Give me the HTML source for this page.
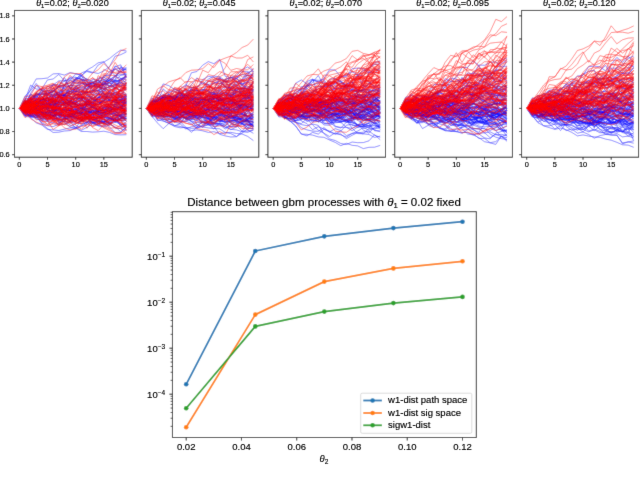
<!DOCTYPE html><html><head><meta charset="utf-8"><style>
html,body{margin:0;padding:0;background:#fff;width:640px;height:480px;overflow:hidden}
svg{display:block}
#tx{position:absolute;left:0;top:0;filter:url(#tf)}
#w{width:640px;height:480px;filter:url(#bf)}
text{font-family:"Liberation Sans", sans-serif;fill:#000;stroke:#000;stroke-width:0.15px}
</style></head><body><svg width="0" height="0" style="position:absolute"><filter id="bf" x="0" y="0" width="100%" height="100%"><feConvolveMatrix order="3" kernelMatrix="1 8 1 8 64 8 1 8 1" divisor="100" edgeMode="duplicate"/></filter><filter id="tf" x="0" y="0" width="100%" height="100%"><feConvolveMatrix order="3" kernelMatrix="0 1 0 1 12 1 0 1 0" divisor="16" edgeMode="duplicate"/></filter></svg><div id="w">
<svg width="640" height="480" viewBox="0 0 640 480">
<rect width="640" height="480" fill="#fff"/>

<g clip-path="url(#c0)">
<g fill="none" stroke="#0000ff" stroke-opacity="0.45" stroke-width="1.0" stroke-linejoin="round">
<polyline points="19.4,108.4 25.0,107.8 30.6,103.3 36.2,104.1 41.9,107.3 47.5,113.1 53.1,115.7 58.8,113.3 64.4,115.6 70.0,115.4 75.7,113.7 81.3,113.1 86.9,108.4 92.6,111.3 98.2,113.7 103.8,116.4 109.5,112.2 115.1,104.4 120.7,101.9 126.4,99.1"/>
<polyline points="19.4,108.4 25.0,112.8 30.6,115.1 36.2,117.2 41.9,118.6 47.5,114.6 53.1,113.8 58.8,112.9 64.4,107.3 70.0,109.9 75.7,106.4 81.3,108.4 86.9,106.7 92.6,107.7 98.2,108.2 103.8,104.6 109.5,104.1 115.1,100.5 120.7,99.2 126.4,108.8"/>
<polyline points="19.4,108.4 25.0,100.4 30.6,89.1 36.2,78.9 41.9,78.7 47.5,78.0 53.1,73.9 58.8,73.6 64.4,75.1 70.0,72.6 75.7,73.7 81.3,75.4 86.9,71.5 92.6,73.1 98.2,65.0 103.8,62.2 109.5,58.6 115.1,54.0 120.7,50.1 126.4,51.0"/>
<polyline points="19.4,108.4 25.0,108.5 30.6,110.3 36.2,105.7 41.9,106.4 47.5,106.0 53.1,105.8 58.8,100.5 64.4,95.9 70.0,95.8 75.7,87.5 81.3,80.9 86.9,79.0 92.6,81.4 98.2,85.1 103.8,75.8 109.5,75.3 115.1,66.9 120.7,64.8 126.4,77.5"/>
<polyline points="19.4,108.4 25.0,109.0 30.6,110.3 36.2,113.0 41.9,112.6 47.5,115.4 53.1,116.4 58.8,113.9 64.4,110.8 70.0,115.4 75.7,111.7 81.3,114.1 86.9,112.2 92.6,110.3 98.2,112.2 103.8,114.0 109.5,117.8 115.1,121.3 120.7,125.0 126.4,125.2"/>
<polyline points="19.4,108.4 25.0,110.1 30.6,109.0 36.2,106.1 41.9,101.2 47.5,100.5 53.1,101.8 58.8,101.8 64.4,104.6 70.0,101.6 75.7,97.4 81.3,94.4 86.9,90.2 92.6,86.8 98.2,82.5 103.8,81.9 109.5,86.1 115.1,80.2 120.7,75.4 126.4,73.7"/>
<polyline points="19.4,108.4 25.0,107.9 30.6,111.0 36.2,110.5 41.9,112.3 47.5,115.9 53.1,115.6 58.8,114.6 64.4,116.2 70.0,113.6 75.7,115.1 81.3,118.7 86.9,117.8 92.6,122.4 98.2,122.7 103.8,120.0 109.5,124.2 115.1,121.2 120.7,118.2 126.4,118.8"/>
<polyline points="19.4,108.4 25.0,108.3 30.6,108.2 36.2,107.8 41.9,109.4 47.5,104.8 53.1,107.0 58.8,113.6 64.4,119.1 70.0,113.3 75.7,115.9 81.3,116.0 86.9,110.7 92.6,112.4 98.2,112.1 103.8,112.8 109.5,109.0 115.1,102.7 120.7,103.3 126.4,99.2"/>
<polyline points="19.4,108.4 25.0,105.8 30.6,102.4 36.2,95.4 41.9,91.6 47.5,86.7 53.1,85.1 58.8,86.7 64.4,84.4 70.0,80.6 75.7,73.9 81.3,75.1 86.9,79.4 92.6,86.0 98.2,86.1 103.8,89.9 109.5,86.4 115.1,80.5 120.7,80.5 126.4,76.7"/>
<polyline points="19.4,108.4 25.0,107.5 30.6,114.5 36.2,108.6 41.9,116.1 47.5,114.6 53.1,119.9 58.8,116.2 64.4,109.0 70.0,103.5 75.7,101.4 81.3,105.6 86.9,104.3 92.6,99.1 98.2,103.1 103.8,100.6 109.5,100.2 115.1,102.1 120.7,95.2 126.4,100.1"/>
<polyline points="19.4,108.4 25.0,105.9 30.6,102.0 36.2,100.9 41.9,93.3 47.5,95.4 53.1,94.1 58.8,92.0 64.4,87.7 70.0,96.6 75.7,98.6 81.3,98.0 86.9,105.8 92.6,106.9 98.2,111.4 103.8,115.4 109.5,118.3 115.1,118.4 120.7,120.4 126.4,118.2"/>
<polyline points="19.4,108.4 25.0,102.6 30.6,103.8 36.2,99.4 41.9,101.4 47.5,106.0 53.1,98.4 58.8,96.5 64.4,94.6 70.0,96.6 75.7,100.6 81.3,97.4 86.9,100.4 92.6,107.9 98.2,110.1 103.8,110.0 109.5,109.0 115.1,106.8 120.7,107.7 126.4,101.0"/>
<polyline points="19.4,108.4 25.0,104.4 30.6,99.0 36.2,97.5 41.9,102.0 47.5,98.3 53.1,102.6 58.8,104.8 64.4,94.9 70.0,90.7 75.7,78.6 81.3,79.0 86.9,81.1 92.6,86.6 98.2,87.4 103.8,88.1 109.5,79.9 115.1,75.6 120.7,71.6 126.4,69.1"/>
<polyline points="19.4,108.4 25.0,112.2 30.6,115.4 36.2,112.3 41.9,115.6 47.5,118.2 53.1,116.2 58.8,115.5 64.4,114.7 70.0,113.9 75.7,116.7 81.3,120.5 86.9,118.1 92.6,114.6 98.2,116.5 103.8,123.0 109.5,124.1 115.1,126.7 120.7,131.7 126.4,127.1"/>
<polyline points="19.4,108.4 25.0,107.9 30.6,107.5 36.2,104.1 41.9,101.2 47.5,106.5 53.1,107.0 58.8,96.6 64.4,100.0 70.0,99.3 75.7,105.2 81.3,104.8 86.9,103.6 92.6,106.1 98.2,109.5 103.8,106.6 109.5,106.4 115.1,111.0 120.7,118.2 126.4,117.9"/>
<polyline points="19.4,108.4 25.0,108.1 30.6,105.2 36.2,98.8 41.9,97.2 47.5,101.7 53.1,98.8 58.8,96.8 64.4,102.3 70.0,98.0 75.7,106.9 81.3,103.4 86.9,101.8 92.6,97.4 98.2,97.9 103.8,90.6 109.5,85.6 115.1,86.2 120.7,78.7 126.4,76.1"/>
<polyline points="19.4,108.4 25.0,112.5 30.6,111.4 36.2,114.0 41.9,114.4 47.5,115.6 53.1,110.9 58.8,113.9 64.4,116.9 70.0,116.5 75.7,123.3 81.3,121.6 86.9,118.9 92.6,120.1 98.2,118.4 103.8,114.8 109.5,112.6 115.1,105.3 120.7,105.0 126.4,102.5"/>
<polyline points="19.4,108.4 25.0,116.6 30.6,116.9 36.2,117.5 41.9,113.7 47.5,110.5 53.1,111.8 58.8,120.8 64.4,121.8 70.0,121.6 75.7,127.9 81.3,120.3 86.9,114.0 92.6,111.0 98.2,112.6 103.8,109.1 109.5,110.3 115.1,108.7 120.7,107.1 126.4,102.6"/>
<polyline points="19.4,108.4 25.0,108.4 30.6,111.2 36.2,110.9 41.9,115.7 47.5,116.3 53.1,114.7 58.8,115.2 64.4,116.9 70.0,116.6 75.7,115.4 81.3,119.6 86.9,117.5 92.6,121.8 98.2,117.6 103.8,113.6 109.5,107.3 115.1,104.3 120.7,99.8 126.4,98.1"/>
<polyline points="19.4,108.4 25.0,106.9 30.6,104.3 36.2,102.2 41.9,103.4 47.5,101.0 53.1,91.0 58.8,94.9 64.4,94.6 70.0,104.2 75.7,103.6 81.3,98.8 86.9,92.7 92.6,92.6 98.2,90.5 103.8,80.7 109.5,82.6 115.1,81.5 120.7,79.1 126.4,76.8"/>
<polyline points="19.4,108.4 25.0,108.1 30.6,107.8 36.2,104.3 41.9,104.9 47.5,105.6 53.1,110.9 58.8,122.4 64.4,118.7 70.0,117.6 75.7,113.7 81.3,107.7 86.9,112.1 92.6,113.5 98.2,114.4 103.8,116.7 109.5,118.4 115.1,117.7 120.7,116.8 126.4,117.1"/>
<polyline points="19.4,108.4 25.0,111.9 30.6,116.4 36.2,114.2 41.9,113.0 47.5,114.6 53.1,115.0 58.8,123.1 64.4,121.1 70.0,116.9 75.7,112.2 81.3,111.9 86.9,118.0 92.6,118.9 98.2,121.1 103.8,114.5 109.5,114.8 115.1,111.4 120.7,115.2 126.4,114.4"/>
<polyline points="19.4,108.4 25.0,106.5 30.6,106.0 36.2,114.3 41.9,113.5 47.5,115.6 53.1,110.5 58.8,110.2 64.4,110.5 70.0,114.8 75.7,118.8 81.3,119.0 86.9,114.1 92.6,120.4 98.2,117.8 103.8,111.9 109.5,113.9 115.1,113.4 120.7,116.8 126.4,111.2"/>
<polyline points="19.4,108.4 25.0,108.2 30.6,109.5 36.2,104.0 41.9,112.7 47.5,108.4 53.1,113.2 58.8,107.2 64.4,104.1 70.0,111.1 75.7,112.8 81.3,115.6 86.9,113.8 92.6,112.5 98.2,114.2 103.8,111.9 109.5,106.3 115.1,99.4 120.7,105.8 126.4,114.6"/>
<polyline points="19.4,108.4 25.0,111.0 30.6,113.1 36.2,110.7 41.9,112.7 47.5,111.8 53.1,112.1 58.8,112.5 64.4,107.1 70.0,110.6 75.7,111.2 81.3,110.6 86.9,117.8 92.6,122.9 98.2,120.7 103.8,121.4 109.5,121.9 115.1,114.9 120.7,115.4 126.4,110.8"/>
<polyline points="19.4,108.4 25.0,107.8 30.6,113.0 36.2,115.7 41.9,118.9 47.5,119.4 53.1,116.2 58.8,115.2 64.4,117.4 70.0,115.1 75.7,117.6 81.3,114.3 86.9,114.8 92.6,113.9 98.2,120.8 103.8,119.4 109.5,123.1 115.1,128.1 120.7,128.5 126.4,130.6"/>
<polyline points="19.4,108.4 25.0,111.8 30.6,113.4 36.2,113.6 41.9,113.9 47.5,111.4 53.1,108.9 58.8,107.0 64.4,109.5 70.0,111.1 75.7,108.5 81.3,109.5 86.9,109.0 92.6,107.7 98.2,109.7 103.8,108.0 109.5,107.1 115.1,110.3 120.7,112.0 126.4,108.7"/>
<polyline points="19.4,108.4 25.0,109.5 30.6,110.4 36.2,107.3 41.9,114.6 47.5,108.2 53.1,107.0 58.8,106.4 64.4,103.8 70.0,103.2 75.7,104.5 81.3,104.6 86.9,109.2 92.6,113.6 98.2,108.8 103.8,104.7 109.5,104.7 115.1,106.5 120.7,107.9 126.4,110.1"/>
<polyline points="19.4,108.4 25.0,103.7 30.6,111.8 36.2,110.7 41.9,111.1 47.5,112.9 53.1,110.1 58.8,110.6 64.4,117.7 70.0,121.3 75.7,124.1 81.3,120.4 86.9,123.0 92.6,122.5 98.2,125.6 103.8,127.1 109.5,125.0 115.1,119.4 120.7,118.3 126.4,115.8"/>
<polyline points="19.4,108.4 25.0,108.2 30.6,105.2 36.2,110.2 41.9,106.1 47.5,106.9 53.1,107.8 58.8,114.3 64.4,117.4 70.0,122.1 75.7,121.4 81.3,117.4 86.9,117.5 92.6,114.5 98.2,116.4 103.8,119.8 109.5,118.0 115.1,120.4 120.7,125.0 126.4,129.7"/>
<polyline points="19.4,108.4 25.0,99.6 30.6,104.2 36.2,104.3 41.9,100.1 47.5,98.8 53.1,100.5 58.8,95.8 64.4,98.7 70.0,101.3 75.7,101.8 81.3,105.4 86.9,112.3 92.6,103.9 98.2,97.6 103.8,96.2 109.5,99.6 115.1,101.8 120.7,104.9 126.4,110.7"/>
<polyline points="19.4,108.4 25.0,96.0 30.6,90.8 36.2,83.5 41.9,90.7 47.5,93.8 53.1,84.9 58.8,80.9 64.4,80.8 70.0,79.8 75.7,82.8 81.3,82.6 86.9,84.9 92.6,87.6 98.2,79.1 103.8,78.1 109.5,71.2 115.1,69.3 120.7,71.9 126.4,74.4"/>
<polyline points="19.4,108.4 25.0,115.4 30.6,111.5 36.2,109.1 41.9,113.0 47.5,113.7 53.1,110.8 58.8,114.7 64.4,117.1 70.0,120.0 75.7,118.9 81.3,117.2 86.9,113.7 92.6,112.8 98.2,110.9 103.8,110.3 109.5,106.7 115.1,109.8 120.7,109.3 126.4,96.3"/>
<polyline points="19.4,108.4 25.0,108.9 30.6,111.1 36.2,111.3 41.9,111.5 47.5,118.0 53.1,113.0 58.8,119.0 64.4,108.6 70.0,110.8 75.7,102.1 81.3,99.1 86.9,104.2 92.6,107.6 98.2,111.7 103.8,105.9 109.5,103.6 115.1,99.4 120.7,100.9 126.4,99.1"/>
<polyline points="19.4,108.4 25.0,116.0 30.6,115.1 36.2,107.8 41.9,112.3 47.5,115.5 53.1,116.3 58.8,107.8 64.4,110.9 70.0,113.2 75.7,112.9 81.3,114.3 86.9,103.8 92.6,98.3 98.2,94.7 103.8,89.4 109.5,82.6 115.1,88.3 120.7,85.6 126.4,83.6"/>
<polyline points="19.4,108.4 25.0,106.4 30.6,109.4 36.2,108.6 41.9,107.3 47.5,109.3 53.1,117.2 58.8,111.5 64.4,116.0 70.0,114.8 75.7,110.1 81.3,110.4 86.9,109.5 92.6,107.1 98.2,112.9 103.8,112.5 109.5,114.2 115.1,109.6 120.7,108.4 126.4,108.8"/>
<polyline points="19.4,108.4 25.0,109.0 30.6,108.4 36.2,105.9 41.9,98.8 47.5,97.4 53.1,94.7 58.8,95.5 64.4,94.7 70.0,91.2 75.7,94.7 81.3,94.5 86.9,92.1 92.6,94.5 98.2,101.0 103.8,96.0 109.5,90.8 115.1,87.3 120.7,90.0 126.4,84.8"/>
<polyline points="19.4,108.4 25.0,103.4 30.6,108.2 36.2,112.3 41.9,120.6 47.5,121.2 53.1,119.4 58.8,118.0 64.4,122.2 70.0,127.0 75.7,128.6 81.3,125.9 86.9,124.2 92.6,122.9 98.2,124.9 103.8,122.8 109.5,119.1 115.1,118.5 120.7,126.1 126.4,127.2"/>
<polyline points="19.4,108.4 25.0,104.2 30.6,98.1 36.2,102.9 41.9,101.3 47.5,100.1 53.1,102.1 58.8,95.2 64.4,95.7 70.0,97.0 75.7,95.2 81.3,94.1 86.9,102.8 92.6,103.8 98.2,104.2 103.8,102.1 109.5,104.5 115.1,99.9 120.7,96.9 126.4,103.5"/>
<polyline points="19.4,108.4 25.0,103.8 30.6,101.9 36.2,93.9 41.9,94.8 47.5,93.2 53.1,92.5 58.8,85.8 64.4,85.1 70.0,82.8 75.7,80.2 81.3,76.5 86.9,79.2 92.6,83.1 98.2,87.0 103.8,88.5 109.5,87.0 115.1,84.2 120.7,83.6 126.4,83.3"/>
<polyline points="19.4,108.4 25.0,108.3 30.6,109.4 36.2,108.8 41.9,104.5 47.5,109.4 53.1,112.6 58.8,108.1 64.4,113.3 70.0,115.4 75.7,116.9 81.3,123.8 86.9,123.2 92.6,116.0 98.2,110.2 103.8,110.1 109.5,112.2 115.1,118.5 120.7,114.9 126.4,108.8"/>
<polyline points="19.4,108.4 25.0,108.2 30.6,110.3 36.2,109.8 41.9,107.9 47.5,107.3 53.1,110.0 58.8,112.8 64.4,116.7 70.0,114.2 75.7,112.3 81.3,111.5 86.9,104.8 92.6,103.5 98.2,110.8 103.8,110.5 109.5,107.8 115.1,113.7 120.7,116.4 126.4,121.4"/>
<polyline points="19.4,108.4 25.0,109.7 30.6,108.8 36.2,105.8 41.9,109.7 47.5,101.6 53.1,97.7 58.8,94.3 64.4,103.0 70.0,101.3 75.7,104.1 81.3,104.3 86.9,106.5 92.6,101.8 98.2,93.2 103.8,95.4 109.5,100.0 115.1,102.3 120.7,99.2 126.4,95.2"/>
<polyline points="19.4,108.4 25.0,109.9 30.6,112.0 36.2,109.1 41.9,105.7 47.5,104.2 53.1,109.0 58.8,110.8 64.4,112.9 70.0,109.8 75.7,112.1 81.3,113.2 86.9,111.1 92.6,110.2 98.2,112.0 103.8,108.2 109.5,104.7 115.1,104.6 120.7,104.8 126.4,107.2"/>
<polyline points="19.4,108.4 25.0,100.1 30.6,100.9 36.2,93.7 41.9,96.6 47.5,100.8 53.1,110.1 58.8,112.8 64.4,114.2 70.0,112.2 75.7,111.5 81.3,108.4 86.9,104.0 92.6,106.8 98.2,110.1 103.8,110.5 109.5,104.6 115.1,104.7 120.7,100.4 126.4,96.4"/>
<polyline points="19.4,108.4 25.0,112.0 30.6,115.8 36.2,118.8 41.9,120.3 47.5,116.4 53.1,111.5 58.8,116.4 64.4,115.6 70.0,116.8 75.7,119.2 81.3,118.2 86.9,121.2 92.6,121.8 98.2,122.9 103.8,121.7 109.5,119.6 115.1,119.3 120.7,124.1 126.4,124.5"/>
<polyline points="19.4,108.4 25.0,111.4 30.6,111.8 36.2,115.2 41.9,116.8 47.5,110.0 53.1,103.0 58.8,104.1 64.4,105.5 70.0,110.8 75.7,109.8 81.3,116.5 86.9,115.1 92.6,115.2 98.2,121.4 103.8,123.7 109.5,122.2 115.1,118.5 120.7,124.1 126.4,125.6"/>
<polyline points="19.4,108.4 25.0,109.2 30.6,113.5 36.2,114.1 41.9,112.5 47.5,119.3 53.1,110.3 58.8,108.3 64.4,102.9 70.0,105.2 75.7,109.4 81.3,107.6 86.9,114.6 92.6,115.0 98.2,113.1 103.8,118.2 109.5,115.1 115.1,121.0 120.7,118.1 126.4,113.3"/>
<polyline points="19.4,108.4 25.0,102.0 30.6,106.1 36.2,104.7 41.9,109.8 47.5,106.5 53.1,107.9 58.8,105.2 64.4,101.1 70.0,106.3 75.7,108.0 81.3,100.7 86.9,95.0 92.6,100.1 98.2,98.8 103.8,100.4 109.5,97.4 115.1,96.9 120.7,92.7 126.4,95.7"/>
<polyline points="19.4,108.4 25.0,106.4 30.6,105.5 36.2,108.4 41.9,107.8 47.5,108.0 53.1,112.5 58.8,113.4 64.4,109.1 70.0,109.3 75.7,109.8 81.3,108.5 86.9,110.9 92.6,116.4 98.2,111.0 103.8,112.6 109.5,113.6 115.1,115.9 120.7,114.4 126.4,111.4"/>
<polyline points="19.4,108.4 25.0,106.8 30.6,108.2 36.2,105.2 41.9,105.6 47.5,103.4 53.1,96.5 58.8,97.6 64.4,94.2 70.0,89.4 75.7,81.7 81.3,76.0 86.9,70.1 92.6,66.9 98.2,62.8 103.8,61.7 109.5,69.4 115.1,75.8 120.7,74.6 126.4,75.2"/>
<polyline points="19.4,108.4 25.0,104.7 30.6,99.5 36.2,96.8 41.9,92.2 47.5,94.3 53.1,91.0 58.8,85.8 64.4,77.5 70.0,88.7 75.7,91.2 81.3,93.8 86.9,91.3 92.6,93.1 98.2,93.3 103.8,89.3 109.5,94.7 115.1,92.8 120.7,89.7 126.4,87.0"/>
<polyline points="19.4,108.4 25.0,107.0 30.6,93.3 36.2,85.5 41.9,91.0 47.5,91.8 53.1,95.8 58.8,92.0 64.4,96.9 70.0,86.0 75.7,77.6 81.3,79.3 86.9,90.1 92.6,82.6 98.2,80.4 103.8,85.9 109.5,81.8 115.1,79.6 120.7,66.6 126.4,70.2"/>
<polyline points="19.4,108.4 25.0,107.6 30.6,106.7 36.2,103.3 41.9,101.2 47.5,106.8 53.1,106.2 58.8,102.4 64.4,102.0 70.0,105.4 75.7,102.4 81.3,100.7 86.9,96.4 92.6,96.8 98.2,102.2 103.8,107.6 109.5,108.6 115.1,106.5 120.7,102.9 126.4,100.8"/>
<polyline points="19.4,108.4 25.0,108.1 30.6,109.6 36.2,112.6 41.9,112.1 47.5,107.2 53.1,108.9 58.8,101.1 64.4,94.6 70.0,93.6 75.7,91.3 81.3,92.3 86.9,87.8 92.6,85.2 98.2,86.1 103.8,83.7 109.5,77.2 115.1,65.9 120.7,69.2 126.4,69.8"/>
<polyline points="19.4,108.4 25.0,107.1 30.6,102.5 36.2,108.1 41.9,114.7 47.5,114.9 53.1,119.5 58.8,117.8 64.4,115.5 70.0,117.1 75.7,113.8 81.3,113.1 86.9,116.8 92.6,118.0 98.2,117.0 103.8,117.6 109.5,117.2 115.1,122.1 120.7,119.3 126.4,116.6"/>
<polyline points="19.4,108.4 25.0,113.5 30.6,117.4 36.2,122.8 41.9,125.1 47.5,129.5 53.1,129.9 58.8,130.5 64.4,129.2 70.0,127.9 75.7,128.0 81.3,131.5 86.9,131.5 92.6,132.1 98.2,131.8 103.8,131.2 109.5,132.4 115.1,134.6 120.7,134.9 126.4,134.7"/>
<polyline points="19.4,108.4 25.0,108.8 30.6,114.1 36.2,110.1 41.9,109.7 47.5,114.3 53.1,110.2 58.8,111.1 64.4,110.3 70.0,108.3 75.7,112.0 81.3,113.7 86.9,115.5 92.6,117.7 98.2,116.9 103.8,112.3 109.5,108.9 115.1,115.5 120.7,114.9 126.4,114.5"/>
<polyline points="19.4,108.4 25.0,108.9 30.6,112.3 36.2,110.7 41.9,106.5 47.5,110.6 53.1,110.8 58.8,114.4 64.4,118.2 70.0,118.6 75.7,117.2 81.3,110.7 86.9,104.1 92.6,104.0 98.2,107.0 103.8,108.7 109.5,107.8 115.1,110.0 120.7,106.6 126.4,101.2"/>
<polyline points="19.4,108.4 25.0,109.4 30.6,108.0 36.2,108.0 41.9,106.3 47.5,104.4 53.1,103.0 58.8,106.2 64.4,103.8 70.0,104.2 75.7,102.9 81.3,100.4 86.9,101.8 92.6,104.9 98.2,111.5 103.8,109.4 109.5,110.4 115.1,112.5 120.7,112.6 126.4,111.0"/>
<polyline points="19.4,108.4 25.0,103.6 30.6,101.9 36.2,103.7 41.9,101.6 47.5,102.4 53.1,109.1 58.8,116.1 64.4,120.5 70.0,125.0 75.7,127.2 81.3,130.4 86.9,127.3 92.6,123.8 98.2,125.8 103.8,125.8 109.5,123.2 115.1,118.9 120.7,119.4 126.4,113.5"/>
<polyline points="19.4,108.4 25.0,115.5 30.6,114.7 36.2,115.5 41.9,117.3 47.5,115.4 53.1,115.4 58.8,119.1 64.4,120.2 70.0,115.5 75.7,117.8 81.3,120.3 86.9,119.3 92.6,122.9 98.2,120.8 103.8,122.2 109.5,127.0 115.1,132.5 120.7,132.3 126.4,127.2"/>
<polyline points="19.4,108.4 25.0,107.3 30.6,105.8 36.2,100.5 41.9,102.6 47.5,105.5 53.1,105.7 58.8,106.2 64.4,110.6 70.0,108.3 75.7,100.1 81.3,99.4 86.9,102.7 92.6,94.8 98.2,94.6 103.8,93.5 109.5,96.3 115.1,95.3 120.7,90.8 126.4,89.2"/>
<polyline points="19.4,108.4 25.0,114.4 30.6,117.1 36.2,116.2 41.9,115.8 47.5,121.8 53.1,122.9 58.8,124.1 64.4,117.8 70.0,115.4 75.7,112.8 81.3,113.3 86.9,104.9 92.6,105.4 98.2,110.7 103.8,107.3 109.5,105.4 115.1,109.9 120.7,109.7 126.4,97.8"/>
<polyline points="19.4,108.4 25.0,114.5 30.6,115.1 36.2,112.9 41.9,115.5 47.5,120.7 53.1,117.3 58.8,114.1 64.4,111.3 70.0,113.3 75.7,114.0 81.3,111.2 86.9,98.8 92.6,102.5 98.2,104.7 103.8,99.1 109.5,91.5 115.1,87.5 120.7,80.1 126.4,74.8"/>
<polyline points="19.4,108.4 25.0,107.9 30.6,102.5 36.2,105.5 41.9,101.8 47.5,103.8 53.1,101.7 58.8,101.0 64.4,96.6 70.0,94.9 75.7,88.2 81.3,86.6 86.9,89.6 92.6,79.3 98.2,80.7 103.8,80.0 109.5,82.3 115.1,76.7 120.7,78.3 126.4,79.8"/>
<polyline points="19.4,108.4 25.0,104.7 30.6,97.3 36.2,94.8 41.9,102.3 47.5,109.3 53.1,114.2 58.8,114.8 64.4,116.2 70.0,114.4 75.7,116.5 81.3,114.4 86.9,113.0 92.6,107.1 98.2,96.8 103.8,97.2 109.5,98.4 115.1,99.6 120.7,100.5 126.4,99.6"/>
<polyline points="19.4,108.4 25.0,105.1 30.6,109.3 36.2,108.9 41.9,115.7 47.5,111.8 53.1,112.0 58.8,115.6 64.4,119.7 70.0,116.6 75.7,117.5 81.3,119.7 86.9,116.7 92.6,119.7 98.2,121.6 103.8,121.7 109.5,123.0 115.1,122.5 120.7,120.4 126.4,123.4"/>
<polyline points="19.4,108.4 25.0,106.4 30.6,111.3 36.2,115.5 41.9,123.8 47.5,128.5 53.1,132.5 58.8,132.2 64.4,131.0 70.0,130.6 75.7,127.8 81.3,125.5 86.9,121.9 92.6,123.5 98.2,123.7 103.8,122.2 109.5,118.9 115.1,114.5 120.7,116.7 126.4,118.5"/>
<polyline points="19.4,108.4 25.0,107.0 30.6,108.3 36.2,107.8 41.9,105.6 47.5,94.0 53.1,91.6 58.8,87.6 64.4,85.7 70.0,77.2 75.7,77.2 81.3,79.2 86.9,84.5 92.6,91.3 98.2,90.2 103.8,93.7 109.5,100.7 115.1,107.1 120.7,106.1 126.4,105.2"/>
<polyline points="19.4,108.4 25.0,105.3 30.6,101.6 36.2,101.3 41.9,104.0 47.5,104.7 53.1,109.6 58.8,109.1 64.4,102.5 70.0,104.4 75.7,108.9 81.3,107.0 86.9,110.8 92.6,112.5 98.2,112.8 103.8,112.5 109.5,111.0 115.1,108.0 120.7,107.1 126.4,109.9"/>
<polyline points="19.4,108.4 25.0,109.0 30.6,111.0 36.2,102.3 41.9,100.3 47.5,99.0 53.1,102.2 58.8,102.9 64.4,103.7 70.0,105.5 75.7,97.4 81.3,98.3 86.9,103.5 92.6,102.5 98.2,110.7 103.8,110.7 109.5,111.5 115.1,111.6 120.7,110.6 126.4,113.8"/>
<polyline points="19.4,108.4 25.0,108.8 30.6,105.2 36.2,112.2 41.9,113.5 47.5,112.4 53.1,109.9 58.8,107.8 64.4,110.4 70.0,110.6 75.7,110.2 81.3,106.0 86.9,103.5 92.6,102.9 98.2,98.1 103.8,94.7 109.5,93.1 115.1,98.9 120.7,108.0 126.4,109.8"/>
<polyline points="19.4,108.4 25.0,110.0 30.6,107.4 36.2,106.6 41.9,102.9 47.5,107.7 53.1,99.7 58.8,103.4 64.4,97.8 70.0,92.3 75.7,86.6 81.3,83.9 86.9,83.6 92.6,82.4 98.2,80.8 103.8,85.2 109.5,76.3 115.1,69.2 120.7,68.1 126.4,67.9"/>
<polyline points="19.4,108.4 25.0,109.0 30.6,108.6 36.2,114.7 41.9,108.8 47.5,105.6 53.1,106.6 58.8,96.5 64.4,88.9 70.0,92.0 75.7,88.7 81.3,87.9 86.9,84.9 92.6,82.9 98.2,78.1 103.8,77.1 109.5,80.3 115.1,76.1 120.7,71.7 126.4,68.1"/>
<polyline points="19.4,108.4 25.0,106.6 30.6,109.2 36.2,106.6 41.9,106.6 47.5,109.8 53.1,101.6 58.8,97.9 64.4,94.6 70.0,102.2 75.7,103.7 81.3,107.2 86.9,108.8 92.6,106.5 98.2,102.8 103.8,101.3 109.5,91.3 115.1,95.8 120.7,100.4 126.4,103.6"/>
<polyline points="19.4,108.4 25.0,112.5 30.6,109.9 36.2,104.6 41.9,109.1 47.5,103.7 53.1,95.1 58.8,92.7 64.4,91.2 70.0,93.8 75.7,91.7 81.3,83.0 86.9,86.1 92.6,82.3 98.2,91.1 103.8,84.1 109.5,83.2 115.1,84.2 120.7,86.7 126.4,88.6"/>
<polyline points="19.4,108.4 25.0,103.1 30.6,93.9 36.2,98.1 41.9,99.4 47.5,101.4 53.1,100.2 58.8,106.0 64.4,105.4 70.0,105.1 75.7,112.3 81.3,112.6 86.9,113.8 92.6,110.8 98.2,114.7 103.8,111.8 109.5,110.6 115.1,108.6 120.7,109.0 126.4,104.7"/>
<polyline points="19.4,108.4 25.0,107.2 30.6,115.2 36.2,115.7 41.9,114.6 47.5,113.4 53.1,108.2 58.8,109.8 64.4,102.6 70.0,102.0 75.7,104.7 81.3,108.1 86.9,111.3 92.6,111.9 98.2,109.5 103.8,113.0 109.5,113.7 115.1,115.5 120.7,111.5 126.4,113.9"/>
<polyline points="19.4,108.4 25.0,105.3 30.6,103.9 36.2,103.3 41.9,104.8 47.5,104.1 53.1,104.3 58.8,106.6 64.4,111.4 70.0,110.6 75.7,105.2 81.3,105.7 86.9,108.6 92.6,110.0 98.2,110.9 103.8,113.6 109.5,110.0 115.1,110.1 120.7,106.7 126.4,106.9"/>
<polyline points="19.4,108.4 25.0,103.3 30.6,94.8 36.2,96.4 41.9,99.9 47.5,97.4 53.1,96.3 58.8,94.1 64.4,104.4 70.0,101.0 75.7,94.5 81.3,94.8 86.9,92.6 92.6,90.8 98.2,86.9 103.8,85.2 109.5,79.1 115.1,80.8 120.7,82.8 126.4,80.8"/>
<polyline points="19.4,108.4 25.0,105.5 30.6,104.4 36.2,102.2 41.9,100.0 47.5,98.0 53.1,95.8 58.8,93.8 64.4,95.7 70.0,99.2 75.7,91.7 81.3,88.6 86.9,94.7 92.6,98.8 98.2,100.3 103.8,102.1 109.5,101.1 115.1,100.2 120.7,101.9 126.4,103.3"/>
<polyline points="19.4,108.4 25.0,104.8 30.6,109.8 36.2,101.8 41.9,103.6 47.5,103.0 53.1,104.0 58.8,98.7 64.4,103.7 70.0,101.5 75.7,93.9 81.3,96.2 86.9,98.1 92.6,102.0 98.2,97.3 103.8,98.5 109.5,100.8 115.1,89.6 120.7,100.1 126.4,96.9"/>
<polyline points="19.4,108.4 25.0,106.0 30.6,103.0 36.2,99.7 41.9,99.5 47.5,98.0 53.1,99.6 58.8,109.8 64.4,109.7 70.0,111.6 75.7,109.3 81.3,112.5 86.9,112.9 92.6,119.6 98.2,118.3 103.8,115.7 109.5,110.9 115.1,111.6 120.7,114.4 126.4,119.8"/>
<polyline points="19.4,108.4 25.0,105.2 30.6,108.5 36.2,100.6 41.9,105.7 47.5,108.3 53.1,107.6 58.8,101.6 64.4,99.4 70.0,100.9 75.7,98.9 81.3,97.8 86.9,101.0 92.6,103.1 98.2,98.3 103.8,91.2 109.5,88.5 115.1,85.2 120.7,82.2 126.4,85.8"/>
<polyline points="19.4,108.4 25.0,103.4 30.6,102.2 36.2,104.6 41.9,101.5 47.5,100.7 53.1,98.0 58.8,102.5 64.4,106.3 70.0,106.4 75.7,111.2 81.3,108.1 86.9,112.4 92.6,113.0 98.2,114.4 103.8,116.3 109.5,112.3 115.1,107.3 120.7,110.2 126.4,101.4"/>
<polyline points="19.4,108.4 25.0,108.2 30.6,107.8 36.2,106.8 41.9,105.4 47.5,106.0 53.1,104.5 58.8,108.0 64.4,101.0 70.0,101.0 75.7,97.6 81.3,98.3 86.9,98.7 92.6,106.0 98.2,104.7 103.8,100.4 109.5,93.8 115.1,94.6 120.7,95.7 126.4,94.1"/>
<polyline points="19.4,108.4 25.0,102.9 30.6,98.0 36.2,95.2 41.9,93.7 47.5,94.4 53.1,90.6 58.8,87.1 64.4,88.0 70.0,85.3 75.7,86.2 81.3,78.9 86.9,81.7 92.6,90.1 98.2,91.5 103.8,86.6 109.5,92.2 115.1,93.9 120.7,96.4 126.4,97.0"/>
<polyline points="19.4,108.4 25.0,101.2 30.6,101.8 36.2,92.6 41.9,94.8 47.5,95.8 53.1,88.1 58.8,95.5 64.4,100.8 70.0,103.1 75.7,103.5 81.3,109.5 86.9,101.4 92.6,102.2 98.2,104.7 103.8,101.1 109.5,96.4 115.1,99.8 120.7,97.3 126.4,101.2"/>
<polyline points="19.4,108.4 25.0,104.9 30.6,102.7 36.2,100.5 41.9,96.0 47.5,104.3 53.1,106.4 58.8,108.7 64.4,115.3 70.0,116.3 75.7,118.4 81.3,121.3 86.9,122.6 92.6,117.0 98.2,118.2 103.8,119.5 109.5,117.3 115.1,120.9 120.7,114.9 126.4,121.4"/>
<polyline points="19.4,108.4 25.0,106.2 30.6,111.8 36.2,112.3 41.9,114.4 47.5,113.7 53.1,108.9 58.8,107.5 64.4,108.8 70.0,102.0 75.7,102.2 81.3,95.2 86.9,100.2 92.6,98.3 98.2,94.0 103.8,83.7 109.5,85.5 115.1,87.5 120.7,90.6 126.4,94.4"/>
<polyline points="19.4,108.4 25.0,106.4 30.6,99.4 36.2,100.2 41.9,102.0 47.5,89.8 53.1,84.3 58.8,84.9 64.4,81.1 70.0,78.1 75.7,80.0 81.3,73.0 86.9,70.7 92.6,72.3 98.2,73.5 103.8,70.9 109.5,66.6 115.1,56.2 120.7,54.7 126.4,51.9"/>
<polyline points="19.4,108.4 25.0,111.2 30.6,108.9 36.2,110.9 41.9,104.9 47.5,103.3 53.1,102.1 58.8,100.7 64.4,85.1 70.0,92.0 75.7,91.4 81.3,91.9 86.9,84.3 92.6,84.0 98.2,82.2 103.8,79.2 109.5,80.8 115.1,82.2 120.7,85.9 126.4,85.1"/>
<polyline points="19.4,108.4 25.0,113.1 30.6,116.0 36.2,117.6 41.9,122.9 47.5,125.7 53.1,126.6 58.8,124.3 64.4,124.2 70.0,121.9 75.7,113.0 81.3,114.1 86.9,116.6 92.6,116.0 98.2,120.6 103.8,122.8 109.5,118.0 115.1,121.9 120.7,118.0 126.4,118.6"/>
<polyline points="19.4,108.4 25.0,108.3 30.6,106.6 36.2,102.4 41.9,108.5 47.5,105.6 53.1,104.8 58.8,103.6 64.4,100.1 70.0,106.0 75.7,107.0 81.3,103.4 86.9,103.0 92.6,102.3 98.2,107.0 103.8,96.7 109.5,96.3 115.1,92.0 120.7,95.1 126.4,88.8"/>
<polyline points="19.4,108.4 25.0,99.6 30.6,85.1 36.2,89.0 41.9,89.6 47.5,90.5 53.1,90.7 58.8,94.4 64.4,85.7 70.0,86.5 75.7,78.6 81.3,75.4 86.9,85.2 92.6,82.5 98.2,85.4 103.8,83.9 109.5,79.7 115.1,83.2 120.7,78.5 126.4,83.2"/>
<polyline points="19.4,108.4 25.0,107.4 30.6,105.8 36.2,103.6 41.9,102.1 47.5,104.5 53.1,104.8 58.8,96.8 64.4,97.6 70.0,102.8 75.7,95.3 81.3,91.8 86.9,92.4 92.6,90.6 98.2,88.0 103.8,82.0 109.5,77.9 115.1,80.9 120.7,81.2 126.4,77.2"/>
<polyline points="19.4,108.4 25.0,103.3 30.6,97.1 36.2,99.1 41.9,88.7 47.5,79.9 53.1,79.0 58.8,74.4 64.4,80.8 70.0,87.1 75.7,89.9 81.3,89.9 86.9,92.1 92.6,99.9 98.2,101.8 103.8,103.9 109.5,99.5 115.1,102.4 120.7,102.7 126.4,103.0"/>
<polyline points="19.4,108.4 25.0,108.5 30.6,106.7 36.2,112.6 41.9,118.9 47.5,117.8 53.1,118.5 58.8,120.6 64.4,118.4 70.0,120.6 75.7,121.4 81.3,117.1 86.9,116.3 92.6,119.7 98.2,115.7 103.8,118.2 109.5,112.7 115.1,113.7 120.7,120.9 126.4,120.3"/>
<polyline points="19.4,108.4 25.0,108.2 30.6,107.9 36.2,109.6 41.9,108.9 47.5,106.7 53.1,101.2 58.8,89.6 64.4,93.9 70.0,91.8 75.7,87.1 81.3,92.3 86.9,86.1 92.6,87.2 98.2,83.2 103.8,94.0 109.5,97.9 115.1,97.4 120.7,97.7 126.4,95.8"/>
</g>
<g fill="none" stroke="#ff0000" stroke-opacity="0.45" stroke-width="1.0" stroke-linejoin="round">
<polyline points="19.4,108.4 25.0,105.3 30.6,111.0 36.2,114.4 41.9,110.1 47.5,111.5 53.1,106.1 58.8,108.1 64.4,115.3 70.0,114.9 75.7,111.3 81.3,111.9 86.9,106.3 92.6,109.6 98.2,109.9 103.8,113.3 109.5,113.6 115.1,109.2 120.7,101.4 126.4,99.0"/>
<polyline points="19.4,108.4 25.0,109.4 30.6,110.1 36.2,102.3 41.9,101.4 47.5,97.2 53.1,97.5 58.8,105.9 64.4,113.1 70.0,107.7 75.7,114.4 81.3,116.4 86.9,117.1 92.6,113.6 98.2,115.7 103.8,114.2 109.5,110.3 115.1,109.0 120.7,112.4 126.4,113.6"/>
<polyline points="19.4,108.4 25.0,109.8 30.6,107.0 36.2,110.4 41.9,104.8 47.5,106.0 53.1,99.5 58.8,96.0 64.4,100.7 70.0,97.6 75.7,100.5 81.3,92.2 86.9,91.6 92.6,91.7 98.2,90.5 103.8,84.9 109.5,82.4 115.1,76.4 120.7,70.5 126.4,64.7"/>
<polyline points="19.4,108.4 25.0,113.7 30.6,113.6 36.2,117.8 41.9,117.3 47.5,118.1 53.1,121.3 58.8,125.2 64.4,121.9 70.0,122.4 75.7,120.8 81.3,117.5 86.9,116.3 92.6,113.8 98.2,112.7 103.8,113.1 109.5,110.9 115.1,108.3 120.7,109.4 126.4,110.6"/>
<polyline points="19.4,108.4 25.0,111.7 30.6,102.9 36.2,103.2 41.9,105.9 47.5,104.5 53.1,109.7 58.8,113.7 64.4,110.6 70.0,108.5 75.7,112.5 81.3,117.2 86.9,116.9 92.6,117.7 98.2,118.1 103.8,114.5 109.5,111.7 115.1,115.5 120.7,110.5 126.4,110.9"/>
<polyline points="19.4,108.4 25.0,110.4 30.6,113.7 36.2,112.5 41.9,117.3 47.5,120.2 53.1,118.0 58.8,120.0 64.4,114.6 70.0,104.8 75.7,96.9 81.3,97.0 86.9,90.3 92.6,84.2 98.2,85.3 103.8,80.9 109.5,86.9 115.1,83.3 120.7,95.1 126.4,95.2"/>
<polyline points="19.4,108.4 25.0,108.2 30.6,113.2 36.2,109.0 41.9,105.5 47.5,110.7 53.1,105.0 58.8,104.3 64.4,107.3 70.0,111.9 75.7,111.1 81.3,108.7 86.9,114.4 92.6,114.2 98.2,115.3 103.8,119.4 109.5,119.0 115.1,122.0 120.7,117.5 126.4,118.9"/>
<polyline points="19.4,108.4 25.0,102.0 30.6,109.7 36.2,101.7 41.9,99.7 47.5,96.4 53.1,104.3 58.8,99.2 64.4,104.4 70.0,105.6 75.7,107.6 81.3,106.6 86.9,112.0 92.6,106.6 98.2,104.8 103.8,103.0 109.5,101.3 115.1,99.0 120.7,103.8 126.4,101.1"/>
<polyline points="19.4,108.4 25.0,101.1 30.6,98.5 36.2,98.3 41.9,98.7 47.5,89.9 53.1,93.0 58.8,95.7 64.4,93.1 70.0,88.0 75.7,90.7 81.3,85.2 86.9,83.8 92.6,86.0 98.2,87.0 103.8,88.7 109.5,87.4 115.1,84.8 120.7,87.9 126.4,82.6"/>
<polyline points="19.4,108.4 25.0,101.4 30.6,105.1 36.2,104.5 41.9,101.7 47.5,102.1 53.1,98.9 58.8,99.4 64.4,98.3 70.0,96.7 75.7,96.4 81.3,90.5 86.9,98.6 92.6,99.2 98.2,94.1 103.8,95.3 109.5,102.6 115.1,105.8 120.7,111.2 126.4,108.7"/>
<polyline points="19.4,108.4 25.0,102.2 30.6,101.4 36.2,101.8 41.9,108.8 47.5,114.6 53.1,113.5 58.8,115.4 64.4,116.9 70.0,112.4 75.7,113.1 81.3,118.4 86.9,118.2 92.6,113.0 98.2,111.5 103.8,107.2 109.5,106.1 115.1,105.2 120.7,101.4 126.4,97.9"/>
<polyline points="19.4,108.4 25.0,108.5 30.6,107.3 36.2,109.4 41.9,109.0 47.5,105.9 53.1,97.9 58.8,92.2 64.4,85.6 70.0,85.9 75.7,86.2 81.3,85.3 86.9,88.8 92.6,91.9 98.2,75.6 103.8,79.9 109.5,75.4 115.1,75.6 120.7,80.9 126.4,75.4"/>
<polyline points="19.4,108.4 25.0,107.7 30.6,99.7 36.2,98.5 41.9,98.1 47.5,98.4 53.1,100.8 58.8,107.5 64.4,109.0 70.0,104.8 75.7,102.6 81.3,106.7 86.9,116.0 92.6,114.2 98.2,112.4 103.8,113.1 109.5,114.5 115.1,120.5 120.7,120.1 126.4,119.8"/>
<polyline points="19.4,108.4 25.0,104.1 30.6,96.8 36.2,100.8 41.9,102.8 47.5,105.9 53.1,108.8 58.8,105.0 64.4,114.2 70.0,118.2 75.7,114.6 81.3,116.5 86.9,110.0 92.6,108.9 98.2,104.8 103.8,112.1 109.5,107.1 115.1,103.2 120.7,107.1 126.4,111.2"/>
<polyline points="19.4,108.4 25.0,105.9 30.6,105.6 36.2,101.6 41.9,106.8 47.5,105.7 53.1,107.6 58.8,108.4 64.4,107.8 70.0,107.0 75.7,111.6 81.3,116.3 86.9,113.4 92.6,121.1 98.2,121.0 103.8,119.3 109.5,120.1 115.1,117.7 120.7,118.6 126.4,114.5"/>
<polyline points="19.4,108.4 25.0,114.5 30.6,113.5 36.2,105.5 41.9,103.2 47.5,104.0 53.1,107.9 58.8,107.9 64.4,111.6 70.0,107.7 75.7,115.3 81.3,111.9 86.9,118.1 92.6,119.8 98.2,116.4 103.8,120.0 109.5,122.3 115.1,127.9 120.7,128.4 126.4,125.4"/>
<polyline points="19.4,108.4 25.0,109.4 30.6,106.4 36.2,109.7 41.9,110.3 47.5,111.8 53.1,110.3 58.8,107.6 64.4,113.8 70.0,113.2 75.7,111.0 81.3,110.3 86.9,111.9 92.6,116.7 98.2,117.9 103.8,110.1 109.5,112.1 115.1,112.3 120.7,121.2 126.4,119.0"/>
<polyline points="19.4,108.4 25.0,106.8 30.6,110.6 36.2,112.5 41.9,107.0 47.5,113.6 53.1,111.1 58.8,112.2 64.4,112.6 70.0,112.0 75.7,114.1 81.3,111.8 86.9,107.3 92.6,112.1 98.2,117.9 103.8,119.5 109.5,124.2 115.1,127.7 120.7,128.7 126.4,133.4"/>
<polyline points="19.4,108.4 25.0,107.8 30.6,103.9 36.2,101.8 41.9,103.1 47.5,105.7 53.1,108.3 58.8,107.2 64.4,110.9 70.0,113.6 75.7,111.2 81.3,121.4 86.9,119.9 92.6,116.4 98.2,119.8 103.8,116.4 109.5,107.7 115.1,103.2 120.7,104.3 126.4,104.8"/>
<polyline points="19.4,108.4 25.0,108.6 30.6,109.9 36.2,111.9 41.9,114.6 47.5,120.0 53.1,117.2 58.8,125.7 64.4,119.8 70.0,123.4 75.7,124.9 81.3,129.2 86.9,124.5 92.6,125.9 98.2,123.4 103.8,124.0 109.5,125.9 115.1,119.5 120.7,111.8 126.4,110.4"/>
<polyline points="19.4,108.4 25.0,107.8 30.6,110.9 36.2,115.5 41.9,121.9 47.5,121.1 53.1,121.8 58.8,123.6 64.4,118.6 70.0,120.9 75.7,120.6 81.3,122.0 86.9,113.7 92.6,108.1 98.2,109.2 103.8,104.7 109.5,105.6 115.1,101.2 120.7,105.4 126.4,100.8"/>
<polyline points="19.4,108.4 25.0,111.7 30.6,112.5 36.2,104.0 41.9,106.8 47.5,106.2 53.1,108.3 58.8,107.3 64.4,104.1 70.0,100.7 75.7,92.9 81.3,91.3 86.9,100.9 92.6,102.8 98.2,105.0 103.8,108.4 109.5,104.9 115.1,98.4 120.7,94.5 126.4,87.3"/>
<polyline points="19.4,108.4 25.0,114.6 30.6,116.2 36.2,111.9 41.9,112.6 47.5,107.6 53.1,107.5 58.8,111.5 64.4,110.8 70.0,113.4 75.7,109.7 81.3,101.0 86.9,102.0 92.6,102.4 98.2,101.6 103.8,99.6 109.5,97.5 115.1,101.8 120.7,101.0 126.4,103.5"/>
<polyline points="19.4,108.4 25.0,109.5 30.6,105.7 36.2,102.8 41.9,96.7 47.5,95.4 53.1,96.0 58.8,88.4 64.4,90.3 70.0,87.4 75.7,88.6 81.3,87.5 86.9,94.6 92.6,86.3 98.2,88.5 103.8,74.5 109.5,78.6 115.1,83.1 120.7,86.8 126.4,79.6"/>
<polyline points="19.4,108.4 25.0,108.6 30.6,104.5 36.2,102.7 41.9,101.8 47.5,102.4 53.1,102.7 58.8,98.0 64.4,98.1 70.0,89.5 75.7,89.8 81.3,86.0 86.9,86.0 92.6,81.8 98.2,84.8 103.8,91.7 109.5,95.4 115.1,96.1 120.7,104.1 126.4,102.7"/>
<polyline points="19.4,108.4 25.0,105.9 30.6,104.1 36.2,100.6 41.9,96.7 47.5,100.0 53.1,97.2 58.8,102.5 64.4,101.7 70.0,104.7 75.7,103.4 81.3,99.6 86.9,97.1 92.6,97.8 98.2,101.6 103.8,101.1 109.5,101.7 115.1,108.5 120.7,110.3 126.4,109.5"/>
<polyline points="19.4,108.4 25.0,109.1 30.6,107.4 36.2,112.0 41.9,114.8 47.5,116.3 53.1,119.8 58.8,121.4 64.4,124.9 70.0,122.6 75.7,121.4 81.3,120.3 86.9,122.0 92.6,127.6 98.2,130.6 103.8,124.8 109.5,124.3 115.1,120.3 120.7,122.5 126.4,126.5"/>
<polyline points="19.4,108.4 25.0,111.2 30.6,114.8 36.2,105.0 41.9,107.1 47.5,95.5 53.1,91.6 58.8,93.4 64.4,97.8 70.0,97.5 75.7,100.6 81.3,97.2 86.9,107.1 92.6,97.8 98.2,98.2 103.8,98.8 109.5,97.3 115.1,95.1 120.7,89.7 126.4,83.2"/>
<polyline points="19.4,108.4 25.0,106.0 30.6,97.7 36.2,92.7 41.9,88.0 47.5,86.1 53.1,90.2 58.8,87.3 64.4,76.9 70.0,73.0 75.7,73.7 81.3,73.5 86.9,80.8 92.6,89.1 98.2,94.5 103.8,92.7 109.5,97.6 115.1,95.9 120.7,107.7 126.4,104.8"/>
<polyline points="19.4,108.4 25.0,109.2 30.6,109.9 36.2,112.7 41.9,109.0 47.5,109.1 53.1,108.5 58.8,108.5 64.4,116.7 70.0,111.1 75.7,110.7 81.3,105.1 86.9,104.6 92.6,102.6 98.2,101.8 103.8,100.0 109.5,96.0 115.1,86.3 120.7,84.0 126.4,89.0"/>
<polyline points="19.4,108.4 25.0,109.2 30.6,109.1 36.2,110.7 41.9,115.4 47.5,117.2 53.1,120.9 58.8,122.1 64.4,127.9 70.0,129.9 75.7,129.2 81.3,126.5 86.9,125.3 92.6,119.1 98.2,114.2 103.8,111.0 109.5,108.7 115.1,114.2 120.7,115.2 126.4,110.3"/>
<polyline points="19.4,108.4 25.0,109.0 30.6,100.3 36.2,105.5 41.9,111.6 47.5,108.5 53.1,106.5 58.8,103.4 64.4,99.0 70.0,93.7 75.7,94.8 81.3,98.0 86.9,90.9 92.6,95.0 98.2,96.4 103.8,92.0 109.5,93.5 115.1,94.0 120.7,90.5 126.4,96.2"/>
<polyline points="19.4,108.4 25.0,108.0 30.6,98.5 36.2,99.2 41.9,93.8 47.5,97.7 53.1,97.8 58.8,102.2 64.4,98.9 70.0,94.4 75.7,105.3 81.3,105.3 86.9,105.7 92.6,105.8 98.2,104.2 103.8,103.4 109.5,104.5 115.1,95.6 120.7,93.5 126.4,82.5"/>
<polyline points="19.4,108.4 25.0,108.6 30.6,111.6 36.2,114.0 41.9,115.9 47.5,114.7 53.1,112.9 58.8,113.7 64.4,114.9 70.0,115.6 75.7,116.2 81.3,117.3 86.9,110.4 92.6,105.1 98.2,105.4 103.8,111.5 109.5,106.6 115.1,108.3 120.7,110.4 126.4,110.3"/>
<polyline points="19.4,108.4 25.0,104.1 30.6,105.8 36.2,109.0 41.9,107.5 47.5,105.1 53.1,109.9 58.8,108.7 64.4,107.3 70.0,108.2 75.7,118.1 81.3,117.5 86.9,119.3 92.6,119.4 98.2,123.5 103.8,127.8 109.5,130.6 115.1,133.7 120.7,133.4 126.4,129.1"/>
<polyline points="19.4,108.4 25.0,104.5 30.6,104.8 36.2,100.1 41.9,98.9 47.5,100.2 53.1,96.3 58.8,95.1 64.4,92.5 70.0,100.0 75.7,97.8 81.3,95.1 86.9,100.9 92.6,102.0 98.2,99.9 103.8,94.8 109.5,90.5 115.1,88.7 120.7,84.6 126.4,82.5"/>
<polyline points="19.4,108.4 25.0,110.4 30.6,107.1 36.2,110.2 41.9,107.1 47.5,111.8 53.1,111.6 58.8,114.2 64.4,116.7 70.0,114.0 75.7,120.3 81.3,118.4 86.9,119.4 92.6,114.4 98.2,113.7 103.8,111.0 109.5,109.2 115.1,104.3 120.7,108.7 126.4,111.0"/>
<polyline points="19.4,108.4 25.0,108.0 30.6,108.1 36.2,101.7 41.9,94.2 47.5,92.1 53.1,87.8 58.8,96.0 64.4,97.6 70.0,94.6 75.7,93.2 81.3,94.5 86.9,89.6 92.6,86.2 98.2,82.6 103.8,77.2 109.5,66.7 115.1,59.9 120.7,50.9 126.4,48.5"/>
<polyline points="19.4,108.4 25.0,99.8 30.6,104.3 36.2,109.7 41.9,103.8 47.5,97.4 53.1,100.7 58.8,100.5 64.4,99.8 70.0,98.5 75.7,96.7 81.3,90.8 86.9,89.7 92.6,94.5 98.2,101.1 103.8,102.3 109.5,101.5 115.1,100.0 120.7,106.2 126.4,104.6"/>
<polyline points="19.4,108.4 25.0,106.1 30.6,103.5 36.2,101.5 41.9,99.7 47.5,102.8 53.1,99.4 58.8,96.5 64.4,99.7 70.0,105.9 75.7,106.4 81.3,111.7 86.9,119.5 92.6,116.7 98.2,117.7 103.8,115.0 109.5,117.5 115.1,114.3 120.7,105.8 126.4,111.2"/>
<polyline points="19.4,108.4 25.0,106.0 30.6,105.6 36.2,103.9 41.9,107.0 47.5,106.4 53.1,108.8 58.8,107.2 64.4,111.3 70.0,108.6 75.7,115.4 81.3,119.5 86.9,117.0 92.6,117.5 98.2,117.0 103.8,116.6 109.5,116.4 115.1,116.3 120.7,116.8 126.4,113.7"/>
<polyline points="19.4,108.4 25.0,104.4 30.6,104.3 36.2,93.9 41.9,99.0 47.5,92.7 53.1,100.5 58.8,94.5 64.4,101.5 70.0,100.4 75.7,102.5 81.3,100.2 86.9,103.1 92.6,95.8 98.2,91.9 103.8,98.9 109.5,93.8 115.1,89.6 120.7,86.8 126.4,85.0"/>
<polyline points="19.4,108.4 25.0,109.1 30.6,111.5 36.2,113.8 41.9,112.3 47.5,118.7 53.1,118.1 58.8,113.6 64.4,116.3 70.0,113.8 75.7,111.8 81.3,114.3 86.9,115.9 92.6,117.0 98.2,110.0 103.8,112.1 109.5,106.9 115.1,106.8 120.7,106.6 126.4,108.4"/>
<polyline points="19.4,108.4 25.0,113.0 30.6,114.0 36.2,109.9 41.9,113.9 47.5,116.7 53.1,117.9 58.8,118.0 64.4,119.4 70.0,119.0 75.7,121.2 81.3,124.7 86.9,119.0 92.6,123.7 98.2,124.3 103.8,126.5 109.5,129.3 115.1,132.7 120.7,132.6 126.4,133.6"/>
<polyline points="19.4,108.4 25.0,110.4 30.6,105.1 36.2,106.3 41.9,101.4 47.5,103.3 53.1,98.3 58.8,97.3 64.4,97.4 70.0,91.8 75.7,93.9 81.3,97.6 86.9,97.1 92.6,99.6 98.2,95.2 103.8,97.0 109.5,97.9 115.1,96.4 120.7,97.8 126.4,96.5"/>
<polyline points="19.4,108.4 25.0,104.7 30.6,102.8 36.2,95.5 41.9,90.4 47.5,95.7 53.1,88.1 58.8,82.8 64.4,84.7 70.0,83.3 75.7,82.1 81.3,80.2 86.9,85.1 92.6,87.1 98.2,91.8 103.8,91.8 109.5,90.3 115.1,96.0 120.7,90.7 126.4,85.0"/>
<polyline points="19.4,108.4 25.0,108.9 30.6,102.1 36.2,104.7 41.9,97.6 47.5,96.3 53.1,106.0 58.8,108.1 64.4,103.2 70.0,90.7 75.7,92.4 81.3,89.5 86.9,85.7 92.6,77.3 98.2,84.6 103.8,86.4 109.5,88.1 115.1,92.5 120.7,90.9 126.4,88.3"/>
<polyline points="19.4,108.4 25.0,105.4 30.6,100.7 36.2,101.2 41.9,101.0 47.5,98.4 53.1,99.2 58.8,102.2 64.4,90.8 70.0,88.7 75.7,90.1 81.3,94.8 86.9,94.0 92.6,95.3 98.2,86.8 103.8,84.7 109.5,86.4 115.1,88.0 120.7,83.0 126.4,77.9"/>
<polyline points="19.4,108.4 25.0,109.7 30.6,111.9 36.2,119.9 41.9,118.9 47.5,118.8 53.1,116.7 58.8,109.1 64.4,110.7 70.0,114.2 75.7,117.4 81.3,118.0 86.9,128.3 92.6,120.4 98.2,123.0 103.8,122.4 109.5,120.5 115.1,120.5 120.7,119.3 126.4,116.1"/>
<polyline points="19.4,108.4 25.0,108.1 30.6,101.6 36.2,101.2 41.9,102.6 47.5,100.3 53.1,101.4 58.8,101.9 64.4,96.8 70.0,93.4 75.7,92.8 81.3,95.7 86.9,92.0 92.6,92.9 98.2,83.3 103.8,85.7 109.5,92.6 115.1,96.5 120.7,100.1 126.4,83.0"/>
<polyline points="19.4,108.4 25.0,111.8 30.6,108.6 36.2,100.6 41.9,98.3 47.5,93.6 53.1,96.2 58.8,85.5 64.4,84.8 70.0,75.3 75.7,81.1 81.3,79.5 86.9,80.6 92.6,78.0 98.2,80.6 103.8,69.4 109.5,72.2 115.1,72.4 120.7,71.2 126.4,71.2"/>
<polyline points="19.4,108.4 25.0,106.4 30.6,105.9 36.2,106.7 41.9,104.1 47.5,109.4 53.1,106.5 58.8,104.3 64.4,104.6 70.0,101.9 75.7,100.5 81.3,103.6 86.9,97.0 92.6,104.7 98.2,103.2 103.8,106.7 109.5,105.9 115.1,109.1 120.7,110.6 126.4,110.8"/>
<polyline points="19.4,108.4 25.0,107.8 30.6,107.4 36.2,114.0 41.9,121.2 47.5,124.5 53.1,123.3 58.8,116.6 64.4,112.3 70.0,111.6 75.7,104.2 81.3,104.2 86.9,100.8 92.6,100.7 98.2,102.8 103.8,96.1 109.5,93.2 115.1,100.8 120.7,101.3 126.4,110.7"/>
<polyline points="19.4,108.4 25.0,110.9 30.6,111.1 36.2,107.3 41.9,111.6 47.5,106.8 53.1,107.8 58.8,107.9 64.4,104.2 70.0,99.8 75.7,98.6 81.3,96.7 86.9,100.4 92.6,101.5 98.2,105.0 103.8,101.4 109.5,103.0 115.1,102.4 120.7,102.1 126.4,107.9"/>
<polyline points="19.4,108.4 25.0,107.4 30.6,107.0 36.2,101.1 41.9,103.0 47.5,103.1 53.1,102.5 58.8,96.3 64.4,98.2 70.0,97.7 75.7,92.0 81.3,96.4 86.9,100.8 92.6,104.6 98.2,104.3 103.8,105.0 109.5,106.8 115.1,109.7 120.7,107.7 126.4,110.8"/>
<polyline points="19.4,108.4 25.0,102.5 30.6,106.0 36.2,113.5 41.9,110.5 47.5,115.8 53.1,117.4 58.8,114.4 64.4,105.3 70.0,103.3 75.7,102.8 81.3,98.9 86.9,95.2 92.6,85.6 98.2,84.0 103.8,83.7 109.5,77.4 115.1,68.3 120.7,72.2 126.4,72.3"/>
<polyline points="19.4,108.4 25.0,102.1 30.6,99.8 36.2,101.5 41.9,92.5 47.5,89.1 53.1,86.4 58.8,97.2 64.4,100.7 70.0,109.0 75.7,107.0 81.3,109.7 86.9,100.6 92.6,104.7 98.2,101.2 103.8,105.1 109.5,101.0 115.1,96.4 120.7,88.3 126.4,87.8"/>
<polyline points="19.4,108.4 25.0,109.9 30.6,114.6 36.2,109.3 41.9,109.0 47.5,116.7 53.1,116.9 58.8,119.1 64.4,119.4 70.0,115.8 75.7,113.6 81.3,115.8 86.9,109.1 92.6,109.3 98.2,109.4 103.8,110.5 109.5,106.0 115.1,111.3 120.7,113.3 126.4,113.1"/>
<polyline points="19.4,108.4 25.0,103.2 30.6,103.6 36.2,98.4 41.9,98.8 47.5,94.3 53.1,98.7 58.8,100.2 64.4,89.3 70.0,85.5 75.7,85.0 81.3,92.0 86.9,85.6 92.6,85.9 98.2,91.9 103.8,99.1 109.5,99.1 115.1,88.4 120.7,91.0 126.4,85.7"/>
<polyline points="19.4,108.4 25.0,110.5 30.6,111.6 36.2,113.8 41.9,119.6 47.5,124.1 53.1,120.5 58.8,120.8 64.4,119.3 70.0,118.9 75.7,122.0 81.3,116.1 86.9,120.5 92.6,118.6 98.2,120.0 103.8,117.8 109.5,124.0 115.1,118.2 120.7,113.9 126.4,113.9"/>
<polyline points="19.4,108.4 25.0,107.5 30.6,106.2 36.2,105.1 41.9,105.4 47.5,107.7 53.1,112.7 58.8,114.6 64.4,117.6 70.0,114.3 75.7,119.8 81.3,119.7 86.9,116.7 92.6,126.8 98.2,124.3 103.8,116.6 109.5,114.8 115.1,118.2 120.7,111.5 126.4,110.3"/>
<polyline points="19.4,108.4 25.0,98.4 30.6,98.7 36.2,93.0 41.9,97.3 47.5,91.7 53.1,91.2 58.8,81.5 64.4,84.4 70.0,82.5 75.7,78.9 81.3,82.8 86.9,82.4 92.6,82.5 98.2,86.3 103.8,92.9 109.5,96.3 115.1,87.9 120.7,86.3 126.4,91.3"/>
<polyline points="19.4,108.4 25.0,105.5 30.6,108.0 36.2,105.3 41.9,111.5 47.5,115.5 53.1,115.7 58.8,114.8 64.4,116.7 70.0,116.9 75.7,123.0 81.3,123.5 86.9,116.8 92.6,120.0 98.2,121.6 103.8,124.4 109.5,128.2 115.1,127.7 120.7,125.5 126.4,122.2"/>
<polyline points="19.4,108.4 25.0,104.8 30.6,108.7 36.2,106.4 41.9,109.8 47.5,112.3 53.1,111.0 58.8,109.4 64.4,107.3 70.0,108.2 75.7,111.4 81.3,105.1 86.9,102.4 92.6,105.0 98.2,108.1 103.8,109.4 109.5,111.2 115.1,110.2 120.7,107.1 126.4,116.4"/>
<polyline points="19.4,108.4 25.0,105.5 30.6,105.2 36.2,105.6 41.9,101.2 47.5,102.7 53.1,101.5 58.8,97.0 64.4,98.9 70.0,98.4 75.7,100.7 81.3,92.7 86.9,90.1 92.6,99.6 98.2,98.9 103.8,101.7 109.5,104.6 115.1,97.3 120.7,100.9 126.4,100.8"/>
<polyline points="19.4,108.4 25.0,96.7 30.6,95.6 36.2,85.5 41.9,86.6 47.5,85.2 53.1,83.2 58.8,90.0 64.4,90.8 70.0,84.5 75.7,83.5 81.3,83.3 86.9,82.0 92.6,82.5 98.2,79.7 103.8,73.6 109.5,74.3 115.1,62.4 120.7,70.7 126.4,77.0"/>
<polyline points="19.4,108.4 25.0,108.1 30.6,108.9 36.2,111.2 41.9,111.2 47.5,111.3 53.1,108.8 58.8,107.5 64.4,110.0 70.0,107.3 75.7,108.2 81.3,103.9 86.9,106.3 92.6,108.2 98.2,109.0 103.8,110.2 109.5,105.1 115.1,102.8 120.7,108.4 126.4,112.8"/>
<polyline points="19.4,108.4 25.0,113.1 30.6,118.8 36.2,122.1 41.9,124.4 47.5,125.6 53.1,123.8 58.8,125.7 64.4,124.1 70.0,121.2 75.7,117.7 81.3,115.0 86.9,114.0 92.6,112.8 98.2,110.2 103.8,110.5 109.5,116.0 115.1,118.9 120.7,123.8 126.4,126.5"/>
<polyline points="19.4,108.4 25.0,110.0 30.6,112.9 36.2,114.0 41.9,118.0 47.5,114.6 53.1,115.0 58.8,112.0 64.4,114.4 70.0,111.2 75.7,113.3 81.3,114.5 86.9,113.0 92.6,117.9 98.2,117.6 103.8,116.8 109.5,115.0 115.1,109.3 120.7,109.1 126.4,112.5"/>
<polyline points="19.4,108.4 25.0,104.0 30.6,102.0 36.2,98.3 41.9,99.4 47.5,98.3 53.1,100.6 58.8,102.2 64.4,103.0 70.0,96.4 75.7,95.7 81.3,96.2 86.9,98.9 92.6,92.4 98.2,86.5 103.8,81.5 109.5,82.7 115.1,88.0 120.7,91.2 126.4,89.1"/>
<polyline points="19.4,108.4 25.0,102.3 30.6,98.1 36.2,94.2 41.9,88.8 47.5,86.7 53.1,85.8 58.8,86.4 64.4,85.7 70.0,80.6 75.7,83.3 81.3,81.5 86.9,85.9 92.6,89.2 98.2,86.0 103.8,89.4 109.5,89.7 115.1,88.6 120.7,95.2 126.4,95.5"/>
<polyline points="19.4,108.4 25.0,104.7 30.6,111.2 36.2,111.2 41.9,113.5 47.5,117.0 53.1,119.1 58.8,113.1 64.4,110.5 70.0,103.6 75.7,105.2 81.3,103.9 86.9,103.3 92.6,105.1 98.2,106.6 103.8,104.9 109.5,107.5 115.1,98.3 120.7,95.9 126.4,98.3"/>
<polyline points="19.4,108.4 25.0,113.4 30.6,111.8 36.2,113.9 41.9,113.4 47.5,115.4 53.1,111.6 58.8,119.1 64.4,113.3 70.0,117.8 75.7,123.0 81.3,121.1 86.9,117.1 92.6,114.4 98.2,114.5 103.8,107.4 109.5,104.0 115.1,101.5 120.7,93.3 126.4,101.7"/>
<polyline points="19.4,108.4 25.0,106.5 30.6,106.9 36.2,108.5 41.9,115.0 47.5,111.7 53.1,120.2 58.8,119.9 64.4,118.3 70.0,121.5 75.7,118.6 81.3,119.3 86.9,121.7 92.6,119.9 98.2,123.3 103.8,123.8 109.5,121.0 115.1,113.3 120.7,114.3 126.4,106.8"/>
<polyline points="19.4,108.4 25.0,101.5 30.6,100.1 36.2,104.3 41.9,110.4 47.5,103.3 53.1,103.4 58.8,101.3 64.4,100.4 70.0,104.3 75.7,98.2 81.3,97.4 86.9,95.4 92.6,94.4 98.2,99.7 103.8,97.0 109.5,89.0 115.1,92.7 120.7,93.6 126.4,94.5"/>
<polyline points="19.4,108.4 25.0,106.7 30.6,99.5 36.2,108.0 41.9,106.4 47.5,103.6 53.1,106.4 58.8,107.8 64.4,108.8 70.0,108.8 75.7,107.0 81.3,110.3 86.9,112.4 92.6,109.5 98.2,107.0 103.8,109.7 109.5,111.2 115.1,110.9 120.7,115.2 126.4,121.4"/>
<polyline points="19.4,108.4 25.0,108.0 30.6,104.4 36.2,109.4 41.9,106.9 47.5,103.5 53.1,107.9 58.8,110.3 64.4,111.7 70.0,108.8 75.7,105.0 81.3,111.5 86.9,112.4 92.6,107.6 98.2,109.8 103.8,100.6 109.5,101.4 115.1,99.0 120.7,103.8 126.4,105.8"/>
<polyline points="19.4,108.4 25.0,101.2 30.6,97.0 36.2,92.1 41.9,88.2 47.5,88.5 53.1,86.6 58.8,93.5 64.4,93.4 70.0,91.7 75.7,86.3 81.3,90.3 86.9,94.0 92.6,96.8 98.2,99.5 103.8,96.8 109.5,104.9 115.1,97.8 120.7,97.8 126.4,105.5"/>
<polyline points="19.4,108.4 25.0,105.5 30.6,97.0 36.2,91.1 41.9,89.1 47.5,93.5 53.1,94.5 58.8,97.0 64.4,99.6 70.0,94.7 75.7,89.6 81.3,91.8 86.9,91.5 92.6,90.9 98.2,94.9 103.8,94.1 109.5,97.8 115.1,98.8 120.7,101.7 126.4,98.7"/>
<polyline points="19.4,108.4 25.0,108.5 30.6,109.9 36.2,101.0 41.9,92.5 47.5,90.5 53.1,88.1 58.8,86.7 64.4,86.1 70.0,88.0 75.7,87.3 81.3,82.9 86.9,80.2 92.6,73.1 98.2,69.8 103.8,63.5 109.5,69.0 115.1,73.5 120.7,73.1 126.4,72.1"/>
<polyline points="19.4,108.4 25.0,117.7 30.6,113.8 36.2,110.6 41.9,114.9 47.5,119.0 53.1,120.2 58.8,124.1 64.4,123.8 70.0,126.3 75.7,124.0 81.3,119.8 86.9,114.4 92.6,117.6 98.2,119.1 103.8,124.3 109.5,120.4 115.1,120.2 120.7,122.6 126.4,123.9"/>
<polyline points="19.4,108.4 25.0,102.5 30.6,100.2 36.2,101.7 41.9,104.4 47.5,109.7 53.1,112.9 58.8,113.0 64.4,113.0 70.0,110.6 75.7,111.4 81.3,105.9 86.9,110.2 92.6,105.7 98.2,102.7 103.8,93.8 109.5,92.5 115.1,88.3 120.7,79.9 126.4,90.4"/>
<polyline points="19.4,108.4 25.0,107.7 30.6,105.0 36.2,105.7 41.9,115.9 47.5,116.5 53.1,112.4 58.8,112.7 64.4,117.3 70.0,112.7 75.7,117.3 81.3,120.5 86.9,118.4 92.6,116.7 98.2,115.6 103.8,114.9 109.5,112.3 115.1,115.9 120.7,119.9 126.4,127.9"/>
<polyline points="19.4,108.4 25.0,112.7 30.6,111.5 36.2,109.5 41.9,110.4 47.5,106.6 53.1,105.2 58.8,98.3 64.4,107.5 70.0,105.0 75.7,107.7 81.3,106.1 86.9,106.9 92.6,110.0 98.2,115.7 103.8,119.9 109.5,121.9 115.1,124.9 120.7,127.3 126.4,125.2"/>
<polyline points="19.4,108.4 25.0,107.3 30.6,110.4 36.2,112.9 41.9,114.4 47.5,119.7 53.1,114.1 58.8,109.5 64.4,108.2 70.0,111.7 75.7,110.8 81.3,113.8 86.9,114.2 92.6,116.6 98.2,118.2 103.8,119.0 109.5,112.8 115.1,116.9 120.7,113.4 126.4,105.5"/>
<polyline points="19.4,108.4 25.0,110.8 30.6,112.5 36.2,111.8 41.9,113.6 47.5,113.9 53.1,117.0 58.8,119.5 64.4,121.1 70.0,116.0 75.7,111.9 81.3,114.2 86.9,112.5 92.6,120.1 98.2,120.5 103.8,123.4 109.5,124.4 115.1,119.9 120.7,120.7 126.4,130.3"/>
<polyline points="19.4,108.4 25.0,103.8 30.6,99.5 36.2,104.9 41.9,101.4 47.5,100.0 53.1,102.0 58.8,104.6 64.4,104.5 70.0,113.0 75.7,106.0 81.3,109.6 86.9,108.6 92.6,105.7 98.2,99.7 103.8,96.8 109.5,99.2 115.1,101.1 120.7,89.9 126.4,93.8"/>
<polyline points="19.4,108.4 25.0,107.7 30.6,108.7 36.2,105.1 41.9,102.3 47.5,105.5 53.1,106.8 58.8,107.4 64.4,101.6 70.0,101.7 75.7,102.9 81.3,106.1 86.9,104.7 92.6,106.8 98.2,109.7 103.8,104.9 109.5,110.0 115.1,107.3 120.7,102.2 126.4,106.3"/>
<polyline points="19.4,108.4 25.0,108.6 30.6,109.6 36.2,104.4 41.9,107.4 47.5,112.2 53.1,110.9 58.8,103.4 64.4,106.2 70.0,102.7 75.7,104.5 81.3,105.5 86.9,103.3 92.6,105.5 98.2,107.2 103.8,109.9 109.5,112.3 115.1,111.4 120.7,111.9 126.4,112.0"/>
<polyline points="19.4,108.4 25.0,104.3 30.6,102.1 36.2,106.6 41.9,107.2 47.5,99.6 53.1,107.9 58.8,104.0 64.4,104.8 70.0,107.3 75.7,102.9 81.3,99.0 86.9,103.3 92.6,104.9 98.2,108.9 103.8,107.2 109.5,102.3 115.1,96.0 120.7,97.4 126.4,102.4"/>
<polyline points="19.4,108.4 25.0,105.6 30.6,105.9 36.2,112.0 41.9,111.3 47.5,115.5 53.1,116.7 58.8,119.5 64.4,122.1 70.0,120.5 75.7,116.6 81.3,121.7 86.9,113.7 92.6,116.3 98.2,115.6 103.8,116.0 109.5,117.2 115.1,119.4 120.7,120.6 126.4,115.2"/>
<polyline points="19.4,108.4 25.0,112.5 30.6,111.4 36.2,110.5 41.9,115.7 47.5,115.4 53.1,118.4 58.8,119.3 64.4,113.5 70.0,115.9 75.7,123.3 81.3,123.1 86.9,117.8 92.6,118.4 98.2,117.6 103.8,117.8 109.5,112.0 115.1,111.1 120.7,108.4 126.4,105.1"/>
<polyline points="19.4,108.4 25.0,107.2 30.6,111.3 36.2,116.0 41.9,116.1 47.5,118.7 53.1,114.4 58.8,109.9 64.4,113.3 70.0,112.1 75.7,118.1 81.3,116.7 86.9,118.6 92.6,113.7 98.2,109.7 103.8,104.3 109.5,105.0 115.1,110.0 120.7,109.3 126.4,113.2"/>
<polyline points="19.4,108.4 25.0,102.8 30.6,100.9 36.2,92.7 41.9,86.7 47.5,94.0 53.1,90.4 58.8,92.5 64.4,99.0 70.0,102.3 75.7,106.5 81.3,106.9 86.9,103.0 92.6,105.1 98.2,108.4 103.8,101.9 109.5,106.2 115.1,110.7 120.7,110.6 126.4,107.6"/>
<polyline points="19.4,108.4 25.0,111.5 30.6,107.5 36.2,107.0 41.9,108.1 47.5,110.5 53.1,109.1 58.8,108.0 64.4,107.8 70.0,101.9 75.7,94.1 81.3,99.5 86.9,92.6 92.6,89.7 98.2,83.9 103.8,88.1 109.5,95.1 115.1,92.9 120.7,96.9 126.4,95.2"/>
<polyline points="19.4,108.4 25.0,109.8 30.6,108.5 36.2,114.2 41.9,107.5 47.5,107.3 53.1,106.2 58.8,108.0 64.4,113.7 70.0,117.5 75.7,116.2 81.3,117.9 86.9,116.8 92.6,118.9 98.2,117.9 103.8,112.7 109.5,113.4 115.1,107.6 120.7,106.7 126.4,104.5"/>
<polyline points="19.4,108.4 25.0,100.2 30.6,104.1 36.2,106.8 41.9,109.0 47.5,120.5 53.1,129.5 58.8,125.7 64.4,120.9 70.0,119.1 75.7,119.0 81.3,117.3 86.9,117.1 92.6,119.7 98.2,120.9 103.8,116.2 109.5,109.8 115.1,106.3 120.7,100.7 126.4,99.7"/>
<polyline points="19.4,108.4 25.0,106.5 30.6,103.8 36.2,104.6 41.9,103.2 47.5,100.4 53.1,104.8 58.8,95.6 64.4,92.6 70.0,94.0 75.7,95.1 81.3,97.1 86.9,93.7 92.6,100.2 98.2,99.0 103.8,104.5 109.5,104.0 115.1,99.0 120.7,88.1 126.4,87.1"/>
<polyline points="19.4,108.4 25.0,112.4 30.6,112.4 36.2,101.2 41.9,99.0 47.5,86.4 53.1,84.0 58.8,85.5 64.4,96.0 70.0,102.6 75.7,107.7 81.3,101.5 86.9,99.2 92.6,102.6 98.2,106.8 103.8,105.9 109.5,105.1 115.1,98.3 120.7,96.1 126.4,99.2"/>
<polyline points="19.4,108.4 25.0,107.0 30.6,103.9 36.2,108.0 41.9,106.6 47.5,106.5 53.1,110.0 58.8,104.9 64.4,102.7 70.0,103.3 75.7,99.3 81.3,102.3 86.9,105.3 92.6,98.7 98.2,94.7 103.8,96.2 109.5,97.4 115.1,97.5 120.7,90.9 126.4,87.2"/>
</g>
</g>
<clipPath id="c0"><rect x="14.5" y="10.4" width="117.5" height="146.79999999999998"/></clipPath>
<rect x="14.5" y="10.4" width="117.70" height="146.79999999999998" fill="none" stroke="#000" stroke-width="0.9"/>
<line x1="12.0" y1="154.68" x2="14.5" y2="154.68" stroke="#000" stroke-width="0.9"/>
<line x1="12.0" y1="131.54" x2="14.5" y2="131.54" stroke="#000" stroke-width="0.9"/>
<line x1="12.0" y1="108.40" x2="14.5" y2="108.40" stroke="#000" stroke-width="0.9"/>
<line x1="12.0" y1="85.26" x2="14.5" y2="85.26" stroke="#000" stroke-width="0.9"/>
<line x1="12.0" y1="62.12" x2="14.5" y2="62.12" stroke="#000" stroke-width="0.9"/>
<line x1="12.0" y1="38.98" x2="14.5" y2="38.98" stroke="#000" stroke-width="0.9"/>
<line x1="12.0" y1="15.84" x2="14.5" y2="15.84" stroke="#000" stroke-width="0.9"/>
<line x1="19.35" y1="157.2" x2="19.35" y2="159.7" stroke="#000" stroke-width="0.9"/>
<line x1="47.52" y1="157.2" x2="47.52" y2="159.7" stroke="#000" stroke-width="0.9"/>
<line x1="75.68" y1="157.2" x2="75.68" y2="159.7" stroke="#000" stroke-width="0.9"/>
<line x1="103.84" y1="157.2" x2="103.84" y2="159.7" stroke="#000" stroke-width="0.9"/>
<g clip-path="url(#c1)">
<g fill="none" stroke="#0000ff" stroke-opacity="0.45" stroke-width="1.0" stroke-linejoin="round">
<polyline points="146.3,108.4 152.0,109.3 157.6,112.7 163.2,117.2 168.9,116.3 174.5,114.5 180.1,119.7 185.8,121.7 191.4,117.5 197.0,117.0 202.7,123.0 208.3,124.4 213.9,124.9 219.6,123.5 225.2,127.3 230.8,126.4 236.5,126.7 242.1,121.4 247.7,119.9 253.4,126.5"/>
<polyline points="146.3,108.4 152.0,101.0 157.6,102.0 163.2,100.5 168.9,97.7 174.5,100.2 180.1,100.0 185.8,98.8 191.4,93.6 197.0,89.5 202.7,98.9 208.3,99.3 213.9,101.6 219.6,97.5 225.2,94.5 230.8,94.0 236.5,96.1 242.1,91.9 247.7,91.0 253.4,90.2"/>
<polyline points="146.3,108.4 152.0,112.3 157.6,110.0 163.2,106.0 168.9,99.9 174.5,110.9 180.1,108.7 185.8,109.2 191.4,110.1 197.0,110.7 202.7,107.3 208.3,113.5 213.9,119.9 219.6,114.4 225.2,117.0 230.8,116.5 236.5,121.6 242.1,123.2 247.7,127.6 253.4,122.8"/>
<polyline points="146.3,108.4 152.0,109.7 157.6,108.8 163.2,113.9 168.9,115.2 174.5,117.9 180.1,117.2 185.8,118.0 191.4,116.6 197.0,119.3 202.7,111.5 208.3,114.8 213.9,113.7 219.6,107.2 225.2,111.0 230.8,116.1 236.5,114.2 242.1,114.2 247.7,116.0 253.4,119.4"/>
<polyline points="146.3,108.4 152.0,105.6 157.6,102.8 163.2,101.5 168.9,101.3 174.5,99.6 180.1,97.6 185.8,94.5 191.4,89.3 197.0,90.5 202.7,89.4 208.3,91.1 213.9,94.7 219.6,91.4 225.2,95.1 230.8,96.1 236.5,92.7 242.1,99.1 247.7,96.0 253.4,92.3"/>
<polyline points="146.3,108.4 152.0,104.4 157.6,105.9 163.2,99.1 168.9,96.4 174.5,96.1 180.1,92.5 185.8,100.6 191.4,102.8 197.0,104.2 202.7,107.3 208.3,110.3 213.9,116.0 219.6,112.9 225.2,118.2 230.8,120.4 236.5,120.2 242.1,118.1 247.7,121.0 253.4,122.8"/>
<polyline points="146.3,108.4 152.0,107.7 157.6,106.1 163.2,101.9 168.9,104.2 174.5,103.4 180.1,103.3 185.8,103.2 191.4,98.6 197.0,97.8 202.7,97.4 208.3,100.2 213.9,108.0 219.6,111.5 225.2,115.6 230.8,118.0 236.5,120.3 242.1,123.5 247.7,130.0 253.4,133.3"/>
<polyline points="146.3,108.4 152.0,109.4 157.6,106.1 163.2,110.0 168.9,110.2 174.5,117.2 180.1,113.6 185.8,112.1 191.4,116.6 197.0,115.3 202.7,113.1 208.3,117.7 213.9,123.6 219.6,121.4 225.2,121.8 230.8,120.4 236.5,120.8 242.1,118.7 247.7,120.8 253.4,122.0"/>
<polyline points="146.3,108.4 152.0,109.6 157.6,109.1 163.2,112.3 168.9,108.4 174.5,106.4 180.1,106.6 185.8,109.6 191.4,108.6 197.0,106.6 202.7,114.0 208.3,109.6 213.9,111.0 219.6,109.9 225.2,108.4 230.8,114.3 236.5,119.6 242.1,124.2 247.7,125.0 253.4,123.7"/>
<polyline points="146.3,108.4 152.0,103.1 157.6,100.1 163.2,97.6 168.9,100.7 174.5,99.9 180.1,94.5 185.8,104.8 191.4,107.9 197.0,114.4 202.7,115.3 208.3,114.9 213.9,119.4 219.6,121.3 225.2,119.1 230.8,122.6 236.5,125.3 242.1,131.2 247.7,131.0 253.4,129.9"/>
<polyline points="146.3,108.4 152.0,110.0 157.6,106.4 163.2,104.8 168.9,102.7 174.5,106.2 180.1,101.7 185.8,103.1 191.4,98.8 197.0,99.3 202.7,99.2 208.3,100.8 213.9,98.8 219.6,90.4 225.2,86.3 230.8,87.8 236.5,96.7 242.1,93.5 247.7,96.0 253.4,97.9"/>
<polyline points="146.3,108.4 152.0,109.2 157.6,111.0 163.2,112.0 168.9,115.0 174.5,118.8 180.1,117.5 185.8,111.8 191.4,115.3 197.0,115.0 202.7,112.2 208.3,109.2 213.9,115.3 219.6,114.1 225.2,112.8 230.8,119.0 236.5,116.3 242.1,120.3 247.7,122.4 253.4,126.5"/>
<polyline points="146.3,108.4 152.0,110.3 157.6,107.7 163.2,103.7 168.9,109.9 174.5,108.7 180.1,115.5 185.8,119.0 191.4,116.4 197.0,115.0 202.7,117.6 208.3,118.4 213.9,117.3 219.6,120.5 225.2,119.7 230.8,116.3 236.5,116.2 242.1,110.4 247.7,117.0 253.4,118.9"/>
<polyline points="146.3,108.4 152.0,105.9 157.6,104.1 163.2,103.8 168.9,104.4 174.5,108.0 180.1,119.3 185.8,116.6 191.4,115.2 197.0,112.4 202.7,111.9 208.3,117.3 213.9,111.4 219.6,115.8 225.2,115.7 230.8,105.1 236.5,96.0 242.1,95.3 247.7,94.0 253.4,86.2"/>
<polyline points="146.3,108.4 152.0,100.4 157.6,99.2 163.2,99.2 168.9,100.6 174.5,103.0 180.1,104.8 185.8,108.3 191.4,112.5 197.0,112.1 202.7,105.7 208.3,104.6 213.9,99.2 219.6,97.3 225.2,104.6 230.8,109.6 236.5,109.9 242.1,108.7 247.7,110.3 253.4,110.9"/>
<polyline points="146.3,108.4 152.0,105.8 157.6,104.9 163.2,94.7 168.9,95.9 174.5,98.0 180.1,98.5 185.8,96.9 191.4,99.3 197.0,98.9 202.7,98.5 208.3,101.6 213.9,102.7 219.6,104.5 225.2,105.5 230.8,99.9 236.5,99.4 242.1,101.4 247.7,106.8 253.4,109.6"/>
<polyline points="146.3,108.4 152.0,115.6 157.6,116.2 163.2,114.7 168.9,119.1 174.5,119.2 180.1,119.9 185.8,113.6 191.4,118.6 197.0,120.4 202.7,116.9 208.3,117.4 213.9,126.3 219.6,125.1 225.2,125.1 230.8,129.7 236.5,126.9 242.1,124.0 247.7,127.3 253.4,128.9"/>
<polyline points="146.3,108.4 152.0,114.4 157.6,106.7 163.2,106.0 168.9,97.5 174.5,98.6 180.1,100.4 185.8,103.1 191.4,102.7 197.0,103.0 202.7,106.3 208.3,102.6 213.9,102.1 219.6,100.4 225.2,103.9 230.8,110.8 236.5,111.9 242.1,104.9 247.7,101.8 253.4,99.7"/>
<polyline points="146.3,108.4 152.0,105.3 157.6,104.3 163.2,104.4 168.9,103.7 174.5,106.0 180.1,102.5 185.8,106.7 191.4,107.7 197.0,103.9 202.7,107.4 208.3,108.5 213.9,105.7 219.6,105.1 225.2,106.6 230.8,110.5 236.5,111.0 242.1,114.5 247.7,116.2 253.4,115.0"/>
<polyline points="146.3,108.4 152.0,117.0 157.6,115.8 163.2,110.4 168.9,110.6 174.5,111.6 180.1,110.8 185.8,106.7 191.4,105.8 197.0,98.8 202.7,103.2 208.3,102.5 213.9,99.0 219.6,98.0 225.2,102.9 230.8,104.5 236.5,98.3 242.1,99.6 247.7,91.3 253.4,81.3"/>
<polyline points="146.3,108.4 152.0,106.6 157.6,105.9 163.2,103.6 168.9,109.7 174.5,112.0 180.1,117.6 185.8,114.4 191.4,117.3 197.0,113.7 202.7,115.9 208.3,119.6 213.9,117.1 219.6,121.6 225.2,120.3 230.8,114.9 236.5,116.2 242.1,120.0 247.7,119.1 253.4,117.7"/>
<polyline points="146.3,108.4 152.0,109.9 157.6,107.1 163.2,106.3 168.9,110.1 174.5,109.1 180.1,113.9 185.8,109.2 191.4,109.4 197.0,105.9 202.7,110.0 208.3,114.3 213.9,112.2 219.6,107.3 225.2,102.2 230.8,99.6 236.5,99.8 242.1,94.6 247.7,101.2 253.4,104.9"/>
<polyline points="146.3,108.4 152.0,104.6 157.6,104.3 163.2,99.1 168.9,100.4 174.5,98.2 180.1,93.3 185.8,95.3 191.4,95.8 197.0,92.9 202.7,89.6 208.3,90.4 213.9,82.5 219.6,83.5 225.2,85.0 230.8,84.5 236.5,78.4 242.1,74.6 247.7,75.5 253.4,79.7"/>
<polyline points="146.3,108.4 152.0,106.4 157.6,104.8 163.2,96.3 168.9,91.4 174.5,90.9 180.1,93.5 185.8,96.3 191.4,92.8 197.0,95.2 202.7,91.9 208.3,98.0 213.9,98.8 219.6,92.9 225.2,97.2 230.8,100.0 236.5,104.9 242.1,98.9 247.7,94.9 253.4,104.5"/>
<polyline points="146.3,108.4 152.0,105.2 157.6,95.1 163.2,97.6 168.9,97.1 174.5,98.7 180.1,98.7 185.8,97.7 191.4,101.7 197.0,101.8 202.7,105.7 208.3,101.5 213.9,105.8 219.6,103.6 225.2,99.2 230.8,97.4 236.5,88.0 242.1,88.6 247.7,90.8 253.4,94.9"/>
<polyline points="146.3,108.4 152.0,103.1 157.6,101.0 163.2,97.8 168.9,97.7 174.5,91.7 180.1,95.5 185.8,100.1 191.4,90.5 197.0,89.8 202.7,99.1 208.3,100.9 213.9,102.0 219.6,95.4 225.2,92.5 230.8,95.2 236.5,87.7 242.1,85.8 247.7,87.0 253.4,83.8"/>
<polyline points="146.3,108.4 152.0,104.6 157.6,102.9 163.2,105.2 168.9,100.8 174.5,100.8 180.1,103.1 185.8,104.6 191.4,100.0 197.0,95.6 202.7,91.2 208.3,81.6 213.9,81.0 219.6,78.0 225.2,82.1 230.8,77.6 236.5,75.4 242.1,69.6 247.7,66.9 253.4,71.2"/>
<polyline points="146.3,108.4 152.0,106.3 157.6,110.6 163.2,107.7 168.9,110.7 174.5,115.7 180.1,114.4 185.8,111.9 191.4,108.5 197.0,113.0 202.7,110.7 208.3,106.9 213.9,102.3 219.6,100.8 225.2,97.9 230.8,89.7 236.5,84.1 242.1,83.5 247.7,82.9 253.4,72.5"/>
<polyline points="146.3,108.4 152.0,101.0 157.6,101.5 163.2,104.8 168.9,103.8 174.5,100.2 180.1,89.0 185.8,84.7 191.4,87.7 197.0,87.1 202.7,82.7 208.3,84.7 213.9,89.3 219.6,78.1 225.2,82.1 230.8,80.3 236.5,78.8 242.1,71.4 247.7,71.9 253.4,76.4"/>
<polyline points="146.3,108.4 152.0,107.1 157.6,106.4 163.2,105.8 168.9,106.2 174.5,104.9 180.1,100.4 185.8,106.9 191.4,107.2 197.0,106.9 202.7,110.9 208.3,115.0 213.9,110.9 219.6,102.7 225.2,109.0 230.8,112.2 236.5,109.4 242.1,103.6 247.7,95.9 253.4,94.7"/>
<polyline points="146.3,108.4 152.0,106.8 157.6,109.5 163.2,103.4 168.9,106.8 174.5,105.4 180.1,110.4 185.8,111.1 191.4,115.0 197.0,118.3 202.7,121.0 208.3,119.5 213.9,115.7 219.6,112.8 225.2,117.0 230.8,116.9 236.5,118.1 242.1,122.4 247.7,124.1 253.4,125.2"/>
<polyline points="146.3,108.4 152.0,107.8 157.6,113.1 163.2,108.5 168.9,106.7 174.5,102.9 180.1,99.2 185.8,101.7 191.4,105.3 197.0,105.0 202.7,102.5 208.3,105.7 213.9,112.0 219.6,111.6 225.2,112.7 230.8,115.4 236.5,117.0 242.1,121.3 247.7,120.7 253.4,121.9"/>
<polyline points="146.3,108.4 152.0,107.3 157.6,104.4 163.2,109.0 168.9,106.3 174.5,108.2 180.1,108.0 185.8,104.8 191.4,100.6 197.0,102.6 202.7,98.6 208.3,93.7 213.9,91.9 219.6,98.9 225.2,97.4 230.8,94.9 236.5,92.7 242.1,88.4 247.7,88.2 253.4,85.9"/>
<polyline points="146.3,108.4 152.0,110.7 157.6,120.7 163.2,118.9 168.9,121.2 174.5,122.0 180.1,123.5 185.8,116.4 191.4,121.5 197.0,124.4 202.7,127.0 208.3,127.9 213.9,128.5 219.6,128.8 225.2,132.4 230.8,133.6 236.5,136.5 242.1,133.2 247.7,128.5 253.4,128.4"/>
<polyline points="146.3,108.4 152.0,110.9 157.6,107.8 163.2,104.6 168.9,111.2 174.5,114.1 180.1,117.7 185.8,113.1 191.4,114.6 197.0,112.4 202.7,110.5 208.3,116.6 213.9,116.4 219.6,111.3 225.2,117.9 230.8,118.5 236.5,114.7 242.1,113.5 247.7,107.2 253.4,99.6"/>
<polyline points="146.3,108.4 152.0,107.8 157.6,105.9 163.2,108.8 168.9,108.5 174.5,108.9 180.1,114.8 185.8,119.7 191.4,115.3 197.0,115.5 202.7,114.1 208.3,116.4 213.9,116.3 219.6,117.4 225.2,107.1 230.8,109.2 236.5,107.7 242.1,108.1 247.7,103.9 253.4,106.6"/>
<polyline points="146.3,108.4 152.0,107.6 157.6,110.6 163.2,103.4 168.9,99.8 174.5,101.1 180.1,102.5 185.8,108.7 191.4,110.8 197.0,112.4 202.7,114.0 208.3,111.6 213.9,109.5 219.6,99.2 225.2,96.8 230.8,87.2 236.5,84.3 242.1,96.1 247.7,98.4 253.4,100.3"/>
<polyline points="146.3,108.4 152.0,112.3 157.6,110.6 163.2,112.7 168.9,114.2 174.5,119.0 180.1,118.1 185.8,110.9 191.4,112.2 197.0,118.1 202.7,118.9 208.3,122.0 213.9,118.4 219.6,121.0 225.2,121.6 230.8,120.4 236.5,122.3 242.1,120.7 247.7,122.0 253.4,125.4"/>
<polyline points="146.3,108.4 152.0,103.7 157.6,98.8 163.2,99.0 168.9,96.2 174.5,98.8 180.1,102.2 185.8,104.6 191.4,100.8 197.0,99.0 202.7,100.4 208.3,95.7 213.9,91.7 219.6,84.1 225.2,79.6 230.8,77.0 236.5,82.0 242.1,79.1 247.7,72.1 253.4,71.3"/>
<polyline points="146.3,108.4 152.0,110.7 157.6,115.6 163.2,110.0 168.9,112.3 174.5,114.9 180.1,113.9 185.8,117.7 191.4,119.0 197.0,120.6 202.7,122.0 208.3,124.8 213.9,126.5 219.6,134.3 225.2,135.9 230.8,137.0 236.5,136.7 242.1,131.2 247.7,125.2 253.4,127.2"/>
<polyline points="146.3,108.4 152.0,108.7 157.6,109.0 163.2,109.9 168.9,106.1 174.5,102.1 180.1,104.4 185.8,106.5 191.4,103.7 197.0,103.6 202.7,103.2 208.3,109.5 213.9,103.8 219.6,108.8 225.2,109.1 230.8,104.2 236.5,101.9 242.1,106.5 247.7,109.0 253.4,108.8"/>
<polyline points="146.3,108.4 152.0,108.1 157.6,110.4 163.2,117.4 168.9,116.2 174.5,112.6 180.1,114.5 185.8,119.0 191.4,119.6 197.0,115.8 202.7,117.6 208.3,118.0 213.9,121.0 219.6,115.7 225.2,117.8 230.8,113.0 236.5,122.5 242.1,122.6 247.7,119.2 253.4,116.5"/>
<polyline points="146.3,108.4 152.0,108.8 157.6,113.6 163.2,116.5 168.9,111.2 174.5,105.1 180.1,99.0 185.8,95.2 191.4,102.7 197.0,105.8 202.7,103.9 208.3,106.5 213.9,108.4 219.6,109.2 225.2,104.9 230.8,100.8 236.5,105.2 242.1,105.7 247.7,105.6 253.4,104.7"/>
<polyline points="146.3,108.4 152.0,105.3 157.6,106.1 163.2,103.5 168.9,105.8 174.5,104.4 180.1,107.2 185.8,107.2 191.4,112.9 197.0,114.0 202.7,108.3 208.3,103.8 213.9,104.7 219.6,109.1 225.2,116.3 230.8,112.8 236.5,106.2 242.1,109.3 247.7,108.6 253.4,107.0"/>
<polyline points="146.3,108.4 152.0,109.7 157.6,108.1 163.2,105.6 168.9,108.4 174.5,112.1 180.1,116.8 185.8,118.7 191.4,121.7 197.0,126.6 202.7,127.1 208.3,124.3 213.9,129.1 219.6,122.6 225.2,125.2 230.8,121.7 236.5,119.8 242.1,117.9 247.7,109.7 253.4,118.1"/>
<polyline points="146.3,108.4 152.0,102.3 157.6,103.6 163.2,97.2 168.9,95.9 174.5,97.4 180.1,96.8 185.8,93.2 191.4,84.8 197.0,77.8 202.7,84.4 208.3,79.2 213.9,76.0 219.6,76.9 225.2,80.6 230.8,84.0 236.5,81.6 242.1,85.1 247.7,80.9 253.4,75.9"/>
<polyline points="146.3,108.4 152.0,111.1 157.6,110.7 163.2,111.6 168.9,101.1 174.5,95.9 180.1,91.8 185.8,96.4 191.4,91.5 197.0,99.9 202.7,105.3 208.3,107.3 213.9,107.6 219.6,107.6 225.2,111.0 230.8,108.9 236.5,110.1 242.1,107.5 247.7,106.5 253.4,108.9"/>
<polyline points="146.3,108.4 152.0,100.3 157.6,100.5 163.2,99.2 168.9,102.3 174.5,99.0 180.1,91.8 185.8,100.0 191.4,103.8 197.0,104.9 202.7,103.8 208.3,100.4 213.9,98.2 219.6,99.9 225.2,102.0 230.8,100.7 236.5,104.2 242.1,108.2 247.7,120.4 253.4,126.2"/>
<polyline points="146.3,108.4 152.0,115.3 157.6,114.4 163.2,117.1 168.9,116.7 174.5,112.7 180.1,108.6 185.8,112.0 191.4,112.8 197.0,107.2 202.7,108.8 208.3,110.5 213.9,111.4 219.6,108.7 225.2,111.2 230.8,114.0 236.5,111.0 242.1,103.5 247.7,107.0 253.4,105.0"/>
<polyline points="146.3,108.4 152.0,109.1 157.6,114.0 163.2,113.5 168.9,115.9 174.5,117.9 180.1,112.5 185.8,109.0 191.4,98.7 197.0,101.1 202.7,102.5 208.3,94.8 213.9,94.1 219.6,95.4 225.2,90.7 230.8,90.7 236.5,89.5 242.1,88.7 247.7,88.7 253.4,82.4"/>
<polyline points="146.3,108.4 152.0,105.7 157.6,105.0 163.2,99.7 168.9,94.7 174.5,99.7 180.1,99.7 185.8,97.2 191.4,95.0 197.0,98.3 202.7,97.8 208.3,100.4 213.9,93.6 219.6,93.5 225.2,87.6 230.8,92.4 236.5,94.2 242.1,102.0 247.7,98.3 253.4,101.9"/>
<polyline points="146.3,108.4 152.0,109.8 157.6,107.2 163.2,95.4 168.9,99.7 174.5,100.0 180.1,100.6 185.8,93.5 191.4,88.8 197.0,95.6 202.7,95.1 208.3,93.2 213.9,92.3 219.6,88.8 225.2,80.8 230.8,89.1 236.5,86.1 242.1,81.6 247.7,75.5 253.4,74.3"/>
<polyline points="146.3,108.4 152.0,104.1 157.6,108.5 163.2,111.5 168.9,111.2 174.5,106.1 180.1,104.1 185.8,95.3 191.4,97.9 197.0,98.0 202.7,96.9 208.3,100.7 213.9,106.0 219.6,108.6 225.2,105.3 230.8,103.5 236.5,108.3 242.1,107.1 247.7,116.1 253.4,117.1"/>
<polyline points="146.3,108.4 152.0,110.3 157.6,114.1 163.2,115.9 168.9,110.9 174.5,108.3 180.1,112.8 185.8,107.8 191.4,116.3 197.0,113.8 202.7,112.4 208.3,115.7 213.9,117.3 219.6,115.0 225.2,114.1 230.8,109.2 236.5,107.2 242.1,105.1 247.7,103.9 253.4,100.8"/>
<polyline points="146.3,108.4 152.0,109.9 157.6,113.0 163.2,115.8 168.9,112.1 174.5,110.7 180.1,114.4 185.8,115.7 191.4,113.3 197.0,117.1 202.7,117.5 208.3,118.6 213.9,123.2 219.6,119.2 225.2,115.7 230.8,113.5 236.5,109.3 242.1,113.3 247.7,111.2 253.4,115.0"/>
<polyline points="146.3,108.4 152.0,101.3 157.6,102.1 163.2,106.6 168.9,110.7 174.5,115.8 180.1,113.7 185.8,114.8 191.4,111.7 197.0,110.6 202.7,110.9 208.3,109.8 213.9,108.2 219.6,108.0 225.2,103.6 230.8,101.9 236.5,90.6 242.1,93.7 247.7,93.4 253.4,97.5"/>
<polyline points="146.3,108.4 152.0,109.5 157.6,101.4 163.2,88.9 168.9,94.0 174.5,98.9 180.1,104.7 185.8,101.0 191.4,87.7 197.0,88.3 202.7,79.6 208.3,76.3 213.9,77.4 219.6,79.6 225.2,86.6 230.8,88.2 236.5,82.2 242.1,80.2 247.7,74.4 253.4,68.4"/>
<polyline points="146.3,108.4 152.0,109.2 157.6,113.2 163.2,110.6 168.9,116.5 174.5,117.6 180.1,111.9 185.8,113.3 191.4,112.5 197.0,115.2 202.7,116.5 208.3,107.8 213.9,107.9 219.6,109.7 225.2,109.6 230.8,103.6 236.5,104.3 242.1,101.8 247.7,93.7 253.4,91.0"/>
<polyline points="146.3,108.4 152.0,110.0 157.6,105.9 163.2,107.3 168.9,109.3 174.5,99.4 180.1,94.2 185.8,91.0 191.4,98.7 197.0,102.7 202.7,101.3 208.3,99.4 213.9,102.1 219.6,98.8 225.2,100.7 230.8,101.5 236.5,107.8 242.1,103.5 247.7,106.9 253.4,109.7"/>
<polyline points="146.3,108.4 152.0,112.2 157.6,115.5 163.2,116.4 168.9,116.3 174.5,114.3 180.1,112.3 185.8,112.3 191.4,119.1 197.0,115.0 202.7,116.4 208.3,121.7 213.9,117.0 219.6,112.1 225.2,112.4 230.8,107.2 236.5,104.0 242.1,104.9 247.7,107.3 253.4,105.9"/>
<polyline points="146.3,108.4 152.0,112.5 157.6,113.4 163.2,118.9 168.9,119.4 174.5,122.0 180.1,118.8 185.8,113.6 191.4,110.3 197.0,115.1 202.7,114.2 208.3,108.5 213.9,106.8 219.6,106.1 225.2,104.8 230.8,102.9 236.5,115.0 242.1,120.8 247.7,121.2 253.4,125.2"/>
<polyline points="146.3,108.4 152.0,103.6 157.6,102.5 163.2,95.6 168.9,99.4 174.5,95.7 180.1,101.0 185.8,102.2 191.4,98.3 197.0,102.6 202.7,105.2 208.3,105.2 213.9,105.2 219.6,102.0 225.2,98.3 230.8,99.5 236.5,103.2 242.1,110.3 247.7,110.8 253.4,106.5"/>
<polyline points="146.3,108.4 152.0,109.9 157.6,113.8 163.2,109.1 168.9,106.4 174.5,99.5 180.1,97.8 185.8,86.1 191.4,72.8 197.0,71.5 202.7,65.2 208.3,61.6 213.9,63.7 219.6,59.4 225.2,76.3 230.8,77.8 236.5,78.2 242.1,83.6 247.7,89.9 253.4,89.5"/>
<polyline points="146.3,108.4 152.0,109.5 157.6,108.8 163.2,111.8 168.9,107.1 174.5,109.9 180.1,110.0 185.8,111.6 191.4,109.6 197.0,114.4 202.7,115.6 208.3,111.8 213.9,115.0 219.6,108.0 225.2,111.8 230.8,112.6 236.5,112.7 242.1,107.8 247.7,104.3 253.4,104.3"/>
<polyline points="146.3,108.4 152.0,111.6 157.6,107.5 163.2,103.9 168.9,103.1 174.5,95.8 180.1,98.6 185.8,94.7 191.4,100.6 197.0,102.3 202.7,102.3 208.3,103.9 213.9,98.9 219.6,96.6 225.2,104.7 230.8,109.5 236.5,106.8 242.1,112.9 247.7,116.3 253.4,112.5"/>
<polyline points="146.3,108.4 152.0,105.3 157.6,107.2 163.2,111.6 168.9,116.5 174.5,116.5 180.1,121.4 185.8,127.3 191.4,128.3 197.0,128.1 202.7,125.9 208.3,121.7 213.9,122.5 219.6,124.4 225.2,129.1 230.8,124.4 236.5,124.4 242.1,121.2 247.7,116.7 253.4,112.5"/>
<polyline points="146.3,108.4 152.0,111.7 157.6,113.1 163.2,113.6 168.9,115.2 174.5,117.1 180.1,115.1 185.8,119.0 191.4,120.8 197.0,122.6 202.7,122.8 208.3,123.6 213.9,122.5 219.6,119.9 225.2,122.3 230.8,121.7 236.5,119.0 242.1,117.2 247.7,118.8 253.4,122.4"/>
<polyline points="146.3,108.4 152.0,103.3 157.6,95.4 163.2,83.9 168.9,85.7 174.5,89.5 180.1,91.0 185.8,90.2 191.4,90.4 197.0,90.8 202.7,91.0 208.3,84.5 213.9,83.3 219.6,81.0 225.2,87.3 230.8,89.8 236.5,90.4 242.1,87.1 247.7,89.1 253.4,88.4"/>
<polyline points="146.3,108.4 152.0,113.2 157.6,116.6 163.2,120.7 168.9,123.3 174.5,119.5 180.1,114.3 185.8,108.5 191.4,108.9 197.0,105.4 202.7,97.9 208.3,98.3 213.9,99.7 219.6,95.7 225.2,99.8 230.8,97.5 236.5,101.5 242.1,92.4 247.7,81.1 253.4,87.3"/>
<polyline points="146.3,108.4 152.0,104.8 157.6,104.7 163.2,104.2 168.9,102.9 174.5,103.8 180.1,104.9 185.8,111.4 191.4,114.8 197.0,116.7 202.7,117.1 208.3,124.0 213.9,117.7 219.6,118.2 225.2,119.5 230.8,117.7 236.5,119.1 242.1,119.4 247.7,123.9 253.4,124.8"/>
<polyline points="146.3,108.4 152.0,105.3 157.6,108.1 163.2,113.4 168.9,110.4 174.5,112.3 180.1,111.6 185.8,110.5 191.4,100.0 197.0,104.3 202.7,100.7 208.3,101.1 213.9,98.3 219.6,100.1 225.2,99.1 230.8,95.1 236.5,101.4 242.1,99.6 247.7,97.6 253.4,97.0"/>
<polyline points="146.3,108.4 152.0,110.3 157.6,112.5 163.2,111.4 168.9,112.1 174.5,108.0 180.1,112.2 185.8,111.4 191.4,112.9 197.0,112.0 202.7,99.4 208.3,96.7 213.9,96.4 219.6,99.8 225.2,97.9 230.8,100.1 236.5,104.1 242.1,104.6 247.7,107.9 253.4,103.6"/>
<polyline points="146.3,108.4 152.0,97.7 157.6,104.4 163.2,103.0 168.9,114.3 174.5,118.8 180.1,122.0 185.8,120.9 191.4,123.7 197.0,128.0 202.7,125.3 208.3,125.1 213.9,123.8 219.6,123.3 225.2,123.0 230.8,127.0 236.5,123.4 242.1,124.2 247.7,118.6 253.4,114.2"/>
<polyline points="146.3,108.4 152.0,112.9 157.6,111.9 163.2,111.8 168.9,110.9 174.5,111.5 180.1,110.9 185.8,107.8 191.4,107.2 197.0,109.7 202.7,113.7 208.3,116.5 213.9,107.0 219.6,111.0 225.2,114.8 230.8,117.6 236.5,117.8 242.1,113.6 247.7,117.5 253.4,120.6"/>
<polyline points="146.3,108.4 152.0,111.2 157.6,103.2 163.2,115.1 168.9,112.1 174.5,109.3 180.1,110.8 185.8,112.6 191.4,112.1 197.0,112.6 202.7,106.9 208.3,104.9 213.9,102.1 219.6,100.4 225.2,98.7 230.8,96.3 236.5,101.3 242.1,101.6 247.7,100.0 253.4,100.0"/>
<polyline points="146.3,108.4 152.0,115.1 157.6,109.5 163.2,105.1 168.9,108.0 174.5,103.4 180.1,101.9 185.8,111.3 191.4,110.6 197.0,108.6 202.7,109.8 208.3,109.2 213.9,112.1 219.6,115.2 225.2,108.4 230.8,111.3 236.5,115.9 242.1,116.6 247.7,112.5 253.4,107.8"/>
<polyline points="146.3,108.4 152.0,111.4 157.6,119.8 163.2,121.1 168.9,123.3 174.5,126.5 180.1,127.8 185.8,127.4 191.4,132.3 197.0,127.1 202.7,121.4 208.3,121.9 213.9,117.4 219.6,119.4 225.2,119.0 230.8,116.5 236.5,115.3 242.1,103.4 247.7,107.1 253.4,105.6"/>
<polyline points="146.3,108.4 152.0,116.4 157.6,123.1 163.2,128.7 168.9,123.4 174.5,125.7 180.1,123.8 185.8,129.0 191.4,126.7 197.0,125.3 202.7,122.4 208.3,122.9 213.9,123.5 219.6,124.2 225.2,127.2 230.8,129.4 236.5,129.9 242.1,131.7 247.7,132.3 253.4,130.0"/>
<polyline points="146.3,108.4 152.0,108.2 157.6,109.3 163.2,111.2 168.9,117.0 174.5,119.6 180.1,116.8 185.8,117.8 191.4,115.0 197.0,118.6 202.7,115.4 208.3,117.2 213.9,118.4 219.6,114.0 225.2,105.4 230.8,101.0 236.5,102.7 242.1,106.9 247.7,101.0 253.4,96.0"/>
<polyline points="146.3,108.4 152.0,114.9 157.6,112.4 163.2,113.3 168.9,117.1 174.5,113.7 180.1,111.4 185.8,112.7 191.4,110.4 197.0,111.9 202.7,113.7 208.3,116.7 213.9,116.3 219.6,118.9 225.2,119.6 230.8,123.4 236.5,121.4 242.1,123.4 247.7,125.1 253.4,126.1"/>
<polyline points="146.3,108.4 152.0,111.4 157.6,115.4 163.2,119.4 168.9,121.1 174.5,125.4 180.1,126.4 185.8,128.2 191.4,130.5 197.0,129.9 202.7,130.8 208.3,132.4 213.9,131.7 219.6,133.6 225.2,132.8 230.8,132.3 236.5,133.5 242.1,134.0 247.7,136.4 253.4,140.6"/>
<polyline points="146.3,108.4 152.0,107.4 157.6,111.9 163.2,110.2 168.9,112.6 174.5,105.8 180.1,102.4 185.8,108.8 191.4,102.1 197.0,106.7 202.7,113.7 208.3,111.4 213.9,104.6 219.6,100.2 225.2,100.2 230.8,98.4 236.5,90.0 242.1,95.1 247.7,94.9 253.4,89.2"/>
<polyline points="146.3,108.4 152.0,109.9 157.6,111.4 163.2,107.8 168.9,106.2 174.5,105.9 180.1,107.4 185.8,113.4 191.4,114.0 197.0,112.9 202.7,112.1 208.3,119.9 213.9,120.4 219.6,115.8 225.2,112.5 230.8,116.2 236.5,118.4 242.1,118.3 247.7,113.1 253.4,115.9"/>
<polyline points="146.3,108.4 152.0,110.9 157.6,104.5 163.2,111.5 168.9,111.0 174.5,112.5 180.1,106.2 185.8,114.8 191.4,112.4 197.0,109.5 202.7,109.4 208.3,107.0 213.9,109.8 219.6,112.6 225.2,111.1 230.8,106.6 236.5,102.5 242.1,109.2 247.7,106.7 253.4,110.7"/>
<polyline points="146.3,108.4 152.0,112.0 157.6,116.6 163.2,115.8 168.9,116.9 174.5,112.2 180.1,111.3 185.8,113.3 191.4,113.1 197.0,105.5 202.7,106.2 208.3,115.4 213.9,113.7 219.6,119.3 225.2,122.5 230.8,121.1 236.5,116.6 242.1,118.7 247.7,119.5 253.4,114.5"/>
<polyline points="146.3,108.4 152.0,105.1 157.6,104.9 163.2,106.1 168.9,99.6 174.5,95.2 180.1,98.4 185.8,99.1 191.4,96.3 197.0,100.0 202.7,100.5 208.3,92.5 213.9,88.6 219.6,86.8 225.2,79.4 230.8,77.6 236.5,78.1 242.1,85.4 247.7,77.6 253.4,81.9"/>
<polyline points="146.3,108.4 152.0,106.5 157.6,109.7 163.2,108.9 168.9,102.2 174.5,100.0 180.1,97.9 185.8,104.5 191.4,107.0 197.0,104.9 202.7,103.6 208.3,109.2 213.9,105.1 219.6,103.5 225.2,107.7 230.8,114.3 236.5,112.5 242.1,113.2 247.7,120.8 253.4,117.8"/>
<polyline points="146.3,108.4 152.0,108.7 157.6,97.8 163.2,98.2 168.9,94.5 174.5,101.5 180.1,107.7 185.8,104.2 191.4,106.3 197.0,100.5 202.7,92.5 208.3,97.7 213.9,93.0 219.6,89.9 225.2,93.3 230.8,93.7 236.5,96.5 242.1,91.8 247.7,88.9 253.4,89.9"/>
<polyline points="146.3,108.4 152.0,115.7 157.6,112.9 163.2,105.7 168.9,104.3 174.5,106.6 180.1,106.4 185.8,110.8 191.4,108.7 197.0,102.4 202.7,103.4 208.3,98.8 213.9,93.5 219.6,102.2 225.2,106.1 230.8,107.2 236.5,103.8 242.1,98.5 247.7,98.0 253.4,95.8"/>
<polyline points="146.3,108.4 152.0,108.3 157.6,97.6 163.2,97.0 168.9,97.7 174.5,98.1 180.1,95.2 185.8,97.0 191.4,97.7 197.0,93.2 202.7,99.7 208.3,96.2 213.9,97.5 219.6,102.0 225.2,103.5 230.8,104.5 236.5,102.1 242.1,102.1 247.7,97.4 253.4,99.8"/>
<polyline points="146.3,108.4 152.0,106.2 157.6,108.2 163.2,113.2 168.9,111.5 174.5,110.5 180.1,112.0 185.8,111.1 191.4,103.8 197.0,103.6 202.7,98.6 208.3,95.0 213.9,95.0 219.6,95.3 225.2,100.7 230.8,102.8 236.5,101.9 242.1,100.9 247.7,104.0 253.4,100.1"/>
<polyline points="146.3,108.4 152.0,113.1 157.6,109.0 163.2,114.0 168.9,116.8 174.5,117.7 180.1,117.7 185.8,113.6 191.4,114.2 197.0,113.7 202.7,111.7 208.3,109.1 213.9,110.2 219.6,110.9 225.2,115.6 230.8,115.7 236.5,117.9 242.1,121.5 247.7,121.4 253.4,126.5"/>
<polyline points="146.3,108.4 152.0,101.3 157.6,101.1 163.2,96.1 168.9,94.7 174.5,88.6 180.1,92.1 185.8,94.7 191.4,92.8 197.0,94.7 202.7,93.0 208.3,90.6 213.9,99.0 219.6,96.5 225.2,102.8 230.8,99.1 236.5,103.2 242.1,100.3 247.7,107.5 253.4,109.0"/>
<polyline points="146.3,108.4 152.0,106.0 157.6,98.1 163.2,94.3 168.9,96.1 174.5,97.4 180.1,97.1 185.8,103.8 191.4,106.7 197.0,108.5 202.7,107.1 208.3,101.8 213.9,97.7 219.6,99.3 225.2,102.9 230.8,100.4 236.5,105.7 242.1,106.9 247.7,98.3 253.4,90.2"/>
<polyline points="146.3,108.4 152.0,105.6 157.6,100.8 163.2,102.0 168.9,103.2 174.5,108.4 180.1,106.9 185.8,107.0 191.4,96.7 197.0,99.7 202.7,99.1 208.3,99.8 213.9,96.7 219.6,99.5 225.2,108.0 230.8,110.3 236.5,109.7 242.1,108.1 247.7,108.0 253.4,106.1"/>
<polyline points="146.3,108.4 152.0,106.3 157.6,107.9 163.2,108.5 168.9,107.5 174.5,109.0 180.1,106.5 185.8,103.5 191.4,95.9 197.0,97.8 202.7,99.2 208.3,100.8 213.9,96.2 219.6,96.0 225.2,92.0 230.8,96.1 236.5,96.9 242.1,89.3 247.7,94.0 253.4,91.9"/>
<polyline points="146.3,108.4 152.0,104.4 157.6,106.9 163.2,109.4 168.9,103.0 174.5,101.4 180.1,103.0 185.8,99.6 191.4,98.1 197.0,102.6 202.7,101.6 208.3,99.4 213.9,93.6 219.6,97.2 225.2,94.2 230.8,96.6 236.5,106.2 242.1,105.0 247.7,105.3 253.4,102.5"/>
<polyline points="146.3,108.4 152.0,109.6 157.6,109.0 163.2,102.2 168.9,103.5 174.5,105.9 180.1,108.6 185.8,112.2 191.4,111.7 197.0,109.2 202.7,113.2 208.3,107.1 213.9,101.0 219.6,101.0 225.2,99.2 230.8,97.6 236.5,96.9 242.1,95.3 247.7,96.0 253.4,93.6"/>
<polyline points="146.3,108.4 152.0,113.3 157.6,111.0 163.2,107.3 168.9,102.9 174.5,105.3 180.1,103.2 185.8,103.1 191.4,103.0 197.0,107.0 202.7,101.8 208.3,99.3 213.9,96.7 219.6,94.2 225.2,93.3 230.8,83.5 236.5,92.1 242.1,90.8 247.7,97.2 253.4,102.3"/>
<polyline points="146.3,108.4 152.0,102.3 157.6,108.8 163.2,106.8 168.9,112.9 174.5,113.1 180.1,111.0 185.8,113.2 191.4,109.4 197.0,113.4 202.7,113.8 208.3,112.9 213.9,112.3 219.6,106.9 225.2,110.8 230.8,110.7 236.5,114.8 242.1,115.1 247.7,115.4 253.4,122.3"/>
</g>
<g fill="none" stroke="#ff0000" stroke-opacity="0.45" stroke-width="1.0" stroke-linejoin="round">
<polyline points="146.3,108.4 152.0,108.6 157.6,115.4 163.2,117.0 168.9,115.6 174.5,117.3 180.1,121.4 185.8,117.3 191.4,112.5 197.0,110.4 202.7,111.9 208.3,115.2 213.9,109.3 219.6,109.8 225.2,113.7 230.8,122.5 236.5,125.3 242.1,125.8 247.7,129.9 253.4,124.4"/>
<polyline points="146.3,108.4 152.0,105.5 157.6,106.1 163.2,105.7 168.9,108.3 174.5,116.8 180.1,111.8 185.8,108.3 191.4,106.8 197.0,106.5 202.7,108.8 208.3,104.5 213.9,109.9 219.6,104.0 225.2,104.7 230.8,98.8 236.5,95.1 242.1,95.6 247.7,91.8 253.4,98.3"/>
<polyline points="146.3,108.4 152.0,110.3 157.6,109.2 163.2,108.6 168.9,107.0 174.5,109.7 180.1,105.1 185.8,102.3 191.4,102.0 197.0,99.6 202.7,98.4 208.3,99.4 213.9,96.5 219.6,97.6 225.2,91.6 230.8,90.4 236.5,92.8 242.1,100.5 247.7,100.9 253.4,99.2"/>
<polyline points="146.3,108.4 152.0,104.9 157.6,107.9 163.2,112.6 168.9,118.9 174.5,121.2 180.1,122.1 185.8,123.0 191.4,124.8 197.0,121.6 202.7,122.4 208.3,123.1 213.9,122.7 219.6,118.5 225.2,117.6 230.8,114.2 236.5,116.4 242.1,116.3 247.7,113.0 253.4,107.4"/>
<polyline points="146.3,108.4 152.0,109.4 157.6,105.6 163.2,112.5 168.9,114.2 174.5,111.6 180.1,107.3 185.8,109.6 191.4,108.7 197.0,110.3 202.7,111.8 208.3,113.6 213.9,113.7 219.6,108.4 225.2,109.4 230.8,109.8 236.5,103.9 242.1,104.0 247.7,106.9 253.4,105.2"/>
<polyline points="146.3,108.4 152.0,116.3 157.6,111.7 163.2,108.9 168.9,110.4 174.5,106.7 180.1,102.5 185.8,101.8 191.4,92.7 197.0,93.8 202.7,94.3 208.3,87.0 213.9,89.1 219.6,91.8 225.2,92.9 230.8,82.8 236.5,86.4 242.1,92.4 247.7,89.9 253.4,87.9"/>
<polyline points="146.3,108.4 152.0,110.4 157.6,108.4 163.2,110.5 168.9,116.2 174.5,117.1 180.1,113.1 185.8,118.1 191.4,118.1 197.0,119.2 202.7,122.1 208.3,122.0 213.9,126.8 219.6,125.9 225.2,126.2 230.8,117.6 236.5,115.4 242.1,117.6 247.7,116.1 253.4,119.9"/>
<polyline points="146.3,108.4 152.0,112.8 157.6,112.8 163.2,109.9 168.9,109.5 174.5,111.4 180.1,103.8 185.8,103.5 191.4,106.5 197.0,103.2 202.7,103.4 208.3,98.9 213.9,102.5 219.6,97.0 225.2,92.1 230.8,94.6 236.5,91.7 242.1,92.0 247.7,94.5 253.4,91.6"/>
<polyline points="146.3,108.4 152.0,102.5 157.6,105.1 163.2,109.1 168.9,104.7 174.5,104.0 180.1,103.0 185.8,98.4 191.4,94.6 197.0,101.1 202.7,97.4 208.3,94.8 213.9,97.3 219.6,96.5 225.2,92.4 230.8,92.6 236.5,91.0 242.1,88.8 247.7,89.8 253.4,83.2"/>
<polyline points="146.3,108.4 152.0,108.6 157.6,107.1 163.2,103.9 168.9,104.0 174.5,104.1 180.1,108.4 185.8,108.7 191.4,101.8 197.0,112.2 202.7,114.5 208.3,122.7 213.9,124.0 219.6,120.1 225.2,118.3 230.8,120.8 236.5,123.4 242.1,128.4 247.7,128.2 253.4,129.0"/>
<polyline points="146.3,108.4 152.0,103.1 157.6,102.4 163.2,100.5 168.9,104.7 174.5,103.9 180.1,98.6 185.8,105.0 191.4,106.1 197.0,107.9 202.7,101.1 208.3,104.1 213.9,101.4 219.6,97.6 225.2,98.9 230.8,89.2 236.5,88.4 242.1,88.9 247.7,80.8 253.4,80.1"/>
<polyline points="146.3,108.4 152.0,110.3 157.6,109.5 163.2,115.1 168.9,122.5 174.5,121.6 180.1,121.9 185.8,121.1 191.4,117.4 197.0,113.7 202.7,112.6 208.3,117.1 213.9,111.4 219.6,117.5 225.2,120.5 230.8,116.7 236.5,114.0 242.1,109.7 247.7,109.2 253.4,103.9"/>
<polyline points="146.3,108.4 152.0,103.7 157.6,100.0 163.2,99.4 168.9,97.3 174.5,101.4 180.1,96.8 185.8,97.2 191.4,99.0 197.0,98.0 202.7,92.7 208.3,91.0 213.9,80.7 219.6,74.5 225.2,67.9 230.8,55.9 236.5,58.0 242.1,58.0 247.7,55.3 253.4,62.0"/>
<polyline points="146.3,108.4 152.0,112.4 157.6,108.9 163.2,111.1 168.9,109.7 174.5,113.7 180.1,106.1 185.8,103.3 191.4,102.3 197.0,98.2 202.7,98.4 208.3,96.6 213.9,101.9 219.6,102.7 225.2,102.3 230.8,97.3 236.5,97.5 242.1,99.9 247.7,101.3 253.4,100.5"/>
<polyline points="146.3,108.4 152.0,104.5 157.6,108.3 163.2,100.0 168.9,105.2 174.5,108.4 180.1,106.5 185.8,107.1 191.4,98.0 197.0,93.7 202.7,92.9 208.3,94.4 213.9,95.8 219.6,94.8 225.2,89.5 230.8,88.7 236.5,80.3 242.1,90.1 247.7,91.7 253.4,87.6"/>
<polyline points="146.3,108.4 152.0,109.0 157.6,112.5 163.2,113.3 168.9,112.4 174.5,107.6 180.1,104.9 185.8,107.4 191.4,111.0 197.0,111.7 202.7,107.1 208.3,105.9 213.9,107.9 219.6,111.7 225.2,107.9 230.8,103.7 236.5,106.2 242.1,109.1 247.7,109.6 253.4,109.7"/>
<polyline points="146.3,108.4 152.0,107.3 157.6,103.9 163.2,102.3 168.9,98.4 174.5,96.8 180.1,91.6 185.8,95.5 191.4,94.1 197.0,83.4 202.7,70.2 208.3,72.7 213.9,65.1 219.6,60.2 225.2,63.4 230.8,70.4 236.5,68.5 242.1,69.6 247.7,64.3 253.4,70.0"/>
<polyline points="146.3,108.4 152.0,104.5 157.6,103.0 163.2,102.5 168.9,106.1 174.5,103.1 180.1,102.2 185.8,107.0 191.4,108.9 197.0,108.6 202.7,106.4 208.3,105.4 213.9,100.1 219.6,104.2 225.2,102.6 230.8,98.5 236.5,93.9 242.1,93.8 247.7,92.2 253.4,93.7"/>
<polyline points="146.3,108.4 152.0,106.1 157.6,106.6 163.2,100.4 168.9,102.5 174.5,100.6 180.1,97.5 185.8,98.3 191.4,103.5 197.0,111.4 202.7,110.5 208.3,112.3 213.9,115.6 219.6,112.6 225.2,113.9 230.8,106.4 236.5,98.2 242.1,93.8 247.7,98.3 253.4,102.0"/>
<polyline points="146.3,108.4 152.0,111.3 157.6,101.2 163.2,102.7 168.9,109.2 174.5,106.8 180.1,101.2 185.8,105.6 191.4,111.0 197.0,114.9 202.7,117.0 208.3,121.1 213.9,121.9 219.6,119.9 225.2,119.3 230.8,111.3 236.5,110.2 242.1,111.1 247.7,109.0 253.4,112.2"/>
<polyline points="146.3,108.4 152.0,99.3 157.6,96.8 163.2,99.9 168.9,95.5 174.5,95.2 180.1,95.0 185.8,93.9 191.4,94.3 197.0,86.1 202.7,87.8 208.3,85.9 213.9,88.4 219.6,80.7 225.2,82.3 230.8,85.8 236.5,91.7 242.1,94.8 247.7,82.9 253.4,79.1"/>
<polyline points="146.3,108.4 152.0,112.2 157.6,108.8 163.2,109.4 168.9,107.0 174.5,106.3 180.1,103.4 185.8,108.7 191.4,108.0 197.0,113.5 202.7,106.5 208.3,96.7 213.9,87.9 219.6,82.9 225.2,86.3 230.8,93.8 236.5,100.6 242.1,102.1 247.7,102.8 253.4,98.3"/>
<polyline points="146.3,108.4 152.0,112.2 157.6,117.2 163.2,119.4 168.9,119.0 174.5,121.0 180.1,117.7 185.8,116.3 191.4,115.0 197.0,112.5 202.7,116.3 208.3,110.1 213.9,111.4 219.6,116.0 225.2,117.0 230.8,116.7 236.5,115.2 242.1,112.5 247.7,108.0 253.4,106.0"/>
<polyline points="146.3,108.4 152.0,113.8 157.6,115.3 163.2,113.6 168.9,114.6 174.5,116.7 180.1,113.6 185.8,106.4 191.4,106.5 197.0,107.7 202.7,100.9 208.3,102.9 213.9,102.5 219.6,108.5 225.2,115.9 230.8,119.6 236.5,119.6 242.1,116.1 247.7,117.0 253.4,113.5"/>
<polyline points="146.3,108.4 152.0,108.4 157.6,105.9 163.2,107.6 168.9,108.6 174.5,110.3 180.1,103.8 185.8,98.6 191.4,101.4 197.0,102.2 202.7,101.0 208.3,105.8 213.9,102.4 219.6,108.2 225.2,105.4 230.8,102.1 236.5,99.9 242.1,100.0 247.7,103.0 253.4,102.2"/>
<polyline points="146.3,108.4 152.0,107.7 157.6,107.1 163.2,106.2 168.9,100.8 174.5,103.7 180.1,97.6 185.8,92.9 191.4,96.4 197.0,92.2 202.7,99.5 208.3,95.5 213.9,96.4 219.6,89.6 225.2,90.3 230.8,91.2 236.5,94.7 242.1,93.8 247.7,92.6 253.4,81.8"/>
<polyline points="146.3,108.4 152.0,112.9 157.6,113.1 163.2,117.2 168.9,119.3 174.5,113.2 180.1,112.3 185.8,111.6 191.4,113.6 197.0,119.4 202.7,113.8 208.3,116.3 213.9,119.6 219.6,116.8 225.2,120.7 230.8,127.7 236.5,126.3 242.1,126.6 247.7,124.3 253.4,127.0"/>
<polyline points="146.3,108.4 152.0,106.1 157.6,106.2 163.2,97.4 168.9,90.6 174.5,88.2 180.1,87.9 185.8,95.6 191.4,100.4 197.0,106.0 202.7,101.1 208.3,95.5 213.9,99.0 219.6,94.0 225.2,94.3 230.8,95.7 236.5,96.1 242.1,97.1 247.7,94.8 253.4,86.8"/>
<polyline points="146.3,108.4 152.0,103.8 157.6,103.3 163.2,106.1 168.9,106.3 174.5,111.1 180.1,115.7 185.8,119.2 191.4,118.8 197.0,114.7 202.7,114.3 208.3,115.1 213.9,116.6 219.6,109.6 225.2,110.2 230.8,106.3 236.5,108.6 242.1,115.7 247.7,115.8 253.4,114.6"/>
<polyline points="146.3,108.4 152.0,107.4 157.6,104.5 163.2,100.7 168.9,92.2 174.5,94.4 180.1,93.4 185.8,89.3 191.4,84.9 197.0,89.0 202.7,93.8 208.3,89.8 213.9,78.8 219.6,80.1 225.2,79.3 230.8,71.8 236.5,71.7 242.1,77.2 247.7,75.5 253.4,77.6"/>
<polyline points="146.3,108.4 152.0,108.0 157.6,105.4 163.2,110.5 168.9,110.6 174.5,110.8 180.1,106.9 185.8,110.7 191.4,114.1 197.0,110.5 202.7,111.2 208.3,107.8 213.9,106.1 219.6,100.4 225.2,98.8 230.8,89.6 236.5,91.6 242.1,91.7 247.7,89.5 253.4,89.2"/>
<polyline points="146.3,108.4 152.0,104.3 157.6,98.2 163.2,95.6 168.9,89.7 174.5,91.6 180.1,92.9 185.8,88.8 191.4,95.4 197.0,96.5 202.7,92.8 208.3,91.5 213.9,95.3 219.6,94.7 225.2,101.4 230.8,97.2 236.5,102.8 242.1,96.8 247.7,93.2 253.4,97.9"/>
<polyline points="146.3,108.4 152.0,106.4 157.6,103.4 163.2,106.8 168.9,106.1 174.5,107.1 180.1,111.0 185.8,108.9 191.4,104.4 197.0,104.5 202.7,104.3 208.3,106.0 213.9,110.6 219.6,100.7 225.2,104.3 230.8,104.4 236.5,105.5 242.1,97.5 247.7,101.3 253.4,97.9"/>
<polyline points="146.3,108.4 152.0,111.1 157.6,112.8 163.2,114.8 168.9,115.6 174.5,110.4 180.1,107.6 185.8,106.5 191.4,109.2 197.0,115.6 202.7,125.1 208.3,121.0 213.9,124.5 219.6,117.5 225.2,118.0 230.8,123.0 236.5,126.7 242.1,120.0 247.7,122.2 253.4,121.9"/>
<polyline points="146.3,108.4 152.0,106.6 157.6,105.3 163.2,104.3 168.9,103.1 174.5,103.9 180.1,99.6 185.8,98.7 191.4,97.2 197.0,93.5 202.7,92.1 208.3,86.3 213.9,83.8 219.6,85.8 225.2,83.4 230.8,81.6 236.5,76.5 242.1,73.9 247.7,59.6 253.4,56.9"/>
<polyline points="146.3,108.4 152.0,106.5 157.6,102.8 163.2,109.5 168.9,97.4 174.5,102.7 180.1,94.6 185.8,89.5 191.4,92.1 197.0,78.7 202.7,79.6 208.3,80.8 213.9,77.5 219.6,80.0 225.2,81.3 230.8,79.4 236.5,85.9 242.1,79.7 247.7,78.8 253.4,74.8"/>
<polyline points="146.3,108.4 152.0,108.0 157.6,101.8 163.2,107.4 168.9,106.9 174.5,105.7 180.1,94.8 185.8,88.1 191.4,81.9 197.0,88.1 202.7,94.1 208.3,94.9 213.9,95.7 219.6,95.8 225.2,91.5 230.8,89.6 236.5,85.9 242.1,84.8 247.7,85.0 253.4,80.8"/>
<polyline points="146.3,108.4 152.0,103.4 157.6,107.6 163.2,107.9 168.9,103.3 174.5,101.8 180.1,105.8 185.8,103.4 191.4,105.7 197.0,101.3 202.7,101.0 208.3,102.9 213.9,108.4 219.6,111.0 225.2,112.4 230.8,113.2 236.5,112.5 242.1,116.0 247.7,110.1 253.4,110.3"/>
<polyline points="146.3,108.4 152.0,109.4 157.6,112.4 163.2,115.2 168.9,113.4 174.5,114.9 180.1,112.5 185.8,110.3 191.4,106.5 197.0,103.0 202.7,110.6 208.3,108.3 213.9,104.5 219.6,103.3 225.2,99.0 230.8,101.5 236.5,95.2 242.1,92.7 247.7,92.3 253.4,94.5"/>
<polyline points="146.3,108.4 152.0,116.4 157.6,111.5 163.2,110.4 168.9,116.7 174.5,111.0 180.1,112.9 185.8,107.3 191.4,105.4 197.0,104.2 202.7,106.2 208.3,107.5 213.9,105.3 219.6,102.7 225.2,102.2 230.8,107.9 236.5,103.9 242.1,100.9 247.7,101.4 253.4,97.4"/>
<polyline points="146.3,108.4 152.0,112.2 157.6,110.0 163.2,112.4 168.9,102.1 174.5,108.4 180.1,109.6 185.8,109.7 191.4,108.1 197.0,106.3 202.7,107.8 208.3,107.0 213.9,104.0 219.6,106.1 225.2,104.6 230.8,104.4 236.5,103.8 242.1,104.8 247.7,102.8 253.4,105.1"/>
<polyline points="146.3,108.4 152.0,111.1 157.6,118.9 163.2,117.2 168.9,123.4 174.5,120.7 180.1,116.2 185.8,116.7 191.4,113.9 197.0,124.6 202.7,127.3 208.3,121.4 213.9,115.4 219.6,112.2 225.2,111.9 230.8,110.5 236.5,114.4 242.1,111.1 247.7,109.5 253.4,109.9"/>
<polyline points="146.3,108.4 152.0,107.4 157.6,108.5 163.2,107.8 168.9,109.2 174.5,109.8 180.1,110.9 185.8,107.2 191.4,103.7 197.0,102.7 202.7,103.8 208.3,100.5 213.9,100.5 219.6,102.7 225.2,105.4 230.8,104.7 236.5,107.6 242.1,105.8 247.7,104.4 253.4,99.7"/>
<polyline points="146.3,108.4 152.0,106.2 157.6,107.3 163.2,105.3 168.9,110.3 174.5,108.1 180.1,97.8 185.8,94.1 191.4,89.4 197.0,88.1 202.7,87.8 208.3,81.2 213.9,83.0 219.6,79.3 225.2,81.2 230.8,82.0 236.5,73.2 242.1,70.9 247.7,74.0 253.4,69.2"/>
<polyline points="146.3,108.4 152.0,107.8 157.6,105.4 163.2,100.0 168.9,112.3 174.5,108.1 180.1,107.6 185.8,111.2 191.4,115.9 197.0,114.4 202.7,114.0 208.3,112.6 213.9,106.8 219.6,112.0 225.2,112.7 230.8,116.9 236.5,111.5 242.1,112.5 247.7,108.8 253.4,103.1"/>
<polyline points="146.3,108.4 152.0,113.1 157.6,114.4 163.2,115.1 168.9,114.8 174.5,121.4 180.1,120.1 185.8,123.3 191.4,124.5 197.0,128.6 202.7,129.7 208.3,130.2 213.9,134.6 219.6,131.5 225.2,134.5 230.8,124.9 236.5,124.9 242.1,121.2 247.7,124.1 253.4,128.2"/>
<polyline points="146.3,108.4 152.0,110.3 157.6,109.1 163.2,110.0 168.9,110.8 174.5,109.9 180.1,107.1 185.8,112.2 191.4,104.7 197.0,95.7 202.7,99.1 208.3,103.7 213.9,99.4 219.6,95.5 225.2,98.4 230.8,96.6 236.5,91.4 242.1,93.5 247.7,92.7 253.4,96.8"/>
<polyline points="146.3,108.4 152.0,110.2 157.6,105.9 163.2,104.8 168.9,101.5 174.5,102.6 180.1,98.1 185.8,103.8 191.4,107.7 197.0,113.7 202.7,121.5 208.3,122.1 213.9,112.0 219.6,112.8 225.2,112.0 230.8,112.2 236.5,114.2 242.1,107.9 247.7,99.8 253.4,98.6"/>
<polyline points="146.3,108.4 152.0,106.7 157.6,108.3 163.2,104.6 168.9,105.8 174.5,106.3 180.1,105.8 185.8,109.9 191.4,109.9 197.0,107.3 202.7,106.1 208.3,104.3 213.9,104.9 219.6,103.4 225.2,100.1 230.8,98.6 236.5,96.5 242.1,95.0 247.7,95.4 253.4,94.6"/>
<polyline points="146.3,108.4 152.0,108.8 157.6,102.3 163.2,100.9 168.9,108.2 174.5,108.7 180.1,111.4 185.8,113.1 191.4,110.7 197.0,110.3 202.7,117.0 208.3,116.4 213.9,120.7 219.6,119.0 225.2,110.6 230.8,112.7 236.5,105.9 242.1,104.9 247.7,102.3 253.4,109.0"/>
<polyline points="146.3,108.4 152.0,99.4 157.6,91.8 163.2,97.1 168.9,100.0 174.5,98.8 180.1,97.9 185.8,96.9 191.4,90.9 197.0,92.2 202.7,94.0 208.3,95.9 213.9,100.0 219.6,92.8 225.2,89.8 230.8,83.3 236.5,79.7 242.1,80.1 247.7,86.5 253.4,86.7"/>
<polyline points="146.3,108.4 152.0,109.4 157.6,103.4 163.2,99.2 168.9,98.3 174.5,95.7 180.1,97.8 185.8,102.8 191.4,99.7 197.0,107.9 202.7,103.5 208.3,105.4 213.9,106.3 219.6,109.1 225.2,98.6 230.8,105.2 236.5,102.1 242.1,96.7 247.7,100.0 253.4,101.2"/>
<polyline points="146.3,108.4 152.0,112.7 157.6,108.3 163.2,114.1 168.9,113.1 174.5,114.7 180.1,115.0 185.8,114.1 191.4,113.9 197.0,114.9 202.7,112.6 208.3,110.4 213.9,109.3 219.6,98.5 225.2,101.9 230.8,100.0 236.5,101.0 242.1,109.4 247.7,107.3 253.4,107.0"/>
<polyline points="146.3,108.4 152.0,102.0 157.6,89.0 163.2,85.8 168.9,89.9 174.5,81.3 180.1,77.6 185.8,83.3 191.4,77.6 197.0,81.3 202.7,82.8 208.3,87.8 213.9,86.1 219.6,81.2 225.2,86.8 230.8,75.6 236.5,76.4 242.1,74.7 247.7,73.3 253.4,79.8"/>
<polyline points="146.3,108.4 152.0,107.8 157.6,98.9 163.2,99.1 168.9,97.7 174.5,101.5 180.1,101.1 185.8,98.8 191.4,94.1 197.0,93.6 202.7,93.9 208.3,93.5 213.9,96.9 219.6,98.3 225.2,98.5 230.8,87.2 236.5,87.5 242.1,87.5 247.7,89.0 253.4,81.5"/>
<polyline points="146.3,108.4 152.0,107.7 157.6,110.1 163.2,110.3 168.9,107.3 174.5,107.8 180.1,102.8 185.8,100.1 191.4,97.0 197.0,94.4 202.7,94.3 208.3,90.8 213.9,88.2 219.6,87.5 225.2,86.7 230.8,83.3 236.5,81.3 242.1,85.4 247.7,90.4 253.4,93.0"/>
<polyline points="146.3,108.4 152.0,103.1 157.6,99.7 163.2,94.7 168.9,92.6 174.5,95.9 180.1,88.9 185.8,85.8 191.4,87.5 197.0,86.1 202.7,84.7 208.3,84.3 213.9,91.1 219.6,87.9 225.2,85.3 230.8,83.6 236.5,77.5 242.1,71.9 247.7,75.7 253.4,75.7"/>
<polyline points="146.3,108.4 152.0,103.4 157.6,106.9 163.2,100.6 168.9,96.7 174.5,91.9 180.1,94.1 185.8,93.3 191.4,91.3 197.0,91.3 202.7,87.8 208.3,81.0 213.9,81.5 219.6,78.1 225.2,82.3 230.8,81.8 236.5,75.8 242.1,79.9 247.7,81.0 253.4,71.2"/>
<polyline points="146.3,108.4 152.0,101.1 157.6,98.4 163.2,100.9 168.9,97.5 174.5,95.4 180.1,86.5 185.8,81.5 191.4,81.7 197.0,80.4 202.7,81.9 208.3,74.6 213.9,75.9 219.6,71.6 225.2,73.8 230.8,78.7 236.5,82.0 242.1,82.0 247.7,79.7 253.4,73.0"/>
<polyline points="146.3,108.4 152.0,106.7 157.6,105.1 163.2,106.4 168.9,102.2 174.5,100.8 180.1,101.0 185.8,102.6 191.4,111.7 197.0,113.8 202.7,108.1 208.3,104.3 213.9,100.8 219.6,99.7 225.2,101.5 230.8,101.1 236.5,99.7 242.1,97.5 247.7,94.6 253.4,84.8"/>
<polyline points="146.3,108.4 152.0,107.9 157.6,102.7 163.2,104.5 168.9,98.8 174.5,101.0 180.1,99.1 185.8,100.6 191.4,95.2 197.0,94.1 202.7,94.1 208.3,102.3 213.9,106.9 219.6,107.1 225.2,104.8 230.8,103.0 236.5,95.3 242.1,96.9 247.7,89.0 253.4,96.7"/>
<polyline points="146.3,108.4 152.0,95.8 157.6,97.5 163.2,95.5 168.9,95.5 174.5,98.3 180.1,91.2 185.8,94.5 191.4,93.1 197.0,92.2 202.7,92.1 208.3,93.5 213.9,92.6 219.6,92.6 225.2,89.9 230.8,89.1 236.5,88.7 242.1,87.9 247.7,82.4 253.4,81.9"/>
<polyline points="146.3,108.4 152.0,106.7 157.6,101.8 163.2,104.4 168.9,99.1 174.5,96.9 180.1,100.2 185.8,102.2 191.4,105.1 197.0,111.0 202.7,105.9 208.3,99.6 213.9,97.4 219.6,96.7 225.2,94.8 230.8,100.2 236.5,95.8 242.1,95.8 247.7,98.7 253.4,96.3"/>
<polyline points="146.3,108.4 152.0,112.7 157.6,118.8 163.2,108.3 168.9,107.3 174.5,112.3 180.1,109.1 185.8,108.5 191.4,108.6 197.0,107.6 202.7,110.5 208.3,108.5 213.9,105.3 219.6,108.7 225.2,114.1 230.8,111.4 236.5,112.3 242.1,106.0 247.7,105.7 253.4,102.3"/>
<polyline points="146.3,108.4 152.0,106.0 157.6,105.1 163.2,96.7 168.9,96.2 174.5,102.1 180.1,95.1 185.8,104.1 191.4,101.3 197.0,101.3 202.7,96.7 208.3,89.9 213.9,92.6 219.6,86.4 225.2,95.6 230.8,101.1 236.5,100.9 242.1,95.1 247.7,97.3 253.4,95.6"/>
<polyline points="146.3,108.4 152.0,109.6 157.6,108.4 163.2,106.2 168.9,110.5 174.5,109.6 180.1,109.5 185.8,108.8 191.4,110.1 197.0,107.6 202.7,103.1 208.3,104.5 213.9,104.6 219.6,105.8 225.2,105.0 230.8,106.5 236.5,96.6 242.1,97.6 247.7,95.4 253.4,82.5"/>
<polyline points="146.3,108.4 152.0,101.1 157.6,96.0 163.2,86.1 168.9,81.8 174.5,80.1 180.1,78.5 185.8,72.6 191.4,70.2 197.0,69.9 202.7,68.7 208.3,63.6 213.9,67.6 219.6,60.3 225.2,58.1 230.8,56.1 236.5,52.5 242.1,47.5 247.7,45.1 253.4,39.1"/>
<polyline points="146.3,108.4 152.0,104.0 157.6,106.5 163.2,108.6 168.9,109.4 174.5,109.6 180.1,106.2 185.8,101.1 191.4,103.3 197.0,109.1 202.7,110.4 208.3,112.0 213.9,112.3 219.6,113.8 225.2,108.1 230.8,99.7 236.5,98.8 242.1,95.0 247.7,95.9 253.4,96.6"/>
<polyline points="146.3,108.4 152.0,106.7 157.6,108.1 163.2,100.2 168.9,101.5 174.5,97.2 180.1,92.7 185.8,90.1 191.4,87.7 197.0,88.2 202.7,90.0 208.3,89.4 213.9,88.2 219.6,86.3 225.2,87.0 230.8,89.1 236.5,86.4 242.1,81.8 247.7,79.7 253.4,77.1"/>
<polyline points="146.3,108.4 152.0,109.0 157.6,105.2 163.2,108.0 168.9,105.9 174.5,101.6 180.1,101.4 185.8,98.7 191.4,99.6 197.0,99.3 202.7,95.6 208.3,86.2 213.9,87.7 219.6,87.9 225.2,94.9 230.8,98.4 236.5,97.6 242.1,96.5 247.7,92.5 253.4,90.1"/>
<polyline points="146.3,108.4 152.0,101.5 157.6,99.4 163.2,95.4 168.9,96.0 174.5,89.7 180.1,88.6 185.8,98.1 191.4,93.1 197.0,94.4 202.7,86.5 208.3,80.8 213.9,79.4 219.6,76.8 225.2,73.9 230.8,75.5 236.5,71.9 242.1,70.2 247.7,69.7 253.4,64.6"/>
<polyline points="146.3,108.4 152.0,111.2 157.6,117.4 163.2,115.8 168.9,113.3 174.5,115.1 180.1,114.6 185.8,117.9 191.4,115.4 197.0,114.0 202.7,113.9 208.3,110.0 213.9,106.5 219.6,110.4 225.2,114.3 230.8,111.0 236.5,109.1 242.1,107.4 247.7,108.4 253.4,103.1"/>
<polyline points="146.3,108.4 152.0,106.7 157.6,112.1 163.2,111.0 168.9,111.9 174.5,110.1 180.1,109.1 185.8,110.8 191.4,103.6 197.0,102.1 202.7,104.0 208.3,96.7 213.9,95.4 219.6,94.1 225.2,95.2 230.8,93.7 236.5,88.3 242.1,92.0 247.7,94.5 253.4,88.8"/>
<polyline points="146.3,108.4 152.0,110.1 157.6,109.7 163.2,111.4 168.9,109.1 174.5,113.9 180.1,112.8 185.8,104.1 191.4,109.6 197.0,111.1 202.7,99.5 208.3,101.7 213.9,107.5 219.6,103.0 225.2,99.6 230.8,89.6 236.5,88.8 242.1,91.0 247.7,91.8 253.4,92.3"/>
<polyline points="146.3,108.4 152.0,102.0 157.6,102.5 163.2,100.1 168.9,97.9 174.5,101.5 180.1,104.1 185.8,102.5 191.4,98.8 197.0,93.3 202.7,97.6 208.3,92.8 213.9,98.0 219.6,99.4 225.2,97.7 230.8,108.0 236.5,104.8 242.1,112.9 247.7,106.6 253.4,104.3"/>
<polyline points="146.3,108.4 152.0,110.5 157.6,111.0 163.2,99.9 168.9,103.7 174.5,104.7 180.1,103.3 185.8,105.5 191.4,105.5 197.0,105.7 202.7,103.2 208.3,108.0 213.9,109.3 219.6,108.0 225.2,112.1 230.8,112.0 236.5,113.0 242.1,112.0 247.7,115.9 253.4,116.5"/>
<polyline points="146.3,108.4 152.0,110.0 157.6,111.0 163.2,113.0 168.9,111.3 174.5,116.1 180.1,112.0 185.8,108.8 191.4,110.4 197.0,110.2 202.7,110.1 208.3,115.9 213.9,115.6 219.6,114.0 225.2,112.2 230.8,116.4 236.5,113.1 242.1,110.0 247.7,115.5 253.4,109.2"/>
<polyline points="146.3,108.4 152.0,106.2 157.6,103.9 163.2,104.6 168.9,100.5 174.5,108.3 180.1,104.4 185.8,104.7 191.4,102.1 197.0,99.6 202.7,102.1 208.3,103.1 213.9,105.7 219.6,107.9 225.2,107.3 230.8,107.0 236.5,112.9 242.1,107.1 247.7,104.4 253.4,99.0"/>
<polyline points="146.3,108.4 152.0,107.6 157.6,100.3 163.2,101.3 168.9,106.3 174.5,105.0 180.1,105.3 185.8,96.5 191.4,95.3 197.0,88.7 202.7,92.5 208.3,85.6 213.9,88.5 219.6,96.4 225.2,95.8 230.8,99.7 236.5,102.2 242.1,98.2 247.7,97.1 253.4,97.3"/>
<polyline points="146.3,108.4 152.0,108.7 157.6,102.9 163.2,102.6 168.9,105.7 174.5,112.9 180.1,118.5 185.8,113.2 191.4,114.4 197.0,108.5 202.7,103.4 208.3,107.3 213.9,108.2 219.6,104.2 225.2,100.8 230.8,94.3 236.5,96.1 242.1,93.6 247.7,90.5 253.4,87.8"/>
<polyline points="146.3,108.4 152.0,109.0 157.6,106.1 163.2,106.3 168.9,107.2 174.5,104.5 180.1,105.8 185.8,107.3 191.4,109.3 197.0,113.2 202.7,110.1 208.3,111.7 213.9,114.7 219.6,111.9 225.2,111.2 230.8,114.1 236.5,111.1 242.1,118.4 247.7,120.9 253.4,119.0"/>
<polyline points="146.3,108.4 152.0,100.8 157.6,94.1 163.2,90.5 168.9,98.7 174.5,98.8 180.1,88.9 185.8,89.0 191.4,95.8 197.0,99.5 202.7,94.6 208.3,98.6 213.9,96.7 219.6,99.4 225.2,105.2 230.8,109.3 236.5,92.2 242.1,95.1 247.7,96.5 253.4,91.5"/>
<polyline points="146.3,108.4 152.0,105.2 157.6,106.5 163.2,105.3 168.9,105.5 174.5,109.2 180.1,99.9 185.8,100.0 191.4,106.9 197.0,101.1 202.7,104.0 208.3,108.8 213.9,102.3 219.6,102.9 225.2,107.2 230.8,105.7 236.5,109.3 242.1,109.9 247.7,111.4 253.4,110.2"/>
<polyline points="146.3,108.4 152.0,110.7 157.6,108.3 163.2,109.2 168.9,103.5 174.5,103.2 180.1,103.4 185.8,94.0 191.4,96.7 197.0,91.7 202.7,91.8 208.3,88.8 213.9,91.7 219.6,85.8 225.2,83.9 230.8,86.9 236.5,85.4 242.1,88.0 247.7,88.9 253.4,84.9"/>
<polyline points="146.3,108.4 152.0,109.1 157.6,111.3 163.2,106.5 168.9,103.8 174.5,106.9 180.1,102.5 185.8,97.6 191.4,96.9 197.0,100.2 202.7,98.1 208.3,96.1 213.9,94.9 219.6,88.6 225.2,87.2 230.8,86.1 236.5,87.2 242.1,89.9 247.7,87.4 253.4,81.1"/>
<polyline points="146.3,108.4 152.0,110.0 157.6,103.9 163.2,101.7 168.9,98.5 174.5,92.7 180.1,86.2 185.8,88.9 191.4,86.6 197.0,92.4 202.7,93.6 208.3,96.4 213.9,101.5 219.6,104.0 225.2,104.0 230.8,106.3 236.5,100.8 242.1,99.8 247.7,100.5 253.4,97.9"/>
<polyline points="146.3,108.4 152.0,108.2 157.6,103.8 163.2,97.8 168.9,97.4 174.5,87.3 180.1,90.1 185.8,90.9 191.4,95.1 197.0,95.7 202.7,98.0 208.3,98.4 213.9,102.6 219.6,96.0 225.2,98.2 230.8,97.8 236.5,97.7 242.1,101.8 247.7,101.0 253.4,96.7"/>
<polyline points="146.3,108.4 152.0,108.3 157.6,107.0 163.2,103.3 168.9,109.4 174.5,107.9 180.1,105.9 185.8,101.6 191.4,96.9 197.0,96.6 202.7,91.0 208.3,92.5 213.9,89.7 219.6,88.1 225.2,79.9 230.8,76.7 236.5,81.4 242.1,91.0 247.7,89.7 253.4,83.5"/>
<polyline points="146.3,108.4 152.0,102.0 157.6,106.5 163.2,103.1 168.9,106.1 174.5,106.3 180.1,107.8 185.8,102.8 191.4,95.2 197.0,87.1 202.7,80.8 208.3,87.6 213.9,83.7 219.6,83.7 225.2,80.9 230.8,80.7 236.5,81.8 242.1,79.8 247.7,83.3 253.4,87.3"/>
<polyline points="146.3,108.4 152.0,109.9 157.6,114.1 163.2,108.9 168.9,105.1 174.5,100.2 180.1,100.9 185.8,96.7 191.4,89.7 197.0,90.1 202.7,95.2 208.3,98.0 213.9,103.5 219.6,101.7 225.2,99.2 230.8,97.3 236.5,104.0 242.1,103.2 247.7,104.0 253.4,111.8"/>
<polyline points="146.3,108.4 152.0,113.6 157.6,115.6 163.2,111.3 168.9,107.7 174.5,113.2 180.1,113.4 185.8,108.7 191.4,109.6 197.0,112.2 202.7,112.4 208.3,111.7 213.9,109.0 219.6,103.3 225.2,105.1 230.8,109.4 236.5,106.5 242.1,111.6 247.7,110.1 253.4,109.8"/>
<polyline points="146.3,108.4 152.0,109.7 157.6,113.8 163.2,116.4 168.9,115.3 174.5,111.6 180.1,117.2 185.8,111.9 191.4,111.2 197.0,107.9 202.7,108.5 208.3,116.1 213.9,116.6 219.6,113.6 225.2,114.4 230.8,112.6 236.5,111.8 242.1,107.3 247.7,103.0 253.4,101.9"/>
<polyline points="146.3,108.4 152.0,110.3 157.6,114.0 163.2,112.8 168.9,111.2 174.5,110.0 180.1,113.7 185.8,112.6 191.4,101.8 197.0,98.0 202.7,98.8 208.3,94.5 213.9,95.7 219.6,96.7 225.2,99.5 230.8,93.7 236.5,101.8 242.1,100.1 247.7,100.2 253.4,104.2"/>
<polyline points="146.3,108.4 152.0,111.1 157.6,107.2 163.2,108.6 168.9,107.6 174.5,110.9 180.1,108.3 185.8,107.0 191.4,108.3 197.0,111.1 202.7,109.3 208.3,106.4 213.9,109.6 219.6,104.7 225.2,104.2 230.8,105.6 236.5,104.6 242.1,102.6 247.7,95.8 253.4,97.2"/>
<polyline points="146.3,108.4 152.0,109.2 157.6,109.7 163.2,110.6 168.9,106.2 174.5,99.1 180.1,101.0 185.8,101.5 191.4,101.8 197.0,102.2 202.7,98.4 208.3,101.3 213.9,103.2 219.6,104.1 225.2,109.3 230.8,115.4 236.5,120.8 242.1,121.3 247.7,117.6 253.4,108.3"/>
<polyline points="146.3,108.4 152.0,111.0 157.6,114.9 163.2,114.7 168.9,116.0 174.5,122.6 180.1,118.6 185.8,113.3 191.4,111.0 197.0,106.6 202.7,112.6 208.3,110.2 213.9,104.9 219.6,102.6 225.2,104.1 230.8,105.0 236.5,103.3 242.1,103.4 247.7,105.3 253.4,100.8"/>
<polyline points="146.3,108.4 152.0,111.4 157.6,105.8 163.2,102.6 168.9,102.1 174.5,103.6 180.1,105.3 185.8,110.0 191.4,106.6 197.0,110.8 202.7,108.3 208.3,103.1 213.9,97.6 219.6,95.8 225.2,95.6 230.8,84.0 236.5,84.3 242.1,81.1 247.7,77.6 253.4,78.7"/>
<polyline points="146.3,108.4 152.0,109.5 157.6,107.4 163.2,107.2 168.9,108.5 174.5,112.3 180.1,117.1 185.8,115.8 191.4,114.0 197.0,112.9 202.7,112.4 208.3,111.5 213.9,113.7 219.6,100.5 225.2,95.9 230.8,100.1 236.5,104.0 242.1,101.4 247.7,100.5 253.4,98.8"/>
<polyline points="146.3,108.4 152.0,115.4 157.6,112.0 163.2,108.5 168.9,99.8 174.5,97.3 180.1,99.2 185.8,93.2 191.4,91.3 197.0,88.4 202.7,96.8 208.3,100.6 213.9,100.7 219.6,102.7 225.2,105.0 230.8,97.4 236.5,100.6 242.1,104.1 247.7,101.0 253.4,95.6"/>
<polyline points="146.3,108.4 152.0,109.5 157.6,106.5 163.2,106.6 168.9,108.4 174.5,107.1 180.1,111.2 185.8,110.6 191.4,110.0 197.0,109.4 202.7,114.2 208.3,114.6 213.9,115.2 219.6,112.1 225.2,109.2 230.8,109.8 236.5,112.8 242.1,107.6 247.7,101.4 253.4,103.9"/>
</g>
</g>
<clipPath id="c1"><rect x="141.35" y="10.4" width="117.5" height="146.79999999999998"/></clipPath>
<rect x="141.35" y="10.4" width="117.45" height="146.79999999999998" fill="none" stroke="#000" stroke-width="0.9"/>
<line x1="138.85" y1="154.68" x2="141.35" y2="154.68" stroke="#000" stroke-width="0.9"/>
<line x1="138.85" y1="131.54" x2="141.35" y2="131.54" stroke="#000" stroke-width="0.9"/>
<line x1="138.85" y1="108.40" x2="141.35" y2="108.40" stroke="#000" stroke-width="0.9"/>
<line x1="138.85" y1="85.26" x2="141.35" y2="85.26" stroke="#000" stroke-width="0.9"/>
<line x1="138.85" y1="62.12" x2="141.35" y2="62.12" stroke="#000" stroke-width="0.9"/>
<line x1="138.85" y1="38.98" x2="141.35" y2="38.98" stroke="#000" stroke-width="0.9"/>
<line x1="138.85" y1="15.84" x2="141.35" y2="15.84" stroke="#000" stroke-width="0.9"/>
<line x1="146.35" y1="157.2" x2="146.35" y2="159.7" stroke="#000" stroke-width="0.9"/>
<line x1="174.51" y1="157.2" x2="174.51" y2="159.7" stroke="#000" stroke-width="0.9"/>
<line x1="202.68" y1="157.2" x2="202.68" y2="159.7" stroke="#000" stroke-width="0.9"/>
<line x1="230.84" y1="157.2" x2="230.84" y2="159.7" stroke="#000" stroke-width="0.9"/>
<g clip-path="url(#c2)">
<g fill="none" stroke="#0000ff" stroke-opacity="0.45" stroke-width="1.0" stroke-linejoin="round">
<polyline points="273.2,108.4 278.8,108.9 284.5,107.9 290.1,106.5 295.7,109.6 301.4,117.0 307.0,121.4 312.6,118.6 318.3,117.0 323.9,115.7 329.5,121.7 335.2,126.7 340.8,127.3 346.4,127.4 352.1,128.5 357.7,124.7 363.3,124.7 369.0,125.9 374.6,121.4 380.2,127.0"/>
<polyline points="273.2,108.4 278.8,107.4 284.5,107.6 290.1,105.2 295.7,104.3 301.4,102.8 307.0,106.8 312.6,105.3 318.3,105.6 323.9,100.8 329.5,99.7 335.2,104.6 340.8,112.3 346.4,111.8 352.1,115.8 357.7,115.0 363.3,121.2 369.0,118.5 374.6,115.7 380.2,117.0"/>
<polyline points="273.2,108.4 278.8,109.6 284.5,111.9 290.1,110.5 295.7,114.3 301.4,103.6 307.0,108.9 312.6,105.7 318.3,106.6 323.9,104.0 329.5,100.4 335.2,97.5 340.8,94.5 346.4,94.6 352.1,95.9 357.7,96.6 363.3,98.6 369.0,95.1 374.6,94.2 380.2,90.6"/>
<polyline points="273.2,108.4 278.8,107.0 284.5,99.9 290.1,98.0 295.7,99.9 301.4,97.4 307.0,95.0 312.6,103.0 318.3,98.1 323.9,94.4 329.5,89.8 335.2,94.6 340.8,99.3 346.4,106.1 352.1,103.7 357.7,102.2 363.3,107.2 369.0,107.6 374.6,112.7 380.2,113.9"/>
<polyline points="273.2,108.4 278.8,115.3 284.5,108.3 290.1,112.3 295.7,108.1 301.4,108.0 307.0,110.9 312.6,105.2 318.3,106.2 323.9,106.8 329.5,104.6 335.2,108.7 340.8,111.0 346.4,113.4 352.1,112.4 357.7,119.2 363.3,116.8 369.0,112.7 374.6,120.1 380.2,121.5"/>
<polyline points="273.2,108.4 278.8,103.7 284.5,96.8 290.1,95.1 295.7,93.0 301.4,88.6 307.0,81.5 312.6,79.0 318.3,95.3 323.9,103.9 329.5,102.5 335.2,102.9 340.8,105.9 346.4,103.8 352.1,101.7 357.7,103.6 363.3,105.4 369.0,102.2 374.6,99.9 380.2,100.5"/>
<polyline points="273.2,108.4 278.8,110.1 284.5,110.4 290.1,109.4 295.7,108.1 301.4,109.0 307.0,111.7 312.6,111.4 318.3,113.4 323.9,112.5 329.5,111.6 335.2,116.1 340.8,112.7 346.4,113.3 352.1,117.9 357.7,120.3 363.3,124.3 369.0,118.3 374.6,115.3 380.2,115.6"/>
<polyline points="273.2,108.4 278.8,112.4 284.5,116.3 290.1,114.1 295.7,108.5 301.4,112.4 307.0,113.3 312.6,108.7 318.3,112.0 323.9,116.4 329.5,115.3 335.2,114.9 340.8,112.6 346.4,109.5 352.1,111.4 357.7,111.0 363.3,109.6 369.0,109.5 374.6,109.4 380.2,109.2"/>
<polyline points="273.2,108.4 278.8,113.6 284.5,117.7 290.1,116.2 295.7,120.8 301.4,119.1 307.0,116.0 312.6,115.6 318.3,115.8 323.9,118.2 329.5,118.4 335.2,126.1 340.8,128.1 346.4,122.2 352.1,122.6 357.7,124.5 363.3,130.0 369.0,133.2 374.6,126.9 380.2,124.9"/>
<polyline points="273.2,108.4 278.8,101.9 284.5,107.2 290.1,105.3 295.7,102.1 301.4,94.3 307.0,86.8 312.6,82.4 318.3,75.5 323.9,85.5 329.5,79.3 335.2,78.3 340.8,81.9 346.4,85.5 352.1,90.0 357.7,90.8 363.3,90.6 369.0,82.7 374.6,86.2 380.2,84.5"/>
<polyline points="273.2,108.4 278.8,104.7 284.5,114.3 290.1,112.1 295.7,113.1 301.4,109.0 307.0,112.1 312.6,110.6 318.3,109.0 323.9,110.1 329.5,108.0 335.2,112.2 340.8,110.5 346.4,107.5 352.1,108.3 357.7,109.1 363.3,113.1 369.0,113.5 374.6,117.3 380.2,112.7"/>
<polyline points="273.2,108.4 278.8,104.5 284.5,103.8 290.1,109.7 295.7,111.0 301.4,114.8 307.0,111.7 312.6,110.9 318.3,108.9 323.9,108.0 329.5,110.4 335.2,106.6 340.8,97.4 346.4,99.5 352.1,102.5 357.7,104.2 363.3,100.8 369.0,106.1 374.6,95.4 380.2,99.0"/>
<polyline points="273.2,108.4 278.8,103.8 284.5,104.8 290.1,108.7 295.7,102.2 301.4,105.7 307.0,106.7 312.6,106.6 318.3,105.0 323.9,96.1 329.5,94.4 335.2,87.9 340.8,82.5 346.4,84.6 352.1,80.8 357.7,74.6 363.3,70.8 369.0,67.8 374.6,64.6 380.2,63.8"/>
<polyline points="273.2,108.4 278.8,108.4 284.5,106.4 290.1,111.2 295.7,104.3 301.4,100.2 307.0,99.9 312.6,99.7 318.3,99.7 323.9,103.7 329.5,110.2 335.2,109.3 340.8,109.8 346.4,109.9 352.1,115.5 357.7,113.6 363.3,111.0 369.0,108.6 374.6,113.3 380.2,117.6"/>
<polyline points="273.2,108.4 278.8,103.0 284.5,99.6 290.1,98.7 295.7,98.9 301.4,94.3 307.0,93.5 312.6,97.5 318.3,102.8 323.9,106.6 329.5,109.3 335.2,107.1 340.8,104.1 346.4,101.1 352.1,105.6 357.7,109.1 363.3,104.8 369.0,106.8 374.6,113.4 380.2,112.7"/>
<polyline points="273.2,108.4 278.8,111.0 284.5,111.8 290.1,108.7 295.7,107.0 301.4,108.1 307.0,104.5 312.6,100.1 318.3,107.5 323.9,104.7 329.5,105.0 335.2,101.0 340.8,108.3 346.4,110.6 352.1,111.3 357.7,109.5 363.3,109.0 369.0,107.6 374.6,105.2 380.2,106.2"/>
<polyline points="273.2,108.4 278.8,111.3 284.5,107.4 290.1,108.2 295.7,109.7 301.4,108.8 307.0,101.9 312.6,105.6 318.3,107.8 323.9,106.9 329.5,106.2 335.2,107.6 340.8,110.2 346.4,114.0 352.1,117.4 357.7,118.4 363.3,110.3 369.0,113.8 374.6,113.9 380.2,117.3"/>
<polyline points="273.2,108.4 278.8,106.6 284.5,107.2 290.1,110.3 295.7,112.6 301.4,112.3 307.0,114.4 312.6,113.9 318.3,118.6 323.9,120.7 329.5,113.4 335.2,116.3 340.8,118.2 346.4,114.1 352.1,110.9 357.7,109.6 363.3,107.8 369.0,111.1 374.6,112.1 380.2,112.6"/>
<polyline points="273.2,108.4 278.8,104.7 284.5,106.4 290.1,101.4 295.7,99.9 301.4,97.0 307.0,95.5 312.6,92.8 318.3,86.2 323.9,86.7 329.5,86.3 335.2,78.8 340.8,81.4 346.4,86.9 352.1,86.9 357.7,94.4 363.3,94.9 369.0,99.2 374.6,93.8 380.2,93.9"/>
<polyline points="273.2,108.4 278.8,107.0 284.5,107.9 290.1,109.2 295.7,112.2 301.4,116.6 307.0,112.1 312.6,111.5 318.3,103.6 323.9,103.8 329.5,107.2 335.2,102.1 340.8,100.5 346.4,98.8 352.1,103.7 357.7,94.3 363.3,95.4 369.0,105.2 374.6,100.9 380.2,105.3"/>
<polyline points="273.2,108.4 278.8,105.0 284.5,103.0 290.1,101.3 295.7,106.5 301.4,105.5 307.0,105.4 312.6,102.4 318.3,97.3 323.9,94.1 329.5,90.6 335.2,88.2 340.8,88.8 346.4,87.4 352.1,99.2 357.7,101.4 363.3,101.7 369.0,99.0 374.6,103.4 380.2,106.8"/>
<polyline points="273.2,108.4 278.8,101.8 284.5,107.8 290.1,101.8 295.7,107.1 301.4,107.5 307.0,107.5 312.6,110.0 318.3,104.2 323.9,106.0 329.5,104.2 335.2,101.2 340.8,101.4 346.4,95.4 352.1,101.6 357.7,105.9 363.3,101.9 369.0,98.4 374.6,103.9 380.2,109.6"/>
<polyline points="273.2,108.4 278.8,109.3 284.5,105.5 290.1,116.6 295.7,119.1 301.4,114.8 307.0,115.8 312.6,122.4 318.3,117.3 323.9,120.4 329.5,119.6 335.2,121.1 340.8,115.0 346.4,109.4 352.1,115.1 357.7,113.5 363.3,109.8 369.0,107.3 374.6,107.4 380.2,112.8"/>
<polyline points="273.2,108.4 278.8,105.9 284.5,111.1 290.1,111.3 295.7,107.5 301.4,112.2 307.0,107.8 312.6,114.3 318.3,116.3 323.9,109.6 329.5,107.4 335.2,112.3 340.8,117.6 346.4,115.0 352.1,116.6 357.7,119.3 363.3,118.2 369.0,115.2 374.6,114.4 380.2,113.6"/>
<polyline points="273.2,108.4 278.8,107.0 284.5,110.7 290.1,111.8 295.7,114.2 301.4,115.4 307.0,110.8 312.6,109.4 318.3,112.9 323.9,111.0 329.5,114.9 335.2,112.0 340.8,114.4 346.4,114.0 352.1,107.1 357.7,105.9 363.3,106.3 369.0,112.4 374.6,105.8 380.2,107.6"/>
<polyline points="273.2,108.4 278.8,108.2 284.5,111.9 290.1,118.7 295.7,118.5 301.4,116.1 307.0,113.4 312.6,109.8 318.3,115.6 323.9,113.4 329.5,111.0 335.2,107.1 340.8,111.9 346.4,107.3 352.1,109.1 357.7,106.4 363.3,108.5 369.0,96.7 374.6,100.7 380.2,103.1"/>
<polyline points="273.2,108.4 278.8,107.5 284.5,111.1 290.1,111.3 295.7,107.2 301.4,109.0 307.0,103.8 312.6,100.6 318.3,107.1 323.9,101.4 329.5,103.7 335.2,104.1 340.8,105.9 346.4,107.5 352.1,112.2 357.7,119.8 363.3,117.4 369.0,118.9 374.6,115.9 380.2,116.3"/>
<polyline points="273.2,108.4 278.8,104.8 284.5,103.0 290.1,104.9 295.7,106.7 301.4,110.8 307.0,104.5 312.6,110.4 318.3,109.8 323.9,113.6 329.5,116.3 335.2,115.6 340.8,116.0 346.4,119.5 352.1,118.3 357.7,115.8 363.3,114.7 369.0,113.8 374.6,110.6 380.2,110.9"/>
<polyline points="273.2,108.4 278.8,114.6 284.5,118.2 290.1,115.4 295.7,118.6 301.4,115.4 307.0,118.4 312.6,115.1 318.3,117.6 323.9,115.5 329.5,118.8 335.2,114.8 340.8,111.5 346.4,111.5 352.1,109.7 357.7,109.9 363.3,107.6 369.0,111.2 374.6,112.9 380.2,111.0"/>
<polyline points="273.2,108.4 278.8,106.1 284.5,117.8 290.1,121.6 295.7,121.8 301.4,127.8 307.0,129.9 312.6,131.1 318.3,131.3 323.9,127.6 329.5,131.9 335.2,128.7 340.8,130.6 346.4,135.6 352.1,133.4 357.7,132.8 363.3,132.2 369.0,131.1 374.6,135.2 380.2,137.3"/>
<polyline points="273.2,108.4 278.8,109.8 284.5,109.9 290.1,110.5 295.7,108.1 301.4,103.8 307.0,104.8 312.6,104.9 318.3,106.2 323.9,107.3 329.5,107.5 335.2,107.1 340.8,107.8 346.4,109.2 352.1,112.7 357.7,113.5 363.3,110.5 369.0,107.2 374.6,100.2 380.2,95.1"/>
<polyline points="273.2,108.4 278.8,103.1 284.5,100.1 290.1,97.1 295.7,104.4 301.4,108.0 307.0,105.0 312.6,107.6 318.3,108.4 323.9,110.6 329.5,113.7 335.2,119.6 340.8,116.8 346.4,112.3 352.1,105.1 357.7,111.6 363.3,117.6 369.0,119.5 374.6,123.4 380.2,122.5"/>
<polyline points="273.2,108.4 278.8,104.2 284.5,106.8 290.1,104.0 295.7,99.7 301.4,100.8 307.0,96.6 312.6,94.8 318.3,91.7 323.9,86.7 329.5,85.4 335.2,87.5 340.8,83.6 346.4,86.0 352.1,85.3 357.7,89.8 363.3,92.4 369.0,91.7 374.6,91.8 380.2,96.4"/>
<polyline points="273.2,108.4 278.8,114.5 284.5,115.9 290.1,109.7 295.7,106.7 301.4,110.3 307.0,106.5 312.6,108.8 318.3,102.8 323.9,107.8 329.5,105.9 335.2,101.3 340.8,96.9 346.4,91.5 352.1,89.3 357.7,92.1 363.3,97.0 369.0,102.2 374.6,102.7 380.2,112.0"/>
<polyline points="273.2,108.4 278.8,112.0 284.5,116.1 290.1,121.1 295.7,126.2 301.4,134.1 307.0,134.3 312.6,135.1 318.3,136.9 323.9,137.3 329.5,140.0 335.2,142.4 340.8,145.7 346.4,143.3 352.1,145.3 357.7,145.9 363.3,148.6 369.0,147.3 374.6,147.2 380.2,145.4"/>
<polyline points="273.2,108.4 278.8,104.0 284.5,103.8 290.1,111.5 295.7,112.8 301.4,118.2 307.0,116.3 312.6,120.8 318.3,120.7 323.9,119.6 329.5,121.7 335.2,120.6 340.8,121.6 346.4,120.4 352.1,121.1 357.7,124.5 363.3,126.8 369.0,126.1 374.6,130.0 380.2,131.8"/>
<polyline points="273.2,108.4 278.8,112.5 284.5,118.2 290.1,118.6 295.7,117.2 301.4,116.1 307.0,115.3 312.6,116.8 318.3,120.1 323.9,121.4 329.5,116.4 335.2,120.9 340.8,121.1 346.4,122.2 352.1,120.3 357.7,118.0 363.3,116.2 369.0,113.7 374.6,118.7 380.2,112.2"/>
<polyline points="273.2,108.4 278.8,110.8 284.5,115.1 290.1,108.5 295.7,106.7 301.4,106.3 307.0,104.7 312.6,111.5 318.3,110.7 323.9,111.4 329.5,114.2 335.2,113.2 340.8,117.5 346.4,111.6 352.1,116.7 357.7,114.0 363.3,114.7 369.0,115.8 374.6,120.8 380.2,117.0"/>
<polyline points="273.2,108.4 278.8,99.6 284.5,97.3 290.1,93.1 295.7,83.3 301.4,79.9 307.0,84.2 312.6,90.2 318.3,92.2 323.9,87.2 329.5,82.6 335.2,83.5 340.8,80.7 346.4,85.3 352.1,82.4 357.7,87.2 363.3,85.7 369.0,86.3 374.6,87.5 380.2,89.1"/>
<polyline points="273.2,108.4 278.8,110.1 284.5,105.8 290.1,106.7 295.7,112.1 301.4,114.0 307.0,121.0 312.6,120.6 318.3,121.4 323.9,123.1 329.5,123.3 335.2,122.0 340.8,122.6 346.4,120.2 352.1,128.2 357.7,133.6 363.3,133.8 369.0,134.5 374.6,137.4 380.2,136.1"/>
<polyline points="273.2,108.4 278.8,113.0 284.5,109.0 290.1,109.8 295.7,105.9 301.4,111.6 307.0,113.7 312.6,108.8 318.3,103.9 323.9,100.3 329.5,99.6 335.2,93.5 340.8,92.2 346.4,92.7 352.1,91.2 357.7,90.6 363.3,89.1 369.0,83.6 374.6,79.8 380.2,77.1"/>
<polyline points="273.2,108.4 278.8,112.2 284.5,107.5 290.1,104.7 295.7,101.4 301.4,92.3 307.0,97.1 312.6,100.7 318.3,101.2 323.9,104.7 329.5,97.8 335.2,101.5 340.8,102.5 346.4,98.9 352.1,103.7 357.7,104.7 363.3,101.0 369.0,100.8 374.6,102.5 380.2,108.6"/>
<polyline points="273.2,108.4 278.8,115.0 284.5,115.4 290.1,115.2 295.7,116.8 301.4,118.6 307.0,117.7 312.6,116.9 318.3,122.2 323.9,117.1 329.5,121.1 335.2,117.1 340.8,118.9 346.4,122.1 352.1,119.0 357.7,117.3 363.3,117.0 369.0,116.7 374.6,116.1 380.2,112.9"/>
<polyline points="273.2,108.4 278.8,110.4 284.5,111.9 290.1,114.4 295.7,112.7 301.4,108.6 307.0,109.3 312.6,112.4 318.3,107.9 323.9,101.0 329.5,106.5 335.2,100.5 340.8,97.2 346.4,91.7 352.1,98.1 357.7,97.6 363.3,98.1 369.0,90.9 374.6,89.8 380.2,88.1"/>
<polyline points="273.2,108.4 278.8,104.8 284.5,103.3 290.1,101.6 295.7,89.8 301.4,90.2 307.0,85.5 312.6,80.3 318.3,82.1 323.9,78.3 329.5,69.8 335.2,70.0 340.8,76.9 346.4,76.6 352.1,68.7 357.7,68.1 363.3,68.9 369.0,73.2 374.6,69.0 380.2,70.3"/>
<polyline points="273.2,108.4 278.8,101.6 284.5,97.2 290.1,94.1 295.7,102.0 301.4,109.4 307.0,113.0 312.6,111.5 318.3,111.3 323.9,109.5 329.5,109.9 335.2,107.6 340.8,109.2 346.4,107.2 352.1,106.5 357.7,105.6 363.3,102.8 369.0,96.1 374.6,97.8 380.2,102.6"/>
<polyline points="273.2,108.4 278.8,103.5 284.5,105.3 290.1,107.8 295.7,111.8 301.4,108.2 307.0,104.7 312.6,99.0 318.3,105.7 323.9,105.6 329.5,107.5 335.2,108.4 340.8,111.3 346.4,112.3 352.1,116.5 357.7,115.1 363.3,118.4 369.0,120.2 374.6,116.4 380.2,125.0"/>
<polyline points="273.2,108.4 278.8,114.5 284.5,110.9 290.1,112.5 295.7,107.6 301.4,105.0 307.0,107.1 312.6,104.8 318.3,108.1 323.9,107.3 329.5,111.1 335.2,109.8 340.8,113.7 346.4,118.2 352.1,119.2 357.7,116.8 363.3,119.9 369.0,119.8 374.6,124.0 380.2,118.1"/>
<polyline points="273.2,108.4 278.8,107.7 284.5,111.1 290.1,111.2 295.7,111.4 301.4,109.0 307.0,114.9 312.6,117.4 318.3,119.6 323.9,124.9 329.5,125.2 335.2,122.8 340.8,122.3 346.4,127.3 352.1,130.7 357.7,127.0 363.3,126.0 369.0,127.9 374.6,122.5 380.2,128.1"/>
<polyline points="273.2,108.4 278.8,108.3 284.5,101.7 290.1,99.1 295.7,93.6 301.4,97.6 307.0,97.0 312.6,92.2 318.3,95.7 323.9,97.3 329.5,88.7 335.2,89.4 340.8,88.5 346.4,87.7 352.1,90.8 357.7,89.3 363.3,91.7 369.0,92.7 374.6,89.3 380.2,91.7"/>
<polyline points="273.2,108.4 278.8,102.6 284.5,107.5 290.1,107.8 295.7,107.1 301.4,107.3 307.0,105.2 312.6,105.9 318.3,106.2 323.9,108.4 329.5,102.6 335.2,103.8 340.8,98.0 346.4,99.6 352.1,98.7 357.7,95.9 363.3,94.0 369.0,97.6 374.6,98.0 380.2,101.0"/>
<polyline points="273.2,108.4 278.8,108.6 284.5,114.2 290.1,113.5 295.7,112.9 301.4,103.4 307.0,104.0 312.6,106.7 318.3,108.7 323.9,103.9 329.5,108.2 335.2,110.5 340.8,109.2 346.4,107.2 352.1,105.4 357.7,102.6 363.3,97.1 369.0,94.6 374.6,96.7 380.2,101.9"/>
<polyline points="273.2,108.4 278.8,108.5 284.5,104.4 290.1,100.9 295.7,96.5 301.4,93.1 307.0,91.1 312.6,99.7 318.3,102.1 323.9,104.5 329.5,104.2 335.2,99.0 340.8,100.4 346.4,104.0 352.1,109.4 357.7,113.6 363.3,111.9 369.0,109.5 374.6,113.4 380.2,108.2"/>
<polyline points="273.2,108.4 278.8,103.5 284.5,97.5 290.1,102.6 295.7,109.2 301.4,108.5 307.0,111.2 312.6,109.2 318.3,112.6 323.9,117.6 329.5,122.9 335.2,121.8 340.8,117.4 346.4,119.9 352.1,120.3 357.7,118.1 363.3,114.5 369.0,120.8 374.6,123.4 380.2,129.6"/>
<polyline points="273.2,108.4 278.8,107.5 284.5,102.2 290.1,104.3 295.7,102.8 301.4,105.4 307.0,109.3 312.6,108.4 318.3,110.5 323.9,110.5 329.5,111.8 335.2,113.7 340.8,115.7 346.4,112.7 352.1,109.6 357.7,96.0 363.3,101.3 369.0,112.0 374.6,106.1 380.2,105.8"/>
<polyline points="273.2,108.4 278.8,112.2 284.5,116.5 290.1,119.6 295.7,122.6 301.4,124.6 307.0,125.7 312.6,124.0 318.3,125.4 323.9,133.5 329.5,138.9 335.2,140.5 340.8,143.5 346.4,144.5 352.1,142.0 357.7,142.7 363.3,142.6 369.0,140.8 374.6,134.7 380.2,139.8"/>
<polyline points="273.2,108.4 278.8,108.5 284.5,103.6 290.1,104.3 295.7,111.4 301.4,110.5 307.0,114.1 312.6,115.9 318.3,119.3 323.9,114.1 329.5,117.9 335.2,114.9 340.8,118.3 346.4,116.7 352.1,117.5 357.7,126.3 363.3,126.4 369.0,125.4 374.6,124.9 380.2,127.0"/>
<polyline points="273.2,108.4 278.8,116.9 284.5,116.8 290.1,121.0 295.7,125.9 301.4,134.0 307.0,135.9 312.6,132.4 318.3,134.1 323.9,129.2 329.5,131.1 335.2,134.0 340.8,131.0 346.4,125.2 352.1,124.2 357.7,127.6 363.3,125.8 369.0,123.3 374.6,122.1 380.2,125.6"/>
<polyline points="273.2,108.4 278.8,107.4 284.5,114.7 290.1,110.5 295.7,107.1 301.4,107.1 307.0,112.4 312.6,99.8 318.3,100.3 323.9,105.7 329.5,108.3 335.2,100.1 340.8,100.8 346.4,107.0 352.1,100.8 357.7,94.2 363.3,96.9 369.0,91.5 374.6,90.4 380.2,91.2"/>
<polyline points="273.2,108.4 278.8,113.0 284.5,114.0 290.1,112.2 295.7,111.8 301.4,101.7 307.0,94.6 312.6,91.8 318.3,89.0 323.9,85.6 329.5,81.4 335.2,81.8 340.8,85.8 346.4,86.8 352.1,84.6 357.7,75.2 363.3,86.7 369.0,71.6 374.6,73.4 380.2,67.2"/>
<polyline points="273.2,108.4 278.8,106.7 284.5,108.3 290.1,103.9 295.7,107.2 301.4,108.6 307.0,107.8 312.6,111.9 318.3,104.1 323.9,110.6 329.5,101.7 335.2,97.8 340.8,92.9 346.4,98.6 352.1,101.7 357.7,98.4 363.3,107.4 369.0,105.4 374.6,99.6 380.2,100.6"/>
<polyline points="273.2,108.4 278.8,101.4 284.5,98.3 290.1,95.9 295.7,96.8 301.4,86.7 307.0,86.0 312.6,85.0 318.3,83.1 323.9,89.5 329.5,93.1 335.2,98.8 340.8,100.6 346.4,103.4 352.1,95.3 357.7,93.7 363.3,79.5 369.0,82.2 374.6,86.8 380.2,85.2"/>
<polyline points="273.2,108.4 278.8,107.8 284.5,102.6 290.1,107.2 295.7,104.4 301.4,104.6 307.0,103.4 312.6,103.5 318.3,104.6 323.9,110.7 329.5,110.5 335.2,108.4 340.8,106.8 346.4,103.8 352.1,108.0 357.7,110.5 363.3,113.9 369.0,115.2 374.6,115.2 380.2,116.9"/>
<polyline points="273.2,108.4 278.8,106.5 284.5,101.3 290.1,104.9 295.7,113.5 301.4,112.3 307.0,107.9 312.6,102.3 318.3,100.2 323.9,100.3 329.5,101.2 335.2,102.9 340.8,103.0 346.4,103.3 352.1,104.4 357.7,99.8 363.3,96.9 369.0,94.9 374.6,93.9 380.2,94.3"/>
<polyline points="273.2,108.4 278.8,103.4 284.5,106.9 290.1,104.5 295.7,100.2 301.4,100.6 307.0,102.7 312.6,103.2 318.3,104.4 323.9,102.6 329.5,99.7 335.2,98.7 340.8,95.5 346.4,92.0 352.1,90.3 357.7,92.2 363.3,90.0 369.0,90.3 374.6,95.0 380.2,88.9"/>
<polyline points="273.2,108.4 278.8,107.0 284.5,108.3 290.1,114.3 295.7,108.4 301.4,110.9 307.0,113.3 312.6,113.9 318.3,116.7 323.9,113.5 329.5,118.2 335.2,109.5 340.8,112.3 346.4,116.0 352.1,111.6 357.7,114.9 363.3,111.8 369.0,112.7 374.6,107.8 380.2,103.6"/>
<polyline points="273.2,108.4 278.8,109.1 284.5,106.0 290.1,102.3 295.7,96.4 301.4,96.1 307.0,88.0 312.6,93.4 318.3,95.4 323.9,98.5 329.5,100.4 335.2,98.4 340.8,99.4 346.4,102.4 352.1,101.1 357.7,105.3 363.3,107.7 369.0,107.4 374.6,102.0 380.2,100.7"/>
<polyline points="273.2,108.4 278.8,112.9 284.5,118.0 290.1,119.1 295.7,121.0 301.4,119.8 307.0,118.4 312.6,115.0 318.3,117.8 323.9,113.0 329.5,111.5 335.2,115.6 340.8,120.0 346.4,115.1 352.1,111.2 357.7,103.9 363.3,104.0 369.0,105.5 374.6,106.0 380.2,102.7"/>
<polyline points="273.2,108.4 278.8,106.2 284.5,104.2 290.1,106.4 295.7,105.8 301.4,105.6 307.0,101.8 312.6,102.7 318.3,102.3 323.9,101.1 329.5,108.0 335.2,113.3 340.8,117.3 346.4,113.7 352.1,112.7 357.7,115.7 363.3,120.5 369.0,120.7 374.6,117.4 380.2,118.1"/>
<polyline points="273.2,108.4 278.8,109.4 284.5,112.6 290.1,109.2 295.7,108.3 301.4,110.0 307.0,107.6 312.6,110.9 318.3,109.6 323.9,110.2 329.5,112.4 335.2,110.9 340.8,111.7 346.4,110.1 352.1,108.5 357.7,113.9 363.3,115.4 369.0,119.7 374.6,114.5 380.2,116.9"/>
<polyline points="273.2,108.4 278.8,111.6 284.5,109.5 290.1,110.1 295.7,107.5 301.4,107.3 307.0,105.9 312.6,104.0 318.3,104.1 323.9,104.0 329.5,102.5 335.2,106.8 340.8,107.2 346.4,109.5 352.1,114.2 357.7,112.0 363.3,110.6 369.0,108.4 374.6,105.4 380.2,103.4"/>
<polyline points="273.2,108.4 278.8,105.2 284.5,113.4 290.1,117.1 295.7,120.5 301.4,117.4 307.0,119.0 312.6,124.9 318.3,130.2 323.9,133.2 329.5,136.5 335.2,132.8 340.8,134.9 346.4,137.1 352.1,133.5 357.7,131.1 363.3,127.5 369.0,130.2 374.6,128.2 380.2,126.0"/>
<polyline points="273.2,108.4 278.8,107.9 284.5,106.3 290.1,109.5 295.7,111.1 301.4,115.3 307.0,112.7 312.6,113.4 318.3,115.8 323.9,114.1 329.5,109.3 335.2,106.6 340.8,99.3 346.4,103.1 352.1,94.2 357.7,96.9 363.3,99.6 369.0,100.9 374.6,109.3 380.2,113.2"/>
<polyline points="273.2,108.4 278.8,113.5 284.5,111.4 290.1,116.4 295.7,117.4 301.4,115.4 307.0,117.4 312.6,116.2 318.3,115.0 323.9,109.0 329.5,108.0 335.2,104.5 340.8,109.3 346.4,108.5 352.1,112.3 357.7,114.6 363.3,115.5 369.0,117.0 374.6,114.5 380.2,116.4"/>
<polyline points="273.2,108.4 278.8,105.8 284.5,99.3 290.1,101.9 295.7,98.1 301.4,99.7 307.0,103.8 312.6,108.0 318.3,112.2 323.9,100.1 329.5,107.6 335.2,104.3 340.8,103.2 346.4,98.7 352.1,99.5 357.7,97.6 363.3,98.4 369.0,111.4 374.6,113.3 380.2,109.9"/>
<polyline points="273.2,108.4 278.8,107.0 284.5,103.2 290.1,99.1 295.7,99.7 301.4,100.0 307.0,98.6 312.6,97.9 318.3,99.9 323.9,103.2 329.5,107.4 335.2,111.2 340.8,108.6 346.4,105.2 352.1,103.3 357.7,100.0 363.3,99.9 369.0,94.1 374.6,96.8 380.2,101.7"/>
<polyline points="273.2,108.4 278.8,103.5 284.5,104.9 290.1,101.5 295.7,101.2 301.4,89.2 307.0,87.1 312.6,79.8 318.3,80.3 323.9,79.8 329.5,87.5 335.2,81.8 340.8,87.0 346.4,86.1 352.1,87.1 357.7,101.0 363.3,103.6 369.0,100.1 374.6,109.1 380.2,113.0"/>
<polyline points="273.2,108.4 278.8,112.6 284.5,117.8 290.1,113.4 295.7,109.1 301.4,109.5 307.0,104.6 312.6,101.5 318.3,105.8 323.9,101.3 329.5,97.4 335.2,91.0 340.8,100.4 346.4,103.3 352.1,99.2 357.7,103.9 363.3,102.6 369.0,104.6 374.6,98.9 380.2,97.1"/>
<polyline points="273.2,108.4 278.8,104.8 284.5,102.4 290.1,101.5 295.7,104.0 301.4,100.4 307.0,100.5 312.6,108.4 318.3,112.0 323.9,110.3 329.5,117.0 335.2,113.8 340.8,115.3 346.4,110.2 352.1,114.1 357.7,109.1 363.3,111.8 369.0,107.5 374.6,111.8 380.2,107.3"/>
<polyline points="273.2,108.4 278.8,108.1 284.5,106.9 290.1,111.8 295.7,111.2 301.4,116.9 307.0,115.7 312.6,119.5 318.3,121.9 323.9,117.7 329.5,112.5 335.2,115.0 340.8,110.3 346.4,112.3 352.1,111.7 357.7,108.8 363.3,111.2 369.0,116.3 374.6,118.4 380.2,112.1"/>
<polyline points="273.2,108.4 278.8,111.7 284.5,110.8 290.1,114.4 295.7,122.2 301.4,123.6 307.0,118.4 312.6,116.6 318.3,113.2 323.9,113.3 329.5,112.9 335.2,113.7 340.8,110.8 346.4,109.4 352.1,109.2 357.7,114.8 363.3,110.9 369.0,113.0 374.6,111.6 380.2,116.4"/>
<polyline points="273.2,108.4 278.8,106.3 284.5,103.2 290.1,96.2 295.7,97.3 301.4,98.3 307.0,96.6 312.6,96.9 318.3,102.5 323.9,102.0 329.5,104.5 335.2,111.5 340.8,104.2 346.4,105.8 352.1,100.4 357.7,102.7 363.3,100.1 369.0,99.4 374.6,99.2 380.2,97.0"/>
<polyline points="273.2,108.4 278.8,105.8 284.5,104.6 290.1,99.8 295.7,105.2 301.4,103.3 307.0,105.5 312.6,104.8 318.3,102.5 323.9,100.7 329.5,100.3 335.2,96.1 340.8,98.5 346.4,103.6 352.1,105.2 357.7,105.4 363.3,107.4 369.0,106.1 374.6,108.3 380.2,107.0"/>
<polyline points="273.2,108.4 278.8,106.6 284.5,108.3 290.1,110.4 295.7,108.2 301.4,103.4 307.0,101.9 312.6,94.8 318.3,98.9 323.9,101.4 329.5,103.4 335.2,107.8 340.8,110.7 346.4,114.5 352.1,117.7 357.7,116.7 363.3,125.6 369.0,122.4 374.6,120.0 380.2,117.7"/>
<polyline points="273.2,108.4 278.8,104.2 284.5,105.7 290.1,105.2 295.7,110.6 301.4,104.8 307.0,101.9 312.6,110.1 318.3,113.2 323.9,117.4 329.5,117.5 335.2,116.0 340.8,118.5 346.4,121.8 352.1,122.7 357.7,125.3 363.3,118.9 369.0,120.5 374.6,119.8 380.2,121.2"/>
<polyline points="273.2,108.4 278.8,107.8 284.5,105.5 290.1,107.0 295.7,108.7 301.4,114.5 307.0,110.4 312.6,114.1 318.3,117.6 323.9,114.4 329.5,118.1 335.2,119.5 340.8,121.9 346.4,120.7 352.1,121.5 357.7,124.6 363.3,128.4 369.0,127.0 374.6,125.4 380.2,127.6"/>
<polyline points="273.2,108.4 278.8,109.0 284.5,115.2 290.1,111.3 295.7,113.2 301.4,108.9 307.0,110.7 312.6,103.9 318.3,100.5 323.9,103.1 329.5,97.8 335.2,101.7 340.8,107.9 346.4,112.7 352.1,113.5 357.7,115.4 363.3,116.9 369.0,109.7 374.6,110.4 380.2,109.8"/>
<polyline points="273.2,108.4 278.8,105.0 284.5,106.2 290.1,98.3 295.7,101.4 301.4,98.4 307.0,101.2 312.6,102.8 318.3,109.9 323.9,115.9 329.5,115.7 335.2,118.5 340.8,114.1 346.4,110.1 352.1,111.5 357.7,104.1 363.3,100.3 369.0,104.5 374.6,102.8 380.2,103.6"/>
<polyline points="273.2,108.4 278.8,102.8 284.5,105.1 290.1,106.9 295.7,112.6 301.4,121.1 307.0,123.6 312.6,129.7 318.3,126.7 323.9,129.0 329.5,132.1 335.2,134.0 340.8,134.0 346.4,138.6 352.1,135.3 357.7,132.5 363.3,134.0 369.0,128.3 374.6,129.1 380.2,127.5"/>
<polyline points="273.2,108.4 278.8,106.5 284.5,105.2 290.1,108.3 295.7,109.5 301.4,104.5 307.0,108.4 312.6,109.8 318.3,112.2 323.9,114.3 329.5,120.3 335.2,119.4 340.8,120.5 346.4,119.7 352.1,125.6 357.7,125.3 363.3,124.4 369.0,123.6 374.6,130.8 380.2,130.8"/>
<polyline points="273.2,108.4 278.8,116.2 284.5,110.8 290.1,106.0 295.7,102.4 301.4,106.1 307.0,104.0 312.6,102.2 318.3,102.0 323.9,103.9 329.5,104.6 335.2,102.0 340.8,101.3 346.4,100.0 352.1,104.4 357.7,103.0 363.3,103.8 369.0,102.5 374.6,101.1 380.2,92.8"/>
<polyline points="273.2,108.4 278.8,109.1 284.5,114.0 290.1,112.9 295.7,112.3 301.4,118.5 307.0,117.5 312.6,114.3 318.3,116.0 323.9,123.3 329.5,123.8 335.2,118.6 340.8,118.8 346.4,119.7 352.1,118.4 357.7,117.1 363.3,118.4 369.0,120.7 374.6,118.0 380.2,114.2"/>
<polyline points="273.2,108.4 278.8,106.2 284.5,100.0 290.1,104.0 295.7,105.4 301.4,103.2 307.0,107.0 312.6,106.3 318.3,104.2 323.9,96.1 329.5,96.2 335.2,95.5 340.8,98.3 346.4,98.0 352.1,104.7 357.7,99.8 363.3,102.7 369.0,96.8 374.6,95.4 380.2,102.9"/>
<polyline points="273.2,108.4 278.8,112.7 284.5,114.2 290.1,116.4 295.7,115.3 301.4,116.0 307.0,109.6 312.6,106.0 318.3,103.1 323.9,108.0 329.5,114.7 335.2,114.8 340.8,112.9 346.4,109.1 352.1,111.6 357.7,118.0 363.3,113.3 369.0,108.5 374.6,108.0 380.2,107.2"/>
<polyline points="273.2,108.4 278.8,107.8 284.5,103.0 290.1,100.9 295.7,109.6 301.4,105.1 307.0,103.3 312.6,104.3 318.3,99.0 323.9,99.3 329.5,99.6 335.2,104.5 340.8,107.4 346.4,103.1 352.1,96.7 357.7,95.2 363.3,97.0 369.0,93.2 374.6,95.7 380.2,86.8"/>
<polyline points="273.2,108.4 278.8,111.8 284.5,108.5 290.1,104.7 295.7,107.6 301.4,102.9 307.0,102.3 312.6,100.1 318.3,97.7 323.9,94.3 329.5,97.7 335.2,97.2 340.8,103.3 346.4,102.5 352.1,103.3 357.7,107.5 363.3,107.5 369.0,106.2 374.6,103.2 380.2,108.1"/>
<polyline points="273.2,108.4 278.8,106.7 284.5,106.0 290.1,112.9 295.7,113.9 301.4,116.6 307.0,116.4 312.6,114.5 318.3,116.2 323.9,109.7 329.5,108.3 335.2,108.7 340.8,106.1 346.4,100.0 352.1,98.2 357.7,91.1 363.3,90.1 369.0,93.3 374.6,100.2 380.2,101.4"/>
<polyline points="273.2,108.4 278.8,107.2 284.5,116.2 290.1,118.5 295.7,120.9 301.4,114.8 307.0,112.6 312.6,110.3 318.3,110.0 323.9,113.7 329.5,114.3 335.2,114.1 340.8,114.5 346.4,114.2 352.1,119.2 357.7,113.3 363.3,111.1 369.0,104.6 374.6,104.6 380.2,107.6"/>
<polyline points="273.2,108.4 278.8,104.6 284.5,103.3 290.1,98.2 295.7,96.0 301.4,103.8 307.0,102.0 312.6,101.8 318.3,101.4 323.9,102.7 329.5,101.0 335.2,98.2 340.8,94.7 346.4,83.9 352.1,81.8 357.7,92.4 363.3,89.6 369.0,89.3 374.6,91.2 380.2,94.0"/>
<polyline points="273.2,108.4 278.8,100.1 284.5,94.4 290.1,95.4 295.7,96.4 301.4,94.2 307.0,84.6 312.6,79.3 318.3,81.8 323.9,82.3 329.5,86.0 335.2,84.5 340.8,76.9 346.4,75.2 352.1,71.8 357.7,74.8 363.3,75.9 369.0,68.4 374.6,62.7 380.2,60.9"/>
</g>
<g fill="none" stroke="#ff0000" stroke-opacity="0.45" stroke-width="1.0" stroke-linejoin="round">
<polyline points="273.2,108.4 278.8,102.4 284.5,97.8 290.1,102.2 295.7,103.8 301.4,105.6 307.0,107.1 312.6,106.8 318.3,108.9 323.9,110.3 329.5,106.6 335.2,109.0 340.8,105.1 346.4,104.5 352.1,108.4 357.7,103.9 363.3,100.6 369.0,94.3 374.6,87.5 380.2,85.2"/>
<polyline points="273.2,108.4 278.8,108.8 284.5,104.0 290.1,101.4 295.7,102.1 301.4,91.4 307.0,91.2 312.6,95.2 318.3,94.2 323.9,87.2 329.5,79.9 335.2,86.7 340.8,83.5 346.4,81.5 352.1,76.6 357.7,76.3 363.3,72.5 369.0,74.2 374.6,72.8 380.2,71.9"/>
<polyline points="273.2,108.4 278.8,110.9 284.5,113.3 290.1,115.5 295.7,110.0 301.4,105.3 307.0,97.2 312.6,102.3 318.3,101.7 323.9,98.9 329.5,96.0 335.2,95.7 340.8,89.9 346.4,96.2 352.1,97.0 357.7,100.2 363.3,92.8 369.0,87.3 374.6,80.9 380.2,77.4"/>
<polyline points="273.2,108.4 278.8,110.2 284.5,115.9 290.1,113.3 295.7,114.3 301.4,111.2 307.0,109.1 312.6,106.0 318.3,106.1 323.9,103.6 329.5,99.4 335.2,99.7 340.8,101.5 346.4,92.6 352.1,95.9 357.7,99.4 363.3,94.2 369.0,91.8 374.6,91.0 380.2,83.0"/>
<polyline points="273.2,108.4 278.8,105.8 284.5,105.0 290.1,108.3 295.7,108.6 301.4,105.0 307.0,105.5 312.6,105.0 318.3,102.1 323.9,100.3 329.5,97.6 335.2,97.2 340.8,100.1 346.4,96.1 352.1,96.5 357.7,95.6 363.3,97.5 369.0,97.5 374.6,91.1 380.2,86.5"/>
<polyline points="273.2,108.4 278.8,100.3 284.5,95.0 290.1,97.9 295.7,103.5 301.4,106.8 307.0,105.0 312.6,106.0 318.3,97.6 323.9,88.5 329.5,93.2 335.2,101.7 340.8,100.2 346.4,101.5 352.1,94.7 357.7,92.1 363.3,84.6 369.0,82.9 374.6,84.7 380.2,88.1"/>
<polyline points="273.2,108.4 278.8,111.2 284.5,110.7 290.1,113.3 295.7,116.0 301.4,118.3 307.0,119.0 312.6,116.1 318.3,117.5 323.9,117.7 329.5,109.6 335.2,107.9 340.8,107.2 346.4,101.6 352.1,101.4 357.7,102.5 363.3,102.8 369.0,107.0 374.6,102.7 380.2,104.7"/>
<polyline points="273.2,108.4 278.8,112.1 284.5,108.4 290.1,105.7 295.7,111.8 301.4,110.9 307.0,106.5 312.6,99.0 318.3,93.2 323.9,89.4 329.5,90.3 335.2,90.8 340.8,79.7 346.4,81.3 352.1,74.5 357.7,74.4 363.3,72.7 369.0,67.4 374.6,66.8 380.2,66.5"/>
<polyline points="273.2,108.4 278.8,105.7 284.5,110.1 290.1,113.9 295.7,108.5 301.4,109.6 307.0,108.9 312.6,112.9 318.3,116.9 323.9,114.8 329.5,112.0 335.2,107.2 340.8,108.6 346.4,103.0 352.1,104.0 357.7,109.1 363.3,109.8 369.0,110.5 374.6,107.7 380.2,112.8"/>
<polyline points="273.2,108.4 278.8,110.8 284.5,108.5 290.1,108.3 295.7,100.3 301.4,97.7 307.0,91.6 312.6,96.2 318.3,88.5 323.9,90.3 329.5,87.4 335.2,93.8 340.8,95.3 346.4,97.0 352.1,93.3 357.7,82.7 363.3,73.8 369.0,65.7 374.6,64.3 380.2,66.5"/>
<polyline points="273.2,108.4 278.8,104.2 284.5,110.0 290.1,114.2 295.7,115.3 301.4,105.8 307.0,111.7 312.6,112.0 318.3,115.6 323.9,117.2 329.5,113.3 335.2,111.1 340.8,110.6 346.4,108.2 352.1,105.0 357.7,105.0 363.3,108.4 369.0,109.5 374.6,114.3 380.2,115.2"/>
<polyline points="273.2,108.4 278.8,106.6 284.5,104.1 290.1,99.7 295.7,99.6 301.4,95.6 307.0,98.2 312.6,99.0 318.3,95.4 323.9,94.5 329.5,82.4 335.2,89.6 340.8,89.3 346.4,85.7 352.1,83.8 357.7,89.7 363.3,87.4 369.0,83.1 374.6,82.0 380.2,69.9"/>
<polyline points="273.2,108.4 278.8,113.6 284.5,113.8 290.1,116.5 295.7,118.4 301.4,111.6 307.0,104.6 312.6,101.9 318.3,106.2 323.9,106.9 329.5,105.0 335.2,99.6 340.8,93.3 346.4,96.3 352.1,98.6 357.7,92.7 363.3,91.6 369.0,86.6 374.6,79.6 380.2,77.4"/>
<polyline points="273.2,108.4 278.8,102.8 284.5,102.1 290.1,102.4 295.7,98.0 301.4,91.6 307.0,95.5 312.6,94.0 318.3,97.4 323.9,92.2 329.5,84.5 335.2,81.9 340.8,87.2 346.4,83.5 352.1,81.4 357.7,79.3 363.3,72.8 369.0,69.7 374.6,72.0 380.2,74.1"/>
<polyline points="273.2,108.4 278.8,107.0 284.5,99.2 290.1,92.9 295.7,100.3 301.4,95.8 307.0,93.7 312.6,89.1 318.3,90.0 323.9,88.0 329.5,93.4 335.2,96.7 340.8,94.9 346.4,91.1 352.1,84.8 357.7,80.7 363.3,72.2 369.0,63.5 374.6,55.4 380.2,57.9"/>
<polyline points="273.2,108.4 278.8,108.7 284.5,107.3 290.1,108.8 295.7,104.8 301.4,108.8 307.0,110.5 312.6,112.2 318.3,110.2 323.9,107.4 329.5,105.7 335.2,101.0 340.8,100.1 346.4,103.0 352.1,102.1 357.7,99.8 363.3,97.4 369.0,101.1 374.6,100.2 380.2,96.4"/>
<polyline points="273.2,108.4 278.8,99.1 284.5,109.4 290.1,114.1 295.7,113.5 301.4,107.2 307.0,110.4 312.6,103.7 318.3,103.0 323.9,104.9 329.5,107.9 335.2,107.2 340.8,106.9 346.4,104.8 352.1,100.0 357.7,99.8 363.3,101.0 369.0,92.6 374.6,87.7 380.2,87.5"/>
<polyline points="273.2,108.4 278.8,105.5 284.5,103.0 290.1,101.7 295.7,95.3 301.4,95.1 307.0,90.7 312.6,86.8 318.3,86.0 323.9,75.0 329.5,75.2 335.2,73.8 340.8,72.4 346.4,68.7 352.1,71.4 357.7,72.7 363.3,68.1 369.0,69.5 374.6,61.3 380.2,63.0"/>
<polyline points="273.2,108.4 278.8,108.0 284.5,104.9 290.1,93.8 295.7,95.5 301.4,94.7 307.0,90.5 312.6,95.5 318.3,91.2 323.9,97.1 329.5,95.1 335.2,93.6 340.8,90.6 346.4,95.1 352.1,92.6 357.7,86.0 363.3,91.8 369.0,92.6 374.6,94.2 380.2,87.2"/>
<polyline points="273.2,108.4 278.8,108.1 284.5,106.2 290.1,103.2 295.7,97.0 301.4,92.6 307.0,85.1 312.6,88.6 318.3,85.9 323.9,89.1 329.5,84.3 335.2,80.3 340.8,78.7 346.4,72.7 352.1,77.0 357.7,72.9 363.3,65.0 369.0,63.2 374.6,53.9 380.2,53.2"/>
<polyline points="273.2,108.4 278.8,109.3 284.5,107.4 290.1,102.0 295.7,102.6 301.4,102.8 307.0,110.5 312.6,111.1 318.3,111.5 323.9,110.7 329.5,105.4 335.2,110.5 340.8,112.9 346.4,116.7 352.1,121.2 357.7,114.8 363.3,114.2 369.0,117.1 374.6,112.8 380.2,113.3"/>
<polyline points="273.2,108.4 278.8,116.0 284.5,106.9 290.1,106.1 295.7,102.5 301.4,104.6 307.0,99.3 312.6,103.5 318.3,109.1 323.9,111.4 329.5,115.6 335.2,119.9 340.8,118.6 346.4,120.3 352.1,118.6 357.7,113.6 363.3,109.4 369.0,105.4 374.6,112.8 380.2,109.7"/>
<polyline points="273.2,108.4 278.8,100.8 284.5,97.7 290.1,92.2 295.7,89.2 301.4,82.6 307.0,76.0 312.6,74.4 318.3,74.8 323.9,71.0 329.5,69.0 335.2,63.1 340.8,61.6 346.4,58.5 352.1,51.3 357.7,50.4 363.3,53.4 369.0,54.7 374.6,52.1 380.2,50.2"/>
<polyline points="273.2,108.4 278.8,99.9 284.5,96.2 290.1,102.8 295.7,105.1 301.4,106.7 307.0,103.3 312.6,97.0 318.3,102.1 323.9,94.6 329.5,96.2 335.2,93.8 340.8,91.1 346.4,87.3 352.1,81.9 357.7,76.3 363.3,77.0 369.0,81.7 374.6,78.8 380.2,77.1"/>
<polyline points="273.2,108.4 278.8,105.5 284.5,101.5 290.1,97.3 295.7,98.3 301.4,104.1 307.0,103.0 312.6,98.1 318.3,101.8 323.9,100.4 329.5,98.4 335.2,93.5 340.8,98.7 346.4,89.5 352.1,87.7 357.7,81.9 363.3,80.8 369.0,81.3 374.6,74.2 380.2,77.9"/>
<polyline points="273.2,108.4 278.8,100.1 284.5,95.3 290.1,96.1 295.7,83.2 301.4,87.8 307.0,89.8 312.6,90.9 318.3,86.0 323.9,85.8 329.5,82.5 335.2,80.1 340.8,77.6 346.4,73.4 352.1,79.0 357.7,78.9 363.3,78.1 369.0,73.9 374.6,74.6 380.2,72.9"/>
<polyline points="273.2,108.4 278.8,114.4 284.5,114.5 290.1,112.4 295.7,108.7 301.4,107.8 307.0,108.6 312.6,100.4 318.3,101.4 323.9,96.9 329.5,93.7 335.2,90.8 340.8,90.1 346.4,94.5 352.1,93.8 357.7,87.3 363.3,85.2 369.0,72.5 374.6,71.9 380.2,72.8"/>
<polyline points="273.2,108.4 278.8,110.7 284.5,106.9 290.1,109.8 295.7,110.4 301.4,105.9 307.0,109.2 312.6,105.9 318.3,101.5 323.9,90.9 329.5,95.6 335.2,91.2 340.8,92.7 346.4,92.5 352.1,95.3 357.7,99.6 363.3,100.3 369.0,98.4 374.6,96.2 380.2,90.3"/>
<polyline points="273.2,108.4 278.8,113.6 284.5,112.0 290.1,103.0 295.7,101.7 301.4,101.5 307.0,99.7 312.6,97.7 318.3,92.7 323.9,95.7 329.5,94.0 335.2,91.3 340.8,72.6 346.4,73.3 352.1,75.5 357.7,85.1 363.3,88.8 369.0,86.8 374.6,86.7 380.2,85.0"/>
<polyline points="273.2,108.4 278.8,109.0 284.5,105.8 290.1,103.6 295.7,106.7 301.4,102.1 307.0,101.2 312.6,103.9 318.3,101.7 323.9,98.4 329.5,96.2 335.2,101.6 340.8,106.6 346.4,104.4 352.1,108.7 357.7,112.1 363.3,112.0 369.0,117.3 374.6,115.2 380.2,114.1"/>
<polyline points="273.2,108.4 278.8,111.3 284.5,106.2 290.1,111.2 295.7,107.0 301.4,103.7 307.0,99.2 312.6,91.7 318.3,92.1 323.9,83.9 329.5,83.3 335.2,81.1 340.8,74.6 346.4,65.4 352.1,55.6 357.7,60.1 363.3,56.6 369.0,55.4 374.6,52.5 380.2,57.9"/>
<polyline points="273.2,108.4 278.8,113.7 284.5,114.8 290.1,115.3 295.7,116.8 301.4,111.2 307.0,104.7 312.6,98.5 318.3,100.2 323.9,98.4 329.5,96.5 335.2,94.3 340.8,101.6 346.4,102.6 352.1,98.1 357.7,99.2 363.3,103.5 369.0,107.5 374.6,109.6 380.2,101.6"/>
<polyline points="273.2,108.4 278.8,106.9 284.5,105.6 290.1,97.2 295.7,94.0 301.4,95.2 307.0,96.7 312.6,94.5 318.3,94.8 323.9,96.7 329.5,97.5 335.2,89.7 340.8,83.2 346.4,82.5 352.1,80.0 357.7,79.8 363.3,76.0 369.0,67.1 374.6,70.5 380.2,69.7"/>
<polyline points="273.2,108.4 278.8,103.3 284.5,101.5 290.1,96.9 295.7,97.5 301.4,98.5 307.0,98.3 312.6,103.4 318.3,102.0 323.9,99.4 329.5,102.7 335.2,100.1 340.8,99.6 346.4,96.8 352.1,95.2 357.7,97.6 363.3,93.0 369.0,86.3 374.6,88.7 380.2,86.3"/>
<polyline points="273.2,108.4 278.8,110.5 284.5,113.5 290.1,112.1 295.7,111.5 301.4,112.5 307.0,116.8 312.6,114.7 318.3,118.9 323.9,117.2 329.5,117.4 335.2,114.6 340.8,116.0 346.4,114.3 352.1,115.1 357.7,120.1 363.3,119.1 369.0,119.5 374.6,114.6 380.2,112.4"/>
<polyline points="273.2,108.4 278.8,107.2 284.5,97.8 290.1,88.1 295.7,87.7 301.4,89.7 307.0,80.4 312.6,74.9 318.3,68.8 323.9,77.6 329.5,82.4 335.2,81.1 340.8,84.5 346.4,80.0 352.1,71.0 357.7,63.8 363.3,59.8 369.0,57.8 374.6,57.2 380.2,50.1"/>
<polyline points="273.2,108.4 278.8,99.6 284.5,94.5 290.1,91.7 295.7,90.6 301.4,95.0 307.0,93.5 312.6,92.4 318.3,97.6 323.9,103.7 329.5,102.2 335.2,99.8 340.8,100.5 346.4,102.3 352.1,91.1 357.7,90.1 363.3,85.5 369.0,73.3 374.6,67.1 380.2,63.6"/>
<polyline points="273.2,108.4 278.8,103.8 284.5,93.3 290.1,91.7 295.7,97.6 301.4,95.2 307.0,92.2 312.6,96.3 318.3,92.7 323.9,93.2 329.5,92.1 335.2,93.6 340.8,92.1 346.4,93.3 352.1,86.8 357.7,83.0 363.3,88.2 369.0,87.8 374.6,83.0 380.2,80.4"/>
<polyline points="273.2,108.4 278.8,109.6 284.5,107.7 290.1,103.0 295.7,103.4 301.4,98.4 307.0,98.8 312.6,90.3 318.3,83.8 323.9,83.6 329.5,83.8 335.2,82.8 340.8,74.7 346.4,64.8 352.1,61.8 357.7,59.7 363.3,58.5 369.0,63.0 374.6,62.4 380.2,61.3"/>
<polyline points="273.2,108.4 278.8,108.1 284.5,100.8 290.1,96.1 295.7,93.3 301.4,96.7 307.0,93.7 312.6,98.4 318.3,92.7 323.9,86.2 329.5,84.8 335.2,79.0 340.8,75.1 346.4,74.9 352.1,83.4 357.7,78.7 363.3,80.6 369.0,80.4 374.6,69.3 380.2,72.2"/>
<polyline points="273.2,108.4 278.8,105.1 284.5,106.3 290.1,115.4 295.7,111.4 301.4,107.4 307.0,105.6 312.6,109.4 318.3,105.3 323.9,104.4 329.5,102.2 335.2,96.4 340.8,94.5 346.4,93.7 352.1,93.1 357.7,93.7 363.3,95.2 369.0,91.7 374.6,92.2 380.2,87.0"/>
<polyline points="273.2,108.4 278.8,110.5 284.5,104.1 290.1,107.2 295.7,99.6 301.4,102.5 307.0,97.8 312.6,105.4 318.3,109.0 323.9,107.8 329.5,102.6 335.2,94.9 340.8,93.9 346.4,84.1 352.1,84.3 357.7,87.6 363.3,90.5 369.0,86.0 374.6,80.2 380.2,87.4"/>
<polyline points="273.2,108.4 278.8,101.2 284.5,102.4 290.1,93.7 295.7,99.2 301.4,101.6 307.0,100.4 312.6,93.7 318.3,91.9 323.9,79.9 329.5,75.8 335.2,79.4 340.8,76.4 346.4,74.3 352.1,80.2 357.7,77.8 363.3,68.2 369.0,68.7 374.6,54.9 380.2,64.5"/>
<polyline points="273.2,108.4 278.8,109.4 284.5,107.6 290.1,108.8 295.7,111.0 301.4,112.6 307.0,112.5 312.6,108.3 318.3,109.7 323.9,106.4 329.5,104.6 335.2,95.9 340.8,96.8 346.4,100.5 352.1,98.0 357.7,92.1 363.3,88.7 369.0,90.5 374.6,97.7 380.2,94.8"/>
<polyline points="273.2,108.4 278.8,102.9 284.5,102.9 290.1,102.0 295.7,104.6 301.4,104.7 307.0,102.8 312.6,97.3 318.3,94.0 323.9,86.0 329.5,84.6 335.2,81.5 340.8,88.1 346.4,78.5 352.1,78.6 357.7,76.7 363.3,76.5 369.0,76.5 374.6,82.3 380.2,79.2"/>
<polyline points="273.2,108.4 278.8,111.2 284.5,111.1 290.1,107.3 295.7,105.3 301.4,101.4 307.0,101.6 312.6,98.3 318.3,91.1 323.9,85.7 329.5,79.2 335.2,76.7 340.8,77.8 346.4,77.4 352.1,87.0 357.7,88.6 363.3,82.2 369.0,86.9 374.6,68.8 380.2,62.0"/>
<polyline points="273.2,108.4 278.8,99.2 284.5,101.1 290.1,94.7 295.7,93.0 301.4,100.0 307.0,102.6 312.6,106.8 318.3,104.1 323.9,100.7 329.5,100.1 335.2,100.7 340.8,94.0 346.4,91.1 352.1,90.7 357.7,89.8 363.3,90.4 369.0,87.4 374.6,82.2 380.2,82.7"/>
<polyline points="273.2,108.4 278.8,106.9 284.5,116.3 290.1,108.0 295.7,106.8 301.4,107.8 307.0,105.2 312.6,101.5 318.3,93.5 323.9,93.4 329.5,97.0 335.2,95.9 340.8,88.2 346.4,83.9 352.1,85.6 357.7,84.7 363.3,84.1 369.0,74.8 374.6,67.9 380.2,72.6"/>
<polyline points="273.2,108.4 278.8,110.4 284.5,105.2 290.1,102.8 295.7,104.6 301.4,108.0 307.0,110.5 312.6,115.0 318.3,111.2 323.9,110.5 329.5,104.6 335.2,103.7 340.8,98.2 346.4,102.2 352.1,98.2 357.7,101.7 363.3,101.5 369.0,105.8 374.6,106.4 380.2,103.2"/>
<polyline points="273.2,108.4 278.8,106.3 284.5,102.6 290.1,106.9 295.7,97.0 301.4,99.1 307.0,99.3 312.6,99.7 318.3,97.9 323.9,92.6 329.5,90.1 335.2,85.3 340.8,85.9 346.4,85.4 352.1,86.0 357.7,87.7 363.3,93.7 369.0,97.9 374.6,94.0 380.2,92.6"/>
<polyline points="273.2,108.4 278.8,107.6 284.5,108.0 290.1,108.9 295.7,108.7 301.4,108.8 307.0,104.4 312.6,109.6 318.3,95.5 323.9,92.0 329.5,92.2 335.2,94.5 340.8,91.2 346.4,90.0 352.1,93.1 357.7,89.6 363.3,87.4 369.0,84.1 374.6,85.9 380.2,80.4"/>
<polyline points="273.2,108.4 278.8,111.8 284.5,119.3 290.1,115.5 295.7,118.1 301.4,112.1 307.0,108.4 312.6,109.4 318.3,106.6 323.9,103.6 329.5,102.9 335.2,98.5 340.8,106.2 346.4,108.0 352.1,113.1 357.7,102.4 363.3,102.5 369.0,100.5 374.6,102.3 380.2,97.6"/>
<polyline points="273.2,108.4 278.8,109.3 284.5,101.8 290.1,107.9 295.7,104.8 301.4,104.0 307.0,112.8 312.6,115.1 318.3,108.1 323.9,113.3 329.5,112.3 335.2,111.5 340.8,110.4 346.4,113.9 352.1,111.8 357.7,105.3 363.3,99.1 369.0,100.0 374.6,93.4 380.2,92.6"/>
<polyline points="273.2,108.4 278.8,110.0 284.5,108.1 290.1,105.4 295.7,98.0 301.4,91.1 307.0,86.5 312.6,90.4 318.3,91.2 323.9,87.5 329.5,87.7 335.2,92.7 340.8,94.5 346.4,94.3 352.1,99.8 357.7,96.7 363.3,95.5 369.0,87.8 374.6,86.3 380.2,78.6"/>
<polyline points="273.2,108.4 278.8,104.4 284.5,106.4 290.1,99.6 295.7,95.8 301.4,93.5 307.0,95.7 312.6,93.7 318.3,88.8 323.9,85.0 329.5,79.9 335.2,79.8 340.8,74.3 346.4,80.6 352.1,76.8 357.7,79.7 363.3,75.8 369.0,67.9 374.6,60.7 380.2,56.5"/>
<polyline points="273.2,108.4 278.8,104.4 284.5,95.0 290.1,101.4 295.7,99.9 301.4,100.2 307.0,99.4 312.6,101.3 318.3,103.8 323.9,103.1 329.5,99.8 335.2,102.7 340.8,92.3 346.4,82.8 352.1,76.7 357.7,73.7 363.3,64.8 369.0,58.8 374.6,54.2 380.2,49.6"/>
<polyline points="273.2,108.4 278.8,116.1 284.5,115.3 290.1,109.8 295.7,105.8 301.4,105.3 307.0,101.9 312.6,101.1 318.3,104.7 323.9,105.3 329.5,106.0 335.2,104.9 340.8,105.3 346.4,99.0 352.1,103.0 357.7,97.4 363.3,96.5 369.0,97.6 374.6,95.2 380.2,95.9"/>
<polyline points="273.2,108.4 278.8,98.5 284.5,100.9 290.1,94.2 295.7,97.6 301.4,92.5 307.0,94.0 312.6,84.8 318.3,81.6 323.9,83.7 329.5,82.7 335.2,88.7 340.8,86.7 346.4,86.7 352.1,82.2 357.7,82.8 363.3,82.8 369.0,75.7 374.6,69.4 380.2,71.2"/>
<polyline points="273.2,108.4 278.8,103.9 284.5,99.3 290.1,97.8 295.7,98.6 301.4,93.9 307.0,95.3 312.6,94.4 318.3,105.3 323.9,106.8 329.5,104.6 335.2,110.0 340.8,111.8 346.4,112.8 352.1,113.0 357.7,110.2 363.3,109.6 369.0,115.6 374.6,112.9 380.2,113.1"/>
<polyline points="273.2,108.4 278.8,109.5 284.5,112.4 290.1,110.1 295.7,110.3 301.4,108.5 307.0,99.1 312.6,97.6 318.3,92.3 323.9,85.2 329.5,84.0 335.2,81.4 340.8,77.5 346.4,65.8 352.1,67.4 357.7,59.2 363.3,54.6 369.0,62.1 374.6,69.0 380.2,67.0"/>
<polyline points="273.2,108.4 278.8,103.2 284.5,103.0 290.1,103.7 295.7,110.2 301.4,102.4 307.0,101.8 312.6,103.5 318.3,96.1 323.9,91.7 329.5,97.4 335.2,95.1 340.8,92.0 346.4,96.8 352.1,91.7 357.7,90.1 363.3,94.4 369.0,89.6 374.6,87.1 380.2,80.0"/>
<polyline points="273.2,108.4 278.8,114.3 284.5,111.9 290.1,104.3 295.7,102.7 301.4,101.5 307.0,101.1 312.6,100.8 318.3,100.7 323.9,93.4 329.5,92.0 335.2,104.4 340.8,111.8 346.4,109.9 352.1,109.0 357.7,116.2 363.3,123.5 369.0,121.2 374.6,122.2 380.2,116.8"/>
<polyline points="273.2,108.4 278.8,108.7 284.5,106.0 290.1,106.6 295.7,103.8 301.4,105.5 307.0,113.6 312.6,115.1 318.3,107.3 323.9,106.9 329.5,99.1 335.2,99.2 340.8,97.7 346.4,89.6 352.1,80.2 357.7,78.6 363.3,79.1 369.0,76.9 374.6,71.8 380.2,73.5"/>
<polyline points="273.2,108.4 278.8,115.2 284.5,115.8 290.1,106.9 295.7,103.0 301.4,98.1 307.0,94.9 312.6,98.8 318.3,105.0 323.9,110.6 329.5,113.6 335.2,110.6 340.8,113.0 346.4,111.0 352.1,107.4 357.7,104.2 363.3,103.0 369.0,107.7 374.6,106.3 380.2,108.2"/>
<polyline points="273.2,108.4 278.8,104.2 284.5,104.7 290.1,105.8 295.7,105.3 301.4,105.4 307.0,97.6 312.6,95.5 318.3,93.7 323.9,94.6 329.5,89.1 335.2,93.7 340.8,89.6 346.4,89.5 352.1,78.8 357.7,80.8 363.3,76.1 369.0,70.5 374.6,60.4 380.2,56.7"/>
<polyline points="273.2,108.4 278.8,103.9 284.5,100.6 290.1,104.5 295.7,106.5 301.4,108.1 307.0,116.2 312.6,116.2 318.3,111.3 323.9,104.9 329.5,110.2 335.2,105.0 340.8,108.9 346.4,112.2 352.1,106.9 357.7,101.9 363.3,101.2 369.0,93.6 374.6,96.4 380.2,93.0"/>
<polyline points="273.2,108.4 278.8,107.4 284.5,112.7 290.1,115.8 295.7,112.0 301.4,116.0 307.0,116.0 312.6,114.8 318.3,115.3 323.9,115.1 329.5,117.6 335.2,113.4 340.8,109.3 346.4,106.6 352.1,115.8 357.7,117.8 363.3,109.8 369.0,106.6 374.6,108.5 380.2,112.9"/>
<polyline points="273.2,108.4 278.8,111.7 284.5,118.7 290.1,114.3 295.7,117.5 301.4,114.0 307.0,109.5 312.6,108.3 318.3,108.9 323.9,115.0 329.5,119.3 335.2,116.4 340.8,116.0 346.4,115.1 352.1,116.2 357.7,119.5 363.3,116.6 369.0,119.4 374.6,116.4 380.2,112.5"/>
<polyline points="273.2,108.4 278.8,112.4 284.5,108.3 290.1,109.1 295.7,98.1 301.4,100.7 307.0,100.5 312.6,98.7 318.3,99.7 323.9,103.9 329.5,98.3 335.2,97.6 340.8,101.7 346.4,98.9 352.1,98.5 357.7,100.8 363.3,96.5 369.0,92.2 374.6,94.3 380.2,90.3"/>
<polyline points="273.2,108.4 278.8,107.1 284.5,106.3 290.1,107.6 295.7,107.6 301.4,106.5 307.0,103.6 312.6,93.3 318.3,88.6 323.9,90.9 329.5,96.2 335.2,93.0 340.8,85.4 346.4,84.4 352.1,85.7 357.7,77.1 363.3,78.3 369.0,81.5 374.6,80.4 380.2,85.5"/>
<polyline points="273.2,108.4 278.8,103.0 284.5,103.1 290.1,103.4 295.7,106.8 301.4,105.1 307.0,108.0 312.6,110.0 318.3,110.7 323.9,106.3 329.5,100.6 335.2,104.6 340.8,109.8 346.4,109.6 352.1,106.1 357.7,100.7 363.3,96.9 369.0,97.3 374.6,94.8 380.2,95.3"/>
<polyline points="273.2,108.4 278.8,105.2 284.5,107.8 290.1,112.7 295.7,117.5 301.4,115.0 307.0,112.1 312.6,113.0 318.3,115.7 323.9,118.4 329.5,114.1 335.2,112.2 340.8,110.0 346.4,112.5 352.1,118.7 357.7,118.2 363.3,120.4 369.0,119.6 374.6,119.2 380.2,120.8"/>
<polyline points="273.2,108.4 278.8,106.6 284.5,111.1 290.1,112.8 295.7,109.3 301.4,110.2 307.0,109.9 312.6,110.7 318.3,107.7 323.9,106.2 329.5,107.7 335.2,101.0 340.8,98.8 346.4,86.3 352.1,86.5 357.7,81.3 363.3,84.6 369.0,78.9 374.6,74.2 380.2,77.1"/>
<polyline points="273.2,108.4 278.8,103.5 284.5,99.2 290.1,98.3 295.7,92.4 301.4,88.8 307.0,82.7 312.6,85.2 318.3,92.7 323.9,91.6 329.5,84.7 335.2,82.5 340.8,85.5 346.4,91.2 352.1,96.3 357.7,97.5 363.3,98.6 369.0,96.0 374.6,94.5 380.2,93.5"/>
<polyline points="273.2,108.4 278.8,109.4 284.5,111.0 290.1,109.4 295.7,113.5 301.4,118.0 307.0,119.5 312.6,119.3 318.3,119.3 323.9,116.0 329.5,110.1 335.2,107.8 340.8,109.6 346.4,107.2 352.1,106.5 357.7,104.9 363.3,106.1 369.0,99.9 374.6,97.9 380.2,91.5"/>
<polyline points="273.2,108.4 278.8,112.0 284.5,106.5 290.1,102.0 295.7,97.9 301.4,95.7 307.0,102.0 312.6,101.8 318.3,99.5 323.9,88.0 329.5,87.7 335.2,76.1 340.8,74.3 346.4,68.0 352.1,62.6 357.7,61.2 363.3,55.6 369.0,54.8 374.6,54.2 380.2,49.4"/>
<polyline points="273.2,108.4 278.8,112.0 284.5,110.4 290.1,112.9 295.7,103.7 301.4,104.6 307.0,103.7 312.6,101.3 318.3,98.9 323.9,94.9 329.5,87.1 335.2,88.8 340.8,94.4 346.4,103.2 352.1,104.3 357.7,107.7 363.3,107.9 369.0,107.1 374.6,103.3 380.2,102.5"/>
<polyline points="273.2,108.4 278.8,108.0 284.5,107.7 290.1,108.4 295.7,106.5 301.4,105.8 307.0,107.3 312.6,104.5 318.3,107.4 323.9,102.0 329.5,103.0 335.2,90.6 340.8,87.5 346.4,85.7 352.1,87.1 357.7,87.4 363.3,87.1 369.0,85.0 374.6,83.1 380.2,79.9"/>
<polyline points="273.2,108.4 278.8,114.8 284.5,118.0 290.1,120.4 295.7,116.1 301.4,110.6 307.0,104.0 312.6,100.5 318.3,99.1 323.9,97.1 329.5,95.8 335.2,91.7 340.8,93.7 346.4,93.8 352.1,92.3 357.7,94.8 363.3,100.8 369.0,104.2 374.6,94.9 380.2,89.2"/>
<polyline points="273.2,108.4 278.8,110.6 284.5,107.2 290.1,98.2 295.7,96.6 301.4,100.5 307.0,100.7 312.6,92.3 318.3,86.0 323.9,79.6 329.5,71.7 335.2,69.9 340.8,66.8 346.4,61.8 352.1,72.0 357.7,69.9 363.3,75.9 369.0,70.8 374.6,67.7 380.2,68.5"/>
<polyline points="273.2,108.4 278.8,105.2 284.5,100.4 290.1,97.2 295.7,89.9 301.4,88.2 307.0,84.6 312.6,85.0 318.3,82.6 323.9,81.6 329.5,86.2 335.2,94.5 340.8,93.1 346.4,88.2 352.1,84.5 357.7,78.6 363.3,79.1 369.0,75.5 374.6,83.3 380.2,82.7"/>
<polyline points="273.2,108.4 278.8,112.4 284.5,110.5 290.1,118.6 295.7,122.6 301.4,129.9 307.0,127.1 312.6,122.3 318.3,121.4 323.9,118.0 329.5,124.9 335.2,131.2 340.8,131.9 346.4,132.3 352.1,128.4 357.7,126.1 363.3,120.8 369.0,119.7 374.6,120.2 380.2,121.2"/>
<polyline points="273.2,108.4 278.8,112.7 284.5,114.9 290.1,117.1 295.7,118.7 301.4,108.1 307.0,105.3 312.6,99.0 318.3,97.3 323.9,93.4 329.5,84.6 335.2,93.9 340.8,100.2 346.4,98.6 352.1,96.2 357.7,91.6 363.3,81.1 369.0,84.8 374.6,88.5 380.2,82.7"/>
<polyline points="273.2,108.4 278.8,105.0 284.5,104.2 290.1,101.6 295.7,100.9 301.4,98.7 307.0,99.8 312.6,100.9 318.3,98.5 323.9,101.7 329.5,99.6 335.2,96.1 340.8,96.9 346.4,105.8 352.1,98.7 357.7,95.2 363.3,100.7 369.0,101.9 374.6,103.6 380.2,106.6"/>
<polyline points="273.2,108.4 278.8,103.3 284.5,106.0 290.1,104.3 295.7,100.0 301.4,100.3 307.0,102.0 312.6,99.0 318.3,101.8 323.9,90.9 329.5,84.8 335.2,82.9 340.8,76.8 346.4,68.9 352.1,80.1 357.7,76.2 363.3,70.0 369.0,70.2 374.6,73.2 380.2,71.2"/>
<polyline points="273.2,108.4 278.8,106.4 284.5,105.5 290.1,105.1 295.7,99.5 301.4,97.0 307.0,93.6 312.6,91.0 318.3,93.0 323.9,86.2 329.5,91.7 335.2,87.1 340.8,77.1 346.4,80.8 352.1,81.1 357.7,68.1 363.3,67.7 369.0,64.5 374.6,63.2 380.2,65.9"/>
<polyline points="273.2,108.4 278.8,110.0 284.5,108.3 290.1,110.7 295.7,115.3 301.4,110.8 307.0,110.1 312.6,109.7 318.3,112.5 323.9,112.9 329.5,103.7 335.2,99.3 340.8,103.6 346.4,103.1 352.1,104.4 357.7,100.3 363.3,100.3 369.0,99.1 374.6,103.5 380.2,101.5"/>
<polyline points="273.2,108.4 278.8,106.4 284.5,101.5 290.1,98.1 295.7,96.8 301.4,103.1 307.0,101.9 312.6,98.3 318.3,101.3 323.9,93.9 329.5,95.3 335.2,91.7 340.8,93.9 346.4,92.0 352.1,87.6 357.7,88.4 363.3,85.1 369.0,87.9 374.6,88.8 380.2,90.3"/>
<polyline points="273.2,108.4 278.8,106.1 284.5,99.6 290.1,107.1 295.7,114.1 301.4,111.4 307.0,111.3 312.6,116.8 318.3,114.5 323.9,114.4 329.5,108.8 335.2,110.0 340.8,107.5 346.4,105.9 352.1,100.8 357.7,94.2 363.3,95.0 369.0,93.8 374.6,95.5 380.2,92.2"/>
<polyline points="273.2,108.4 278.8,109.8 284.5,105.1 290.1,108.1 295.7,103.8 301.4,98.1 307.0,96.7 312.6,106.5 318.3,104.7 323.9,103.1 329.5,104.0 335.2,96.5 340.8,94.3 346.4,91.2 352.1,87.4 357.7,77.3 363.3,77.5 369.0,76.3 374.6,79.6 380.2,83.5"/>
<polyline points="273.2,108.4 278.8,107.9 284.5,107.5 290.1,99.3 295.7,99.6 301.4,96.4 307.0,98.6 312.6,102.7 318.3,98.7 323.9,100.8 329.5,98.5 335.2,96.3 340.8,96.7 346.4,95.4 352.1,99.5 357.7,102.9 363.3,99.1 369.0,99.6 374.6,93.2 380.2,96.3"/>
<polyline points="273.2,108.4 278.8,106.2 284.5,105.9 290.1,106.6 295.7,96.8 301.4,103.9 307.0,102.8 312.6,99.5 318.3,100.9 323.9,98.5 329.5,93.3 335.2,90.4 340.8,85.8 346.4,85.1 352.1,86.9 357.7,89.1 363.3,84.0 369.0,77.5 374.6,76.2 380.2,75.8"/>
<polyline points="273.2,108.4 278.8,104.0 284.5,103.5 290.1,102.9 295.7,101.0 301.4,103.4 307.0,99.6 312.6,100.4 318.3,108.0 323.9,101.3 329.5,101.9 335.2,97.6 340.8,90.1 346.4,88.7 352.1,87.9 357.7,85.5 363.3,88.5 369.0,79.2 374.6,74.0 380.2,78.5"/>
<polyline points="273.2,108.4 278.8,105.8 284.5,103.2 290.1,103.3 295.7,99.6 301.4,97.4 307.0,91.1 312.6,97.4 318.3,98.6 323.9,100.1 329.5,101.6 335.2,101.7 340.8,108.3 346.4,112.3 352.1,106.2 357.7,103.4 363.3,102.3 369.0,99.3 374.6,95.0 380.2,96.9"/>
<polyline points="273.2,108.4 278.8,110.2 284.5,112.9 290.1,106.2 295.7,101.1 301.4,103.0 307.0,99.1 312.6,94.8 318.3,99.7 323.9,97.6 329.5,102.1 335.2,96.6 340.8,87.1 346.4,95.1 352.1,89.9 357.7,91.8 363.3,92.6 369.0,88.6 374.6,85.7 380.2,79.1"/>
<polyline points="273.2,108.4 278.8,109.8 284.5,110.8 290.1,108.9 295.7,106.7 301.4,98.9 307.0,99.0 312.6,103.7 318.3,104.9 323.9,101.7 329.5,98.7 335.2,93.5 340.8,92.8 346.4,93.1 352.1,86.5 357.7,91.9 363.3,81.4 369.0,80.3 374.6,83.6 380.2,81.7"/>
<polyline points="273.2,108.4 278.8,112.5 284.5,112.3 290.1,103.5 295.7,99.0 301.4,103.6 307.0,103.4 312.6,98.8 318.3,94.4 323.9,95.2 329.5,96.7 335.2,97.8 340.8,95.5 346.4,102.9 352.1,107.4 357.7,108.8 363.3,106.5 369.0,106.4 374.6,106.7 380.2,113.0"/>
<polyline points="273.2,108.4 278.8,111.2 284.5,110.1 290.1,101.4 295.7,104.5 301.4,104.7 307.0,98.9 312.6,100.8 318.3,100.3 323.9,96.5 329.5,89.5 335.2,81.8 340.8,84.7 346.4,88.2 352.1,86.4 357.7,80.2 363.3,78.9 369.0,78.6 374.6,83.1 380.2,82.0"/>
<polyline points="273.2,108.4 278.8,107.2 284.5,106.7 290.1,101.3 295.7,105.9 301.4,97.1 307.0,97.0 312.6,96.4 318.3,94.0 323.9,89.8 329.5,89.9 335.2,95.4 340.8,99.3 346.4,99.0 352.1,90.9 357.7,87.1 363.3,79.2 369.0,75.6 374.6,71.2 380.2,67.7"/>
<polyline points="273.2,108.4 278.8,111.9 284.5,108.8 290.1,107.4 295.7,106.0 301.4,100.6 307.0,98.1 312.6,93.1 318.3,87.5 323.9,91.6 329.5,81.2 335.2,89.3 340.8,85.7 346.4,88.7 352.1,93.1 357.7,97.2 363.3,87.4 369.0,77.6 374.6,79.8 380.2,79.2"/>
</g>
</g>
<clipPath id="c2"><rect x="267.9" y="10.4" width="117.5" height="146.79999999999998"/></clipPath>
<rect x="267.9" y="10.4" width="117.60" height="146.79999999999998" fill="none" stroke="#000" stroke-width="0.9"/>
<line x1="265.4" y1="154.68" x2="267.9" y2="154.68" stroke="#000" stroke-width="0.9"/>
<line x1="265.4" y1="131.54" x2="267.9" y2="131.54" stroke="#000" stroke-width="0.9"/>
<line x1="265.4" y1="108.40" x2="267.9" y2="108.40" stroke="#000" stroke-width="0.9"/>
<line x1="265.4" y1="85.26" x2="267.9" y2="85.26" stroke="#000" stroke-width="0.9"/>
<line x1="265.4" y1="62.12" x2="267.9" y2="62.12" stroke="#000" stroke-width="0.9"/>
<line x1="265.4" y1="38.98" x2="267.9" y2="38.98" stroke="#000" stroke-width="0.9"/>
<line x1="265.4" y1="15.84" x2="267.9" y2="15.84" stroke="#000" stroke-width="0.9"/>
<line x1="273.20" y1="157.2" x2="273.20" y2="159.7" stroke="#000" stroke-width="0.9"/>
<line x1="301.37" y1="157.2" x2="301.37" y2="159.7" stroke="#000" stroke-width="0.9"/>
<line x1="329.53" y1="157.2" x2="329.53" y2="159.7" stroke="#000" stroke-width="0.9"/>
<line x1="357.69" y1="157.2" x2="357.69" y2="159.7" stroke="#000" stroke-width="0.9"/>
<g clip-path="url(#c3)">
<g fill="none" stroke="#0000ff" stroke-opacity="0.45" stroke-width="1.0" stroke-linejoin="round">
<polyline points="400.0,108.4 405.6,107.8 411.3,113.5 416.9,112.0 422.5,100.7 428.2,103.5 433.8,94.5 439.4,92.8 445.1,94.2 450.7,91.6 456.3,86.8 462.0,77.3 467.6,83.9 473.2,75.1 478.9,76.0 484.5,77.1 490.1,76.7 495.8,81.5 501.4,80.5 507.0,76.3"/>
<polyline points="400.0,108.4 405.6,105.5 411.3,107.2 416.9,98.3 422.5,99.3 428.2,103.7 433.8,109.0 439.4,118.2 445.1,123.3 450.7,120.3 456.3,116.3 462.0,120.3 467.6,121.7 473.2,125.4 478.9,115.7 484.5,109.8 490.1,104.5 495.8,102.8 501.4,113.3 507.0,116.0"/>
<polyline points="400.0,108.4 405.6,106.5 411.3,117.4 416.9,114.9 422.5,112.3 428.2,112.2 433.8,112.3 439.4,114.2 445.1,120.1 450.7,122.1 456.3,123.3 462.0,118.5 467.6,118.2 473.2,119.5 478.9,118.1 484.5,117.2 490.1,110.3 495.8,109.6 501.4,103.7 507.0,105.3"/>
<polyline points="400.0,108.4 405.6,109.2 411.3,112.2 416.9,115.5 422.5,115.7 428.2,111.2 433.8,104.7 439.4,104.0 445.1,100.6 450.7,96.8 456.3,96.0 462.0,97.7 467.6,95.0 473.2,94.1 478.9,97.7 484.5,101.5 490.1,96.3 495.8,104.3 501.4,103.7 507.0,101.5"/>
<polyline points="400.0,108.4 405.6,104.1 411.3,100.6 416.9,97.4 422.5,99.7 428.2,105.0 433.8,106.0 439.4,105.3 445.1,106.0 450.7,105.6 456.3,114.0 462.0,119.9 467.6,116.5 473.2,116.4 478.9,118.2 484.5,119.2 490.1,116.1 495.8,118.1 501.4,114.3 507.0,113.7"/>
<polyline points="400.0,108.4 405.6,104.5 411.3,100.5 416.9,101.2 422.5,99.5 428.2,99.7 433.8,94.0 439.4,92.1 445.1,87.3 450.7,81.4 456.3,81.4 462.0,78.9 467.6,80.6 473.2,85.1 478.9,74.6 484.5,72.1 490.1,71.8 495.8,83.5 501.4,84.3 507.0,87.8"/>
<polyline points="400.0,108.4 405.6,108.6 411.3,110.5 416.9,103.4 422.5,102.9 428.2,102.4 433.8,98.8 439.4,97.3 445.1,100.2 450.7,102.7 456.3,97.4 462.0,97.5 467.6,93.2 473.2,92.2 478.9,87.8 484.5,87.6 490.1,83.8 495.8,87.0 501.4,86.2 507.0,86.2"/>
<polyline points="400.0,108.4 405.6,110.5 411.3,111.1 416.9,108.6 422.5,111.8 428.2,109.6 433.8,110.1 439.4,112.4 445.1,120.2 450.7,122.2 456.3,124.4 462.0,124.6 467.6,128.1 473.2,133.6 478.9,138.5 484.5,138.3 490.1,142.7 495.8,141.6 501.4,136.3 507.0,141.3"/>
<polyline points="400.0,108.4 405.6,100.6 411.3,106.3 416.9,104.7 422.5,114.0 428.2,112.6 433.8,105.7 439.4,108.5 445.1,108.3 450.7,110.0 456.3,112.5 462.0,110.5 467.6,110.6 473.2,112.8 478.9,109.1 484.5,110.5 490.1,116.7 495.8,114.1 501.4,116.8 507.0,110.3"/>
<polyline points="400.0,108.4 405.6,113.1 411.3,118.5 416.9,116.0 422.5,117.7 428.2,117.6 433.8,117.2 439.4,110.8 445.1,113.3 450.7,114.5 456.3,112.7 462.0,107.1 467.6,103.7 473.2,103.5 478.9,105.5 484.5,110.1 490.1,116.0 495.8,110.9 501.4,118.7 507.0,120.0"/>
<polyline points="400.0,108.4 405.6,97.3 411.3,95.5 416.9,98.1 422.5,100.3 428.2,99.4 433.8,103.0 439.4,102.2 445.1,101.2 450.7,100.9 456.3,101.9 462.0,94.3 467.6,92.3 473.2,87.4 478.9,80.6 484.5,79.0 490.1,78.3 495.8,77.7 501.4,80.8 507.0,87.2"/>
<polyline points="400.0,108.4 405.6,113.1 411.3,116.2 416.9,121.1 422.5,119.9 428.2,123.5 433.8,123.1 439.4,127.0 445.1,130.1 450.7,131.0 456.3,131.3 462.0,133.4 467.6,129.7 473.2,122.8 478.9,124.1 484.5,121.1 490.1,119.3 495.8,116.8 501.4,114.9 507.0,113.6"/>
<polyline points="400.0,108.4 405.6,109.5 411.3,113.9 416.9,116.1 422.5,111.7 428.2,110.9 433.8,109.3 439.4,113.9 445.1,117.0 450.7,113.0 456.3,109.7 462.0,115.3 467.6,114.7 473.2,110.4 478.9,111.7 484.5,113.0 490.1,117.6 495.8,118.1 501.4,113.8 507.0,112.5"/>
<polyline points="400.0,108.4 405.6,103.6 411.3,94.0 416.9,98.3 422.5,99.6 428.2,98.8 433.8,94.5 439.4,92.0 445.1,78.6 450.7,81.4 456.3,77.4 462.0,67.5 467.6,67.4 473.2,60.8 478.9,65.6 484.5,75.1 490.1,74.6 495.8,66.0 501.4,59.9 507.0,58.1"/>
<polyline points="400.0,108.4 405.6,108.7 411.3,107.5 416.9,110.7 422.5,105.6 428.2,104.8 433.8,100.6 439.4,99.4 445.1,98.2 450.7,94.1 456.3,92.0 462.0,86.0 467.6,84.6 473.2,90.5 478.9,88.8 484.5,88.4 490.1,96.0 495.8,97.4 501.4,104.1 507.0,109.1"/>
<polyline points="400.0,108.4 405.6,108.0 411.3,114.0 416.9,108.8 422.5,111.8 428.2,112.8 433.8,111.5 439.4,104.1 445.1,104.0 450.7,105.6 456.3,103.6 462.0,103.8 467.6,102.6 473.2,98.2 478.9,100.8 484.5,105.7 490.1,108.3 495.8,106.6 501.4,100.8 507.0,98.8"/>
<polyline points="400.0,108.4 405.6,114.3 411.3,114.1 416.9,116.9 422.5,119.7 428.2,115.3 433.8,111.1 439.4,110.6 445.1,114.1 450.7,114.1 456.3,111.8 462.0,110.7 467.6,108.3 473.2,114.8 478.9,122.3 484.5,122.9 490.1,124.2 495.8,125.2 501.4,129.9 507.0,130.8"/>
<polyline points="400.0,108.4 405.6,109.2 411.3,104.8 416.9,104.0 422.5,107.3 428.2,109.3 433.8,110.8 439.4,106.0 445.1,108.5 450.7,106.2 456.3,103.7 462.0,107.8 467.6,105.9 473.2,110.8 478.9,103.3 484.5,100.6 490.1,104.4 495.8,104.5 501.4,97.6 507.0,98.3"/>
<polyline points="400.0,108.4 405.6,112.3 411.3,107.0 416.9,111.7 422.5,107.1 428.2,108.1 433.8,104.5 439.4,114.5 445.1,111.9 450.7,110.5 456.3,114.0 462.0,113.7 467.6,112.9 473.2,112.0 478.9,114.6 484.5,115.1 490.1,115.0 495.8,113.0 501.4,117.2 507.0,110.3"/>
<polyline points="400.0,108.4 405.6,103.3 411.3,100.5 416.9,107.1 422.5,105.8 428.2,98.9 433.8,93.8 439.4,94.5 445.1,99.6 450.7,95.4 456.3,92.0 462.0,95.0 467.6,97.7 473.2,98.2 478.9,96.4 484.5,100.6 490.1,98.7 495.8,93.7 501.4,94.3 507.0,87.0"/>
<polyline points="400.0,108.4 405.6,108.2 411.3,110.4 416.9,112.4 422.5,116.9 428.2,124.8 433.8,122.9 439.4,128.5 445.1,128.9 450.7,123.2 456.3,127.1 462.0,123.5 467.6,115.5 473.2,122.5 478.9,122.3 484.5,123.2 490.1,119.5 495.8,119.3 501.4,120.5 507.0,124.1"/>
<polyline points="400.0,108.4 405.6,98.7 411.3,101.7 416.9,95.6 422.5,96.0 428.2,97.4 433.8,96.0 439.4,95.6 445.1,101.5 450.7,106.2 456.3,104.0 462.0,111.8 467.6,111.9 473.2,111.0 478.9,112.3 484.5,113.5 490.1,111.9 495.8,113.9 501.4,115.0 507.0,108.8"/>
<polyline points="400.0,108.4 405.6,111.7 411.3,113.3 416.9,112.2 422.5,115.2 428.2,108.9 433.8,117.8 439.4,115.5 445.1,109.8 450.7,106.3 456.3,98.1 462.0,88.8 467.6,85.7 473.2,86.7 478.9,83.4 484.5,74.6 490.1,79.6 495.8,70.4 501.4,69.8 507.0,61.3"/>
<polyline points="400.0,108.4 405.6,108.7 411.3,107.2 416.9,103.2 422.5,95.4 428.2,98.0 433.8,93.9 439.4,90.0 445.1,90.3 450.7,94.1 456.3,95.2 462.0,94.2 467.6,90.8 473.2,95.6 478.9,89.4 484.5,100.6 490.1,107.5 495.8,111.4 501.4,110.2 507.0,113.4"/>
<polyline points="400.0,108.4 405.6,108.4 411.3,110.0 416.9,109.5 422.5,112.4 428.2,109.6 433.8,106.0 439.4,106.2 445.1,104.5 450.7,101.4 456.3,110.9 462.0,110.4 467.6,104.8 473.2,100.6 478.9,102.2 484.5,104.5 490.1,105.6 495.8,103.0 501.4,104.5 507.0,103.7"/>
<polyline points="400.0,108.4 405.6,111.3 411.3,112.2 416.9,113.5 422.5,115.7 428.2,114.2 433.8,116.5 439.4,121.8 445.1,119.8 450.7,119.0 456.3,119.0 462.0,120.4 467.6,121.9 473.2,125.1 478.9,127.2 484.5,129.0 490.1,130.4 495.8,127.8 501.4,121.3 507.0,122.7"/>
<polyline points="400.0,108.4 405.6,105.8 411.3,100.2 416.9,103.8 422.5,98.9 428.2,102.4 433.8,107.7 439.4,107.9 445.1,102.0 450.7,106.4 456.3,109.2 462.0,112.7 467.6,111.7 473.2,113.8 478.9,113.9 484.5,116.0 490.1,120.7 495.8,116.6 501.4,118.1 507.0,117.0"/>
<polyline points="400.0,108.4 405.6,109.3 411.3,109.4 416.9,109.0 422.5,110.7 428.2,105.9 433.8,109.3 439.4,106.8 445.1,113.7 450.7,115.7 456.3,121.5 462.0,119.6 467.6,121.1 473.2,123.6 478.9,126.1 484.5,126.8 490.1,126.5 495.8,126.7 501.4,130.1 507.0,130.2"/>
<polyline points="400.0,108.4 405.6,110.2 411.3,107.5 416.9,103.1 422.5,110.5 428.2,114.4 433.8,116.5 439.4,111.8 445.1,115.8 450.7,109.0 456.3,109.1 462.0,110.7 467.6,105.4 473.2,104.0 478.9,108.5 484.5,107.1 490.1,113.0 495.8,116.4 501.4,121.1 507.0,123.7"/>
<polyline points="400.0,108.4 405.6,109.6 411.3,110.8 416.9,110.5 422.5,111.2 428.2,106.1 433.8,104.4 439.4,105.9 445.1,105.4 450.7,93.1 456.3,96.7 462.0,103.7 467.6,106.0 473.2,102.8 478.9,106.6 484.5,113.6 490.1,117.6 495.8,116.8 501.4,120.3 507.0,121.6"/>
<polyline points="400.0,108.4 405.6,108.6 411.3,109.0 416.9,105.6 422.5,103.3 428.2,102.3 433.8,101.7 439.4,100.2 445.1,102.1 450.7,106.2 456.3,112.9 462.0,111.9 467.6,109.0 473.2,104.8 478.9,103.4 484.5,104.5 490.1,108.2 495.8,107.9 501.4,115.1 507.0,118.7"/>
<polyline points="400.0,108.4 405.6,109.6 411.3,108.0 416.9,106.9 422.5,105.3 428.2,108.8 433.8,105.8 439.4,104.6 445.1,110.6 450.7,108.3 456.3,110.8 462.0,107.8 467.6,108.2 473.2,96.5 478.9,98.2 484.5,103.1 490.1,107.6 495.8,99.8 501.4,99.7 507.0,100.1"/>
<polyline points="400.0,108.4 405.6,103.7 411.3,101.9 416.9,100.4 422.5,101.0 428.2,91.3 433.8,93.6 439.4,92.9 445.1,95.6 450.7,97.5 456.3,94.5 462.0,88.9 467.6,93.2 473.2,95.2 478.9,95.7 484.5,89.4 490.1,87.2 495.8,88.4 501.4,91.6 507.0,85.5"/>
<polyline points="400.0,108.4 405.6,111.7 411.3,115.8 416.9,116.2 422.5,112.5 428.2,108.4 433.8,108.9 439.4,109.6 445.1,111.3 450.7,113.7 456.3,112.5 462.0,119.0 467.6,116.1 473.2,113.0 478.9,111.1 484.5,109.8 490.1,102.9 495.8,109.1 501.4,115.2 507.0,117.1"/>
<polyline points="400.0,108.4 405.6,111.5 411.3,107.5 416.9,108.7 422.5,109.9 428.2,116.8 433.8,117.7 439.4,121.5 445.1,118.6 450.7,111.0 456.3,109.2 462.0,108.4 467.6,108.0 473.2,103.7 478.9,106.1 484.5,105.9 490.1,111.1 495.8,114.3 501.4,109.6 507.0,105.0"/>
<polyline points="400.0,108.4 405.6,106.3 411.3,108.1 416.9,103.4 422.5,105.4 428.2,104.2 433.8,106.5 439.4,105.0 445.1,101.8 450.7,97.0 456.3,91.0 462.0,85.8 467.6,78.0 473.2,72.5 478.9,74.6 484.5,75.4 490.1,73.2 495.8,74.1 501.4,73.6 507.0,81.0"/>
<polyline points="400.0,108.4 405.6,113.3 411.3,117.7 416.9,121.0 422.5,121.8 428.2,119.9 433.8,125.4 439.4,122.5 445.1,120.3 450.7,121.5 456.3,124.8 462.0,126.0 467.6,119.2 473.2,111.2 478.9,116.2 484.5,120.3 490.1,127.1 495.8,123.2 501.4,119.7 507.0,121.1"/>
<polyline points="400.0,108.4 405.6,107.5 411.3,109.5 416.9,108.0 422.5,109.3 428.2,114.1 433.8,115.3 439.4,119.7 445.1,124.4 450.7,128.3 456.3,131.7 462.0,127.2 467.6,125.2 473.2,129.9 478.9,132.4 484.5,123.5 490.1,123.1 495.8,124.8 501.4,125.2 507.0,133.4"/>
<polyline points="400.0,108.4 405.6,112.9 411.3,108.0 416.9,108.2 422.5,109.5 428.2,103.3 433.8,101.5 439.4,102.6 445.1,101.6 450.7,99.8 456.3,98.8 462.0,87.9 467.6,85.8 473.2,85.9 478.9,84.7 484.5,79.2 490.1,83.3 495.8,78.5 501.4,75.5 507.0,82.7"/>
<polyline points="400.0,108.4 405.6,107.6 411.3,104.4 416.9,107.9 422.5,119.3 428.2,116.1 433.8,109.2 439.4,108.5 445.1,110.8 450.7,118.6 456.3,111.9 462.0,111.9 467.6,111.5 473.2,117.8 478.9,122.0 484.5,124.7 490.1,124.3 495.8,122.0 501.4,128.5 507.0,136.5"/>
<polyline points="400.0,108.4 405.6,106.8 411.3,108.4 416.9,104.9 422.5,100.9 428.2,105.8 433.8,105.6 439.4,112.8 445.1,109.8 450.7,102.6 456.3,102.9 462.0,106.0 467.6,103.9 473.2,107.1 478.9,106.8 484.5,106.4 490.1,105.9 495.8,102.4 501.4,104.4 507.0,103.4"/>
<polyline points="400.0,108.4 405.6,101.5 411.3,104.2 416.9,113.3 422.5,116.5 428.2,115.8 433.8,114.2 439.4,115.1 445.1,106.4 450.7,112.5 456.3,111.8 462.0,117.1 467.6,114.1 473.2,113.3 478.9,111.8 484.5,108.7 490.1,100.9 495.8,104.0 501.4,109.5 507.0,107.3"/>
<polyline points="400.0,108.4 405.6,107.9 411.3,107.0 416.9,107.5 422.5,109.1 428.2,107.2 433.8,105.5 439.4,111.4 445.1,112.8 450.7,111.8 456.3,110.8 462.0,111.6 467.6,120.3 473.2,120.0 478.9,120.1 484.5,122.0 490.1,121.0 495.8,123.7 501.4,128.5 507.0,126.1"/>
<polyline points="400.0,108.4 405.6,112.1 411.3,115.7 416.9,118.4 422.5,118.6 428.2,120.4 433.8,119.6 439.4,117.5 445.1,117.6 450.7,117.4 456.3,117.3 462.0,119.4 467.6,119.7 473.2,118.9 478.9,120.6 484.5,122.5 490.1,118.8 495.8,116.7 501.4,114.4 507.0,115.8"/>
<polyline points="400.0,108.4 405.6,110.1 411.3,103.9 416.9,107.9 422.5,113.5 428.2,120.7 433.8,118.2 439.4,117.6 445.1,115.6 450.7,109.6 456.3,115.0 462.0,115.0 467.6,108.6 473.2,106.7 478.9,109.7 484.5,111.6 490.1,115.8 495.8,118.1 501.4,114.8 507.0,113.9"/>
<polyline points="400.0,108.4 405.6,115.0 411.3,108.9 416.9,112.3 422.5,119.0 428.2,116.2 433.8,108.5 439.4,106.8 445.1,105.1 450.7,104.1 456.3,104.4 462.0,108.4 467.6,103.1 473.2,95.0 478.9,93.7 484.5,93.9 490.1,93.6 495.8,97.2 501.4,105.3 507.0,109.5"/>
<polyline points="400.0,108.4 405.6,107.1 411.3,108.1 416.9,108.4 422.5,106.8 428.2,106.8 433.8,113.0 439.4,110.4 445.1,112.0 450.7,116.0 456.3,111.3 462.0,112.4 467.6,109.9 473.2,112.1 478.9,111.2 484.5,112.6 490.1,116.4 495.8,119.0 501.4,124.5 507.0,124.8"/>
<polyline points="400.0,108.4 405.6,107.9 411.3,107.1 416.9,104.5 422.5,97.4 428.2,98.6 433.8,100.3 439.4,104.3 445.1,102.9 450.7,101.8 456.3,96.5 462.0,93.5 467.6,92.5 473.2,93.4 478.9,96.5 484.5,91.9 490.1,95.3 495.8,93.2 501.4,96.0 507.0,96.5"/>
<polyline points="400.0,108.4 405.6,110.2 411.3,108.5 416.9,106.2 422.5,104.4 428.2,104.4 433.8,97.4 439.4,101.0 445.1,97.5 450.7,103.3 456.3,104.7 462.0,107.3 467.6,108.9 473.2,110.8 478.9,106.6 484.5,107.1 490.1,105.8 495.8,104.3 501.4,102.0 507.0,91.6"/>
<polyline points="400.0,108.4 405.6,106.1 411.3,108.3 416.9,111.2 422.5,105.1 428.2,108.2 433.8,112.4 439.4,115.8 445.1,111.3 450.7,110.5 456.3,106.7 462.0,113.2 467.6,112.3 473.2,115.0 478.9,108.5 484.5,109.2 490.1,112.8 495.8,113.0 501.4,114.0 507.0,110.0"/>
<polyline points="400.0,108.4 405.6,113.6 411.3,118.6 416.9,119.8 422.5,128.6 428.2,125.3 433.8,127.5 439.4,122.8 445.1,121.3 450.7,117.8 456.3,121.7 462.0,122.2 467.6,119.1 473.2,120.0 478.9,117.2 484.5,113.6 490.1,106.5 495.8,106.9 501.4,111.2 507.0,112.4"/>
<polyline points="400.0,108.4 405.6,110.0 411.3,108.4 416.9,108.8 422.5,114.9 428.2,112.8 433.8,115.6 439.4,109.1 445.1,113.8 450.7,119.9 456.3,113.9 462.0,113.7 467.6,112.5 473.2,113.1 478.9,114.3 484.5,109.5 490.1,114.6 495.8,112.4 501.4,115.9 507.0,108.7"/>
<polyline points="400.0,108.4 405.6,107.8 411.3,106.8 416.9,104.1 422.5,98.1 428.2,95.9 433.8,87.5 439.4,97.0 445.1,97.4 450.7,90.9 456.3,83.9 462.0,80.4 467.6,72.9 473.2,74.1 478.9,65.0 484.5,65.3 490.1,62.4 495.8,61.8 501.4,66.9 507.0,66.1"/>
<polyline points="400.0,108.4 405.6,107.4 411.3,115.3 416.9,110.8 422.5,115.4 428.2,111.2 433.8,109.5 439.4,106.8 445.1,101.9 450.7,103.4 456.3,101.9 462.0,103.1 467.6,103.7 473.2,101.9 478.9,109.0 484.5,107.8 490.1,110.2 495.8,108.5 501.4,109.7 507.0,105.4"/>
<polyline points="400.0,108.4 405.6,112.2 411.3,108.8 416.9,114.1 422.5,114.8 428.2,117.3 433.8,112.9 439.4,121.4 445.1,123.4 450.7,120.2 456.3,118.5 462.0,114.5 467.6,119.6 473.2,128.3 478.9,129.3 484.5,128.1 490.1,134.0 495.8,137.2 501.4,138.7 507.0,139.4"/>
<polyline points="400.0,108.4 405.6,105.3 411.3,102.2 416.9,103.4 422.5,98.8 428.2,92.2 433.8,84.7 439.4,84.2 445.1,85.7 450.7,84.2 456.3,89.6 462.0,95.0 467.6,92.9 473.2,96.0 478.9,99.0 484.5,102.0 490.1,100.4 495.8,99.7 501.4,100.1 507.0,100.3"/>
<polyline points="400.0,108.4 405.6,111.4 411.3,112.5 416.9,107.5 422.5,105.4 428.2,108.5 433.8,115.8 439.4,118.1 445.1,119.0 450.7,125.2 456.3,124.1 462.0,126.0 467.6,123.9 473.2,123.0 478.9,121.3 484.5,122.2 490.1,119.2 495.8,110.9 501.4,108.7 507.0,107.0"/>
<polyline points="400.0,108.4 405.6,108.2 411.3,101.4 416.9,104.0 422.5,103.9 428.2,104.7 433.8,109.5 439.4,110.9 445.1,108.3 450.7,113.2 456.3,112.3 462.0,114.7 467.6,114.3 473.2,118.2 478.9,115.1 484.5,110.0 490.1,112.6 495.8,114.5 501.4,109.0 507.0,108.5"/>
<polyline points="400.0,108.4 405.6,106.9 411.3,106.9 416.9,101.3 422.5,100.9 428.2,102.0 433.8,100.0 439.4,103.0 445.1,98.5 450.7,92.3 456.3,99.2 462.0,98.0 467.6,94.9 473.2,95.3 478.9,95.8 484.5,90.5 490.1,93.7 495.8,93.8 501.4,97.3 507.0,94.1"/>
<polyline points="400.0,108.4 405.6,102.8 411.3,102.9 416.9,97.1 422.5,105.4 428.2,99.3 433.8,96.6 439.4,90.3 445.1,91.4 450.7,90.1 456.3,93.1 462.0,89.4 467.6,87.3 473.2,87.5 478.9,88.4 484.5,81.8 490.1,84.1 495.8,88.0 501.4,90.0 507.0,87.9"/>
<polyline points="400.0,108.4 405.6,107.1 411.3,106.9 416.9,106.1 422.5,103.2 428.2,103.5 433.8,94.0 439.4,90.7 445.1,96.5 450.7,94.7 456.3,96.6 462.0,94.0 467.6,90.1 473.2,93.7 478.9,92.3 484.5,91.9 490.1,92.6 495.8,96.1 501.4,94.7 507.0,92.0"/>
<polyline points="400.0,108.4 405.6,108.5 411.3,108.7 416.9,113.7 422.5,116.2 428.2,114.3 433.8,118.2 439.4,120.0 445.1,117.0 450.7,118.5 456.3,121.5 462.0,121.1 467.6,117.9 473.2,113.8 478.9,112.7 484.5,110.4 490.1,115.4 495.8,116.2 501.4,115.2 507.0,113.3"/>
<polyline points="400.0,108.4 405.6,106.4 411.3,113.5 416.9,115.5 422.5,116.6 428.2,117.4 433.8,110.5 439.4,116.7 445.1,110.1 450.7,108.4 456.3,108.9 462.0,116.9 467.6,117.7 473.2,117.6 478.9,122.0 484.5,121.7 490.1,123.0 495.8,118.1 501.4,125.7 507.0,121.9"/>
<polyline points="400.0,108.4 405.6,110.5 411.3,107.6 416.9,104.1 422.5,111.7 428.2,115.9 433.8,112.9 439.4,113.2 445.1,118.8 450.7,120.0 456.3,119.2 462.0,121.7 467.6,116.0 473.2,121.1 478.9,122.0 484.5,124.1 490.1,125.9 495.8,130.3 501.4,128.7 507.0,132.5"/>
<polyline points="400.0,108.4 405.6,105.4 411.3,100.3 416.9,98.2 422.5,98.7 428.2,97.0 433.8,94.0 439.4,93.0 445.1,86.8 450.7,93.8 456.3,98.3 462.0,95.4 467.6,93.0 473.2,96.6 478.9,91.2 484.5,86.5 490.1,86.5 495.8,90.8 501.4,87.4 507.0,85.8"/>
<polyline points="400.0,108.4 405.6,108.5 411.3,113.6 416.9,113.2 422.5,118.2 428.2,110.5 433.8,110.0 439.4,106.3 445.1,105.9 450.7,107.8 456.3,104.5 462.0,100.4 467.6,100.4 473.2,98.2 478.9,100.4 484.5,95.6 490.1,94.6 495.8,99.2 501.4,92.0 507.0,89.4"/>
<polyline points="400.0,108.4 405.6,110.4 411.3,109.2 416.9,106.4 422.5,104.8 428.2,106.7 433.8,109.3 439.4,106.7 445.1,106.0 450.7,111.5 456.3,114.0 462.0,116.3 467.6,114.8 473.2,114.2 478.9,118.9 484.5,120.2 490.1,118.8 495.8,114.6 501.4,112.7 507.0,112.1"/>
<polyline points="400.0,108.4 405.6,105.8 411.3,107.4 416.9,106.9 422.5,109.9 428.2,106.9 433.8,107.6 439.4,111.3 445.1,112.5 450.7,112.5 456.3,116.1 462.0,105.7 467.6,102.3 473.2,94.1 478.9,94.0 484.5,87.4 490.1,90.9 495.8,89.8 501.4,96.4 507.0,93.0"/>
<polyline points="400.0,108.4 405.6,100.1 411.3,99.7 416.9,102.3 422.5,105.0 428.2,109.9 433.8,115.7 439.4,114.8 445.1,117.6 450.7,119.2 456.3,117.2 462.0,119.0 467.6,122.8 473.2,118.8 478.9,118.0 484.5,116.4 490.1,116.8 495.8,113.3 501.4,115.7 507.0,113.1"/>
<polyline points="400.0,108.4 405.6,101.8 411.3,107.7 416.9,113.1 422.5,115.9 428.2,116.7 433.8,119.5 439.4,120.1 445.1,122.7 450.7,114.2 456.3,110.2 462.0,108.3 467.6,107.6 473.2,108.3 478.9,107.3 484.5,108.7 490.1,109.8 495.8,124.0 501.4,122.6 507.0,122.2"/>
<polyline points="400.0,108.4 405.6,105.7 411.3,109.8 416.9,118.4 422.5,120.0 428.2,120.8 433.8,114.8 439.4,112.1 445.1,114.4 450.7,117.0 456.3,114.5 462.0,120.9 467.6,110.1 473.2,112.1 478.9,113.6 484.5,123.9 490.1,122.3 495.8,124.5 501.4,130.8 507.0,130.0"/>
<polyline points="400.0,108.4 405.6,106.7 411.3,104.8 416.9,103.6 422.5,106.9 428.2,108.5 433.8,104.0 439.4,101.5 445.1,103.5 450.7,107.1 456.3,100.5 462.0,99.1 467.6,94.1 473.2,88.0 478.9,92.1 484.5,84.3 490.1,75.9 495.8,69.8 501.4,70.4 507.0,75.5"/>
<polyline points="400.0,108.4 405.6,112.5 411.3,117.6 416.9,123.1 422.5,122.6 428.2,118.1 433.8,124.5 439.4,121.4 445.1,118.5 450.7,121.2 456.3,122.3 462.0,124.1 467.6,119.0 473.2,122.7 478.9,122.9 484.5,112.5 490.1,115.7 495.8,115.4 501.4,118.5 507.0,118.2"/>
<polyline points="400.0,108.4 405.6,104.6 411.3,101.7 416.9,103.4 422.5,104.3 428.2,97.5 433.8,97.8 439.4,102.4 445.1,106.2 450.7,103.8 456.3,100.4 462.0,105.0 467.6,107.6 473.2,103.8 478.9,97.0 484.5,89.8 490.1,91.3 495.8,95.4 501.4,95.7 507.0,94.6"/>
<polyline points="400.0,108.4 405.6,105.8 411.3,111.6 416.9,113.5 422.5,113.2 428.2,116.0 433.8,112.2 439.4,110.0 445.1,109.0 450.7,106.5 456.3,105.6 462.0,105.6 467.6,104.5 473.2,98.5 478.9,106.8 484.5,110.4 490.1,111.3 495.8,109.0 501.4,112.5 507.0,115.4"/>
<polyline points="400.0,108.4 405.6,112.2 411.3,111.7 416.9,105.2 422.5,108.1 428.2,115.8 433.8,116.6 439.4,120.5 445.1,117.0 450.7,121.1 456.3,121.5 462.0,123.6 467.6,129.1 473.2,129.0 478.9,128.2 484.5,133.0 490.1,131.8 495.8,134.8 501.4,134.3 507.0,135.7"/>
<polyline points="400.0,108.4 405.6,107.8 411.3,110.4 416.9,104.6 422.5,114.2 428.2,106.8 433.8,111.5 439.4,110.2 445.1,108.6 450.7,102.8 456.3,101.2 462.0,105.3 467.6,107.4 473.2,107.6 478.9,115.0 484.5,109.1 490.1,111.0 495.8,107.4 501.4,108.4 507.0,106.9"/>
<polyline points="400.0,108.4 405.6,116.0 411.3,118.2 416.9,112.9 422.5,111.7 428.2,109.4 433.8,108.4 439.4,110.5 445.1,109.3 450.7,99.1 456.3,96.9 462.0,90.4 467.6,90.8 473.2,88.1 478.9,88.2 484.5,85.2 490.1,85.1 495.8,85.4 501.4,88.1 507.0,82.0"/>
<polyline points="400.0,108.4 405.6,101.0 411.3,100.3 416.9,99.2 422.5,99.3 428.2,97.6 433.8,100.6 439.4,102.5 445.1,103.5 450.7,109.8 456.3,111.8 462.0,114.2 467.6,112.5 473.2,114.6 478.9,113.3 484.5,108.4 490.1,107.6 495.8,107.7 501.4,110.5 507.0,106.6"/>
<polyline points="400.0,108.4 405.6,105.9 411.3,105.6 416.9,106.8 422.5,104.7 428.2,105.5 433.8,107.2 439.4,106.8 445.1,113.9 450.7,114.7 456.3,116.1 462.0,118.5 467.6,116.2 473.2,117.5 478.9,117.2 484.5,116.7 490.1,116.4 495.8,114.6 501.4,110.8 507.0,107.9"/>
<polyline points="400.0,108.4 405.6,106.4 411.3,107.6 416.9,113.0 422.5,114.2 428.2,116.2 433.8,123.8 439.4,127.7 445.1,130.3 450.7,125.4 456.3,124.9 462.0,128.9 467.6,133.9 473.2,134.9 478.9,133.4 484.5,132.7 490.1,137.7 495.8,134.3 501.4,136.8 507.0,137.6"/>
<polyline points="400.0,108.4 405.6,110.4 411.3,106.7 416.9,105.2 422.5,102.1 428.2,102.2 433.8,92.5 439.4,96.0 445.1,97.4 450.7,95.1 456.3,92.1 462.0,88.1 467.6,86.1 473.2,84.5 478.9,85.0 484.5,82.2 490.1,85.3 495.8,81.7 501.4,80.1 507.0,76.6"/>
<polyline points="400.0,108.4 405.6,103.8 411.3,102.1 416.9,98.4 422.5,101.9 428.2,101.5 433.8,98.1 439.4,96.5 445.1,100.6 450.7,110.3 456.3,113.0 462.0,118.1 467.6,123.3 473.2,122.0 478.9,121.5 484.5,119.6 490.1,114.2 495.8,111.9 501.4,111.3 507.0,107.2"/>
<polyline points="400.0,108.4 405.6,106.1 411.3,102.5 416.9,102.2 422.5,99.4 428.2,103.6 433.8,107.9 439.4,117.6 445.1,113.7 450.7,120.6 456.3,116.1 462.0,118.8 467.6,118.1 473.2,121.9 478.9,114.9 484.5,115.0 490.1,120.2 495.8,123.1 501.4,126.2 507.0,118.6"/>
<polyline points="400.0,108.4 405.6,113.8 411.3,115.7 416.9,123.4 422.5,115.2 428.2,115.3 433.8,111.6 439.4,114.4 445.1,111.1 450.7,111.7 456.3,101.4 462.0,102.3 467.6,105.0 473.2,94.5 478.9,97.5 484.5,95.6 490.1,99.1 495.8,101.3 501.4,88.7 507.0,90.2"/>
<polyline points="400.0,108.4 405.6,106.2 411.3,106.2 416.9,112.2 422.5,114.9 428.2,112.9 433.8,106.6 439.4,103.2 445.1,102.3 450.7,108.3 456.3,106.6 462.0,109.0 467.6,113.0 473.2,116.2 478.9,116.4 484.5,116.1 490.1,110.8 495.8,113.3 501.4,118.4 507.0,122.8"/>
<polyline points="400.0,108.4 405.6,111.2 411.3,103.3 416.9,100.3 422.5,104.2 428.2,98.8 433.8,95.8 439.4,96.6 445.1,97.7 450.7,107.2 456.3,102.5 462.0,103.5 467.6,107.2 473.2,109.9 478.9,114.9 484.5,114.8 490.1,111.7 495.8,110.8 501.4,111.5 507.0,110.1"/>
<polyline points="400.0,108.4 405.6,108.0 411.3,114.0 416.9,108.4 422.5,104.7 428.2,103.5 433.8,98.5 439.4,96.8 445.1,95.7 450.7,97.1 456.3,101.5 462.0,108.9 467.6,98.9 473.2,97.0 478.9,93.3 484.5,98.2 490.1,99.3 495.8,94.7 501.4,100.9 507.0,96.0"/>
<polyline points="400.0,108.4 405.6,111.6 411.3,112.8 416.9,109.2 422.5,105.1 428.2,102.5 433.8,103.5 439.4,102.9 445.1,105.4 450.7,100.9 456.3,106.9 462.0,108.4 467.6,110.1 473.2,106.5 478.9,107.1 484.5,109.0 490.1,111.0 495.8,114.5 501.4,109.2 507.0,108.3"/>
<polyline points="400.0,108.4 405.6,114.2 411.3,119.4 416.9,122.7 422.5,121.5 428.2,124.2 433.8,125.5 439.4,128.2 445.1,130.8 450.7,131.3 456.3,131.7 462.0,132.4 467.6,132.5 473.2,134.9 478.9,137.7 484.5,141.7 490.1,142.9 495.8,144.4 501.4,135.8 507.0,140.1"/>
<polyline points="400.0,108.4 405.6,111.1 411.3,112.1 416.9,114.1 422.5,110.2 428.2,112.1 433.8,108.3 439.4,110.6 445.1,113.3 450.7,115.4 456.3,113.0 462.0,115.1 467.6,113.1 473.2,116.7 478.9,112.4 484.5,114.2 490.1,112.4 495.8,113.0 501.4,114.9 507.0,119.5"/>
<polyline points="400.0,108.4 405.6,112.6 411.3,111.9 416.9,116.0 422.5,109.3 428.2,113.5 433.8,106.7 439.4,106.2 445.1,102.2 450.7,103.8 456.3,104.1 462.0,101.5 467.6,100.5 473.2,91.9 478.9,82.5 484.5,79.3 490.1,76.1 495.8,69.4 501.4,63.9 507.0,59.6"/>
<polyline points="400.0,108.4 405.6,105.9 411.3,109.8 416.9,112.8 422.5,108.2 428.2,113.7 433.8,118.0 439.4,117.6 445.1,122.2 450.7,122.9 456.3,126.0 462.0,124.9 467.6,125.9 473.2,124.5 478.9,117.2 484.5,118.6 490.1,126.6 495.8,130.6 501.4,136.7 507.0,134.3"/>
<polyline points="400.0,108.4 405.6,106.3 411.3,106.5 416.9,104.8 422.5,110.4 428.2,111.2 433.8,114.3 439.4,109.7 445.1,112.3 450.7,111.1 456.3,108.0 462.0,110.6 467.6,109.1 473.2,109.0 478.9,105.0 484.5,101.3 490.1,105.0 495.8,103.9 501.4,99.8 507.0,98.8"/>
<polyline points="400.0,108.4 405.6,111.5 411.3,115.5 416.9,116.4 422.5,113.3 428.2,121.1 433.8,122.0 439.4,123.8 445.1,125.3 450.7,131.3 456.3,129.1 462.0,127.4 467.6,126.0 473.2,129.0 478.9,134.1 484.5,137.9 490.1,138.9 495.8,133.1 501.4,131.5 507.0,131.7"/>
<polyline points="400.0,108.4 405.6,112.6 411.3,116.0 416.9,112.1 422.5,106.8 428.2,102.7 433.8,103.4 439.4,104.0 445.1,104.4 450.7,105.0 456.3,108.5 462.0,109.7 467.6,104.9 473.2,104.2 478.9,97.7 484.5,100.7 490.1,96.9 495.8,86.8 501.4,89.6 507.0,96.3"/>
<polyline points="400.0,108.4 405.6,103.5 411.3,99.5 416.9,95.7 422.5,96.1 428.2,96.6 433.8,98.7 439.4,93.2 445.1,82.4 450.7,78.0 456.3,79.1 462.0,83.2 467.6,83.3 473.2,82.2 478.9,88.8 484.5,89.6 490.1,96.8 495.8,105.1 501.4,102.1 507.0,102.8"/>
<polyline points="400.0,108.4 405.6,107.0 411.3,107.6 416.9,109.5 422.5,111.5 428.2,115.6 433.8,117.2 439.4,112.0 445.1,107.5 450.7,101.3 456.3,101.3 462.0,103.7 467.6,99.6 473.2,101.5 478.9,98.2 484.5,94.3 490.1,90.9 495.8,90.8 501.4,75.4 507.0,71.9"/>
<polyline points="400.0,108.4 405.6,105.2 411.3,108.9 416.9,108.8 422.5,105.6 428.2,104.6 433.8,100.8 439.4,106.1 445.1,103.7 450.7,97.0 456.3,98.4 462.0,101.4 467.6,106.1 473.2,103.6 478.9,105.7 484.5,105.5 490.1,103.1 495.8,101.2 501.4,106.2 507.0,105.0"/>
<polyline points="400.0,108.4 405.6,113.0 411.3,115.1 416.9,112.7 422.5,115.1 428.2,117.4 433.8,115.3 439.4,107.5 445.1,110.4 450.7,115.4 456.3,114.4 462.0,114.1 467.6,112.6 473.2,117.5 478.9,117.4 484.5,120.4 490.1,120.9 495.8,119.2 501.4,120.9 507.0,122.8"/>
</g>
<g fill="none" stroke="#ff0000" stroke-opacity="0.45" stroke-width="1.0" stroke-linejoin="round">
<polyline points="400.0,108.4 405.6,110.8 411.3,112.8 416.9,117.1 422.5,118.8 428.2,118.0 433.8,112.4 439.4,108.5 445.1,113.1 450.7,113.7 456.3,110.0 462.0,103.6 467.6,99.8 473.2,102.4 478.9,99.8 484.5,97.3 490.1,98.3 495.8,91.6 501.4,87.8 507.0,88.5"/>
<polyline points="400.0,108.4 405.6,104.8 411.3,106.4 416.9,108.6 422.5,112.7 428.2,114.8 433.8,116.9 439.4,111.7 445.1,107.5 450.7,99.5 456.3,98.6 462.0,99.5 467.6,97.9 473.2,99.7 478.9,96.1 484.5,97.6 490.1,99.8 495.8,98.5 501.4,100.2 507.0,87.0"/>
<polyline points="400.0,108.4 405.6,107.5 411.3,101.2 416.9,104.8 422.5,96.8 428.2,94.3 433.8,94.1 439.4,87.7 445.1,83.4 450.7,79.9 456.3,71.1 462.0,65.9 467.6,71.0 473.2,77.0 478.9,71.8 484.5,67.3 490.1,70.2 495.8,73.4 501.4,73.6 507.0,76.8"/>
<polyline points="400.0,108.4 405.6,112.8 411.3,106.8 416.9,102.4 422.5,96.8 428.2,93.5 433.8,89.9 439.4,88.1 445.1,83.5 450.7,78.7 456.3,84.6 462.0,88.7 467.6,92.7 473.2,94.7 478.9,92.6 484.5,94.0 490.1,93.1 495.8,83.9 501.4,82.9 507.0,78.2"/>
<polyline points="400.0,108.4 405.6,111.5 411.3,106.3 416.9,101.1 422.5,99.8 428.2,98.3 433.8,105.3 439.4,95.3 445.1,93.9 450.7,85.9 456.3,84.6 462.0,80.0 467.6,80.6 473.2,71.5 478.9,68.9 484.5,75.9 490.1,75.8 495.8,80.8 501.4,72.8 507.0,68.9"/>
<polyline points="400.0,108.4 405.6,108.3 411.3,102.2 416.9,98.9 422.5,98.0 428.2,97.7 433.8,103.1 439.4,103.9 445.1,94.9 450.7,94.5 456.3,94.7 462.0,94.0 467.6,94.6 473.2,90.8 478.9,88.7 484.5,92.4 490.1,94.7 495.8,101.9 501.4,100.0 507.0,105.1"/>
<polyline points="400.0,108.4 405.6,108.0 411.3,108.0 416.9,103.7 422.5,104.8 428.2,106.9 433.8,105.8 439.4,109.6 445.1,116.1 450.7,107.6 456.3,103.8 462.0,99.2 467.6,103.8 473.2,95.3 478.9,87.9 484.5,85.8 490.1,89.0 495.8,93.2 501.4,94.2 507.0,93.1"/>
<polyline points="400.0,108.4 405.6,110.8 411.3,101.4 416.9,94.2 422.5,93.9 428.2,101.2 433.8,106.4 439.4,105.0 445.1,103.4 450.7,96.1 456.3,91.2 462.0,95.3 467.6,86.6 473.2,86.8 478.9,90.3 484.5,87.3 490.1,85.2 495.8,78.9 501.4,73.6 507.0,66.0"/>
<polyline points="400.0,108.4 405.6,105.4 411.3,99.3 416.9,95.0 422.5,91.1 428.2,86.5 433.8,87.8 439.4,81.1 445.1,67.9 450.7,61.6 456.3,52.7 462.0,62.5 467.6,53.0 473.2,50.2 478.9,48.9 484.5,41.1 490.1,34.8 495.8,35.7 501.4,31.8 507.0,32.4"/>
<polyline points="400.0,108.4 405.6,111.9 411.3,110.6 416.9,112.3 422.5,109.3 428.2,108.2 433.8,111.6 439.4,114.5 445.1,114.3 450.7,115.0 456.3,118.4 462.0,120.8 467.6,125.8 473.2,128.3 478.9,128.8 484.5,131.9 490.1,128.7 495.8,127.6 501.4,124.1 507.0,120.5"/>
<polyline points="400.0,108.4 405.6,104.7 411.3,106.4 416.9,111.2 422.5,111.8 428.2,106.2 433.8,108.3 439.4,107.2 445.1,105.6 450.7,97.0 456.3,95.6 462.0,95.1 467.6,94.1 473.2,91.9 478.9,93.6 484.5,91.5 490.1,85.3 495.8,81.2 501.4,81.7 507.0,77.9"/>
<polyline points="400.0,108.4 405.6,111.5 411.3,112.3 416.9,105.1 422.5,113.0 428.2,118.2 433.8,110.5 439.4,105.7 445.1,107.8 450.7,109.4 456.3,111.5 462.0,109.0 467.6,107.9 473.2,113.3 478.9,116.5 484.5,115.4 490.1,122.5 495.8,121.6 501.4,118.2 507.0,121.6"/>
<polyline points="400.0,108.4 405.6,105.1 411.3,99.7 416.9,93.1 422.5,85.7 428.2,77.5 433.8,73.8 439.4,69.6 445.1,69.7 450.7,73.1 456.3,75.3 462.0,75.3 467.6,74.9 473.2,76.7 478.9,73.9 484.5,68.3 490.1,65.9 495.8,67.1 501.4,59.7 507.0,52.5"/>
<polyline points="400.0,108.4 405.6,107.9 411.3,105.9 416.9,103.0 422.5,106.6 428.2,111.4 433.8,114.3 439.4,113.0 445.1,108.3 450.7,99.0 456.3,101.4 462.0,95.2 467.6,88.7 473.2,89.8 478.9,84.0 484.5,81.5 490.1,77.3 495.8,79.4 501.4,81.4 507.0,71.0"/>
<polyline points="400.0,108.4 405.6,107.1 411.3,109.1 416.9,105.6 422.5,103.0 428.2,98.5 433.8,101.5 439.4,102.0 445.1,98.6 450.7,98.9 456.3,100.6 462.0,100.8 467.6,90.9 473.2,91.1 478.9,93.2 484.5,93.4 490.1,94.2 495.8,90.1 501.4,95.3 507.0,97.2"/>
<polyline points="400.0,108.4 405.6,106.7 411.3,104.1 416.9,107.7 422.5,111.4 428.2,117.6 433.8,113.6 439.4,113.5 445.1,115.7 450.7,108.8 456.3,107.5 462.0,99.6 467.6,104.4 473.2,101.8 478.9,97.4 484.5,99.7 490.1,94.6 495.8,99.4 501.4,91.3 507.0,95.2"/>
<polyline points="400.0,108.4 405.6,110.1 411.3,105.3 416.9,107.4 422.5,106.2 428.2,101.7 433.8,99.0 439.4,100.1 445.1,90.8 450.7,84.5 456.3,83.2 462.0,84.0 467.6,75.1 473.2,79.3 478.9,71.3 484.5,70.9 490.1,70.4 495.8,61.5 501.4,54.2 507.0,51.0"/>
<polyline points="400.0,108.4 405.6,103.3 411.3,97.9 416.9,98.5 422.5,104.0 428.2,97.7 433.8,98.3 439.4,98.7 445.1,101.0 450.7,97.6 456.3,90.4 462.0,93.8 467.6,98.3 473.2,96.2 478.9,94.9 484.5,91.6 490.1,90.1 495.8,93.6 501.4,92.8 507.0,95.0"/>
<polyline points="400.0,108.4 405.6,103.6 411.3,100.4 416.9,108.0 422.5,108.0 428.2,116.6 433.8,113.7 439.4,112.3 445.1,107.8 450.7,112.2 456.3,110.6 462.0,103.3 467.6,107.4 473.2,101.4 478.9,106.5 484.5,104.0 490.1,105.2 495.8,107.7 501.4,111.7 507.0,112.2"/>
<polyline points="400.0,108.4 405.6,109.2 411.3,110.0 416.9,105.6 422.5,102.8 428.2,102.0 433.8,107.0 439.4,104.1 445.1,106.4 450.7,108.9 456.3,100.9 462.0,100.2 467.6,92.6 473.2,80.3 478.9,74.9 484.5,75.7 490.1,72.6 495.8,66.2 501.4,62.6 507.0,55.0"/>
<polyline points="400.0,108.4 405.6,103.3 411.3,102.8 416.9,103.5 422.5,100.0 428.2,98.9 433.8,94.2 439.4,92.6 445.1,91.1 450.7,85.1 456.3,79.3 462.0,81.8 467.6,78.6 473.2,75.2 478.9,76.2 484.5,75.4 490.1,76.6 495.8,75.6 501.4,74.1 507.0,68.4"/>
<polyline points="400.0,108.4 405.6,108.1 411.3,100.0 416.9,101.5 422.5,99.9 428.2,101.2 433.8,101.0 439.4,107.0 445.1,104.9 450.7,98.3 456.3,102.8 462.0,103.4 467.6,103.9 473.2,101.2 478.9,95.1 484.5,90.7 490.1,93.0 495.8,91.3 501.4,95.8 507.0,89.9"/>
<polyline points="400.0,108.4 405.6,113.6 411.3,112.8 416.9,109.0 422.5,108.9 428.2,106.4 433.8,101.4 439.4,98.1 445.1,100.7 450.7,100.2 456.3,98.1 462.0,96.2 467.6,96.7 473.2,96.0 478.9,95.7 484.5,77.7 490.1,79.9 495.8,74.8 501.4,64.4 507.0,61.7"/>
<polyline points="400.0,108.4 405.6,103.9 411.3,105.3 416.9,100.4 422.5,100.9 428.2,96.7 433.8,97.1 439.4,89.9 445.1,91.6 450.7,93.8 456.3,90.8 462.0,94.1 467.6,88.4 473.2,86.3 478.9,86.3 484.5,85.1 490.1,79.5 495.8,76.4 501.4,66.7 507.0,59.7"/>
<polyline points="400.0,108.4 405.6,111.6 411.3,115.3 416.9,110.7 422.5,115.3 428.2,115.3 433.8,112.9 439.4,110.0 445.1,107.7 450.7,108.3 456.3,101.7 462.0,100.8 467.6,100.2 473.2,96.0 478.9,89.6 484.5,82.6 490.1,74.3 495.8,71.6 501.4,69.2 507.0,61.6"/>
<polyline points="400.0,108.4 405.6,107.0 411.3,104.6 416.9,104.8 422.5,105.3 428.2,104.2 433.8,99.2 439.4,103.3 445.1,100.5 450.7,102.7 456.3,99.4 462.0,101.1 467.6,101.4 473.2,102.2 478.9,98.6 484.5,104.3 490.1,102.4 495.8,101.7 501.4,105.7 507.0,104.1"/>
<polyline points="400.0,108.4 405.6,108.7 411.3,106.5 416.9,99.9 422.5,98.6 428.2,96.9 433.8,93.7 439.4,98.7 445.1,99.0 450.7,95.0 456.3,93.0 462.0,91.3 467.6,91.9 473.2,92.7 478.9,86.3 484.5,94.7 490.1,94.4 495.8,96.9 501.4,101.8 507.0,99.8"/>
<polyline points="400.0,108.4 405.6,102.0 411.3,101.4 416.9,98.3 422.5,88.5 428.2,75.8 433.8,74.2 439.4,73.9 445.1,69.2 450.7,59.5 456.3,55.6 462.0,50.9 467.6,50.3 473.2,47.0 478.9,46.2 484.5,46.9 490.1,37.2 495.8,33.7 501.4,26.3 507.0,23.7"/>
<polyline points="400.0,108.4 405.6,103.7 411.3,99.6 416.9,96.3 422.5,89.7 428.2,81.4 433.8,88.6 439.4,91.5 445.1,81.8 450.7,86.5 456.3,85.2 462.0,82.7 467.6,79.9 473.2,79.9 478.9,85.8 484.5,91.3 490.1,86.8 495.8,78.4 501.4,83.6 507.0,88.5"/>
<polyline points="400.0,108.4 405.6,109.4 411.3,109.0 416.9,113.5 422.5,110.3 428.2,109.2 433.8,103.4 439.4,99.9 445.1,91.5 450.7,87.8 456.3,89.4 462.0,92.7 467.6,91.0 473.2,82.9 478.9,88.8 484.5,83.1 490.1,86.5 495.8,92.2 501.4,98.2 507.0,98.9"/>
<polyline points="400.0,108.4 405.6,103.7 411.3,105.8 416.9,101.7 422.5,106.3 428.2,102.5 433.8,98.2 439.4,95.0 445.1,100.0 450.7,91.9 456.3,96.7 462.0,90.1 467.6,83.9 473.2,79.5 478.9,76.0 484.5,75.1 490.1,79.0 495.8,78.5 501.4,72.5 507.0,70.8"/>
<polyline points="400.0,108.4 405.6,107.9 411.3,107.4 416.9,113.3 422.5,116.0 428.2,113.7 433.8,114.5 439.4,112.2 445.1,109.6 450.7,115.2 456.3,116.4 462.0,120.5 467.6,120.6 473.2,115.8 478.9,115.5 484.5,115.1 490.1,105.6 495.8,103.6 501.4,104.7 507.0,102.1"/>
<polyline points="400.0,108.4 405.6,98.1 411.3,90.1 416.9,88.3 422.5,80.5 428.2,73.7 433.8,67.6 439.4,70.0 445.1,66.0 450.7,65.6 456.3,69.1 462.0,64.9 467.6,63.3 473.2,64.1 478.9,54.3 484.5,50.6 490.1,57.5 495.8,63.5 501.4,59.2 507.0,52.7"/>
<polyline points="400.0,108.4 405.6,102.8 411.3,91.1 416.9,94.0 422.5,96.5 428.2,90.6 433.8,90.3 439.4,78.9 445.1,81.0 450.7,72.3 456.3,60.6 462.0,64.1 467.6,63.0 473.2,63.4 478.9,52.9 484.5,57.4 490.1,49.8 495.8,49.4 501.4,42.1 507.0,36.5"/>
<polyline points="400.0,108.4 405.6,107.1 411.3,105.7 416.9,100.7 422.5,98.5 428.2,107.4 433.8,108.6 439.4,115.5 445.1,115.5 450.7,111.7 456.3,112.4 462.0,116.4 467.6,115.4 473.2,112.1 478.9,111.4 484.5,107.0 490.1,107.6 495.8,108.0 501.4,104.0 507.0,103.9"/>
<polyline points="400.0,108.4 405.6,104.9 411.3,106.6 416.9,104.5 422.5,97.8 428.2,100.1 433.8,92.9 439.4,84.1 445.1,86.2 450.7,77.0 456.3,73.5 462.0,72.3 467.6,68.5 473.2,71.3 478.9,70.6 484.5,69.0 490.1,61.9 495.8,67.4 501.4,55.7 507.0,47.4"/>
<polyline points="400.0,108.4 405.6,113.1 411.3,110.8 416.9,111.6 422.5,110.5 428.2,110.6 433.8,99.1 439.4,102.6 445.1,95.2 450.7,90.6 456.3,90.8 462.0,92.2 467.6,92.5 473.2,83.8 478.9,79.7 484.5,82.0 490.1,70.2 495.8,60.6 501.4,60.2 507.0,55.0"/>
<polyline points="400.0,108.4 405.6,102.2 411.3,103.8 416.9,106.7 422.5,110.4 428.2,112.5 433.8,114.0 439.4,108.2 445.1,111.3 450.7,111.7 456.3,103.3 462.0,93.9 467.6,86.8 473.2,83.9 478.9,89.5 484.5,86.6 490.1,81.9 495.8,81.6 501.4,73.3 507.0,67.1"/>
<polyline points="400.0,108.4 405.6,102.3 411.3,104.4 416.9,106.0 422.5,109.4 428.2,106.9 433.8,104.0 439.4,101.7 445.1,102.9 450.7,107.3 456.3,108.6 462.0,107.6 467.6,108.1 473.2,108.1 478.9,103.7 484.5,107.4 490.1,107.5 495.8,105.8 501.4,105.1 507.0,90.5"/>
<polyline points="400.0,108.4 405.6,98.4 411.3,99.3 416.9,98.6 422.5,97.8 428.2,95.8 433.8,88.6 439.4,83.7 445.1,80.9 450.7,75.2 456.3,74.9 462.0,74.4 467.6,60.7 473.2,61.0 478.9,66.8 484.5,72.6 490.1,70.2 495.8,55.1 501.4,58.7 507.0,54.0"/>
<polyline points="400.0,108.4 405.6,109.7 411.3,106.0 416.9,112.0 422.5,113.4 428.2,106.7 433.8,104.4 439.4,101.9 445.1,103.0 450.7,101.3 456.3,101.2 462.0,97.4 467.6,91.6 473.2,92.2 478.9,96.8 484.5,89.8 490.1,88.5 495.8,86.1 501.4,94.2 507.0,94.6"/>
<polyline points="400.0,108.4 405.6,107.5 411.3,108.1 416.9,102.4 422.5,96.0 428.2,92.7 433.8,95.2 439.4,100.9 445.1,98.8 450.7,93.9 456.3,90.8 462.0,83.9 467.6,67.5 473.2,60.4 478.9,53.2 484.5,57.0 490.1,62.3 495.8,57.8 501.4,49.6 507.0,35.9"/>
<polyline points="400.0,108.4 405.6,110.3 411.3,115.8 416.9,116.7 422.5,113.5 428.2,113.8 433.8,113.0 439.4,114.1 445.1,111.1 450.7,107.6 456.3,113.2 462.0,108.5 467.6,112.0 473.2,114.6 478.9,107.4 484.5,104.2 490.1,105.3 495.8,104.5 501.4,104.3 507.0,95.7"/>
<polyline points="400.0,108.4 405.6,112.7 411.3,109.4 416.9,101.9 422.5,99.5 428.2,91.1 433.8,93.0 439.4,91.8 445.1,85.0 450.7,95.7 456.3,100.2 462.0,94.5 467.6,88.8 473.2,94.1 478.9,93.5 484.5,85.7 490.1,92.8 495.8,90.4 501.4,87.9 507.0,81.7"/>
<polyline points="400.0,108.4 405.6,104.1 411.3,98.0 416.9,100.4 422.5,92.6 428.2,98.5 433.8,98.3 439.4,98.7 445.1,96.0 450.7,97.3 456.3,96.0 462.0,97.0 467.6,94.5 473.2,83.3 478.9,83.5 484.5,85.8 490.1,78.6 495.8,72.5 501.4,72.3 507.0,67.8"/>
<polyline points="400.0,108.4 405.6,112.1 411.3,115.1 416.9,117.8 422.5,121.0 428.2,121.3 433.8,122.5 439.4,119.9 445.1,125.5 450.7,129.6 456.3,128.8 462.0,130.2 467.6,129.3 473.2,131.7 478.9,135.0 484.5,130.6 490.1,128.4 495.8,130.7 501.4,128.3 507.0,125.9"/>
<polyline points="400.0,108.4 405.6,106.1 411.3,99.6 416.9,95.8 422.5,95.8 428.2,94.3 433.8,91.7 439.4,91.4 445.1,89.5 450.7,84.0 456.3,91.5 462.0,92.1 467.6,92.3 473.2,86.6 478.9,77.6 484.5,69.2 490.1,64.8 495.8,66.2 501.4,66.7 507.0,72.8"/>
<polyline points="400.0,108.4 405.6,104.2 411.3,103.0 416.9,107.1 422.5,109.9 428.2,117.2 433.8,113.4 439.4,110.8 445.1,112.7 450.7,112.9 456.3,104.8 462.0,99.7 467.6,93.5 473.2,97.4 478.9,98.5 484.5,96.1 490.1,98.2 495.8,95.4 501.4,102.2 507.0,104.5"/>
<polyline points="400.0,108.4 405.6,113.4 411.3,113.0 416.9,117.9 422.5,119.8 428.2,120.0 433.8,117.4 439.4,116.7 445.1,109.4 450.7,111.8 456.3,107.7 462.0,104.1 467.6,108.4 473.2,103.1 478.9,106.4 484.5,112.8 490.1,112.5 495.8,113.6 501.4,108.6 507.0,112.7"/>
<polyline points="400.0,108.4 405.6,111.5 411.3,103.3 416.9,98.4 422.5,98.7 428.2,96.8 433.8,88.8 439.4,84.7 445.1,83.8 450.7,92.6 456.3,103.0 462.0,97.0 467.6,101.1 473.2,96.0 478.9,99.9 484.5,99.7 490.1,99.9 495.8,93.6 501.4,93.7 507.0,93.8"/>
<polyline points="400.0,108.4 405.6,99.6 411.3,99.9 416.9,103.7 422.5,99.6 428.2,97.8 433.8,96.6 439.4,101.6 445.1,100.4 450.7,100.5 456.3,99.7 462.0,100.5 467.6,101.6 473.2,99.7 478.9,96.4 484.5,95.8 490.1,96.4 495.8,99.9 501.4,101.9 507.0,104.7"/>
<polyline points="400.0,108.4 405.6,109.4 411.3,100.9 416.9,96.3 422.5,91.3 428.2,95.0 433.8,98.1 439.4,96.6 445.1,94.3 450.7,97.0 456.3,97.7 462.0,91.6 467.6,95.4 473.2,96.3 478.9,92.1 484.5,79.3 490.1,87.3 495.8,81.7 501.4,81.8 507.0,81.9"/>
<polyline points="400.0,108.4 405.6,98.0 411.3,97.1 416.9,94.4 422.5,91.6 428.2,83.8 433.8,81.6 439.4,86.2 445.1,75.1 450.7,73.1 456.3,65.4 462.0,52.2 467.6,51.1 473.2,57.8 478.9,49.9 484.5,47.0 490.1,43.2 495.8,42.5 501.4,42.0 507.0,46.5"/>
<polyline points="400.0,108.4 405.6,103.3 411.3,102.5 416.9,103.8 422.5,105.3 428.2,106.1 433.8,104.1 439.4,102.3 445.1,96.7 450.7,88.2 456.3,84.7 462.0,86.8 467.6,80.0 473.2,77.5 478.9,74.2 484.5,79.5 490.1,75.4 495.8,66.3 501.4,61.6 507.0,59.6"/>
<polyline points="400.0,108.4 405.6,104.7 411.3,102.2 416.9,102.9 422.5,108.4 428.2,105.1 433.8,113.9 439.4,113.5 445.1,115.2 450.7,119.3 456.3,115.0 462.0,118.1 467.6,116.5 473.2,110.7 478.9,113.0 484.5,114.7 490.1,114.6 495.8,120.0 501.4,118.6 507.0,121.7"/>
<polyline points="400.0,108.4 405.6,107.0 411.3,105.8 416.9,100.9 422.5,97.8 428.2,100.9 433.8,95.0 439.4,91.6 445.1,83.3 450.7,82.1 456.3,81.4 462.0,82.8 467.6,74.8 473.2,75.2 478.9,68.9 484.5,68.1 490.1,58.6 495.8,52.5 501.4,52.2 507.0,52.5"/>
<polyline points="400.0,108.4 405.6,109.5 411.3,117.6 416.9,116.7 422.5,106.3 428.2,107.0 433.8,109.0 439.4,108.7 445.1,106.4 450.7,103.7 456.3,100.9 462.0,104.2 467.6,105.6 473.2,104.1 478.9,104.3 484.5,101.1 490.1,99.8 495.8,89.3 501.4,81.1 507.0,75.4"/>
<polyline points="400.0,108.4 405.6,105.1 411.3,99.1 416.9,89.4 422.5,91.5 428.2,88.7 433.8,94.8 439.4,95.8 445.1,95.7 450.7,93.8 456.3,95.7 462.0,89.3 467.6,88.7 473.2,78.7 478.9,75.3 484.5,79.5 490.1,81.6 495.8,77.1 501.4,77.9 507.0,79.0"/>
<polyline points="400.0,108.4 405.6,107.6 411.3,107.3 416.9,102.6 422.5,102.0 428.2,104.0 433.8,108.8 439.4,114.2 445.1,116.7 450.7,114.0 456.3,112.5 462.0,113.5 467.6,113.0 473.2,111.3 478.9,105.7 484.5,111.5 490.1,118.2 495.8,120.1 501.4,114.7 507.0,113.9"/>
<polyline points="400.0,108.4 405.6,111.2 411.3,112.7 416.9,112.4 422.5,117.5 428.2,120.8 433.8,119.0 439.4,118.9 445.1,123.0 450.7,124.3 456.3,119.5 462.0,112.9 467.6,115.8 473.2,111.0 478.9,112.0 484.5,110.8 490.1,103.6 495.8,102.0 501.4,95.4 507.0,95.4"/>
<polyline points="400.0,108.4 405.6,103.9 411.3,104.8 416.9,102.0 422.5,102.4 428.2,96.9 433.8,100.6 439.4,103.0 445.1,102.2 450.7,101.7 456.3,98.4 462.0,107.7 467.6,103.4 473.2,100.5 478.9,102.7 484.5,105.1 490.1,108.4 495.8,112.9 501.4,109.5 507.0,100.1"/>
<polyline points="400.0,108.4 405.6,103.5 411.3,95.4 416.9,90.5 422.5,91.0 428.2,83.4 433.8,79.2 439.4,77.8 445.1,83.0 450.7,87.0 456.3,88.4 462.0,81.7 467.6,82.1 473.2,84.7 478.9,82.2 484.5,73.3 490.1,60.9 495.8,68.3 501.4,63.1 507.0,55.6"/>
<polyline points="400.0,108.4 405.6,111.1 411.3,115.5 416.9,114.6 422.5,108.6 428.2,108.0 433.8,107.5 439.4,104.5 445.1,103.1 450.7,100.5 456.3,96.6 462.0,91.1 467.6,83.9 473.2,87.1 478.9,93.6 484.5,89.4 490.1,82.4 495.8,88.8 501.4,82.7 507.0,70.7"/>
<polyline points="400.0,108.4 405.6,107.2 411.3,107.5 416.9,102.3 422.5,99.6 428.2,99.9 433.8,95.6 439.4,100.1 445.1,97.3 450.7,100.6 456.3,103.1 462.0,100.1 467.6,99.0 473.2,93.8 478.9,97.3 484.5,99.7 490.1,96.5 495.8,101.2 501.4,102.3 507.0,110.3"/>
<polyline points="400.0,108.4 405.6,107.9 411.3,113.1 416.9,115.0 422.5,118.2 428.2,123.6 433.8,127.6 439.4,127.2 445.1,123.3 450.7,120.8 456.3,126.5 462.0,132.9 467.6,132.1 473.2,134.1 478.9,133.5 484.5,130.5 490.1,125.5 495.8,124.5 501.4,122.3 507.0,121.4"/>
<polyline points="400.0,108.4 405.6,104.5 411.3,104.6 416.9,111.1 422.5,110.6 428.2,112.0 433.8,112.5 439.4,113.2 445.1,117.9 450.7,115.7 456.3,106.0 462.0,100.1 467.6,100.3 473.2,100.6 478.9,93.0 484.5,87.5 490.1,95.2 495.8,91.9 501.4,93.1 507.0,84.6"/>
<polyline points="400.0,108.4 405.6,107.3 411.3,107.7 416.9,105.6 422.5,106.0 428.2,103.8 433.8,97.3 439.4,98.0 445.1,106.2 450.7,103.5 456.3,99.1 462.0,95.6 467.6,92.9 473.2,97.4 478.9,92.0 484.5,90.6 490.1,88.4 495.8,84.2 501.4,86.6 507.0,85.0"/>
<polyline points="400.0,108.4 405.6,103.9 411.3,97.3 416.9,93.2 422.5,82.8 428.2,78.2 433.8,78.5 439.4,72.4 445.1,70.6 450.7,69.0 456.3,64.4 462.0,53.0 467.6,57.5 473.2,60.6 478.9,56.1 484.5,53.8 490.1,52.2 495.8,51.7 501.4,48.3 507.0,46.9"/>
<polyline points="400.0,108.4 405.6,110.9 411.3,111.0 416.9,117.0 422.5,113.5 428.2,109.7 433.8,109.7 439.4,110.7 445.1,98.9 450.7,90.7 456.3,90.9 462.0,83.7 467.6,86.3 473.2,87.5 478.9,85.3 484.5,87.6 490.1,87.5 495.8,87.4 501.4,82.5 507.0,81.7"/>
<polyline points="400.0,108.4 405.6,107.5 411.3,109.1 416.9,108.1 422.5,107.0 428.2,105.4 433.8,102.9 439.4,104.1 445.1,102.7 450.7,98.8 456.3,95.2 462.0,100.7 467.6,103.1 473.2,96.6 478.9,90.7 484.5,91.0 490.1,90.6 495.8,91.0 501.4,90.2 507.0,89.0"/>
<polyline points="400.0,108.4 405.6,103.0 411.3,102.4 416.9,99.0 422.5,101.9 428.2,106.2 433.8,114.6 439.4,109.6 445.1,106.9 450.7,113.1 456.3,115.2 462.0,110.7 467.6,106.7 473.2,101.6 478.9,106.1 484.5,101.2 490.1,101.6 495.8,104.7 501.4,113.5 507.0,115.5"/>
<polyline points="400.0,108.4 405.6,109.8 411.3,111.2 416.9,115.0 422.5,108.0 428.2,109.9 433.8,104.9 439.4,110.8 445.1,114.7 450.7,106.6 456.3,105.4 462.0,101.1 467.6,106.1 473.2,108.1 478.9,109.7 484.5,110.8 490.1,111.8 495.8,110.3 501.4,109.0 507.0,106.0"/>
<polyline points="400.0,108.4 405.6,99.4 411.3,98.2 416.9,93.7 422.5,90.1 428.2,85.8 433.8,84.9 439.4,79.7 445.1,84.2 450.7,93.3 456.3,87.4 462.0,90.4 467.6,91.9 473.2,93.1 478.9,90.0 484.5,88.3 490.1,84.0 495.8,84.8 501.4,78.6 507.0,80.4"/>
<polyline points="400.0,108.4 405.6,113.0 411.3,115.2 416.9,110.1 422.5,109.1 428.2,106.8 433.8,112.8 439.4,112.5 445.1,119.3 450.7,121.2 456.3,122.7 462.0,117.2 467.6,116.9 473.2,107.7 478.9,102.5 484.5,107.1 490.1,106.7 495.8,108.5 501.4,103.4 507.0,99.6"/>
<polyline points="400.0,108.4 405.6,100.2 411.3,104.0 416.9,98.5 422.5,97.5 428.2,105.0 433.8,102.0 439.4,97.6 445.1,95.4 450.7,90.4 456.3,91.1 462.0,88.7 467.6,84.7 473.2,92.4 478.9,93.9 484.5,95.0 490.1,97.1 495.8,101.1 501.4,100.1 507.0,100.7"/>
<polyline points="400.0,108.4 405.6,106.9 411.3,103.8 416.9,106.9 422.5,103.3 428.2,109.0 433.8,105.6 439.4,102.4 445.1,100.5 450.7,101.4 456.3,102.0 462.0,100.2 467.6,99.2 473.2,100.1 478.9,92.4 484.5,90.4 490.1,86.5 495.8,93.4 501.4,86.7 507.0,83.1"/>
<polyline points="400.0,108.4 405.6,106.3 411.3,106.8 416.9,108.3 422.5,112.9 428.2,106.5 433.8,110.7 439.4,111.3 445.1,115.7 450.7,110.7 456.3,106.4 462.0,108.8 467.6,111.9 473.2,113.9 478.9,108.0 484.5,104.4 490.1,111.5 495.8,112.1 501.4,111.9 507.0,106.4"/>
<polyline points="400.0,108.4 405.6,100.3 411.3,93.6 416.9,88.2 422.5,89.1 428.2,86.9 433.8,83.0 439.4,82.7 445.1,71.8 450.7,74.5 456.3,66.9 462.0,67.0 467.6,70.4 473.2,69.5 478.9,61.6 484.5,56.2 490.1,51.3 495.8,53.4 501.4,48.3 507.0,47.8"/>
<polyline points="400.0,108.4 405.6,107.7 411.3,100.6 416.9,95.6 422.5,96.5 428.2,99.9 433.8,103.6 439.4,99.9 445.1,94.8 450.7,90.8 456.3,95.8 462.0,89.8 467.6,90.4 473.2,84.3 478.9,79.4 484.5,73.0 490.1,71.8 495.8,74.1 501.4,78.7 507.0,72.8"/>
<polyline points="400.0,108.4 405.6,107.2 411.3,104.7 416.9,108.6 422.5,106.1 428.2,105.0 433.8,100.0 439.4,96.1 445.1,96.8 450.7,92.3 456.3,88.4 462.0,85.2 467.6,75.5 473.2,75.6 478.9,73.5 484.5,73.0 490.1,73.4 495.8,71.0 501.4,69.1 507.0,74.0"/>
<polyline points="400.0,108.4 405.6,101.5 411.3,103.9 416.9,108.7 422.5,106.1 428.2,96.5 433.8,93.2 439.4,89.0 445.1,90.7 450.7,88.7 456.3,90.4 462.0,101.9 467.6,97.6 473.2,90.4 478.9,88.9 484.5,78.9 490.1,80.6 495.8,72.4 501.4,69.9 507.0,74.3"/>
<polyline points="400.0,108.4 405.6,99.1 411.3,94.0 416.9,91.2 422.5,84.3 428.2,80.0 433.8,73.2 439.4,81.3 445.1,75.3 450.7,76.6 456.3,67.6 462.0,67.9 467.6,62.9 473.2,54.8 478.9,59.2 484.5,51.5 490.1,52.9 495.8,48.1 501.4,48.8 507.0,50.7"/>
<polyline points="400.0,108.4 405.6,110.3 411.3,108.1 416.9,100.8 422.5,97.4 428.2,103.8 433.8,102.2 439.4,95.9 445.1,93.4 450.7,92.8 456.3,91.1 462.0,83.3 467.6,79.4 473.2,81.2 478.9,83.7 484.5,88.3 490.1,90.1 495.8,89.4 501.4,91.3 507.0,83.1"/>
<polyline points="400.0,108.4 405.6,104.0 411.3,105.4 416.9,103.1 422.5,98.0 428.2,95.4 433.8,93.3 439.4,90.6 445.1,89.5 450.7,86.4 456.3,79.4 462.0,79.7 467.6,73.5 473.2,83.2 478.9,76.7 484.5,68.0 490.1,71.1 495.8,76.3 501.4,82.5 507.0,86.8"/>
<polyline points="400.0,108.4 405.6,109.1 411.3,98.8 416.9,93.6 422.5,94.9 428.2,95.7 433.8,86.9 439.4,86.2 445.1,85.2 450.7,79.5 456.3,82.8 462.0,86.6 467.6,80.4 473.2,78.2 478.9,88.6 484.5,85.2 490.1,74.6 495.8,69.4 501.4,60.6 507.0,43.7"/>
<polyline points="400.0,108.4 405.6,101.3 411.3,93.7 416.9,86.4 422.5,81.2 428.2,79.0 433.8,74.4 439.4,74.2 445.1,62.4 450.7,55.3 456.3,56.7 462.0,53.2 467.6,50.4 473.2,48.3 478.9,44.5 484.5,40.0 490.1,31.8 495.8,19.3 501.4,21.6 507.0,16.6"/>
<polyline points="400.0,108.4 405.6,110.7 411.3,104.6 416.9,100.9 422.5,102.5 428.2,103.4 433.8,98.0 439.4,102.8 445.1,100.5 450.7,97.5 456.3,98.8 462.0,92.9 467.6,89.7 473.2,86.7 478.9,85.6 484.5,86.6 490.1,81.9 495.8,74.7 501.4,72.1 507.0,78.1"/>
<polyline points="400.0,108.4 405.6,108.1 411.3,101.3 416.9,94.3 422.5,89.0 428.2,91.1 433.8,93.6 439.4,97.1 445.1,103.9 450.7,101.6 456.3,100.2 462.0,94.3 467.6,85.9 473.2,82.0 478.9,89.0 484.5,92.0 490.1,91.3 495.8,84.1 501.4,81.9 507.0,77.0"/>
<polyline points="400.0,108.4 405.6,104.3 411.3,109.1 416.9,96.3 422.5,95.1 428.2,89.4 433.8,85.6 439.4,92.4 445.1,91.0 450.7,92.0 456.3,90.1 462.0,85.7 467.6,82.1 473.2,74.7 478.9,80.4 484.5,82.5 490.1,81.7 495.8,84.1 501.4,76.5 507.0,70.9"/>
<polyline points="400.0,108.4 405.6,105.5 411.3,95.0 416.9,98.5 422.5,94.8 428.2,86.4 433.8,86.8 439.4,88.8 445.1,89.6 450.7,84.5 456.3,75.8 462.0,80.8 467.6,79.3 473.2,77.1 478.9,70.2 484.5,73.8 490.1,73.9 495.8,73.6 501.4,79.1 507.0,68.4"/>
<polyline points="400.0,108.4 405.6,109.7 411.3,112.1 416.9,111.3 422.5,108.7 428.2,113.1 433.8,108.0 439.4,108.0 445.1,103.1 450.7,99.1 456.3,102.3 462.0,102.0 467.6,95.7 473.2,95.8 478.9,93.7 484.5,98.4 490.1,100.7 495.8,98.2 501.4,101.5 507.0,105.0"/>
<polyline points="400.0,108.4 405.6,106.5 411.3,104.9 416.9,99.7 422.5,102.0 428.2,104.2 433.8,104.6 439.4,104.7 445.1,97.4 450.7,95.2 456.3,86.9 462.0,86.9 467.6,88.9 473.2,87.5 478.9,91.9 484.5,85.5 490.1,89.7 495.8,91.6 501.4,93.3 507.0,93.1"/>
<polyline points="400.0,108.4 405.6,118.0 411.3,111.7 416.9,106.5 422.5,108.7 428.2,112.4 433.8,111.4 439.4,110.1 445.1,111.4 450.7,108.6 456.3,109.9 462.0,106.3 467.6,109.2 473.2,114.8 478.9,107.4 484.5,101.4 490.1,98.6 495.8,98.9 501.4,100.4 507.0,99.5"/>
<polyline points="400.0,108.4 405.6,111.0 411.3,110.9 416.9,107.5 422.5,104.6 428.2,99.2 433.8,96.5 439.4,97.8 445.1,101.4 450.7,102.0 456.3,97.1 462.0,89.4 467.6,91.9 473.2,89.5 478.9,87.7 484.5,87.8 490.1,88.4 495.8,84.1 501.4,87.0 507.0,91.5"/>
<polyline points="400.0,108.4 405.6,108.8 411.3,105.4 416.9,104.4 422.5,108.1 428.2,110.9 433.8,109.4 439.4,107.6 445.1,103.1 450.7,106.7 456.3,104.9 462.0,105.9 467.6,102.2 473.2,98.5 478.9,101.2 484.5,103.2 490.1,102.2 495.8,100.5 501.4,101.9 507.0,102.6"/>
<polyline points="400.0,108.4 405.6,116.3 411.3,119.1 416.9,115.7 422.5,113.9 428.2,111.1 433.8,97.7 439.4,85.7 445.1,85.1 450.7,88.8 456.3,80.5 462.0,83.0 467.6,74.4 473.2,74.6 478.9,66.1 484.5,61.7 490.1,61.8 495.8,67.3 501.4,60.6 507.0,50.0"/>
<polyline points="400.0,108.4 405.6,115.3 411.3,116.2 416.9,116.4 422.5,117.2 428.2,114.3 433.8,113.3 439.4,112.8 445.1,107.1 450.7,113.4 456.3,111.0 462.0,112.6 467.6,105.8 473.2,101.7 478.9,93.4 484.5,91.5 490.1,92.1 495.8,92.9 501.4,89.6 507.0,85.3"/>
<polyline points="400.0,108.4 405.6,111.3 411.3,112.3 416.9,106.9 422.5,102.5 428.2,99.5 433.8,96.2 439.4,98.2 445.1,95.4 450.7,97.6 456.3,91.8 462.0,82.1 467.6,81.1 473.2,74.0 478.9,68.2 484.5,70.9 490.1,76.4 495.8,66.4 501.4,62.2 507.0,57.2"/>
<polyline points="400.0,108.4 405.6,111.3 411.3,109.0 416.9,114.7 422.5,118.0 428.2,114.0 433.8,112.9 439.4,108.3 445.1,100.4 450.7,97.4 456.3,83.5 462.0,90.2 467.6,83.8 473.2,77.1 478.9,77.6 484.5,81.4 490.1,78.3 495.8,71.4 501.4,73.5 507.0,72.7"/>
<polyline points="400.0,108.4 405.6,103.2 411.3,108.9 416.9,101.1 422.5,96.1 428.2,95.7 433.8,96.2 439.4,92.6 445.1,91.5 450.7,90.3 456.3,84.5 462.0,78.5 467.6,82.8 473.2,82.7 478.9,82.4 484.5,73.7 490.1,71.5 495.8,75.5 501.4,76.2 507.0,75.3"/>
</g>
</g>
<clipPath id="c3"><rect x="394.75" y="10.4" width="117.5" height="146.79999999999998"/></clipPath>
<rect x="394.75" y="10.4" width="117.65" height="146.79999999999998" fill="none" stroke="#000" stroke-width="0.9"/>
<line x1="392.25" y1="154.68" x2="394.75" y2="154.68" stroke="#000" stroke-width="0.9"/>
<line x1="392.25" y1="131.54" x2="394.75" y2="131.54" stroke="#000" stroke-width="0.9"/>
<line x1="392.25" y1="108.40" x2="394.75" y2="108.40" stroke="#000" stroke-width="0.9"/>
<line x1="392.25" y1="85.26" x2="394.75" y2="85.26" stroke="#000" stroke-width="0.9"/>
<line x1="392.25" y1="62.12" x2="394.75" y2="62.12" stroke="#000" stroke-width="0.9"/>
<line x1="392.25" y1="38.98" x2="394.75" y2="38.98" stroke="#000" stroke-width="0.9"/>
<line x1="392.25" y1="15.84" x2="394.75" y2="15.84" stroke="#000" stroke-width="0.9"/>
<line x1="400.00" y1="157.2" x2="400.00" y2="159.7" stroke="#000" stroke-width="0.9"/>
<line x1="428.17" y1="157.2" x2="428.17" y2="159.7" stroke="#000" stroke-width="0.9"/>
<line x1="456.33" y1="157.2" x2="456.33" y2="159.7" stroke="#000" stroke-width="0.9"/>
<line x1="484.50" y1="157.2" x2="484.50" y2="159.7" stroke="#000" stroke-width="0.9"/>
<g clip-path="url(#c4)">
<g fill="none" stroke="#0000ff" stroke-opacity="0.45" stroke-width="1.0" stroke-linejoin="round">
<polyline points="526.7,108.4 532.3,110.8 538.0,116.4 543.6,116.4 549.2,123.7 554.9,128.9 560.5,125.8 566.1,124.6 571.8,125.6 577.4,128.5 583.0,129.7 588.7,126.1 594.3,130.6 599.9,126.2 605.6,129.9 611.2,132.1 616.8,133.5 622.5,136.9 628.1,136.1 633.7,137.9"/>
<polyline points="526.7,108.4 532.3,103.9 538.0,104.0 543.6,106.8 549.2,110.2 554.9,104.7 560.5,109.1 566.1,111.5 571.8,115.3 577.4,115.7 583.0,122.9 588.7,124.0 594.3,121.2 599.9,122.4 605.6,122.3 611.2,117.8 616.8,115.1 622.5,115.1 628.1,115.2 633.7,116.5"/>
<polyline points="526.7,108.4 532.3,106.3 538.0,104.5 543.6,102.2 549.2,100.3 554.9,101.7 560.5,98.3 566.1,96.0 571.8,91.0 577.4,102.3 583.0,114.7 588.7,111.2 594.3,110.4 599.9,110.8 605.6,112.4 611.2,114.3 616.8,113.3 622.5,113.6 628.1,114.3 633.7,108.3"/>
<polyline points="526.7,108.4 532.3,108.8 538.0,104.5 543.6,103.9 549.2,101.2 554.9,101.3 560.5,99.2 566.1,104.4 571.8,99.9 577.4,101.0 583.0,105.3 588.7,107.1 594.3,102.8 599.9,106.0 605.6,107.1 611.2,108.2 616.8,109.8 622.5,107.0 628.1,101.8 633.7,104.5"/>
<polyline points="526.7,108.4 532.3,108.9 538.0,101.3 543.6,102.2 549.2,106.6 554.9,112.5 560.5,111.9 566.1,118.5 571.8,114.7 577.4,112.5 583.0,110.9 588.7,113.2 594.3,115.3 599.9,117.8 605.6,117.7 611.2,121.9 616.8,123.1 622.5,123.5 628.1,123.8 633.7,122.0"/>
<polyline points="526.7,108.4 532.3,112.4 538.0,111.7 543.6,108.2 549.2,106.3 554.9,106.6 560.5,110.9 566.1,113.1 571.8,113.9 577.4,105.8 583.0,105.7 588.7,108.3 594.3,111.9 599.9,108.8 605.6,99.8 611.2,93.3 616.8,93.3 622.5,92.8 628.1,95.6 633.7,97.8"/>
<polyline points="526.7,108.4 532.3,107.5 538.0,110.8 543.6,109.4 549.2,113.3 554.9,111.8 560.5,110.6 566.1,110.3 571.8,115.1 577.4,118.1 583.0,115.6 588.7,119.7 594.3,117.0 599.9,118.5 605.6,117.8 611.2,120.7 616.8,116.8 622.5,112.9 628.1,113.5 633.7,115.8"/>
<polyline points="526.7,108.4 532.3,106.3 538.0,107.1 543.6,109.3 549.2,105.9 554.9,103.4 560.5,110.9 566.1,111.5 571.8,117.3 577.4,114.0 583.0,108.8 588.7,112.0 594.3,110.6 599.9,111.5 605.6,111.4 611.2,109.0 616.8,114.9 622.5,112.4 628.1,107.3 633.7,100.8"/>
<polyline points="526.7,108.4 532.3,115.8 538.0,122.8 543.6,125.7 549.2,125.9 554.9,124.1 560.5,125.3 566.1,130.6 571.8,128.9 577.4,133.2 583.0,132.0 588.7,134.5 594.3,138.2 599.9,135.6 605.6,134.5 611.2,134.9 616.8,135.1 622.5,142.9 628.1,141.9 633.7,140.9"/>
<polyline points="526.7,108.4 532.3,107.0 538.0,108.9 543.6,111.8 549.2,110.1 554.9,107.4 560.5,110.7 566.1,114.9 571.8,114.1 577.4,113.8 583.0,116.6 588.7,113.3 594.3,116.3 599.9,109.7 605.6,106.3 611.2,101.5 616.8,92.6 622.5,88.2 628.1,90.4 633.7,79.8"/>
<polyline points="526.7,108.4 532.3,115.4 538.0,118.8 543.6,125.9 549.2,127.6 554.9,129.4 560.5,128.0 566.1,129.7 571.8,132.4 577.4,135.9 583.0,134.9 588.7,136.1 594.3,136.9 599.9,137.3 605.6,139.1 611.2,140.2 616.8,142.3 622.5,144.8 628.1,145.1 633.7,147.3"/>
<polyline points="526.7,108.4 532.3,106.0 538.0,111.0 543.6,106.4 549.2,115.8 554.9,120.2 560.5,118.1 566.1,116.8 571.8,119.6 577.4,120.3 583.0,122.4 588.7,122.3 594.3,126.7 599.9,121.8 605.6,124.7 611.2,123.7 616.8,122.4 622.5,115.3 628.1,110.3 633.7,103.5"/>
<polyline points="526.7,108.4 532.3,111.0 538.0,111.4 543.6,117.3 549.2,119.3 554.9,123.3 560.5,123.1 566.1,122.5 571.8,119.0 577.4,127.4 583.0,127.2 588.7,121.4 594.3,120.1 599.9,116.1 605.6,108.3 611.2,109.7 616.8,110.6 622.5,108.6 628.1,106.6 633.7,102.8"/>
<polyline points="526.7,108.4 532.3,109.4 538.0,107.5 543.6,102.7 549.2,103.8 554.9,106.6 560.5,109.7 566.1,111.6 571.8,107.6 577.4,116.0 583.0,119.3 588.7,114.0 594.3,115.4 599.9,111.3 605.6,102.0 611.2,98.7 616.8,101.3 622.5,102.1 628.1,97.0 633.7,96.9"/>
<polyline points="526.7,108.4 532.3,107.7 538.0,96.3 543.6,94.6 549.2,90.3 554.9,89.2 560.5,90.6 566.1,84.0 571.8,91.5 577.4,84.3 583.0,84.4 588.7,82.8 594.3,83.5 599.9,80.8 605.6,75.6 611.2,68.1 616.8,68.2 622.5,73.4 628.1,67.7 633.7,66.2"/>
<polyline points="526.7,108.4 532.3,106.4 538.0,109.5 543.6,104.1 549.2,109.4 554.9,110.7 560.5,118.1 566.1,126.5 571.8,130.3 577.4,128.7 583.0,129.3 588.7,131.9 594.3,129.8 599.9,132.8 605.6,132.3 611.2,131.4 616.8,131.8 622.5,131.0 628.1,136.2 633.7,132.8"/>
<polyline points="526.7,108.4 532.3,107.6 538.0,112.6 543.6,108.1 549.2,106.3 554.9,99.0 560.5,106.4 566.1,99.9 571.8,104.8 577.4,104.4 583.0,101.3 588.7,101.6 594.3,95.5 599.9,99.1 605.6,101.6 611.2,94.6 616.8,97.2 622.5,106.4 628.1,102.0 633.7,95.6"/>
<polyline points="526.7,108.4 532.3,103.2 538.0,102.0 543.6,97.1 549.2,98.1 554.9,96.0 560.5,94.0 566.1,88.0 571.8,82.9 577.4,80.0 583.0,85.0 588.7,88.6 594.3,80.8 599.9,82.4 605.6,86.4 611.2,79.7 616.8,77.5 622.5,88.6 628.1,88.8 633.7,89.7"/>
<polyline points="526.7,108.4 532.3,114.5 538.0,116.2 543.6,115.8 549.2,110.0 554.9,111.0 560.5,111.3 566.1,111.9 571.8,113.8 577.4,111.6 583.0,108.5 588.7,111.0 594.3,114.3 599.9,119.3 605.6,117.9 611.2,123.2 616.8,126.0 622.5,131.4 628.1,133.0 633.7,136.3"/>
<polyline points="526.7,108.4 532.3,109.7 538.0,114.8 543.6,107.8 549.2,105.5 554.9,103.0 560.5,109.8 566.1,113.4 571.8,104.3 577.4,103.6 583.0,98.3 588.7,100.5 594.3,100.0 599.9,101.6 605.6,100.9 611.2,106.6 616.8,104.3 622.5,108.8 628.1,109.4 633.7,109.9"/>
<polyline points="526.7,108.4 532.3,107.8 538.0,107.5 543.6,105.1 549.2,110.8 554.9,107.6 560.5,105.5 566.1,104.7 571.8,109.5 577.4,111.8 583.0,104.8 588.7,103.8 594.3,101.1 599.9,102.3 605.6,102.1 611.2,107.2 616.8,106.5 622.5,96.1 628.1,99.4 633.7,89.1"/>
<polyline points="526.7,108.4 532.3,108.4 538.0,106.5 543.6,115.7 549.2,108.6 554.9,109.4 560.5,110.7 566.1,117.5 571.8,122.6 577.4,122.3 583.0,129.3 588.7,125.8 594.3,124.8 599.9,125.2 605.6,128.0 611.2,126.1 616.8,129.8 622.5,131.8 628.1,125.4 633.7,124.8"/>
<polyline points="526.7,108.4 532.3,110.2 538.0,107.6 543.6,111.4 549.2,114.2 554.9,111.4 560.5,116.9 566.1,112.6 571.8,113.9 577.4,115.6 583.0,113.2 588.7,112.6 594.3,114.8 599.9,112.0 605.6,112.8 611.2,110.2 616.8,101.1 622.5,93.0 628.1,88.3 633.7,84.1"/>
<polyline points="526.7,108.4 532.3,109.2 538.0,111.9 543.6,113.7 549.2,111.3 554.9,110.3 560.5,118.9 566.1,120.8 571.8,118.3 577.4,120.5 583.0,122.4 588.7,120.4 594.3,115.6 599.9,116.9 605.6,114.0 611.2,117.8 616.8,125.2 622.5,124.5 628.1,124.3 633.7,121.1"/>
<polyline points="526.7,108.4 532.3,112.2 538.0,110.5 543.6,110.5 549.2,107.7 554.9,106.7 560.5,99.1 566.1,98.0 571.8,99.6 577.4,94.8 583.0,91.3 588.7,100.3 594.3,93.2 599.9,88.9 605.6,80.6 611.2,81.1 616.8,84.7 622.5,82.2 628.1,84.6 633.7,91.5"/>
<polyline points="526.7,108.4 532.3,103.5 538.0,104.0 543.6,104.6 549.2,100.1 554.9,94.9 560.5,98.0 566.1,92.1 571.8,87.8 577.4,90.1 583.0,92.6 588.7,85.2 594.3,86.8 599.9,82.3 605.6,84.3 611.2,80.2 616.8,75.3 622.5,69.9 628.1,64.5 633.7,66.1"/>
<polyline points="526.7,108.4 532.3,97.8 538.0,100.0 543.6,98.7 549.2,94.4 554.9,95.9 560.5,94.6 566.1,93.1 571.8,94.1 577.4,96.5 583.0,88.7 588.7,92.8 594.3,97.2 599.9,102.1 605.6,107.7 611.2,100.1 616.8,97.7 622.5,104.6 628.1,98.7 633.7,104.6"/>
<polyline points="526.7,108.4 532.3,105.9 538.0,113.4 543.6,114.5 549.2,116.2 554.9,113.8 560.5,123.0 566.1,125.1 571.8,127.8 577.4,130.1 583.0,127.3 588.7,125.1 594.3,121.7 599.9,124.6 605.6,131.1 611.2,127.3 616.8,128.1 622.5,131.8 628.1,127.2 633.7,129.2"/>
<polyline points="526.7,108.4 532.3,107.0 538.0,106.5 543.6,102.1 549.2,98.3 554.9,91.8 560.5,98.6 566.1,92.6 571.8,84.8 577.4,88.3 583.0,83.7 588.7,80.4 594.3,77.8 599.9,78.8 605.6,78.6 611.2,80.9 616.8,81.6 622.5,79.3 628.1,74.0 633.7,68.1"/>
<polyline points="526.7,108.4 532.3,109.7 538.0,111.6 543.6,115.6 549.2,114.7 554.9,113.5 560.5,111.9 566.1,107.7 571.8,106.4 577.4,106.6 583.0,104.3 588.7,101.2 594.3,98.2 599.9,96.9 605.6,99.7 611.2,98.7 616.8,99.1 622.5,99.9 628.1,106.2 633.7,101.8"/>
<polyline points="526.7,108.4 532.3,109.6 538.0,109.0 543.6,107.5 549.2,107.8 554.9,107.4 560.5,101.8 566.1,106.3 571.8,105.5 577.4,104.8 583.0,101.9 588.7,110.0 594.3,115.7 599.9,119.7 605.6,113.5 611.2,117.5 616.8,120.8 622.5,125.9 628.1,124.5 633.7,129.9"/>
<polyline points="526.7,108.4 532.3,111.8 538.0,110.0 543.6,110.8 549.2,108.6 554.9,109.5 560.5,106.9 566.1,107.0 571.8,103.6 577.4,103.8 583.0,101.6 588.7,91.4 594.3,92.7 599.9,93.4 605.6,90.5 611.2,93.9 616.8,95.2 622.5,104.5 628.1,103.8 633.7,106.4"/>
<polyline points="526.7,108.4 532.3,108.2 538.0,109.4 543.6,112.1 549.2,113.4 554.9,114.4 560.5,116.3 566.1,115.4 571.8,119.6 577.4,118.6 583.0,114.2 588.7,112.1 594.3,110.5 599.9,108.5 605.6,110.8 611.2,108.2 616.8,107.5 622.5,109.2 628.1,113.8 633.7,115.8"/>
<polyline points="526.7,108.4 532.3,107.7 538.0,108.1 543.6,111.1 549.2,114.3 554.9,114.0 560.5,107.6 566.1,111.2 571.8,109.2 577.4,107.2 583.0,107.0 588.7,100.6 594.3,95.1 599.9,91.8 605.6,91.5 611.2,94.0 616.8,98.0 622.5,97.9 628.1,94.5 633.7,99.1"/>
<polyline points="526.7,108.4 532.3,109.0 538.0,111.2 543.6,110.0 549.2,116.1 554.9,113.8 560.5,115.6 566.1,114.5 571.8,119.5 577.4,116.4 583.0,116.3 588.7,116.7 594.3,112.2 599.9,117.0 605.6,109.1 611.2,111.2 616.8,112.4 622.5,105.9 628.1,105.8 633.7,108.3"/>
<polyline points="526.7,108.4 532.3,106.8 538.0,108.3 543.6,103.9 549.2,106.7 554.9,99.0 560.5,99.6 566.1,107.8 571.8,106.1 577.4,108.8 583.0,111.8 588.7,112.0 594.3,105.8 599.9,103.3 605.6,108.1 611.2,106.0 616.8,104.4 622.5,100.8 628.1,98.3 633.7,93.6"/>
<polyline points="526.7,108.4 532.3,102.6 538.0,105.1 543.6,105.0 549.2,107.4 554.9,104.5 560.5,99.8 566.1,101.7 571.8,105.3 577.4,106.1 583.0,106.9 588.7,111.4 594.3,110.1 599.9,100.8 605.6,101.0 611.2,97.4 616.8,94.4 622.5,95.2 628.1,103.2 633.7,101.0"/>
<polyline points="526.7,108.4 532.3,106.4 538.0,98.5 543.6,98.4 549.2,99.8 554.9,95.0 560.5,88.9 566.1,86.6 571.8,83.6 577.4,83.1 583.0,74.5 588.7,71.2 594.3,70.3 599.9,84.0 605.6,85.2 611.2,84.3 616.8,87.8 622.5,87.3 628.1,89.6 633.7,91.7"/>
<polyline points="526.7,108.4 532.3,110.1 538.0,112.9 543.6,108.5 549.2,113.6 554.9,108.2 560.5,105.8 566.1,111.7 571.8,113.1 577.4,114.6 583.0,106.5 588.7,100.7 594.3,98.7 599.9,100.5 605.6,99.7 611.2,107.3 616.8,107.2 622.5,109.0 628.1,112.6 633.7,116.8"/>
<polyline points="526.7,108.4 532.3,104.9 538.0,103.5 543.6,105.2 549.2,106.8 554.9,108.4 560.5,103.5 566.1,104.7 571.8,106.5 577.4,106.8 583.0,106.1 588.7,113.5 594.3,108.5 599.9,108.8 605.6,114.5 611.2,110.2 616.8,111.8 622.5,113.9 628.1,115.1 633.7,108.7"/>
<polyline points="526.7,108.4 532.3,108.4 538.0,107.5 543.6,104.6 549.2,104.3 554.9,102.1 560.5,106.2 566.1,109.9 571.8,116.8 577.4,117.9 583.0,114.1 588.7,111.6 594.3,120.6 599.9,119.8 605.6,119.5 611.2,118.1 616.8,116.2 622.5,126.1 628.1,126.8 633.7,127.2"/>
<polyline points="526.7,108.4 532.3,113.1 538.0,116.0 543.6,116.1 549.2,119.8 554.9,121.3 560.5,119.8 566.1,120.6 571.8,121.1 577.4,125.8 583.0,125.0 588.7,131.1 594.3,129.0 599.9,131.3 605.6,134.2 611.2,132.4 616.8,130.0 622.5,127.5 628.1,128.3 633.7,140.7"/>
<polyline points="526.7,108.4 532.3,110.9 538.0,105.0 543.6,108.7 549.2,106.4 554.9,99.8 560.5,105.2 566.1,99.5 571.8,97.6 577.4,101.1 583.0,101.6 588.7,100.8 594.3,99.4 599.9,97.4 605.6,94.3 611.2,94.2 616.8,100.3 622.5,97.8 628.1,98.6 633.7,104.7"/>
<polyline points="526.7,108.4 532.3,105.5 538.0,101.4 543.6,96.5 549.2,91.9 554.9,94.3 560.5,95.1 566.1,99.4 571.8,94.8 577.4,86.3 583.0,91.0 588.7,97.1 594.3,97.3 599.9,98.5 605.6,97.3 611.2,96.8 616.8,98.6 622.5,104.1 628.1,111.1 633.7,114.3"/>
<polyline points="526.7,108.4 532.3,110.9 538.0,107.9 543.6,102.2 549.2,103.8 554.9,110.7 560.5,109.4 566.1,102.9 571.8,100.7 577.4,99.9 583.0,109.8 588.7,114.6 594.3,121.0 599.9,114.3 605.6,110.0 611.2,107.9 616.8,106.0 622.5,109.2 628.1,100.8 633.7,106.1"/>
<polyline points="526.7,108.4 532.3,108.0 538.0,109.7 543.6,107.9 549.2,108.2 554.9,112.3 560.5,110.1 566.1,106.1 571.8,109.3 577.4,110.9 583.0,108.6 588.7,110.8 594.3,112.2 599.9,112.4 605.6,112.8 611.2,112.1 616.8,117.4 622.5,120.0 628.1,118.6 633.7,116.7"/>
<polyline points="526.7,108.4 532.3,105.3 538.0,100.8 543.6,93.2 549.2,100.7 554.9,101.4 560.5,102.2 566.1,102.7 571.8,102.3 577.4,99.3 583.0,103.7 588.7,104.4 594.3,108.2 599.9,108.4 605.6,108.9 611.2,104.3 616.8,105.1 622.5,106.0 628.1,102.3 633.7,106.8"/>
<polyline points="526.7,108.4 532.3,101.1 538.0,94.9 543.6,102.3 549.2,96.7 554.9,92.4 560.5,96.1 566.1,90.7 571.8,83.7 577.4,93.1 583.0,94.3 588.7,94.5 594.3,91.7 599.9,83.0 605.6,86.4 611.2,91.3 616.8,97.3 622.5,103.3 628.1,104.2 633.7,109.7"/>
<polyline points="526.7,108.4 532.3,113.7 538.0,108.8 543.6,107.5 549.2,107.2 554.9,98.6 560.5,95.8 566.1,91.5 571.8,93.1 577.4,91.4 583.0,94.9 588.7,90.0 594.3,89.7 599.9,92.7 605.6,100.5 611.2,96.1 616.8,100.2 622.5,100.8 628.1,93.3 633.7,93.5"/>
<polyline points="526.7,108.4 532.3,115.5 538.0,122.2 543.6,119.0 549.2,119.3 554.9,118.3 560.5,119.1 566.1,119.2 571.8,122.2 577.4,116.3 583.0,116.6 588.7,115.3 594.3,110.5 599.9,113.4 605.6,115.8 611.2,110.8 616.8,109.7 622.5,112.6 628.1,113.9 633.7,113.5"/>
<polyline points="526.7,108.4 532.3,110.8 538.0,108.1 543.6,107.1 549.2,107.8 554.9,112.8 560.5,110.4 566.1,115.0 571.8,116.6 577.4,120.2 583.0,122.4 588.7,122.7 594.3,122.2 599.9,126.1 605.6,127.6 611.2,133.9 616.8,129.6 622.5,132.6 628.1,133.8 633.7,136.4"/>
<polyline points="526.7,108.4 532.3,102.9 538.0,99.5 543.6,100.7 549.2,110.8 554.9,114.0 560.5,109.0 566.1,111.2 571.8,114.6 577.4,108.7 583.0,109.4 588.7,104.8 594.3,101.6 599.9,101.0 605.6,98.1 611.2,95.9 616.8,97.0 622.5,92.3 628.1,91.5 633.7,95.9"/>
<polyline points="526.7,108.4 532.3,106.9 538.0,113.3 543.6,116.0 549.2,116.1 554.9,120.9 560.5,115.7 566.1,113.6 571.8,119.4 577.4,123.0 583.0,124.3 588.7,123.3 594.3,123.4 599.9,121.5 605.6,123.3 611.2,124.1 616.8,123.4 622.5,121.3 628.1,127.4 633.7,132.3"/>
<polyline points="526.7,108.4 532.3,115.0 538.0,113.9 543.6,110.2 549.2,108.8 554.9,111.3 560.5,118.3 566.1,125.4 571.8,123.5 577.4,118.6 583.0,115.0 588.7,117.2 594.3,120.4 599.9,124.4 605.6,129.7 611.2,128.7 616.8,130.4 622.5,126.3 628.1,132.4 633.7,123.3"/>
<polyline points="526.7,108.4 532.3,109.4 538.0,108.6 543.6,108.1 549.2,108.6 554.9,111.2 560.5,111.5 566.1,113.5 571.8,116.1 577.4,122.8 583.0,120.6 588.7,125.1 594.3,122.0 599.9,120.1 605.6,115.7 611.2,122.1 616.8,115.2 622.5,117.3 628.1,123.3 633.7,123.7"/>
<polyline points="526.7,108.4 532.3,103.6 538.0,111.2 543.6,114.3 549.2,115.1 554.9,116.9 560.5,117.9 566.1,119.0 571.8,119.2 577.4,121.3 583.0,120.5 588.7,111.1 594.3,115.6 599.9,114.5 605.6,112.8 611.2,106.6 616.8,95.8 622.5,92.1 628.1,99.3 633.7,96.4"/>
<polyline points="526.7,108.4 532.3,104.5 538.0,104.3 543.6,102.8 549.2,94.5 554.9,98.6 560.5,100.9 566.1,102.4 571.8,106.9 577.4,106.6 583.0,109.2 588.7,107.7 594.3,106.2 599.9,103.5 605.6,107.0 611.2,106.4 616.8,110.3 622.5,114.7 628.1,112.2 633.7,110.0"/>
<polyline points="526.7,108.4 532.3,112.3 538.0,116.4 543.6,114.9 549.2,112.8 554.9,117.3 560.5,112.5 566.1,117.8 571.8,119.4 577.4,119.9 583.0,122.0 588.7,123.3 594.3,118.4 599.9,116.9 605.6,116.6 611.2,121.6 616.8,122.0 622.5,122.2 628.1,121.1 633.7,118.3"/>
<polyline points="526.7,108.4 532.3,110.1 538.0,101.4 543.6,100.1 549.2,102.0 554.9,103.0 560.5,104.5 566.1,100.2 571.8,99.1 577.4,100.6 583.0,95.4 588.7,87.1 594.3,80.4 599.9,79.2 605.6,77.8 611.2,77.9 616.8,77.8 622.5,81.1 628.1,78.7 633.7,79.1"/>
<polyline points="526.7,108.4 532.3,110.5 538.0,109.8 543.6,105.5 549.2,106.6 554.9,107.2 560.5,107.3 566.1,105.2 571.8,103.1 577.4,111.2 583.0,115.9 588.7,118.4 594.3,122.3 599.9,123.2 605.6,125.6 611.2,127.8 616.8,127.3 622.5,130.1 628.1,129.2 633.7,126.3"/>
<polyline points="526.7,108.4 532.3,103.7 538.0,105.5 543.6,103.2 549.2,101.7 554.9,100.4 560.5,100.2 566.1,93.6 571.8,91.4 577.4,88.3 583.0,81.8 588.7,82.8 594.3,78.2 599.9,70.7 605.6,65.4 611.2,74.5 616.8,67.4 622.5,65.1 628.1,58.4 633.7,56.0"/>
<polyline points="526.7,108.4 532.3,111.8 538.0,116.0 543.6,114.7 549.2,115.4 554.9,108.4 560.5,104.3 566.1,101.4 571.8,98.3 577.4,99.8 583.0,103.2 588.7,104.1 594.3,102.3 599.9,110.7 605.6,105.6 611.2,105.5 616.8,107.7 622.5,109.2 628.1,109.4 633.7,102.1"/>
<polyline points="526.7,108.4 532.3,108.0 538.0,110.7 543.6,114.8 549.2,119.0 554.9,121.3 560.5,116.3 566.1,116.2 571.8,117.4 577.4,115.3 583.0,116.2 588.7,118.4 594.3,122.6 599.9,121.9 605.6,125.5 611.2,120.1 616.8,119.4 622.5,119.1 628.1,117.0 633.7,110.7"/>
<polyline points="526.7,108.4 532.3,106.5 538.0,111.2 543.6,106.8 549.2,111.5 554.9,103.7 560.5,105.8 566.1,103.7 571.8,99.2 577.4,96.5 583.0,90.8 588.7,83.7 594.3,83.7 599.9,77.3 605.6,75.1 611.2,82.2 616.8,75.8 622.5,73.3 628.1,74.4 633.7,67.2"/>
<polyline points="526.7,108.4 532.3,108.0 538.0,112.7 543.6,110.9 549.2,110.9 554.9,122.6 560.5,119.5 566.1,118.6 571.8,123.4 577.4,122.5 583.0,121.6 588.7,124.4 594.3,123.3 599.9,121.6 605.6,116.2 611.2,121.6 616.8,122.7 622.5,119.8 628.1,121.3 633.7,123.3"/>
<polyline points="526.7,108.4 532.3,113.7 538.0,111.0 543.6,102.5 549.2,94.2 554.9,97.3 560.5,104.0 566.1,97.4 571.8,94.4 577.4,95.8 583.0,85.3 588.7,79.9 594.3,87.6 599.9,79.2 605.6,87.9 611.2,86.0 616.8,80.4 622.5,81.5 628.1,87.9 633.7,83.9"/>
<polyline points="526.7,108.4 532.3,109.8 538.0,107.3 543.6,104.1 549.2,106.3 554.9,105.7 560.5,108.7 566.1,113.4 571.8,117.2 577.4,114.6 583.0,117.1 588.7,114.2 594.3,114.5 599.9,104.2 605.6,104.6 611.2,102.9 616.8,101.3 622.5,102.4 628.1,105.1 633.7,106.6"/>
<polyline points="526.7,108.4 532.3,108.3 538.0,116.1 543.6,121.4 549.2,122.2 554.9,124.7 560.5,130.6 566.1,123.3 571.8,121.7 577.4,125.8 583.0,123.1 588.7,125.2 594.3,124.2 599.9,129.4 605.6,133.9 611.2,135.0 616.8,135.2 622.5,143.8 628.1,141.9 633.7,143.2"/>
<polyline points="526.7,108.4 532.3,114.5 538.0,116.0 543.6,112.4 549.2,110.6 554.9,118.2 560.5,119.6 566.1,119.0 571.8,118.9 577.4,118.0 583.0,114.7 588.7,108.9 594.3,109.9 599.9,112.2 605.6,112.3 611.2,104.0 616.8,104.5 622.5,107.5 628.1,103.3 633.7,112.6"/>
<polyline points="526.7,108.4 532.3,109.7 538.0,104.4 543.6,105.7 549.2,103.2 554.9,98.8 560.5,89.6 566.1,84.1 571.8,81.1 577.4,76.2 583.0,75.1 588.7,66.7 594.3,66.1 599.9,66.8 605.6,70.9 611.2,64.4 616.8,57.4 622.5,62.3 628.1,56.0 633.7,62.4"/>
<polyline points="526.7,108.4 532.3,110.3 538.0,106.4 543.6,101.0 549.2,99.2 554.9,104.2 560.5,107.5 566.1,107.3 571.8,110.0 577.4,113.9 583.0,112.7 588.7,112.9 594.3,126.2 599.9,123.5 605.6,114.3 611.2,115.7 616.8,120.7 622.5,122.0 628.1,119.9 633.7,114.9"/>
<polyline points="526.7,108.4 532.3,111.5 538.0,112.2 543.6,111.6 549.2,107.8 554.9,101.7 560.5,102.3 566.1,100.5 571.8,98.6 577.4,100.9 583.0,104.4 588.7,94.9 594.3,92.6 599.9,96.8 605.6,93.5 611.2,94.0 616.8,89.5 622.5,83.3 628.1,81.6 633.7,77.9"/>
<polyline points="526.7,108.4 532.3,109.1 538.0,118.1 543.6,121.1 549.2,119.5 554.9,120.4 560.5,124.5 566.1,124.5 571.8,121.0 577.4,121.6 583.0,123.0 588.7,118.8 594.3,119.2 599.9,118.7 605.6,117.7 611.2,122.9 616.8,124.1 622.5,115.4 628.1,114.1 633.7,114.2"/>
<polyline points="526.7,108.4 532.3,108.1 538.0,105.9 543.6,104.0 549.2,103.7 554.9,102.9 560.5,100.2 566.1,109.6 571.8,110.2 577.4,116.7 583.0,115.5 588.7,115.0 594.3,110.8 599.9,113.7 605.6,112.1 611.2,107.2 616.8,108.0 622.5,112.1 628.1,114.5 633.7,116.3"/>
<polyline points="526.7,108.4 532.3,111.1 538.0,115.2 543.6,114.2 549.2,116.5 554.9,121.1 560.5,119.5 566.1,118.8 571.8,120.7 577.4,116.4 583.0,114.4 588.7,105.4 594.3,105.6 599.9,109.1 605.6,107.2 611.2,102.5 616.8,112.5 622.5,113.5 628.1,108.4 633.7,110.9"/>
<polyline points="526.7,108.4 532.3,112.3 538.0,115.7 543.6,116.9 549.2,116.9 554.9,115.5 560.5,112.0 566.1,108.0 571.8,112.0 577.4,111.1 583.0,107.8 588.7,106.0 594.3,111.3 599.9,112.2 605.6,113.4 611.2,115.7 616.8,117.1 622.5,116.2 628.1,116.9 633.7,116.8"/>
<polyline points="526.7,108.4 532.3,108.5 538.0,106.9 543.6,109.2 549.2,109.5 554.9,109.6 560.5,107.7 566.1,106.9 571.8,101.8 577.4,103.6 583.0,110.1 588.7,108.9 594.3,108.8 599.9,109.4 605.6,110.4 611.2,112.0 616.8,110.8 622.5,113.5 628.1,116.7 633.7,122.5"/>
<polyline points="526.7,108.4 532.3,108.0 538.0,102.3 543.6,95.9 549.2,90.8 554.9,92.0 560.5,94.8 566.1,104.1 571.8,99.2 577.4,100.0 583.0,92.6 588.7,93.9 594.3,97.5 599.9,95.4 605.6,96.2 611.2,96.7 616.8,87.4 622.5,93.6 628.1,87.2 633.7,87.3"/>
<polyline points="526.7,108.4 532.3,112.2 538.0,108.0 543.6,108.4 549.2,114.4 554.9,116.9 560.5,114.6 566.1,104.7 571.8,101.8 577.4,105.9 583.0,105.2 588.7,108.0 594.3,115.5 599.9,111.8 605.6,115.2 611.2,116.5 616.8,109.2 622.5,114.7 628.1,118.1 633.7,123.8"/>
<polyline points="526.7,108.4 532.3,114.4 538.0,117.6 543.6,117.8 549.2,115.4 554.9,116.5 560.5,120.9 566.1,117.4 571.8,110.4 577.4,111.2 583.0,115.8 588.7,123.0 594.3,121.4 599.9,123.1 605.6,127.0 611.2,128.7 616.8,128.2 622.5,125.3 628.1,121.1 633.7,114.9"/>
<polyline points="526.7,108.4 532.3,112.9 538.0,110.7 543.6,107.0 549.2,108.6 554.9,113.3 560.5,109.2 566.1,110.2 571.8,100.3 577.4,95.0 583.0,89.1 588.7,86.8 594.3,83.4 599.9,88.6 605.6,82.1 611.2,80.6 616.8,78.5 622.5,73.2 628.1,72.7 633.7,74.4"/>
<polyline points="526.7,108.4 532.3,106.5 538.0,101.5 543.6,101.0 549.2,104.3 554.9,104.4 560.5,107.7 566.1,106.0 571.8,108.2 577.4,110.7 583.0,114.3 588.7,120.0 594.3,126.2 599.9,123.5 605.6,123.6 611.2,122.9 616.8,121.2 622.5,119.4 628.1,119.6 633.7,121.3"/>
<polyline points="526.7,108.4 532.3,112.4 538.0,111.3 543.6,116.5 549.2,120.6 554.9,120.0 560.5,118.0 566.1,116.6 571.8,116.8 577.4,123.8 583.0,123.2 588.7,123.4 594.3,123.0 599.9,121.6 605.6,119.6 611.2,123.0 616.8,120.8 622.5,120.1 628.1,115.1 633.7,112.5"/>
<polyline points="526.7,108.4 532.3,117.0 538.0,117.8 543.6,113.3 549.2,112.2 554.9,115.2 560.5,115.5 566.1,118.0 571.8,119.4 577.4,118.5 583.0,116.2 588.7,120.4 594.3,128.0 599.9,118.0 605.6,122.4 611.2,117.5 616.8,120.8 622.5,119.1 628.1,116.2 633.7,114.3"/>
<polyline points="526.7,108.4 532.3,110.1 538.0,106.9 543.6,112.1 549.2,116.5 554.9,115.2 560.5,111.8 566.1,115.1 571.8,107.9 577.4,112.0 583.0,114.9 588.7,115.7 594.3,121.0 599.9,119.2 605.6,116.8 611.2,111.7 616.8,110.0 622.5,114.6 628.1,112.0 633.7,113.6"/>
<polyline points="526.7,108.4 532.3,110.1 538.0,109.7 543.6,114.8 549.2,107.9 554.9,106.4 560.5,110.3 566.1,109.7 571.8,110.7 577.4,116.2 583.0,118.5 588.7,123.2 594.3,117.6 599.9,117.3 605.6,117.0 611.2,111.4 616.8,115.8 622.5,110.9 628.1,110.7 633.7,106.3"/>
<polyline points="526.7,108.4 532.3,109.5 538.0,104.4 543.6,106.6 549.2,106.8 554.9,105.0 560.5,109.9 566.1,103.3 571.8,104.4 577.4,100.3 583.0,104.8 588.7,101.2 594.3,97.2 599.9,96.9 605.6,101.7 611.2,95.3 616.8,88.5 622.5,87.1 628.1,84.8 633.7,88.4"/>
<polyline points="526.7,108.4 532.3,110.6 538.0,107.9 543.6,99.7 549.2,97.2 554.9,102.8 560.5,101.2 566.1,105.4 571.8,108.2 577.4,104.7 583.0,104.0 588.7,102.4 594.3,105.8 599.9,105.8 605.6,106.1 611.2,107.8 616.8,101.6 622.5,101.3 628.1,98.9 633.7,94.1"/>
<polyline points="526.7,108.4 532.3,108.0 538.0,106.7 543.6,105.9 549.2,106.9 554.9,102.4 560.5,104.8 566.1,110.5 571.8,111.1 577.4,109.2 583.0,110.2 588.7,114.5 594.3,114.2 599.9,113.9 605.6,111.2 611.2,117.0 616.8,114.8 622.5,120.7 628.1,125.8 633.7,122.2"/>
<polyline points="526.7,108.4 532.3,108.7 538.0,113.3 543.6,111.4 549.2,108.2 554.9,107.6 560.5,108.8 566.1,113.8 571.8,117.4 577.4,115.7 583.0,117.2 588.7,119.9 594.3,121.0 599.9,122.4 605.6,122.6 611.2,123.2 616.8,120.6 622.5,120.3 628.1,123.3 633.7,125.4"/>
<polyline points="526.7,108.4 532.3,106.6 538.0,112.7 543.6,105.1 549.2,106.0 554.9,101.4 560.5,109.7 566.1,106.1 571.8,111.9 577.4,108.4 583.0,111.9 588.7,103.7 594.3,104.0 599.9,107.1 605.6,107.7 611.2,110.8 616.8,115.3 622.5,114.5 628.1,114.9 633.7,119.2"/>
<polyline points="526.7,108.4 532.3,110.7 538.0,109.4 543.6,111.1 549.2,109.7 554.9,115.7 560.5,117.2 566.1,119.2 571.8,116.6 577.4,116.7 583.0,115.8 588.7,114.6 594.3,111.4 599.9,113.7 605.6,112.2 611.2,114.0 616.8,117.1 622.5,119.2 628.1,122.9 633.7,122.1"/>
<polyline points="526.7,108.4 532.3,111.7 538.0,117.6 543.6,116.4 549.2,115.0 554.9,115.7 560.5,115.5 566.1,120.1 571.8,113.0 577.4,112.8 583.0,113.0 588.7,114.2 594.3,119.2 599.9,121.9 605.6,121.8 611.2,124.6 616.8,132.0 622.5,131.3 628.1,132.2 633.7,134.3"/>
<polyline points="526.7,108.4 532.3,109.4 538.0,106.6 543.6,103.4 549.2,100.7 554.9,93.2 560.5,93.0 566.1,90.8 571.8,95.1 577.4,90.5 583.0,94.2 588.7,99.1 594.3,99.2 599.9,95.9 605.6,96.4 611.2,94.1 616.8,92.2 622.5,94.5 628.1,83.0 633.7,86.8"/>
<polyline points="526.7,108.4 532.3,105.6 538.0,104.2 543.6,108.7 549.2,104.7 554.9,105.7 560.5,112.6 566.1,114.5 571.8,114.4 577.4,119.8 583.0,116.1 588.7,113.3 594.3,112.2 599.9,108.3 605.6,107.1 611.2,106.1 616.8,105.1 622.5,108.7 628.1,107.9 633.7,106.6"/>
<polyline points="526.7,108.4 532.3,107.2 538.0,112.9 543.6,115.2 549.2,109.3 554.9,99.9 560.5,102.0 566.1,109.1 571.8,109.3 577.4,109.1 583.0,106.4 588.7,115.1 594.3,120.3 599.9,120.6 605.6,118.5 611.2,123.8 616.8,120.1 622.5,122.3 628.1,125.4 633.7,122.8"/>
<polyline points="526.7,108.4 532.3,112.6 538.0,117.4 543.6,118.7 549.2,119.6 554.9,121.8 560.5,125.2 566.1,124.8 571.8,124.7 577.4,128.2 583.0,131.9 588.7,126.4 594.3,124.0 599.9,129.1 605.6,131.3 611.2,132.6 616.8,129.9 622.5,131.7 628.1,128.8 633.7,129.9"/>
<polyline points="526.7,108.4 532.3,103.4 538.0,104.6 543.6,103.8 549.2,97.8 554.9,102.2 560.5,105.2 566.1,103.3 571.8,102.6 577.4,100.5 583.0,98.6 588.7,102.0 594.3,109.2 599.9,111.9 605.6,111.4 611.2,109.8 616.8,108.2 622.5,110.5 628.1,111.3 633.7,110.3"/>
<polyline points="526.7,108.4 532.3,116.5 538.0,113.2 543.6,118.7 549.2,124.1 554.9,117.3 560.5,121.1 566.1,122.8 571.8,117.8 577.4,120.3 583.0,120.3 588.7,118.3 594.3,116.4 599.9,114.5 605.6,114.9 611.2,119.5 616.8,119.5 622.5,124.1 628.1,122.8 633.7,128.0"/>
<polyline points="526.7,108.4 532.3,110.6 538.0,107.6 543.6,110.3 549.2,114.3 554.9,109.0 560.5,114.3 566.1,103.7 571.8,102.4 577.4,105.1 583.0,100.3 588.7,101.1 594.3,100.0 599.9,96.1 605.6,88.0 611.2,86.4 616.8,83.0 622.5,78.8 628.1,79.1 633.7,82.7"/>
</g>
<g fill="none" stroke="#ff0000" stroke-opacity="0.45" stroke-width="1.0" stroke-linejoin="round">
<polyline points="526.7,108.4 532.3,106.8 538.0,104.3 543.6,103.9 549.2,109.0 554.9,106.2 560.5,100.7 566.1,103.8 571.8,105.3 577.4,99.2 583.0,97.9 588.7,95.9 594.3,96.9 599.9,96.1 605.6,98.4 611.2,98.4 616.8,100.8 622.5,96.4 628.1,91.0 633.7,100.6"/>
<polyline points="526.7,108.4 532.3,107.2 538.0,104.5 543.6,107.6 549.2,109.8 554.9,107.1 560.5,106.7 566.1,108.7 571.8,115.3 577.4,120.5 583.0,119.7 588.7,119.7 594.3,122.5 599.9,117.7 605.6,118.3 611.2,114.6 616.8,111.1 622.5,103.7 628.1,101.7 633.7,106.3"/>
<polyline points="526.7,108.4 532.3,106.3 538.0,106.4 543.6,100.1 549.2,102.2 554.9,104.4 560.5,107.1 566.1,103.7 571.8,98.8 577.4,94.2 583.0,87.6 588.7,97.6 594.3,100.2 599.9,104.8 605.6,101.1 611.2,102.9 616.8,104.2 622.5,102.7 628.1,102.7 633.7,109.9"/>
<polyline points="526.7,108.4 532.3,102.6 538.0,104.2 543.6,103.4 549.2,112.4 554.9,113.6 560.5,107.2 566.1,105.2 571.8,107.4 577.4,109.1 583.0,115.5 588.7,114.6 594.3,116.3 599.9,116.2 605.6,117.7 611.2,118.0 616.8,118.9 622.5,116.3 628.1,117.0 633.7,111.3"/>
<polyline points="526.7,108.4 532.3,111.7 538.0,113.8 543.6,112.3 549.2,110.5 554.9,110.8 560.5,109.7 566.1,106.9 571.8,109.7 577.4,104.2 583.0,107.0 588.7,101.9 594.3,102.3 599.9,106.5 605.6,112.7 611.2,105.5 616.8,110.2 622.5,112.5 628.1,109.6 633.7,113.4"/>
<polyline points="526.7,108.4 532.3,100.5 538.0,92.9 543.6,85.1 549.2,79.7 554.9,76.7 560.5,69.2 566.1,66.1 571.8,58.9 577.4,50.5 583.0,48.9 588.7,46.1 594.3,41.2 599.9,45.6 605.6,36.9 611.2,25.8 616.8,32.4 622.5,30.3 628.1,28.6 633.7,25.9"/>
<polyline points="526.7,108.4 532.3,105.0 538.0,106.7 543.6,109.2 549.2,104.8 554.9,105.6 560.5,105.9 566.1,109.0 571.8,114.9 577.4,112.7 583.0,111.4 588.7,109.0 594.3,111.6 599.9,114.8 605.6,112.2 611.2,109.0 616.8,105.5 622.5,94.9 628.1,98.9 633.7,103.5"/>
<polyline points="526.7,108.4 532.3,110.2 538.0,113.3 543.6,110.3 549.2,111.2 554.9,111.0 560.5,110.2 566.1,103.0 571.8,96.2 577.4,89.2 583.0,94.0 588.7,92.1 594.3,82.2 599.9,83.4 605.6,90.6 611.2,85.0 616.8,85.1 622.5,87.3 628.1,77.8 633.7,80.6"/>
<polyline points="526.7,108.4 532.3,112.7 538.0,107.3 543.6,102.0 549.2,104.3 554.9,101.2 560.5,108.4 566.1,111.3 571.8,117.3 577.4,116.7 583.0,114.9 588.7,115.0 594.3,113.5 599.9,114.8 605.6,115.2 611.2,118.0 616.8,115.5 622.5,111.7 628.1,100.6 633.7,95.5"/>
<polyline points="526.7,108.4 532.3,109.2 538.0,111.6 543.6,110.3 549.2,107.9 554.9,107.6 560.5,104.7 566.1,103.9 571.8,103.1 577.4,90.3 583.0,89.1 588.7,84.3 594.3,82.2 599.9,71.3 605.6,73.5 611.2,64.1 616.8,65.4 622.5,68.3 628.1,70.4 633.7,60.8"/>
<polyline points="526.7,108.4 532.3,110.9 538.0,104.2 543.6,106.1 549.2,101.0 554.9,105.2 560.5,106.5 566.1,99.7 571.8,97.7 577.4,93.0 583.0,90.1 588.7,82.1 594.3,90.5 599.9,94.8 605.6,95.2 611.2,91.8 616.8,88.1 622.5,83.6 628.1,89.2 633.7,86.4"/>
<polyline points="526.7,108.4 532.3,100.5 538.0,100.2 543.6,105.7 549.2,98.9 554.9,96.5 560.5,98.8 566.1,100.7 571.8,98.3 577.4,94.1 583.0,88.9 588.7,86.0 594.3,82.2 599.9,78.4 605.6,77.9 611.2,71.8 616.8,71.6 622.5,72.5 628.1,70.7 633.7,67.8"/>
<polyline points="526.7,108.4 532.3,109.4 538.0,112.4 543.6,118.0 549.2,111.2 554.9,114.1 560.5,113.1 566.1,113.0 571.8,113.9 577.4,108.7 583.0,111.7 588.7,112.3 594.3,113.4 599.9,107.3 605.6,106.2 611.2,105.7 616.8,104.5 622.5,95.9 628.1,88.0 633.7,78.0"/>
<polyline points="526.7,108.4 532.3,111.9 538.0,109.2 543.6,109.0 549.2,108.5 554.9,103.3 560.5,102.5 566.1,99.9 571.8,104.7 577.4,100.8 583.0,96.0 588.7,102.2 594.3,105.1 599.9,102.4 605.6,93.1 611.2,95.4 616.8,96.2 622.5,92.7 628.1,85.6 633.7,86.8"/>
<polyline points="526.7,108.4 532.3,114.7 538.0,111.4 543.6,109.3 549.2,108.3 554.9,115.9 560.5,120.4 566.1,122.1 571.8,120.7 577.4,119.6 583.0,113.7 588.7,105.0 594.3,101.2 599.9,105.5 605.6,108.2 611.2,104.0 616.8,107.4 622.5,101.7 628.1,99.5 633.7,98.7"/>
<polyline points="526.7,108.4 532.3,106.8 538.0,105.5 543.6,106.4 549.2,105.9 554.9,100.2 560.5,103.4 566.1,96.3 571.8,95.7 577.4,104.5 583.0,104.2 588.7,100.8 594.3,95.9 599.9,97.4 605.6,98.6 611.2,95.1 616.8,99.3 622.5,93.4 628.1,86.7 633.7,84.2"/>
<polyline points="526.7,108.4 532.3,114.4 538.0,111.7 543.6,113.6 549.2,116.0 554.9,108.1 560.5,114.2 566.1,111.5 571.8,104.7 577.4,91.6 583.0,91.1 588.7,88.7 594.3,76.7 599.9,84.6 605.6,83.0 611.2,83.3 616.8,80.1 622.5,83.0 628.1,83.3 633.7,73.4"/>
<polyline points="526.7,108.4 532.3,105.0 538.0,107.2 543.6,107.4 549.2,104.5 554.9,101.0 560.5,94.0 566.1,86.3 571.8,88.0 577.4,86.7 583.0,83.4 588.7,83.4 594.3,75.6 599.9,74.3 605.6,81.1 611.2,80.9 616.8,86.9 622.5,100.4 628.1,97.6 633.7,100.1"/>
<polyline points="526.7,108.4 532.3,100.4 538.0,99.8 543.6,96.2 549.2,95.9 554.9,87.3 560.5,84.4 566.1,78.7 571.8,76.0 577.4,68.6 583.0,65.1 588.7,60.5 594.3,65.4 599.9,55.7 605.6,57.0 611.2,60.4 616.8,60.1 622.5,63.3 628.1,64.0 633.7,52.9"/>
<polyline points="526.7,108.4 532.3,107.8 538.0,107.5 543.6,107.3 549.2,107.6 554.9,103.9 560.5,100.9 566.1,98.4 571.8,97.3 577.4,97.5 583.0,93.2 588.7,92.8 594.3,88.8 599.9,82.3 605.6,81.8 611.2,85.9 616.8,87.9 622.5,85.5 628.1,85.4 633.7,87.4"/>
<polyline points="526.7,108.4 532.3,104.7 538.0,97.4 543.6,93.8 549.2,94.0 554.9,90.6 560.5,83.7 566.1,83.4 571.8,78.6 577.4,80.3 583.0,91.3 588.7,89.5 594.3,92.1 599.9,88.9 605.6,87.8 611.2,85.1 616.8,79.9 622.5,75.9 628.1,74.5 633.7,74.0"/>
<polyline points="526.7,108.4 532.3,101.5 538.0,103.0 543.6,96.6 549.2,97.6 554.9,92.4 560.5,98.2 566.1,90.2 571.8,94.3 577.4,89.5 583.0,93.6 588.7,89.2 594.3,90.3 599.9,86.9 605.6,84.5 611.2,83.3 616.8,81.3 622.5,78.0 628.1,75.6 633.7,70.2"/>
<polyline points="526.7,108.4 532.3,109.1 538.0,108.8 543.6,106.2 549.2,105.5 554.9,107.7 560.5,110.1 566.1,106.8 571.8,97.5 577.4,99.2 583.0,102.5 588.7,101.7 594.3,100.9 599.9,102.6 605.6,93.7 611.2,79.1 616.8,78.2 622.5,79.0 628.1,79.6 633.7,73.3"/>
<polyline points="526.7,108.4 532.3,109.6 538.0,117.4 543.6,118.6 549.2,118.1 554.9,116.7 560.5,105.1 566.1,99.2 571.8,99.0 577.4,99.4 583.0,103.1 588.7,104.7 594.3,103.4 599.9,104.4 605.6,101.0 611.2,100.5 616.8,102.2 622.5,99.4 628.1,98.4 633.7,100.1"/>
<polyline points="526.7,108.4 532.3,104.6 538.0,101.9 543.6,98.9 549.2,97.6 554.9,97.2 560.5,94.8 566.1,95.6 571.8,94.1 577.4,100.9 583.0,103.6 588.7,104.8 594.3,99.8 599.9,96.4 605.6,96.4 611.2,90.9 616.8,90.7 622.5,84.5 628.1,87.1 633.7,83.4"/>
<polyline points="526.7,108.4 532.3,106.2 538.0,104.7 543.6,101.9 549.2,95.9 554.9,100.5 560.5,104.0 566.1,100.8 571.8,98.2 577.4,106.5 583.0,102.0 588.7,103.7 594.3,100.4 599.9,100.6 605.6,97.6 611.2,100.2 616.8,103.6 622.5,106.0 628.1,98.7 633.7,92.4"/>
<polyline points="526.7,108.4 532.3,109.5 538.0,106.9 543.6,107.7 549.2,108.8 554.9,110.0 560.5,113.5 566.1,114.4 571.8,116.3 577.4,113.1 583.0,103.8 588.7,90.7 594.3,87.1 599.9,87.5 605.6,89.0 611.2,87.2 616.8,86.9 622.5,80.2 628.1,74.8 633.7,70.8"/>
<polyline points="526.7,108.4 532.3,107.4 538.0,106.8 543.6,105.4 549.2,106.4 554.9,104.4 560.5,99.7 566.1,94.6 571.8,103.5 577.4,106.6 583.0,104.8 588.7,102.9 594.3,100.9 599.9,102.5 605.6,100.9 611.2,94.8 616.8,87.3 622.5,85.1 628.1,84.3 633.7,84.9"/>
<polyline points="526.7,108.4 532.3,106.0 538.0,109.5 543.6,105.6 549.2,103.6 554.9,98.3 560.5,94.4 566.1,87.7 571.8,88.3 577.4,81.1 583.0,83.3 588.7,77.9 594.3,77.6 599.9,81.8 605.6,82.1 611.2,89.3 616.8,96.5 622.5,93.1 628.1,98.9 633.7,103.1"/>
<polyline points="526.7,108.4 532.3,104.7 538.0,98.8 543.6,106.1 549.2,95.3 554.9,96.9 560.5,93.0 566.1,88.6 571.8,90.5 577.4,94.0 583.0,79.2 588.7,71.5 594.3,70.9 599.9,74.7 605.6,72.2 611.2,54.5 616.8,55.1 622.5,56.6 628.1,60.1 633.7,62.0"/>
<polyline points="526.7,108.4 532.3,105.7 538.0,101.6 543.6,95.3 549.2,84.5 554.9,85.4 560.5,94.5 566.1,92.1 571.8,84.8 577.4,87.1 583.0,87.7 588.7,92.3 594.3,94.4 599.9,91.3 605.6,82.0 611.2,75.5 616.8,74.0 622.5,69.4 628.1,67.4 633.7,58.7"/>
<polyline points="526.7,108.4 532.3,110.4 538.0,109.3 543.6,108.5 549.2,102.3 554.9,100.5 560.5,96.2 566.1,99.5 571.8,102.1 577.4,89.2 583.0,102.3 588.7,100.9 594.3,99.3 599.9,102.0 605.6,103.4 611.2,100.9 616.8,99.7 622.5,101.2 628.1,96.0 633.7,92.8"/>
<polyline points="526.7,108.4 532.3,108.5 538.0,109.4 543.6,109.8 549.2,109.0 554.9,108.6 560.5,105.1 566.1,96.3 571.8,102.7 577.4,102.2 583.0,93.3 588.7,85.3 594.3,80.0 599.9,85.6 605.6,85.0 611.2,84.8 616.8,78.5 622.5,86.7 628.1,83.7 633.7,79.3"/>
<polyline points="526.7,108.4 532.3,110.1 538.0,102.6 543.6,100.6 549.2,103.9 554.9,118.6 560.5,116.2 566.1,114.8 571.8,113.0 577.4,104.9 583.0,110.0 588.7,109.4 594.3,98.3 599.9,100.5 605.6,96.3 611.2,100.9 616.8,93.8 622.5,83.8 628.1,89.8 633.7,94.3"/>
<polyline points="526.7,108.4 532.3,104.6 538.0,96.2 543.6,93.3 549.2,94.4 554.9,91.3 560.5,89.0 566.1,91.8 571.8,95.1 577.4,93.8 583.0,96.3 588.7,90.3 594.3,87.8 599.9,88.1 605.6,81.9 611.2,78.6 616.8,78.1 622.5,73.8 628.1,78.8 633.7,70.2"/>
<polyline points="526.7,108.4 532.3,109.9 538.0,117.0 543.6,115.5 549.2,112.7 554.9,102.2 560.5,101.7 566.1,102.0 571.8,103.2 577.4,106.0 583.0,106.2 588.7,92.2 594.3,84.7 599.9,89.0 605.6,96.5 611.2,95.9 616.8,94.2 622.5,82.9 628.1,86.0 633.7,82.4"/>
<polyline points="526.7,108.4 532.3,106.1 538.0,105.9 543.6,104.5 549.2,102.8 554.9,105.3 560.5,108.6 566.1,108.9 571.8,112.5 577.4,104.9 583.0,100.9 588.7,99.4 594.3,95.6 599.9,89.9 605.6,87.7 611.2,86.6 616.8,80.5 622.5,79.8 628.1,78.5 633.7,76.9"/>
<polyline points="526.7,108.4 532.3,106.5 538.0,101.8 543.6,96.1 549.2,93.8 554.9,95.5 560.5,96.2 566.1,89.9 571.8,91.6 577.4,86.1 583.0,82.0 588.7,77.6 594.3,77.1 599.9,83.1 605.6,85.3 611.2,83.6 616.8,76.6 622.5,76.3 628.1,69.2 633.7,64.6"/>
<polyline points="526.7,108.4 532.3,106.3 538.0,109.0 543.6,109.9 549.2,107.7 554.9,103.8 560.5,98.5 566.1,100.7 571.8,89.2 577.4,89.4 583.0,91.6 588.7,91.4 594.3,86.4 599.9,79.8 605.6,79.3 611.2,76.5 616.8,67.3 622.5,60.4 628.1,48.3 633.7,52.7"/>
<polyline points="526.7,108.4 532.3,105.9 538.0,107.4 543.6,106.5 549.2,110.1 554.9,110.1 560.5,103.6 566.1,105.6 571.8,100.8 577.4,97.9 583.0,100.0 588.7,101.2 594.3,102.1 599.9,105.6 605.6,106.3 611.2,103.1 616.8,99.2 622.5,101.2 628.1,98.3 633.7,92.6"/>
<polyline points="526.7,108.4 532.3,101.8 538.0,103.0 543.6,100.6 549.2,96.4 554.9,98.1 560.5,100.0 566.1,99.2 571.8,96.8 577.4,95.8 583.0,92.7 588.7,96.1 594.3,90.5 599.9,97.2 605.6,100.2 611.2,96.6 616.8,99.2 622.5,104.9 628.1,104.9 633.7,103.1"/>
<polyline points="526.7,108.4 532.3,106.1 538.0,100.5 543.6,104.3 549.2,106.1 554.9,105.1 560.5,113.4 566.1,111.8 571.8,106.8 577.4,109.6 583.0,101.9 588.7,105.9 594.3,107.2 599.9,107.9 605.6,102.7 611.2,97.3 616.8,95.3 622.5,93.8 628.1,91.0 633.7,97.5"/>
<polyline points="526.7,108.4 532.3,112.1 538.0,109.2 543.6,100.8 549.2,96.3 554.9,92.4 560.5,89.1 566.1,85.0 571.8,83.1 577.4,87.0 583.0,84.3 588.7,83.5 594.3,84.7 599.9,80.4 605.6,81.5 611.2,72.9 616.8,60.0 622.5,66.3 628.1,63.8 633.7,60.0"/>
<polyline points="526.7,108.4 532.3,108.5 538.0,115.2 543.6,118.3 549.2,111.3 554.9,106.0 560.5,110.1 566.1,113.8 571.8,110.6 577.4,110.7 583.0,109.0 588.7,106.3 594.3,110.9 599.9,110.1 605.6,110.5 611.2,111.1 616.8,117.8 622.5,118.9 628.1,118.2 633.7,120.4"/>
<polyline points="526.7,108.4 532.3,102.9 538.0,96.9 543.6,104.1 549.2,97.1 554.9,92.8 560.5,91.5 566.1,91.7 571.8,91.0 577.4,88.9 583.0,86.1 588.7,84.5 594.3,81.6 599.9,86.6 605.6,82.0 611.2,77.5 616.8,72.1 622.5,69.0 628.1,64.8 633.7,59.9"/>
<polyline points="526.7,108.4 532.3,106.6 538.0,105.7 543.6,107.8 549.2,105.9 554.9,106.6 560.5,110.1 566.1,111.4 571.8,110.3 577.4,114.5 583.0,118.9 588.7,117.5 594.3,112.1 599.9,112.1 605.6,116.9 611.2,108.3 616.8,110.3 622.5,109.9 628.1,111.9 633.7,109.9"/>
<polyline points="526.7,108.4 532.3,106.3 538.0,98.7 543.6,94.7 549.2,101.0 554.9,102.3 560.5,99.4 566.1,108.2 571.8,108.7 577.4,109.2 583.0,102.2 588.7,100.5 594.3,99.9 599.9,104.3 605.6,102.5 611.2,102.6 616.8,92.5 622.5,90.8 628.1,91.3 633.7,84.1"/>
<polyline points="526.7,108.4 532.3,111.6 538.0,105.8 543.6,102.6 549.2,103.0 554.9,104.5 560.5,109.3 566.1,98.6 571.8,89.4 577.4,89.3 583.0,84.3 588.7,75.5 594.3,73.5 599.9,70.6 605.6,63.2 611.2,68.8 616.8,72.7 622.5,78.0 628.1,78.0 633.7,77.0"/>
<polyline points="526.7,108.4 532.3,101.3 538.0,98.4 543.6,96.1 549.2,91.4 554.9,89.5 560.5,82.7 566.1,78.1 571.8,79.7 577.4,78.5 583.0,73.2 588.7,77.3 594.3,77.0 599.9,77.4 605.6,72.1 611.2,71.0 616.8,70.2 622.5,66.0 628.1,56.8 633.7,51.7"/>
<polyline points="526.7,108.4 532.3,114.3 538.0,109.8 543.6,108.8 549.2,103.9 554.9,102.1 560.5,105.5 566.1,101.4 571.8,105.7 577.4,102.8 583.0,99.2 588.7,95.4 594.3,95.0 599.9,89.7 605.6,85.3 611.2,83.5 616.8,85.5 622.5,89.4 628.1,99.5 633.7,92.7"/>
<polyline points="526.7,108.4 532.3,105.5 538.0,108.3 543.6,111.7 549.2,107.7 554.9,114.8 560.5,107.5 566.1,109.8 571.8,111.4 577.4,108.5 583.0,100.0 588.7,97.1 594.3,90.8 599.9,92.9 605.6,85.3 611.2,85.4 616.8,77.7 622.5,77.8 628.1,81.2 633.7,82.0"/>
<polyline points="526.7,108.4 532.3,106.0 538.0,105.3 543.6,104.0 549.2,103.9 554.9,95.6 560.5,87.0 566.1,88.4 571.8,82.6 577.4,81.9 583.0,74.3 588.7,77.4 594.3,73.9 599.9,73.7 605.6,75.1 611.2,74.5 616.8,69.2 622.5,70.7 628.1,70.7 633.7,62.2"/>
<polyline points="526.7,108.4 532.3,106.9 538.0,104.2 543.6,103.5 549.2,103.9 554.9,102.0 560.5,94.2 566.1,98.0 571.8,93.3 577.4,91.8 583.0,93.4 588.7,97.8 594.3,95.3 599.9,89.2 605.6,94.3 611.2,90.0 616.8,78.9 622.5,71.3 628.1,64.1 633.7,63.2"/>
<polyline points="526.7,108.4 532.3,105.0 538.0,102.3 543.6,92.9 549.2,76.7 554.9,77.0 560.5,68.3 566.1,70.0 571.8,64.5 577.4,57.2 583.0,51.9 588.7,62.3 594.3,53.1 599.9,50.4 605.6,42.9 611.2,36.5 616.8,43.8 622.5,39.8 628.1,38.1 633.7,37.8"/>
<polyline points="526.7,108.4 532.3,100.6 538.0,99.8 543.6,96.7 549.2,98.9 554.9,98.7 560.5,96.0 566.1,93.3 571.8,90.9 577.4,82.0 583.0,72.5 588.7,66.3 594.3,64.0 599.9,60.2 605.6,61.9 611.2,48.1 616.8,51.9 622.5,56.8 628.1,56.0 633.7,43.1"/>
<polyline points="526.7,108.4 532.3,106.0 538.0,108.3 543.6,108.5 549.2,101.1 554.9,101.6 560.5,94.8 566.1,90.0 571.8,92.7 577.4,97.2 583.0,95.3 588.7,89.7 594.3,82.5 599.9,77.5 605.6,78.6 611.2,77.4 616.8,73.5 622.5,72.4 628.1,74.0 633.7,61.3"/>
<polyline points="526.7,108.4 532.3,115.4 538.0,113.3 543.6,115.2 549.2,116.0 554.9,115.1 560.5,111.9 566.1,110.1 571.8,109.0 577.4,108.8 583.0,106.3 588.7,103.0 594.3,104.5 599.9,106.9 605.6,108.8 611.2,105.8 616.8,101.1 622.5,94.2 628.1,88.1 633.7,89.6"/>
<polyline points="526.7,108.4 532.3,111.3 538.0,102.3 543.6,100.2 549.2,91.6 554.9,90.4 560.5,85.7 566.1,76.9 571.8,83.1 577.4,76.0 583.0,77.6 588.7,82.1 594.3,73.9 599.9,70.9 605.6,72.5 611.2,79.0 616.8,88.5 622.5,97.2 628.1,95.1 633.7,89.0"/>
<polyline points="526.7,108.4 532.3,112.2 538.0,113.3 543.6,110.2 549.2,115.1 554.9,114.0 560.5,115.8 566.1,115.2 571.8,113.2 577.4,111.6 583.0,115.8 588.7,111.0 594.3,115.4 599.9,109.2 605.6,109.4 611.2,102.5 616.8,95.7 622.5,101.2 628.1,104.8 633.7,109.8"/>
<polyline points="526.7,108.4 532.3,102.0 538.0,99.8 543.6,97.9 549.2,98.4 554.9,96.4 560.5,99.4 566.1,94.6 571.8,88.6 577.4,83.1 583.0,82.4 588.7,75.8 594.3,69.0 599.9,66.7 605.6,57.2 611.2,57.4 616.8,54.5 622.5,50.4 628.1,49.7 633.7,41.6"/>
<polyline points="526.7,108.4 532.3,110.5 538.0,104.7 543.6,96.0 549.2,94.0 554.9,86.3 560.5,82.1 566.1,81.7 571.8,88.1 577.4,83.7 583.0,87.2 588.7,86.8 594.3,77.5 599.9,73.7 605.6,73.9 611.2,77.9 616.8,82.9 622.5,82.0 628.1,77.8 633.7,78.2"/>
<polyline points="526.7,108.4 532.3,108.9 538.0,105.1 543.6,98.2 549.2,98.4 554.9,106.6 560.5,98.1 566.1,97.2 571.8,92.9 577.4,88.2 583.0,82.3 588.7,69.3 594.3,67.4 599.9,68.3 605.6,60.2 611.2,61.4 616.8,54.4 622.5,48.9 628.1,43.6 633.7,39.0"/>
<polyline points="526.7,108.4 532.3,108.8 538.0,111.6 543.6,107.4 549.2,109.2 554.9,104.8 560.5,98.3 566.1,97.7 571.8,99.9 577.4,102.4 583.0,99.1 588.7,104.7 594.3,105.6 599.9,101.8 605.6,103.3 611.2,104.0 616.8,105.7 622.5,105.9 628.1,104.8 633.7,102.7"/>
<polyline points="526.7,108.4 532.3,109.5 538.0,104.8 543.6,108.2 549.2,111.3 554.9,111.5 560.5,116.0 566.1,118.5 571.8,118.9 577.4,115.8 583.0,114.4 588.7,121.3 594.3,117.1 599.9,116.9 605.6,116.3 611.2,108.1 616.8,109.4 622.5,108.0 628.1,112.3 633.7,107.1"/>
<polyline points="526.7,108.4 532.3,104.8 538.0,105.6 543.6,107.0 549.2,110.5 554.9,105.2 560.5,103.9 566.1,108.7 571.8,105.7 577.4,99.4 583.0,102.0 588.7,103.4 594.3,94.8 599.9,88.3 605.6,87.1 611.2,96.5 616.8,97.5 622.5,98.8 628.1,97.1 633.7,97.3"/>
<polyline points="526.7,108.4 532.3,112.9 538.0,113.6 543.6,106.7 549.2,109.4 554.9,112.6 560.5,108.9 566.1,103.7 571.8,103.5 577.4,89.1 583.0,91.1 588.7,85.3 594.3,79.4 599.9,78.6 605.6,80.4 611.2,75.2 616.8,77.8 622.5,74.6 628.1,75.0 633.7,78.1"/>
<polyline points="526.7,108.4 532.3,111.0 538.0,109.9 543.6,111.7 549.2,113.5 554.9,115.2 560.5,110.8 566.1,109.2 571.8,105.7 577.4,106.4 583.0,106.6 588.7,103.7 594.3,106.3 599.9,100.2 605.6,105.1 611.2,107.3 616.8,117.3 622.5,115.1 628.1,120.3 633.7,122.7"/>
<polyline points="526.7,108.4 532.3,102.0 538.0,100.9 543.6,105.7 549.2,104.0 554.9,102.5 560.5,101.5 566.1,101.0 571.8,100.8 577.4,96.7 583.0,92.0 588.7,89.3 594.3,85.8 599.9,87.8 605.6,75.1 611.2,82.6 616.8,84.5 622.5,86.6 628.1,88.7 633.7,82.8"/>
<polyline points="526.7,108.4 532.3,106.0 538.0,105.4 543.6,106.7 549.2,107.9 554.9,101.5 560.5,103.3 566.1,101.7 571.8,102.5 577.4,105.7 583.0,105.0 588.7,107.3 594.3,102.9 599.9,101.3 605.6,102.8 611.2,106.5 616.8,110.9 622.5,104.2 628.1,100.0 633.7,99.9"/>
<polyline points="526.7,108.4 532.3,105.5 538.0,109.5 543.6,115.2 549.2,116.6 554.9,118.7 560.5,113.6 566.1,118.9 571.8,116.6 577.4,117.6 583.0,114.2 588.7,110.5 594.3,106.7 599.9,103.8 605.6,98.1 611.2,91.6 616.8,94.1 622.5,90.0 628.1,91.4 633.7,96.8"/>
<polyline points="526.7,108.4 532.3,106.3 538.0,109.1 543.6,104.6 549.2,108.4 554.9,108.7 560.5,110.6 566.1,105.8 571.8,109.3 577.4,100.2 583.0,98.3 588.7,98.8 594.3,92.6 599.9,97.2 605.6,102.3 611.2,99.7 616.8,93.5 622.5,94.4 628.1,90.4 633.7,84.5"/>
<polyline points="526.7,108.4 532.3,111.2 538.0,107.3 543.6,114.3 549.2,111.4 554.9,113.2 560.5,103.6 566.1,98.9 571.8,103.7 577.4,105.0 583.0,107.0 588.7,103.4 594.3,101.1 599.9,97.0 605.6,93.4 611.2,92.5 616.8,94.9 622.5,89.6 628.1,89.0 633.7,93.3"/>
<polyline points="526.7,108.4 532.3,112.3 538.0,111.4 543.6,112.9 549.2,104.6 554.9,101.7 560.5,106.7 566.1,106.4 571.8,101.6 577.4,102.3 583.0,96.0 588.7,95.5 594.3,99.4 599.9,92.1 605.6,94.0 611.2,93.6 616.8,95.8 622.5,92.4 628.1,93.3 633.7,85.6"/>
<polyline points="526.7,108.4 532.3,107.1 538.0,107.7 543.6,105.3 549.2,96.6 554.9,103.2 560.5,97.7 566.1,100.3 571.8,108.6 577.4,115.6 583.0,117.3 588.7,112.6 594.3,107.2 599.9,101.8 605.6,101.6 611.2,97.1 616.8,92.7 622.5,86.1 628.1,87.5 633.7,86.3"/>
<polyline points="526.7,108.4 532.3,111.2 538.0,111.3 543.6,109.3 549.2,110.5 554.9,111.0 560.5,107.7 566.1,111.8 571.8,115.3 577.4,116.2 583.0,118.2 588.7,120.9 594.3,124.6 599.9,122.4 605.6,123.8 611.2,124.9 616.8,123.4 622.5,116.5 628.1,112.5 633.7,113.6"/>
<polyline points="526.7,108.4 532.3,108.8 538.0,112.2 543.6,102.6 549.2,96.9 554.9,97.9 560.5,101.0 566.1,99.3 571.8,101.6 577.4,100.3 583.0,104.7 588.7,101.0 594.3,105.5 599.9,106.0 605.6,101.8 611.2,99.5 616.8,101.6 622.5,96.3 628.1,96.5 633.7,92.5"/>
<polyline points="526.7,108.4 532.3,103.7 538.0,102.4 543.6,105.9 549.2,104.9 554.9,103.0 560.5,99.4 566.1,97.6 571.8,103.8 577.4,106.9 583.0,104.6 588.7,101.9 594.3,95.9 599.9,98.3 605.6,100.7 611.2,102.2 616.8,101.7 622.5,106.7 628.1,105.1 633.7,107.0"/>
<polyline points="526.7,108.4 532.3,109.0 538.0,101.8 543.6,101.3 549.2,98.7 554.9,104.7 560.5,99.9 566.1,101.1 571.8,91.4 577.4,91.0 583.0,88.0 588.7,85.1 594.3,86.6 599.9,85.8 605.6,80.4 611.2,74.3 616.8,67.2 622.5,69.0 628.1,64.7 633.7,57.7"/>
<polyline points="526.7,108.4 532.3,111.3 538.0,108.1 543.6,110.1 549.2,112.4 554.9,111.5 560.5,115.7 566.1,104.7 571.8,111.5 577.4,112.5 583.0,112.3 588.7,109.3 594.3,110.9 599.9,107.5 605.6,109.5 611.2,108.5 616.8,107.2 622.5,111.0 628.1,110.5 633.7,108.4"/>
<polyline points="526.7,108.4 532.3,105.1 538.0,104.7 543.6,100.3 549.2,103.6 554.9,100.5 560.5,102.7 566.1,101.3 571.8,98.2 577.4,92.0 583.0,93.3 588.7,91.2 594.3,94.4 599.9,97.7 605.6,91.9 611.2,89.9 616.8,87.4 622.5,80.7 628.1,88.5 633.7,87.4"/>
<polyline points="526.7,108.4 532.3,112.3 538.0,105.0 543.6,109.0 549.2,112.9 554.9,116.1 560.5,119.5 566.1,123.8 571.8,121.0 577.4,117.7 583.0,121.4 588.7,121.9 594.3,118.8 599.9,116.7 605.6,112.1 611.2,113.5 616.8,116.6 622.5,114.1 628.1,99.7 633.7,95.7"/>
<polyline points="526.7,108.4 532.3,98.7 538.0,96.6 543.6,87.5 549.2,81.0 554.9,79.5 560.5,78.8 566.1,70.1 571.8,69.1 577.4,64.1 583.0,53.3 588.7,48.5 594.3,41.0 599.9,41.9 605.6,39.9 611.2,32.6 616.8,32.0 622.5,32.2 628.1,33.2 633.7,31.4"/>
<polyline points="526.7,108.4 532.3,105.5 538.0,107.2 543.6,112.3 549.2,115.8 554.9,108.5 560.5,106.3 566.1,101.5 571.8,98.8 577.4,104.1 583.0,95.6 588.7,98.5 594.3,97.6 599.9,102.2 605.6,93.4 611.2,94.8 616.8,89.3 622.5,88.2 628.1,83.7 633.7,79.0"/>
<polyline points="526.7,108.4 532.3,105.8 538.0,105.2 543.6,105.4 549.2,108.3 554.9,100.7 560.5,101.4 566.1,103.0 571.8,99.0 577.4,94.6 583.0,88.2 588.7,95.6 594.3,93.5 599.9,100.2 605.6,97.5 611.2,89.7 616.8,85.2 622.5,87.0 628.1,90.4 633.7,90.8"/>
<polyline points="526.7,108.4 532.3,104.8 538.0,104.8 543.6,106.0 549.2,102.6 554.9,101.7 560.5,98.7 566.1,100.6 571.8,95.5 577.4,95.9 583.0,96.7 588.7,91.2 594.3,88.5 599.9,83.8 605.6,81.7 611.2,78.6 616.8,79.3 622.5,84.2 628.1,86.0 633.7,89.5"/>
<polyline points="526.7,108.4 532.3,104.3 538.0,104.6 543.6,102.0 549.2,93.3 554.9,95.4 560.5,95.4 566.1,103.1 571.8,96.1 577.4,91.8 583.0,92.0 588.7,88.5 594.3,81.4 599.9,75.0 605.6,76.7 611.2,65.1 616.8,64.1 622.5,65.6 628.1,61.6 633.7,57.3"/>
<polyline points="526.7,108.4 532.3,104.1 538.0,106.9 543.6,102.0 549.2,97.3 554.9,101.2 560.5,103.2 566.1,103.6 571.8,99.8 577.4,95.1 583.0,93.6 588.7,92.5 594.3,90.0 599.9,93.4 605.6,93.7 611.2,90.6 616.8,86.9 622.5,86.1 628.1,87.2 633.7,92.1"/>
<polyline points="526.7,108.4 532.3,110.4 538.0,107.4 543.6,106.8 549.2,99.4 554.9,100.9 560.5,101.7 566.1,106.0 571.8,110.7 577.4,111.6 583.0,109.7 588.7,103.8 594.3,106.2 599.9,105.6 605.6,102.8 611.2,106.9 616.8,101.5 622.5,106.0 628.1,104.0 633.7,107.7"/>
<polyline points="526.7,108.4 532.3,99.2 538.0,103.1 543.6,104.4 549.2,97.1 554.9,95.2 560.5,94.9 566.1,96.4 571.8,93.9 577.4,92.5 583.0,95.8 588.7,84.6 594.3,78.5 599.9,79.4 605.6,76.0 611.2,65.5 616.8,59.9 622.5,60.0 628.1,56.3 633.7,50.9"/>
<polyline points="526.7,108.4 532.3,112.6 538.0,101.1 543.6,99.7 549.2,92.9 554.9,92.6 560.5,88.0 566.1,91.0 571.8,91.4 577.4,97.5 583.0,95.7 588.7,88.9 594.3,95.0 599.9,102.5 605.6,99.4 611.2,103.4 616.8,105.1 622.5,101.3 628.1,100.6 633.7,98.8"/>
<polyline points="526.7,108.4 532.3,113.2 538.0,111.1 543.6,109.3 549.2,110.8 554.9,113.2 560.5,114.0 566.1,113.1 571.8,100.0 577.4,98.6 583.0,100.6 588.7,101.7 594.3,102.6 599.9,103.8 605.6,102.1 611.2,94.7 616.8,89.6 622.5,84.7 628.1,81.3 633.7,77.5"/>
<polyline points="526.7,108.4 532.3,106.2 538.0,102.3 543.6,104.4 549.2,104.4 554.9,97.3 560.5,90.8 566.1,88.2 571.8,92.1 577.4,83.5 583.0,86.7 588.7,86.4 594.3,81.5 599.9,85.3 605.6,76.6 611.2,83.0 616.8,80.2 622.5,78.8 628.1,77.4 633.7,80.5"/>
<polyline points="526.7,108.4 532.3,106.6 538.0,106.6 543.6,104.6 549.2,105.0 554.9,103.3 560.5,107.0 566.1,106.1 571.8,103.5 577.4,93.8 583.0,91.1 588.7,95.4 594.3,86.0 599.9,85.6 605.6,85.4 611.2,83.4 616.8,85.5 622.5,92.4 628.1,89.3 633.7,91.8"/>
<polyline points="526.7,108.4 532.3,109.9 538.0,106.9 543.6,107.3 549.2,107.9 554.9,99.2 560.5,94.1 566.1,91.0 571.8,89.1 577.4,81.3 583.0,76.7 588.7,73.6 594.3,65.1 599.9,63.3 605.6,54.9 611.2,54.1 616.8,48.4 622.5,53.1 628.1,48.8 633.7,45.6"/>
<polyline points="526.7,108.4 532.3,109.1 538.0,106.2 543.6,106.4 549.2,108.2 554.9,114.5 560.5,117.5 566.1,114.1 571.8,116.4 577.4,113.4 583.0,113.1 588.7,110.5 594.3,112.5 599.9,117.3 605.6,112.7 611.2,111.6 616.8,115.4 622.5,115.7 628.1,118.1 633.7,113.7"/>
<polyline points="526.7,108.4 532.3,109.2 538.0,109.3 543.6,107.0 549.2,101.6 554.9,105.4 560.5,99.4 566.1,93.1 571.8,94.1 577.4,88.5 583.0,92.3 588.7,87.2 594.3,76.3 599.9,89.0 605.6,84.9 611.2,78.7 616.8,78.6 622.5,91.6 628.1,93.2 633.7,98.1"/>
<polyline points="526.7,108.4 532.3,98.9 538.0,95.4 543.6,95.7 549.2,91.1 554.9,93.6 560.5,93.5 566.1,97.4 571.8,95.6 577.4,93.0 583.0,91.9 588.7,90.0 594.3,78.9 599.9,83.1 605.6,79.3 611.2,75.4 616.8,71.9 622.5,75.8 628.1,75.4 633.7,76.2"/>
<polyline points="526.7,108.4 532.3,107.7 538.0,106.1 543.6,105.9 549.2,102.4 554.9,105.8 560.5,109.8 566.1,111.4 571.8,105.8 577.4,99.7 583.0,96.4 588.7,91.4 594.3,94.6 599.9,87.0 605.6,84.9 611.2,81.0 616.8,86.8 622.5,81.5 628.1,81.2 633.7,78.0"/>
<polyline points="526.7,108.4 532.3,102.0 538.0,95.1 543.6,99.6 549.2,95.6 554.9,97.6 560.5,98.4 566.1,95.3 571.8,96.7 577.4,95.7 583.0,85.5 588.7,80.9 594.3,82.8 599.9,82.8 605.6,74.6 611.2,69.6 616.8,70.7 622.5,75.7 628.1,70.7 633.7,63.9"/>
<polyline points="526.7,108.4 532.3,98.9 538.0,99.2 543.6,90.6 549.2,88.3 554.9,87.5 560.5,88.3 566.1,93.6 571.8,81.6 577.4,80.0 583.0,81.9 588.7,81.7 594.3,78.2 599.9,70.4 605.6,63.1 611.2,64.2 616.8,65.0 622.5,64.2 628.1,68.1 633.7,74.8"/>
</g>
</g>
<clipPath id="c4"><rect x="521.6" y="10.4" width="117.5" height="146.79999999999998"/></clipPath>
<rect x="521.6" y="10.4" width="117.00" height="146.79999999999998" fill="none" stroke="#000" stroke-width="0.9"/>
<line x1="519.1" y1="154.68" x2="521.6" y2="154.68" stroke="#000" stroke-width="0.9"/>
<line x1="519.1" y1="131.54" x2="521.6" y2="131.54" stroke="#000" stroke-width="0.9"/>
<line x1="519.1" y1="108.40" x2="521.6" y2="108.40" stroke="#000" stroke-width="0.9"/>
<line x1="519.1" y1="85.26" x2="521.6" y2="85.26" stroke="#000" stroke-width="0.9"/>
<line x1="519.1" y1="62.12" x2="521.6" y2="62.12" stroke="#000" stroke-width="0.9"/>
<line x1="519.1" y1="38.98" x2="521.6" y2="38.98" stroke="#000" stroke-width="0.9"/>
<line x1="519.1" y1="15.84" x2="521.6" y2="15.84" stroke="#000" stroke-width="0.9"/>
<line x1="526.70" y1="157.2" x2="526.70" y2="159.7" stroke="#000" stroke-width="0.9"/>
<line x1="554.87" y1="157.2" x2="554.87" y2="159.7" stroke="#000" stroke-width="0.9"/>
<line x1="583.03" y1="157.2" x2="583.03" y2="159.7" stroke="#000" stroke-width="0.9"/>
<line x1="611.20" y1="157.2" x2="611.20" y2="159.7" stroke="#000" stroke-width="0.9"/>
<rect x="172.4" y="211.7" width="303.9" height="225.8" fill="none" stroke="#000" stroke-width="0.9"/>
<line x1="169.4" y1="256.20" x2="172.4" y2="256.20" stroke="#000" stroke-width="0.9"/>
<line x1="169.4" y1="302.20" x2="172.4" y2="302.20" stroke="#000" stroke-width="0.9"/>
<line x1="169.4" y1="348.20" x2="172.4" y2="348.20" stroke="#000" stroke-width="0.9"/>
<line x1="169.4" y1="394.20" x2="172.4" y2="394.20" stroke="#000" stroke-width="0.9"/>
<line x1="170.6" y1="426.35" x2="172.4" y2="426.35" stroke="#000" stroke-width="0.7"/>
<line x1="170.6" y1="418.25" x2="172.4" y2="418.25" stroke="#000" stroke-width="0.7"/>
<line x1="170.6" y1="412.51" x2="172.4" y2="412.51" stroke="#000" stroke-width="0.7"/>
<line x1="170.6" y1="408.05" x2="172.4" y2="408.05" stroke="#000" stroke-width="0.7"/>
<line x1="170.6" y1="404.41" x2="172.4" y2="404.41" stroke="#000" stroke-width="0.7"/>
<line x1="170.6" y1="401.33" x2="172.4" y2="401.33" stroke="#000" stroke-width="0.7"/>
<line x1="170.6" y1="398.66" x2="172.4" y2="398.66" stroke="#000" stroke-width="0.7"/>
<line x1="170.6" y1="396.30" x2="172.4" y2="396.30" stroke="#000" stroke-width="0.7"/>
<line x1="170.6" y1="380.35" x2="172.4" y2="380.35" stroke="#000" stroke-width="0.7"/>
<line x1="170.6" y1="372.25" x2="172.4" y2="372.25" stroke="#000" stroke-width="0.7"/>
<line x1="170.6" y1="366.51" x2="172.4" y2="366.51" stroke="#000" stroke-width="0.7"/>
<line x1="170.6" y1="362.05" x2="172.4" y2="362.05" stroke="#000" stroke-width="0.7"/>
<line x1="170.6" y1="358.41" x2="172.4" y2="358.41" stroke="#000" stroke-width="0.7"/>
<line x1="170.6" y1="355.33" x2="172.4" y2="355.33" stroke="#000" stroke-width="0.7"/>
<line x1="170.6" y1="352.66" x2="172.4" y2="352.66" stroke="#000" stroke-width="0.7"/>
<line x1="170.6" y1="350.30" x2="172.4" y2="350.30" stroke="#000" stroke-width="0.7"/>
<line x1="170.6" y1="334.35" x2="172.4" y2="334.35" stroke="#000" stroke-width="0.7"/>
<line x1="170.6" y1="326.25" x2="172.4" y2="326.25" stroke="#000" stroke-width="0.7"/>
<line x1="170.6" y1="320.51" x2="172.4" y2="320.51" stroke="#000" stroke-width="0.7"/>
<line x1="170.6" y1="316.05" x2="172.4" y2="316.05" stroke="#000" stroke-width="0.7"/>
<line x1="170.6" y1="312.41" x2="172.4" y2="312.41" stroke="#000" stroke-width="0.7"/>
<line x1="170.6" y1="309.33" x2="172.4" y2="309.33" stroke="#000" stroke-width="0.7"/>
<line x1="170.6" y1="306.66" x2="172.4" y2="306.66" stroke="#000" stroke-width="0.7"/>
<line x1="170.6" y1="304.30" x2="172.4" y2="304.30" stroke="#000" stroke-width="0.7"/>
<line x1="170.6" y1="288.35" x2="172.4" y2="288.35" stroke="#000" stroke-width="0.7"/>
<line x1="170.6" y1="280.25" x2="172.4" y2="280.25" stroke="#000" stroke-width="0.7"/>
<line x1="170.6" y1="274.51" x2="172.4" y2="274.51" stroke="#000" stroke-width="0.7"/>
<line x1="170.6" y1="270.05" x2="172.4" y2="270.05" stroke="#000" stroke-width="0.7"/>
<line x1="170.6" y1="266.41" x2="172.4" y2="266.41" stroke="#000" stroke-width="0.7"/>
<line x1="170.6" y1="263.33" x2="172.4" y2="263.33" stroke="#000" stroke-width="0.7"/>
<line x1="170.6" y1="260.66" x2="172.4" y2="260.66" stroke="#000" stroke-width="0.7"/>
<line x1="170.6" y1="258.30" x2="172.4" y2="258.30" stroke="#000" stroke-width="0.7"/>
<line x1="170.6" y1="242.35" x2="172.4" y2="242.35" stroke="#000" stroke-width="0.7"/>
<line x1="170.6" y1="234.25" x2="172.4" y2="234.25" stroke="#000" stroke-width="0.7"/>
<line x1="170.6" y1="228.51" x2="172.4" y2="228.51" stroke="#000" stroke-width="0.7"/>
<line x1="170.6" y1="224.05" x2="172.4" y2="224.05" stroke="#000" stroke-width="0.7"/>
<line x1="170.6" y1="220.41" x2="172.4" y2="220.41" stroke="#000" stroke-width="0.7"/>
<line x1="170.6" y1="217.33" x2="172.4" y2="217.33" stroke="#000" stroke-width="0.7"/>
<line x1="170.6" y1="214.66" x2="172.4" y2="214.66" stroke="#000" stroke-width="0.7"/>
<line x1="170.6" y1="212.30" x2="172.4" y2="212.30" stroke="#000" stroke-width="0.7"/>
<line x1="186.20" y1="437.5" x2="186.20" y2="440.5" stroke="#000" stroke-width="0.9"/>
<line x1="241.46" y1="437.5" x2="241.46" y2="440.5" stroke="#000" stroke-width="0.9"/>
<line x1="296.72" y1="437.5" x2="296.72" y2="440.5" stroke="#000" stroke-width="0.9"/>
<line x1="351.98" y1="437.5" x2="351.98" y2="440.5" stroke="#000" stroke-width="0.9"/>
<line x1="407.24" y1="437.5" x2="407.24" y2="440.5" stroke="#000" stroke-width="0.9"/>
<line x1="462.50" y1="437.5" x2="462.50" y2="440.5" stroke="#000" stroke-width="0.9"/>
<polyline points="186.2,384.3 255.3,251.0 324.3,236.3 393.4,228.1 462.5,221.7" fill="none" stroke="#1f77b4" stroke-width="1.75" stroke-linejoin="round"/>
<circle cx="186.2" cy="384.3" r="2.3" fill="#1f77b4"/>
<circle cx="255.3" cy="251.0" r="2.3" fill="#1f77b4"/>
<circle cx="324.3" cy="236.35" r="2.3" fill="#1f77b4"/>
<circle cx="393.4" cy="228.1" r="2.3" fill="#1f77b4"/>
<circle cx="462.5" cy="221.7" r="2.3" fill="#1f77b4"/>
<polyline points="186.2,427.3 255.3,314.6 324.3,281.6 393.4,268.4 462.5,261.3" fill="none" stroke="#ff7f0e" stroke-width="1.75" stroke-linejoin="round"/>
<circle cx="186.2" cy="427.3" r="2.3" fill="#ff7f0e"/>
<circle cx="255.3" cy="314.6" r="2.3" fill="#ff7f0e"/>
<circle cx="324.3" cy="281.6" r="2.3" fill="#ff7f0e"/>
<circle cx="393.4" cy="268.4" r="2.3" fill="#ff7f0e"/>
<circle cx="462.5" cy="261.3" r="2.3" fill="#ff7f0e"/>
<polyline points="186.2,408.2 255.3,326.4 324.3,311.6 393.4,303.1 462.5,296.9" fill="none" stroke="#2ca02c" stroke-width="1.75" stroke-linejoin="round"/>
<circle cx="186.2" cy="408.2" r="2.3" fill="#2ca02c"/>
<circle cx="255.3" cy="326.4" r="2.3" fill="#2ca02c"/>
<circle cx="324.3" cy="311.6" r="2.3" fill="#2ca02c"/>
<circle cx="393.4" cy="303.1" r="2.3" fill="#2ca02c"/>
<circle cx="462.5" cy="296.9" r="2.3" fill="#2ca02c"/>
<rect x="360.7" y="393.2" width="111.1" height="40.1" rx="1.5" fill="#fff" fill-opacity="0.8" stroke="#ccc" stroke-width="0.7"/>
<line x1="363.3" y1="400.5" x2="381.9" y2="400.5" stroke="#1f77b4" stroke-width="1.75"/>
<circle cx="372.6" cy="400.5" r="2.3" fill="#1f77b4"/>
<line x1="363.3" y1="413.0" x2="381.9" y2="413.0" stroke="#ff7f0e" stroke-width="1.75"/>
<circle cx="372.6" cy="413.0" r="2.3" fill="#ff7f0e"/>
<line x1="363.3" y1="425.3" x2="381.9" y2="425.3" stroke="#2ca02c" stroke-width="1.75"/>
<circle cx="372.6" cy="425.3" r="2.3" fill="#2ca02c"/>
</svg></div>
<svg id="tx" width="640" height="480" viewBox="0 0 640 480">
<text x="9.7" y="157.28" font-size="7.4" text-anchor="end">0.6</text>
<text x="9.7" y="134.14" font-size="7.4" text-anchor="end">0.8</text>
<text x="9.7" y="111.00" font-size="7.4" text-anchor="end">1.0</text>
<text x="9.7" y="87.86" font-size="7.4" text-anchor="end">1.2</text>
<text x="9.7" y="64.72" font-size="7.4" text-anchor="end">1.4</text>
<text x="9.7" y="41.58" font-size="7.4" text-anchor="end">1.6</text>
<text x="9.7" y="18.44" font-size="7.4" text-anchor="end">1.8</text>
<text x="19.35" y="167.0" font-size="7.4" text-anchor="middle">0</text>
<text x="47.52" y="167.0" font-size="7.4" text-anchor="middle">5</text>
<text x="75.68" y="167.0" font-size="7.4" text-anchor="middle">10</text>
<text x="103.84" y="167.0" font-size="7.4" text-anchor="middle">15</text>
<text x="36.15" y="6.2" font-size="8.6" textLength="72.6" lengthAdjust="spacingAndGlyphs"><tspan font-style="italic">θ</tspan><tspan font-size="5.5" dy="1.5">1</tspan><tspan dy="-1.5">=0.02; </tspan><tspan font-style="italic">θ</tspan><tspan font-size="5.5" dy="1.5">2</tspan><tspan dy="-1.5">=0.020</tspan></text>
<text x="146.35" y="167.0" font-size="7.4" text-anchor="middle">0</text>
<text x="174.51" y="167.0" font-size="7.4" text-anchor="middle">5</text>
<text x="202.68" y="167.0" font-size="7.4" text-anchor="middle">10</text>
<text x="230.84" y="167.0" font-size="7.4" text-anchor="middle">15</text>
<text x="162.88" y="6.2" font-size="8.6" textLength="72.6" lengthAdjust="spacingAndGlyphs"><tspan font-style="italic">θ</tspan><tspan font-size="5.5" dy="1.5">1</tspan><tspan dy="-1.5">=0.02; </tspan><tspan font-style="italic">θ</tspan><tspan font-size="5.5" dy="1.5">2</tspan><tspan dy="-1.5">=0.045</tspan></text>
<text x="273.20" y="167.0" font-size="7.4" text-anchor="middle">0</text>
<text x="301.37" y="167.0" font-size="7.4" text-anchor="middle">5</text>
<text x="329.53" y="167.0" font-size="7.4" text-anchor="middle">10</text>
<text x="357.69" y="167.0" font-size="7.4" text-anchor="middle">15</text>
<text x="289.50" y="6.2" font-size="8.6" textLength="72.6" lengthAdjust="spacingAndGlyphs"><tspan font-style="italic">θ</tspan><tspan font-size="5.5" dy="1.5">1</tspan><tspan dy="-1.5">=0.02; </tspan><tspan font-style="italic">θ</tspan><tspan font-size="5.5" dy="1.5">2</tspan><tspan dy="-1.5">=0.070</tspan></text>
<text x="400.00" y="167.0" font-size="7.4" text-anchor="middle">0</text>
<text x="428.17" y="167.0" font-size="7.4" text-anchor="middle">5</text>
<text x="456.33" y="167.0" font-size="7.4" text-anchor="middle">10</text>
<text x="484.50" y="167.0" font-size="7.4" text-anchor="middle">15</text>
<text x="416.38" y="6.2" font-size="8.6" textLength="72.6" lengthAdjust="spacingAndGlyphs"><tspan font-style="italic">θ</tspan><tspan font-size="5.5" dy="1.5">1</tspan><tspan dy="-1.5">=0.02; </tspan><tspan font-style="italic">θ</tspan><tspan font-size="5.5" dy="1.5">2</tspan><tspan dy="-1.5">=0.095</tspan></text>
<text x="526.70" y="167.0" font-size="7.4" text-anchor="middle">0</text>
<text x="554.87" y="167.0" font-size="7.4" text-anchor="middle">5</text>
<text x="583.03" y="167.0" font-size="7.4" text-anchor="middle">10</text>
<text x="611.20" y="167.0" font-size="7.4" text-anchor="middle">15</text>
<text x="542.90" y="6.2" font-size="8.6" textLength="72.6" lengthAdjust="spacingAndGlyphs"><tspan font-style="italic">θ</tspan><tspan font-size="5.5" dy="1.5">1</tspan><tspan dy="-1.5">=0.02; </tspan><tspan font-style="italic">θ</tspan><tspan font-size="5.5" dy="1.5">2</tspan><tspan dy="-1.5">=0.120</tspan></text>
<text x="165.1" y="260.00" font-size="9.5" text-anchor="end">10<tspan font-size="6.5" dy="-3.1">−1</tspan></text>
<text x="165.1" y="306.00" font-size="9.5" text-anchor="end">10<tspan font-size="6.5" dy="-3.1">−2</tspan></text>
<text x="165.1" y="352.00" font-size="9.5" text-anchor="end">10<tspan font-size="6.5" dy="-3.1">−3</tspan></text>
<text x="165.1" y="398.00" font-size="9.5" text-anchor="end">10<tspan font-size="6.5" dy="-3.1">−4</tspan></text>
<text x="186.20" y="450.3" font-size="9.5" text-anchor="middle">0.02</text>
<text x="241.46" y="450.3" font-size="9.5" text-anchor="middle">0.04</text>
<text x="296.72" y="450.3" font-size="9.5" text-anchor="middle">0.06</text>
<text x="351.98" y="450.3" font-size="9.5" text-anchor="middle">0.08</text>
<text x="407.24" y="450.3" font-size="9.5" text-anchor="middle">0.10</text>
<text x="462.50" y="450.3" font-size="9.5" text-anchor="middle">0.12</text>
<text x="324" y="462" font-size="9.5" text-anchor="middle"><tspan font-style="italic">θ</tspan><tspan font-size="6.5" dy="1.5">2</tspan></text>
<text x="187.25" y="205.5" font-size="10.5" textLength="273.6" lengthAdjust="spacingAndGlyphs">Distance between gbm processes with <tspan font-style="italic">θ</tspan><tspan font-size="7" dy="2">1</tspan><tspan dy="-2"> = 0.02 fixed</tspan></text>
<text x="388.1" y="403.3" font-size="9.5">w1-dist path space</text>
<text x="388.1" y="415.8" font-size="9.5">w1-dist sig space</text>
<text x="388.1" y="428.1" font-size="9.5">sigw1-dist</text>
</svg></body></html>
